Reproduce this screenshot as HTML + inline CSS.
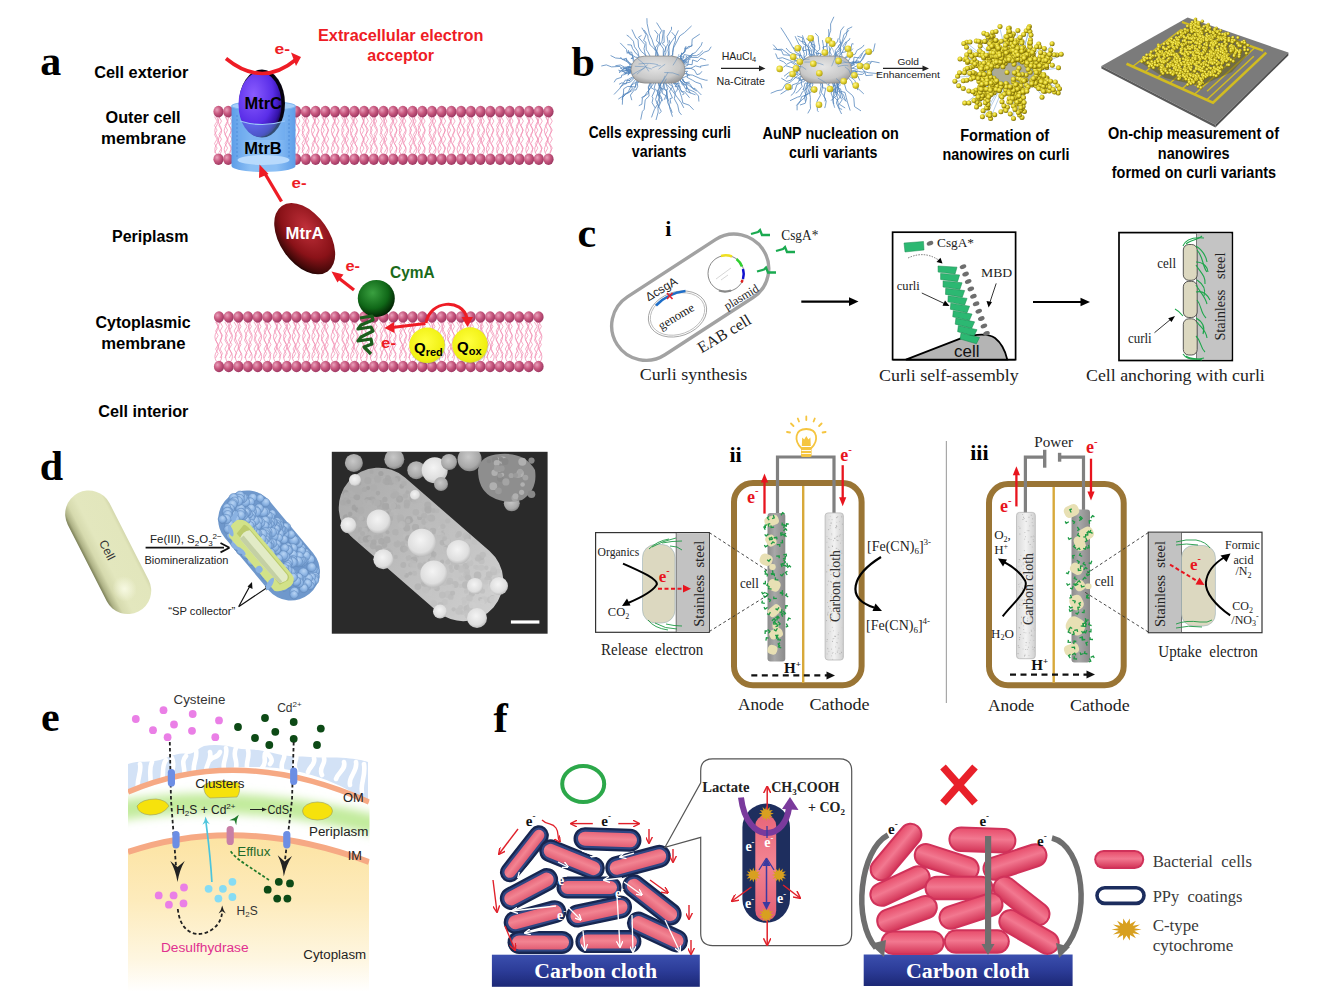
<!DOCTYPE html>
<html><head><meta charset="utf-8"><style>
html,body{margin:0;padding:0;background:#fff;}
svg{display:block;}
text{white-space:pre;}
</style></head><body>
<svg width="1323" height="1007" viewBox="0 0 1323 1007">
<rect width="1323" height="1007" fill="#fff"/>
<defs>
<radialGradient id="head" cx="0.35" cy="0.35" r="0.7">
 <stop offset="0" stop-color="#e9a0bb"/><stop offset="0.5" stop-color="#c8587f"/><stop offset="1" stop-color="#9a3560"/>
</radialGradient>
<radialGradient id="mtrc" cx="0.35" cy="0.35" r="0.75">
 <stop offset="0" stop-color="#8a5cff"/><stop offset="0.6" stop-color="#5a2ee8"/><stop offset="0.85" stop-color="#3412a8"/><stop offset="1" stop-color="#0a0420"/>
</radialGradient>
<radialGradient id="mtra" cx="0.4" cy="0.35" r="0.7">
 <stop offset="0" stop-color="#c0303a"/><stop offset="0.6" stop-color="#8a1218"/><stop offset="0.9" stop-color="#400808"/><stop offset="1" stop-color="#100000"/>
</radialGradient>
<radialGradient id="cyma" cx="0.4" cy="0.35" r="0.7">
 <stop offset="0" stop-color="#3aa040"/><stop offset="0.6" stop-color="#106818"/><stop offset="1" stop-color="#001800"/>
</radialGradient>
<radialGradient id="qball" cx="0.45" cy="0.4" r="0.65">
 <stop offset="0" stop-color="#ffff40"/><stop offset="0.8" stop-color="#f0f010"/><stop offset="1" stop-color="#d8d820"/>
</radialGradient>
<linearGradient id="cyl" x1="0" x2="1" y1="0" y2="0">
 <stop offset="0" stop-color="#5d9de8"/><stop offset="0.3" stop-color="#8cc0f5"/><stop offset="0.7" stop-color="#8cc0f5"/><stop offset="1" stop-color="#5d9de8"/>
</linearGradient>
<marker id="arrR" viewBox="0 0 10 10" refX="5" refY="5" markerWidth="3" markerHeight="3" orient="auto-start-reverse"><path d="M0,0 L10,5 L0,10 z" fill="#ee1c25"/></marker>
</defs>
<path d="M216.4,116.6 q3.2,4.7 0,9.4 q-3.2,4.7 0,9.4 q3.2,4.7 0,9.4 q-3.2,4.7 0,9.4" fill="none" stroke="#f08ab0" stroke-width="0.75"/>
<path d="M220.0,116.6 q-3.2,4.7 0,9.4 q3.2,4.7 0,9.4 q-3.2,4.7 0,9.4 q3.2,4.7 0,9.4" fill="none" stroke="#f08ab0" stroke-width="0.75"/>
<path d="M225.8,116.6 q3.2,4.7 0,9.4 q-3.2,4.7 0,9.4 q3.2,4.7 0,9.4 q-3.2,4.7 0,9.4" fill="none" stroke="#f08ab0" stroke-width="0.75"/>
<path d="M229.4,116.6 q-3.2,4.7 0,9.4 q3.2,4.7 0,9.4 q-3.2,4.7 0,9.4 q3.2,4.7 0,9.4" fill="none" stroke="#f08ab0" stroke-width="0.75"/>
<path d="M236.4,116.6 q3.2,4.7 0,9.4 q-3.2,4.7 0,9.4 q3.2,4.7 0,9.4 q-3.2,4.7 0,9.4" fill="none" stroke="#f08ab0" stroke-width="0.75"/>
<path d="M240.0,116.6 q-3.2,4.7 0,9.4 q3.2,4.7 0,9.4 q-3.2,4.7 0,9.4 q3.2,4.7 0,9.4" fill="none" stroke="#f08ab0" stroke-width="0.75"/>
<path d="M245.1,116.6 q3.2,4.7 0,9.4 q-3.2,4.7 0,9.4 q3.2,4.7 0,9.4 q-3.2,4.7 0,9.4" fill="none" stroke="#f08ab0" stroke-width="0.75"/>
<path d="M248.7,116.6 q-3.2,4.7 0,9.4 q3.2,4.7 0,9.4 q-3.2,4.7 0,9.4 q3.2,4.7 0,9.4" fill="none" stroke="#f08ab0" stroke-width="0.75"/>
<path d="M255.6,116.6 q3.2,4.7 0,9.4 q-3.2,4.7 0,9.4 q3.2,4.7 0,9.4 q-3.2,4.7 0,9.4" fill="none" stroke="#f08ab0" stroke-width="0.75"/>
<path d="M259.2,116.6 q-3.2,4.7 0,9.4 q3.2,4.7 0,9.4 q-3.2,4.7 0,9.4 q3.2,4.7 0,9.4" fill="none" stroke="#f08ab0" stroke-width="0.75"/>
<path d="M265.0,116.6 q3.2,4.7 0,9.4 q-3.2,4.7 0,9.4 q3.2,4.7 0,9.4 q-3.2,4.7 0,9.4" fill="none" stroke="#f08ab0" stroke-width="0.75"/>
<path d="M268.6,116.6 q-3.2,4.7 0,9.4 q3.2,4.7 0,9.4 q-3.2,4.7 0,9.4 q3.2,4.7 0,9.4" fill="none" stroke="#f08ab0" stroke-width="0.75"/>
<path d="M274.2,116.6 q3.2,4.7 0,9.4 q-3.2,4.7 0,9.4 q3.2,4.7 0,9.4 q-3.2,4.7 0,9.4" fill="none" stroke="#f08ab0" stroke-width="0.75"/>
<path d="M277.8,116.6 q-3.2,4.7 0,9.4 q3.2,4.7 0,9.4 q-3.2,4.7 0,9.4 q3.2,4.7 0,9.4" fill="none" stroke="#f08ab0" stroke-width="0.75"/>
<path d="M284.7,116.6 q3.2,4.7 0,9.4 q-3.2,4.7 0,9.4 q3.2,4.7 0,9.4 q-3.2,4.7 0,9.4" fill="none" stroke="#f08ab0" stroke-width="0.75"/>
<path d="M288.3,116.6 q-3.2,4.7 0,9.4 q3.2,4.7 0,9.4 q-3.2,4.7 0,9.4 q3.2,4.7 0,9.4" fill="none" stroke="#f08ab0" stroke-width="0.75"/>
<path d="M293.6,116.6 q3.2,4.7 0,9.4 q-3.2,4.7 0,9.4 q3.2,4.7 0,9.4 q-3.2,4.7 0,9.4" fill="none" stroke="#f08ab0" stroke-width="0.75"/>
<path d="M297.2,116.6 q-3.2,4.7 0,9.4 q3.2,4.7 0,9.4 q-3.2,4.7 0,9.4 q3.2,4.7 0,9.4" fill="none" stroke="#f08ab0" stroke-width="0.75"/>
<path d="M303.9,116.6 q3.2,4.7 0,9.4 q-3.2,4.7 0,9.4 q3.2,4.7 0,9.4 q-3.2,4.7 0,9.4" fill="none" stroke="#f08ab0" stroke-width="0.75"/>
<path d="M307.5,116.6 q-3.2,4.7 0,9.4 q3.2,4.7 0,9.4 q-3.2,4.7 0,9.4 q3.2,4.7 0,9.4" fill="none" stroke="#f08ab0" stroke-width="0.75"/>
<path d="M313.1,116.6 q3.2,4.7 0,9.4 q-3.2,4.7 0,9.4 q3.2,4.7 0,9.4 q-3.2,4.7 0,9.4" fill="none" stroke="#f08ab0" stroke-width="0.75"/>
<path d="M316.7,116.6 q-3.2,4.7 0,9.4 q3.2,4.7 0,9.4 q-3.2,4.7 0,9.4 q3.2,4.7 0,9.4" fill="none" stroke="#f08ab0" stroke-width="0.75"/>
<path d="M322.8,116.6 q3.2,4.7 0,9.4 q-3.2,4.7 0,9.4 q3.2,4.7 0,9.4 q-3.2,4.7 0,9.4" fill="none" stroke="#f08ab0" stroke-width="0.75"/>
<path d="M326.4,116.6 q-3.2,4.7 0,9.4 q3.2,4.7 0,9.4 q-3.2,4.7 0,9.4 q3.2,4.7 0,9.4" fill="none" stroke="#f08ab0" stroke-width="0.75"/>
<path d="M333.0,116.6 q3.2,4.7 0,9.4 q-3.2,4.7 0,9.4 q3.2,4.7 0,9.4 q-3.2,4.7 0,9.4" fill="none" stroke="#f08ab0" stroke-width="0.75"/>
<path d="M336.6,116.6 q-3.2,4.7 0,9.4 q3.2,4.7 0,9.4 q-3.2,4.7 0,9.4 q3.2,4.7 0,9.4" fill="none" stroke="#f08ab0" stroke-width="0.75"/>
<path d="M343.4,116.6 q3.2,4.7 0,9.4 q-3.2,4.7 0,9.4 q3.2,4.7 0,9.4 q-3.2,4.7 0,9.4" fill="none" stroke="#f08ab0" stroke-width="0.75"/>
<path d="M347.0,116.6 q-3.2,4.7 0,9.4 q3.2,4.7 0,9.4 q-3.2,4.7 0,9.4 q3.2,4.7 0,9.4" fill="none" stroke="#f08ab0" stroke-width="0.75"/>
<path d="M352.0,116.6 q3.2,4.7 0,9.4 q-3.2,4.7 0,9.4 q3.2,4.7 0,9.4 q-3.2,4.7 0,9.4" fill="none" stroke="#f08ab0" stroke-width="0.75"/>
<path d="M355.6,116.6 q-3.2,4.7 0,9.4 q3.2,4.7 0,9.4 q-3.2,4.7 0,9.4 q3.2,4.7 0,9.4" fill="none" stroke="#f08ab0" stroke-width="0.75"/>
<path d="M361.8,116.6 q3.2,4.7 0,9.4 q-3.2,4.7 0,9.4 q3.2,4.7 0,9.4 q-3.2,4.7 0,9.4" fill="none" stroke="#f08ab0" stroke-width="0.75"/>
<path d="M365.4,116.6 q-3.2,4.7 0,9.4 q3.2,4.7 0,9.4 q-3.2,4.7 0,9.4 q3.2,4.7 0,9.4" fill="none" stroke="#f08ab0" stroke-width="0.75"/>
<path d="M372.2,116.6 q3.2,4.7 0,9.4 q-3.2,4.7 0,9.4 q3.2,4.7 0,9.4 q-3.2,4.7 0,9.4" fill="none" stroke="#f08ab0" stroke-width="0.75"/>
<path d="M375.8,116.6 q-3.2,4.7 0,9.4 q3.2,4.7 0,9.4 q-3.2,4.7 0,9.4 q3.2,4.7 0,9.4" fill="none" stroke="#f08ab0" stroke-width="0.75"/>
<path d="M382.4,116.6 q3.2,4.7 0,9.4 q-3.2,4.7 0,9.4 q3.2,4.7 0,9.4 q-3.2,4.7 0,9.4" fill="none" stroke="#f08ab0" stroke-width="0.75"/>
<path d="M386.0,116.6 q-3.2,4.7 0,9.4 q3.2,4.7 0,9.4 q-3.2,4.7 0,9.4 q3.2,4.7 0,9.4" fill="none" stroke="#f08ab0" stroke-width="0.75"/>
<path d="M391.5,116.6 q3.2,4.7 0,9.4 q-3.2,4.7 0,9.4 q3.2,4.7 0,9.4 q-3.2,4.7 0,9.4" fill="none" stroke="#f08ab0" stroke-width="0.75"/>
<path d="M395.1,116.6 q-3.2,4.7 0,9.4 q3.2,4.7 0,9.4 q-3.2,4.7 0,9.4 q3.2,4.7 0,9.4" fill="none" stroke="#f08ab0" stroke-width="0.75"/>
<path d="M400.9,116.6 q3.2,4.7 0,9.4 q-3.2,4.7 0,9.4 q3.2,4.7 0,9.4 q-3.2,4.7 0,9.4" fill="none" stroke="#f08ab0" stroke-width="0.75"/>
<path d="M404.5,116.6 q-3.2,4.7 0,9.4 q3.2,4.7 0,9.4 q-3.2,4.7 0,9.4 q3.2,4.7 0,9.4" fill="none" stroke="#f08ab0" stroke-width="0.75"/>
<path d="M411.6,116.6 q3.2,4.7 0,9.4 q-3.2,4.7 0,9.4 q3.2,4.7 0,9.4 q-3.2,4.7 0,9.4" fill="none" stroke="#f08ab0" stroke-width="0.75"/>
<path d="M415.2,116.6 q-3.2,4.7 0,9.4 q3.2,4.7 0,9.4 q-3.2,4.7 0,9.4 q3.2,4.7 0,9.4" fill="none" stroke="#f08ab0" stroke-width="0.75"/>
<path d="M419.8,116.6 q3.2,4.7 0,9.4 q-3.2,4.7 0,9.4 q3.2,4.7 0,9.4 q-3.2,4.7 0,9.4" fill="none" stroke="#f08ab0" stroke-width="0.75"/>
<path d="M423.4,116.6 q-3.2,4.7 0,9.4 q3.2,4.7 0,9.4 q-3.2,4.7 0,9.4 q3.2,4.7 0,9.4" fill="none" stroke="#f08ab0" stroke-width="0.75"/>
<path d="M430.8,116.6 q3.2,4.7 0,9.4 q-3.2,4.7 0,9.4 q3.2,4.7 0,9.4 q-3.2,4.7 0,9.4" fill="none" stroke="#f08ab0" stroke-width="0.75"/>
<path d="M434.4,116.6 q-3.2,4.7 0,9.4 q3.2,4.7 0,9.4 q-3.2,4.7 0,9.4 q3.2,4.7 0,9.4" fill="none" stroke="#f08ab0" stroke-width="0.75"/>
<path d="M439.6,116.6 q3.2,4.7 0,9.4 q-3.2,4.7 0,9.4 q3.2,4.7 0,9.4 q-3.2,4.7 0,9.4" fill="none" stroke="#f08ab0" stroke-width="0.75"/>
<path d="M443.2,116.6 q-3.2,4.7 0,9.4 q3.2,4.7 0,9.4 q-3.2,4.7 0,9.4 q3.2,4.7 0,9.4" fill="none" stroke="#f08ab0" stroke-width="0.75"/>
<path d="M449.1,116.6 q3.2,4.7 0,9.4 q-3.2,4.7 0,9.4 q3.2,4.7 0,9.4 q-3.2,4.7 0,9.4" fill="none" stroke="#f08ab0" stroke-width="0.75"/>
<path d="M452.7,116.6 q-3.2,4.7 0,9.4 q3.2,4.7 0,9.4 q-3.2,4.7 0,9.4 q3.2,4.7 0,9.4" fill="none" stroke="#f08ab0" stroke-width="0.75"/>
<path d="M458.7,116.6 q3.2,4.7 0,9.4 q-3.2,4.7 0,9.4 q3.2,4.7 0,9.4 q-3.2,4.7 0,9.4" fill="none" stroke="#f08ab0" stroke-width="0.75"/>
<path d="M462.3,116.6 q-3.2,4.7 0,9.4 q3.2,4.7 0,9.4 q-3.2,4.7 0,9.4 q3.2,4.7 0,9.4" fill="none" stroke="#f08ab0" stroke-width="0.75"/>
<path d="M468.7,116.6 q3.2,4.7 0,9.4 q-3.2,4.7 0,9.4 q3.2,4.7 0,9.4 q-3.2,4.7 0,9.4" fill="none" stroke="#f08ab0" stroke-width="0.75"/>
<path d="M472.3,116.6 q-3.2,4.7 0,9.4 q3.2,4.7 0,9.4 q-3.2,4.7 0,9.4 q3.2,4.7 0,9.4" fill="none" stroke="#f08ab0" stroke-width="0.75"/>
<path d="M479.3,116.6 q3.2,4.7 0,9.4 q-3.2,4.7 0,9.4 q3.2,4.7 0,9.4 q-3.2,4.7 0,9.4" fill="none" stroke="#f08ab0" stroke-width="0.75"/>
<path d="M482.9,116.6 q-3.2,4.7 0,9.4 q3.2,4.7 0,9.4 q-3.2,4.7 0,9.4 q3.2,4.7 0,9.4" fill="none" stroke="#f08ab0" stroke-width="0.75"/>
<path d="M488.0,116.6 q3.2,4.7 0,9.4 q-3.2,4.7 0,9.4 q3.2,4.7 0,9.4 q-3.2,4.7 0,9.4" fill="none" stroke="#f08ab0" stroke-width="0.75"/>
<path d="M491.6,116.6 q-3.2,4.7 0,9.4 q3.2,4.7 0,9.4 q-3.2,4.7 0,9.4 q3.2,4.7 0,9.4" fill="none" stroke="#f08ab0" stroke-width="0.75"/>
<path d="M498.3,116.6 q3.2,4.7 0,9.4 q-3.2,4.7 0,9.4 q3.2,4.7 0,9.4 q-3.2,4.7 0,9.4" fill="none" stroke="#f08ab0" stroke-width="0.75"/>
<path d="M501.9,116.6 q-3.2,4.7 0,9.4 q3.2,4.7 0,9.4 q-3.2,4.7 0,9.4 q3.2,4.7 0,9.4" fill="none" stroke="#f08ab0" stroke-width="0.75"/>
<path d="M508.1,116.6 q3.2,4.7 0,9.4 q-3.2,4.7 0,9.4 q3.2,4.7 0,9.4 q-3.2,4.7 0,9.4" fill="none" stroke="#f08ab0" stroke-width="0.75"/>
<path d="M511.7,116.6 q-3.2,4.7 0,9.4 q3.2,4.7 0,9.4 q-3.2,4.7 0,9.4 q3.2,4.7 0,9.4" fill="none" stroke="#f08ab0" stroke-width="0.75"/>
<path d="M517.4,116.6 q3.2,4.7 0,9.4 q-3.2,4.7 0,9.4 q3.2,4.7 0,9.4 q-3.2,4.7 0,9.4" fill="none" stroke="#f08ab0" stroke-width="0.75"/>
<path d="M521.0,116.6 q-3.2,4.7 0,9.4 q3.2,4.7 0,9.4 q-3.2,4.7 0,9.4 q3.2,4.7 0,9.4" fill="none" stroke="#f08ab0" stroke-width="0.75"/>
<path d="M527.4,116.6 q3.2,4.7 0,9.4 q-3.2,4.7 0,9.4 q3.2,4.7 0,9.4 q-3.2,4.7 0,9.4" fill="none" stroke="#f08ab0" stroke-width="0.75"/>
<path d="M531.0,116.6 q-3.2,4.7 0,9.4 q3.2,4.7 0,9.4 q-3.2,4.7 0,9.4 q3.2,4.7 0,9.4" fill="none" stroke="#f08ab0" stroke-width="0.75"/>
<path d="M536.3,116.6 q3.2,4.7 0,9.4 q-3.2,4.7 0,9.4 q3.2,4.7 0,9.4 q-3.2,4.7 0,9.4" fill="none" stroke="#f08ab0" stroke-width="0.75"/>
<path d="M539.9,116.6 q-3.2,4.7 0,9.4 q3.2,4.7 0,9.4 q-3.2,4.7 0,9.4 q3.2,4.7 0,9.4" fill="none" stroke="#f08ab0" stroke-width="0.75"/>
<path d="M546.0,116.6 q3.2,4.7 0,9.4 q-3.2,4.7 0,9.4 q3.2,4.7 0,9.4 q-3.2,4.7 0,9.4" fill="none" stroke="#f08ab0" stroke-width="0.75"/>
<path d="M549.6,116.6 q-3.2,4.7 0,9.4 q3.2,4.7 0,9.4 q-3.2,4.7 0,9.4 q3.2,4.7 0,9.4" fill="none" stroke="#f08ab0" stroke-width="0.75"/>
<polyline points="214.5,116.6 217.1,121.1 214.5,125.6 217.1,130.1 214.5,134.6 217.1,139.1 214.5,143.6 217.1,148.1 214.5,152.6" fill="none" stroke="#f28cb0" stroke-width="0.7"/>
<polyline points="218.9,116.6 221.5,121.1 218.9,125.6 221.5,130.1 218.9,134.6 221.5,139.1 218.9,143.6 221.5,148.1 218.9,152.6" fill="none" stroke="#f28cb0" stroke-width="0.7"/>
<polyline points="225.0,116.6 227.6,121.1 225.0,125.6 227.6,130.1 225.0,134.6 227.6,139.1 225.0,143.6 227.6,148.1 225.0,152.6" fill="none" stroke="#f28cb0" stroke-width="0.7"/>
<polyline points="229.4,116.6 232.0,121.1 229.4,125.6 232.0,130.1 229.4,134.6 232.0,139.1 229.4,143.6 232.0,148.1 229.4,152.6" fill="none" stroke="#f28cb0" stroke-width="0.7"/>
<polyline points="234.3,116.6 236.9,121.1 234.3,125.6 236.9,130.1 234.3,134.6 236.9,139.1 234.3,143.6 236.9,148.1 234.3,152.6" fill="none" stroke="#f28cb0" stroke-width="0.7"/>
<polyline points="238.7,116.6 241.3,121.1 238.7,125.6 241.3,130.1 238.7,134.6 241.3,139.1 238.7,143.6 241.3,148.1 238.7,152.6" fill="none" stroke="#f28cb0" stroke-width="0.7"/>
<polyline points="243.8,116.6 246.4,121.1 243.8,125.6 246.4,130.1 243.8,134.6 246.4,139.1 243.8,143.6 246.4,148.1 243.8,152.6" fill="none" stroke="#f28cb0" stroke-width="0.7"/>
<polyline points="248.2,116.6 250.8,121.1 248.2,125.6 250.8,130.1 248.2,134.6 250.8,139.1 248.2,143.6 250.8,148.1 248.2,152.6" fill="none" stroke="#f28cb0" stroke-width="0.7"/>
<polyline points="254.0,116.6 256.6,121.1 254.0,125.6 256.6,130.1 254.0,134.6 256.6,139.1 254.0,143.6 256.6,148.1 254.0,152.6" fill="none" stroke="#f28cb0" stroke-width="0.7"/>
<polyline points="258.4,116.6 261.0,121.1 258.4,125.6 261.0,130.1 258.4,134.6 261.0,139.1 258.4,143.6 261.0,148.1 258.4,152.6" fill="none" stroke="#f28cb0" stroke-width="0.7"/>
<polyline points="263.5,116.6 266.1,121.1 263.5,125.6 266.1,130.1 263.5,134.6 266.1,139.1 263.5,143.6 266.1,148.1 263.5,152.6" fill="none" stroke="#f28cb0" stroke-width="0.7"/>
<polyline points="267.9,116.6 270.5,121.1 267.9,125.6 270.5,130.1 267.9,134.6 270.5,139.1 267.9,143.6 270.5,148.1 267.9,152.6" fill="none" stroke="#f28cb0" stroke-width="0.7"/>
<polyline points="272.9,116.6 275.5,121.1 272.9,125.6 275.5,130.1 272.9,134.6 275.5,139.1 272.9,143.6 275.5,148.1 272.9,152.6" fill="none" stroke="#f28cb0" stroke-width="0.7"/>
<polyline points="277.3,116.6 279.9,121.1 277.3,125.6 279.9,130.1 277.3,134.6 279.9,139.1 277.3,143.6 279.9,148.1 277.3,152.6" fill="none" stroke="#f28cb0" stroke-width="0.7"/>
<polyline points="283.4,116.6 286.0,121.1 283.4,125.6 286.0,130.1 283.4,134.6 286.0,139.1 283.4,143.6 286.0,148.1 283.4,152.6" fill="none" stroke="#f28cb0" stroke-width="0.7"/>
<polyline points="287.8,116.6 290.4,121.1 287.8,125.6 290.4,130.1 287.8,134.6 290.4,139.1 287.8,143.6 290.4,148.1 287.8,152.6" fill="none" stroke="#f28cb0" stroke-width="0.7"/>
<polyline points="293.0,116.6 295.6,121.1 293.0,125.6 295.6,130.1 293.0,134.6 295.6,139.1 293.0,143.6 295.6,148.1 293.0,152.6" fill="none" stroke="#f28cb0" stroke-width="0.7"/>
<polyline points="297.4,116.6 300.0,121.1 297.4,125.6 300.0,130.1 297.4,134.6 300.0,139.1 297.4,143.6 300.0,148.1 297.4,152.6" fill="none" stroke="#f28cb0" stroke-width="0.7"/>
<polyline points="301.9,116.6 304.5,121.1 301.9,125.6 304.5,130.1 301.9,134.6 304.5,139.1 301.9,143.6 304.5,148.1 301.9,152.6" fill="none" stroke="#f28cb0" stroke-width="0.7"/>
<polyline points="306.3,116.6 308.9,121.1 306.3,125.6 308.9,130.1 306.3,134.6 308.9,139.1 306.3,143.6 308.9,148.1 306.3,152.6" fill="none" stroke="#f28cb0" stroke-width="0.7"/>
<polyline points="312.2,116.6 314.8,121.1 312.2,125.6 314.8,130.1 312.2,134.6 314.8,139.1 312.2,143.6 314.8,148.1 312.2,152.6" fill="none" stroke="#f28cb0" stroke-width="0.7"/>
<polyline points="316.6,116.6 319.2,121.1 316.6,125.6 319.2,130.1 316.6,134.6 319.2,139.1 316.6,143.6 319.2,148.1 316.6,152.6" fill="none" stroke="#f28cb0" stroke-width="0.7"/>
<polyline points="321.8,116.6 324.4,121.1 321.8,125.6 324.4,130.1 321.8,134.6 324.4,139.1 321.8,143.6 324.4,148.1 321.8,152.6" fill="none" stroke="#f28cb0" stroke-width="0.7"/>
<polyline points="326.2,116.6 328.8,121.1 326.2,125.6 328.8,130.1 326.2,134.6 328.8,139.1 326.2,143.6 328.8,148.1 326.2,152.6" fill="none" stroke="#f28cb0" stroke-width="0.7"/>
<polyline points="332.1,116.6 334.7,121.1 332.1,125.6 334.7,130.1 332.1,134.6 334.7,139.1 332.1,143.6 334.7,148.1 332.1,152.6" fill="none" stroke="#f28cb0" stroke-width="0.7"/>
<polyline points="336.5,116.6 339.1,121.1 336.5,125.6 339.1,130.1 336.5,134.6 339.1,139.1 336.5,143.6 339.1,148.1 336.5,152.6" fill="none" stroke="#f28cb0" stroke-width="0.7"/>
<polyline points="341.5,116.6 344.1,121.1 341.5,125.6 344.1,130.1 341.5,134.6 344.1,139.1 341.5,143.6 344.1,148.1 341.5,152.6" fill="none" stroke="#f28cb0" stroke-width="0.7"/>
<polyline points="345.9,116.6 348.5,121.1 345.9,125.6 348.5,130.1 345.9,134.6 348.5,139.1 345.9,143.6 348.5,148.1 345.9,152.6" fill="none" stroke="#f28cb0" stroke-width="0.7"/>
<polyline points="350.5,116.6 353.1,121.1 350.5,125.6 353.1,130.1 350.5,134.6 353.1,139.1 350.5,143.6 353.1,148.1 350.5,152.6" fill="none" stroke="#f28cb0" stroke-width="0.7"/>
<polyline points="354.9,116.6 357.5,121.1 354.9,125.6 357.5,130.1 354.9,134.6 357.5,139.1 354.9,143.6 357.5,148.1 354.9,152.6" fill="none" stroke="#f28cb0" stroke-width="0.7"/>
<polyline points="361.4,116.6 364.0,121.1 361.4,125.6 364.0,130.1 361.4,134.6 364.0,139.1 361.4,143.6 364.0,148.1 361.4,152.6" fill="none" stroke="#f28cb0" stroke-width="0.7"/>
<polyline points="365.8,116.6 368.4,121.1 365.8,125.6 368.4,130.1 365.8,134.6 368.4,139.1 365.8,143.6 368.4,148.1 365.8,152.6" fill="none" stroke="#f28cb0" stroke-width="0.7"/>
<polyline points="369.7,116.6 372.3,121.1 369.7,125.6 372.3,130.1 369.7,134.6 372.3,139.1 369.7,143.6 372.3,148.1 369.7,152.6" fill="none" stroke="#f28cb0" stroke-width="0.7"/>
<polyline points="374.1,116.6 376.7,121.1 374.1,125.6 376.7,130.1 374.1,134.6 376.7,139.1 374.1,143.6 376.7,148.1 374.1,152.6" fill="none" stroke="#f28cb0" stroke-width="0.7"/>
<polyline points="379.9,116.6 382.5,121.1 379.9,125.6 382.5,130.1 379.9,134.6 382.5,139.1 379.9,143.6 382.5,148.1 379.9,152.6" fill="none" stroke="#f28cb0" stroke-width="0.7"/>
<polyline points="384.3,116.6 386.9,121.1 384.3,125.6 386.9,130.1 384.3,134.6 386.9,139.1 384.3,143.6 386.9,148.1 384.3,152.6" fill="none" stroke="#f28cb0" stroke-width="0.7"/>
<polyline points="390.1,116.6 392.7,121.1 390.1,125.6 392.7,130.1 390.1,134.6 392.7,139.1 390.1,143.6 392.7,148.1 390.1,152.6" fill="none" stroke="#f28cb0" stroke-width="0.7"/>
<polyline points="394.5,116.6 397.1,121.1 394.5,125.6 397.1,130.1 394.5,134.6 397.1,139.1 394.5,143.6 397.1,148.1 394.5,152.6" fill="none" stroke="#f28cb0" stroke-width="0.7"/>
<polyline points="398.9,116.6 401.5,121.1 398.9,125.6 401.5,130.1 398.9,134.6 401.5,139.1 398.9,143.6 401.5,148.1 398.9,152.6" fill="none" stroke="#f28cb0" stroke-width="0.7"/>
<polyline points="403.3,116.6 405.9,121.1 403.3,125.6 405.9,130.1 403.3,134.6 405.9,139.1 403.3,143.6 405.9,148.1 403.3,152.6" fill="none" stroke="#f28cb0" stroke-width="0.7"/>
<polyline points="409.1,116.6 411.7,121.1 409.1,125.6 411.7,130.1 409.1,134.6 411.7,139.1 409.1,143.6 411.7,148.1 409.1,152.6" fill="none" stroke="#f28cb0" stroke-width="0.7"/>
<polyline points="413.5,116.6 416.1,121.1 413.5,125.6 416.1,130.1 413.5,134.6 416.1,139.1 413.5,143.6 416.1,148.1 413.5,152.6" fill="none" stroke="#f28cb0" stroke-width="0.7"/>
<polyline points="418.1,116.6 420.7,121.1 418.1,125.6 420.7,130.1 418.1,134.6 420.7,139.1 418.1,143.6 420.7,148.1 418.1,152.6" fill="none" stroke="#f28cb0" stroke-width="0.7"/>
<polyline points="422.5,116.6 425.1,121.1 422.5,125.6 425.1,130.1 422.5,134.6 425.1,139.1 422.5,143.6 425.1,148.1 422.5,152.6" fill="none" stroke="#f28cb0" stroke-width="0.7"/>
<polyline points="428.8,116.6 431.4,121.1 428.8,125.6 431.4,130.1 428.8,134.6 431.4,139.1 428.8,143.6 431.4,148.1 428.8,152.6" fill="none" stroke="#f28cb0" stroke-width="0.7"/>
<polyline points="433.2,116.6 435.8,121.1 433.2,125.6 435.8,130.1 433.2,134.6 435.8,139.1 433.2,143.6 435.8,148.1 433.2,152.6" fill="none" stroke="#f28cb0" stroke-width="0.7"/>
<polyline points="438.7,116.6 441.3,121.1 438.7,125.6 441.3,130.1 438.7,134.6 441.3,139.1 438.7,143.6 441.3,148.1 438.7,152.6" fill="none" stroke="#f28cb0" stroke-width="0.7"/>
<polyline points="443.1,116.6 445.7,121.1 443.1,125.6 445.7,130.1 443.1,134.6 445.7,139.1 443.1,143.6 445.7,148.1 443.1,152.6" fill="none" stroke="#f28cb0" stroke-width="0.7"/>
<polyline points="448.1,116.6 450.7,121.1 448.1,125.6 450.7,130.1 448.1,134.6 450.7,139.1 448.1,143.6 450.7,148.1 448.1,152.6" fill="none" stroke="#f28cb0" stroke-width="0.7"/>
<polyline points="452.5,116.6 455.1,121.1 452.5,125.6 455.1,130.1 452.5,134.6 455.1,139.1 452.5,143.6 455.1,148.1 452.5,152.6" fill="none" stroke="#f28cb0" stroke-width="0.7"/>
<polyline points="458.2,116.6 460.8,121.1 458.2,125.6 460.8,130.1 458.2,134.6 460.8,139.1 458.2,143.6 460.8,148.1 458.2,152.6" fill="none" stroke="#f28cb0" stroke-width="0.7"/>
<polyline points="462.6,116.6 465.2,121.1 462.6,125.6 465.2,130.1 462.6,134.6 465.2,139.1 462.6,143.6 465.2,148.1 462.6,152.6" fill="none" stroke="#f28cb0" stroke-width="0.7"/>
<polyline points="467.1,116.6 469.7,121.1 467.1,125.6 469.7,130.1 467.1,134.6 469.7,139.1 467.1,143.6 469.7,148.1 467.1,152.6" fill="none" stroke="#f28cb0" stroke-width="0.7"/>
<polyline points="471.5,116.6 474.1,121.1 471.5,125.6 474.1,130.1 471.5,134.6 474.1,139.1 471.5,143.6 474.1,148.1 471.5,152.6" fill="none" stroke="#f28cb0" stroke-width="0.7"/>
<polyline points="477.4,116.6 480.0,121.1 477.4,125.6 480.0,130.1 477.4,134.6 480.0,139.1 477.4,143.6 480.0,148.1 477.4,152.6" fill="none" stroke="#f28cb0" stroke-width="0.7"/>
<polyline points="481.8,116.6 484.4,121.1 481.8,125.6 484.4,130.1 481.8,134.6 484.4,139.1 481.8,143.6 484.4,148.1 481.8,152.6" fill="none" stroke="#f28cb0" stroke-width="0.7"/>
<polyline points="486.9,116.6 489.5,121.1 486.9,125.6 489.5,130.1 486.9,134.6 489.5,139.1 486.9,143.6 489.5,148.1 486.9,152.6" fill="none" stroke="#f28cb0" stroke-width="0.7"/>
<polyline points="491.3,116.6 493.9,121.1 491.3,125.6 493.9,130.1 491.3,134.6 493.9,139.1 491.3,143.6 493.9,148.1 491.3,152.6" fill="none" stroke="#f28cb0" stroke-width="0.7"/>
<polyline points="496.6,116.6 499.2,121.1 496.6,125.6 499.2,130.1 496.6,134.6 499.2,139.1 496.6,143.6 499.2,148.1 496.6,152.6" fill="none" stroke="#f28cb0" stroke-width="0.7"/>
<polyline points="501.0,116.6 503.6,121.1 501.0,125.6 503.6,130.1 501.0,134.6 503.6,139.1 501.0,143.6 503.6,148.1 501.0,152.6" fill="none" stroke="#f28cb0" stroke-width="0.7"/>
<polyline points="506.1,116.6 508.7,121.1 506.1,125.6 508.7,130.1 506.1,134.6 508.7,139.1 506.1,143.6 508.7,148.1 506.1,152.6" fill="none" stroke="#f28cb0" stroke-width="0.7"/>
<polyline points="510.5,116.6 513.1,121.1 510.5,125.6 513.1,130.1 510.5,134.6 513.1,139.1 510.5,143.6 513.1,148.1 510.5,152.6" fill="none" stroke="#f28cb0" stroke-width="0.7"/>
<polyline points="516.4,116.6 519.0,121.1 516.4,125.6 519.0,130.1 516.4,134.6 519.0,139.1 516.4,143.6 519.0,148.1 516.4,152.6" fill="none" stroke="#f28cb0" stroke-width="0.7"/>
<polyline points="520.8,116.6 523.4,121.1 520.8,125.6 523.4,130.1 520.8,134.6 523.4,139.1 520.8,143.6 523.4,148.1 520.8,152.6" fill="none" stroke="#f28cb0" stroke-width="0.7"/>
<polyline points="526.3,116.6 528.9,121.1 526.3,125.6 528.9,130.1 526.3,134.6 528.9,139.1 526.3,143.6 528.9,148.1 526.3,152.6" fill="none" stroke="#f28cb0" stroke-width="0.7"/>
<polyline points="530.7,116.6 533.3,121.1 530.7,125.6 533.3,130.1 530.7,134.6 533.3,139.1 530.7,143.6 533.3,148.1 530.7,152.6" fill="none" stroke="#f28cb0" stroke-width="0.7"/>
<polyline points="535.3,116.6 537.9,121.1 535.3,125.6 537.9,130.1 535.3,134.6 537.9,139.1 535.3,143.6 537.9,148.1 535.3,152.6" fill="none" stroke="#f28cb0" stroke-width="0.7"/>
<polyline points="539.7,116.6 542.3,121.1 539.7,125.6 542.3,130.1 539.7,134.6 542.3,139.1 539.7,143.6 542.3,148.1 539.7,152.6" fill="none" stroke="#f28cb0" stroke-width="0.7"/>
<polyline points="545.3,116.6 547.9,121.1 545.3,125.6 547.9,130.1 545.3,134.6 547.9,139.1 545.3,143.6 547.9,148.1 545.3,152.6" fill="none" stroke="#f28cb0" stroke-width="0.7"/>
<polyline points="549.7,116.6 552.3,121.1 549.7,125.6 552.3,130.1 549.7,134.6 552.3,139.1 549.7,143.6 552.3,148.1 549.7,152.6" fill="none" stroke="#f28cb0" stroke-width="0.7"/>
<ellipse cx="218.5" cy="111.6" rx="5.1" ry="5.8" fill="url(#head)"/>
<ellipse cx="218.5" cy="159.2" rx="5.1" ry="5.8" fill="url(#head)"/>
<ellipse cx="228.2" cy="111.6" rx="5.1" ry="5.8" fill="url(#head)"/>
<ellipse cx="228.2" cy="159.2" rx="5.1" ry="5.8" fill="url(#head)"/>
<ellipse cx="237.9" cy="111.6" rx="5.1" ry="5.8" fill="url(#head)"/>
<ellipse cx="237.9" cy="159.2" rx="5.1" ry="5.8" fill="url(#head)"/>
<ellipse cx="247.6" cy="111.6" rx="5.1" ry="5.8" fill="url(#head)"/>
<ellipse cx="247.6" cy="159.2" rx="5.1" ry="5.8" fill="url(#head)"/>
<ellipse cx="257.3" cy="111.6" rx="5.1" ry="5.8" fill="url(#head)"/>
<ellipse cx="257.3" cy="159.2" rx="5.1" ry="5.8" fill="url(#head)"/>
<ellipse cx="267.0" cy="111.6" rx="5.1" ry="5.8" fill="url(#head)"/>
<ellipse cx="267.0" cy="159.2" rx="5.1" ry="5.8" fill="url(#head)"/>
<ellipse cx="276.7" cy="111.6" rx="5.1" ry="5.8" fill="url(#head)"/>
<ellipse cx="276.7" cy="159.2" rx="5.1" ry="5.8" fill="url(#head)"/>
<ellipse cx="286.4" cy="111.6" rx="5.1" ry="5.8" fill="url(#head)"/>
<ellipse cx="286.4" cy="159.2" rx="5.1" ry="5.8" fill="url(#head)"/>
<ellipse cx="296.1" cy="111.6" rx="5.1" ry="5.8" fill="url(#head)"/>
<ellipse cx="296.1" cy="159.2" rx="5.1" ry="5.8" fill="url(#head)"/>
<ellipse cx="305.9" cy="111.6" rx="5.1" ry="5.8" fill="url(#head)"/>
<ellipse cx="305.9" cy="159.2" rx="5.1" ry="5.8" fill="url(#head)"/>
<ellipse cx="315.6" cy="111.6" rx="5.1" ry="5.8" fill="url(#head)"/>
<ellipse cx="315.6" cy="159.2" rx="5.1" ry="5.8" fill="url(#head)"/>
<ellipse cx="325.3" cy="111.6" rx="5.1" ry="5.8" fill="url(#head)"/>
<ellipse cx="325.3" cy="159.2" rx="5.1" ry="5.8" fill="url(#head)"/>
<ellipse cx="335.0" cy="111.6" rx="5.1" ry="5.8" fill="url(#head)"/>
<ellipse cx="335.0" cy="159.2" rx="5.1" ry="5.8" fill="url(#head)"/>
<ellipse cx="344.7" cy="111.6" rx="5.1" ry="5.8" fill="url(#head)"/>
<ellipse cx="344.7" cy="159.2" rx="5.1" ry="5.8" fill="url(#head)"/>
<ellipse cx="354.4" cy="111.6" rx="5.1" ry="5.8" fill="url(#head)"/>
<ellipse cx="354.4" cy="159.2" rx="5.1" ry="5.8" fill="url(#head)"/>
<ellipse cx="364.1" cy="111.6" rx="5.1" ry="5.8" fill="url(#head)"/>
<ellipse cx="364.1" cy="159.2" rx="5.1" ry="5.8" fill="url(#head)"/>
<ellipse cx="373.8" cy="111.6" rx="5.1" ry="5.8" fill="url(#head)"/>
<ellipse cx="373.8" cy="159.2" rx="5.1" ry="5.8" fill="url(#head)"/>
<ellipse cx="383.5" cy="111.6" rx="5.1" ry="5.8" fill="url(#head)"/>
<ellipse cx="383.5" cy="159.2" rx="5.1" ry="5.8" fill="url(#head)"/>
<ellipse cx="393.2" cy="111.6" rx="5.1" ry="5.8" fill="url(#head)"/>
<ellipse cx="393.2" cy="159.2" rx="5.1" ry="5.8" fill="url(#head)"/>
<ellipse cx="402.9" cy="111.6" rx="5.1" ry="5.8" fill="url(#head)"/>
<ellipse cx="402.9" cy="159.2" rx="5.1" ry="5.8" fill="url(#head)"/>
<ellipse cx="412.6" cy="111.6" rx="5.1" ry="5.8" fill="url(#head)"/>
<ellipse cx="412.6" cy="159.2" rx="5.1" ry="5.8" fill="url(#head)"/>
<ellipse cx="422.3" cy="111.6" rx="5.1" ry="5.8" fill="url(#head)"/>
<ellipse cx="422.3" cy="159.2" rx="5.1" ry="5.8" fill="url(#head)"/>
<ellipse cx="432.0" cy="111.6" rx="5.1" ry="5.8" fill="url(#head)"/>
<ellipse cx="432.0" cy="159.2" rx="5.1" ry="5.8" fill="url(#head)"/>
<ellipse cx="441.7" cy="111.6" rx="5.1" ry="5.8" fill="url(#head)"/>
<ellipse cx="441.7" cy="159.2" rx="5.1" ry="5.8" fill="url(#head)"/>
<ellipse cx="451.4" cy="111.6" rx="5.1" ry="5.8" fill="url(#head)"/>
<ellipse cx="451.4" cy="159.2" rx="5.1" ry="5.8" fill="url(#head)"/>
<ellipse cx="461.1" cy="111.6" rx="5.1" ry="5.8" fill="url(#head)"/>
<ellipse cx="461.1" cy="159.2" rx="5.1" ry="5.8" fill="url(#head)"/>
<ellipse cx="470.9" cy="111.6" rx="5.1" ry="5.8" fill="url(#head)"/>
<ellipse cx="470.9" cy="159.2" rx="5.1" ry="5.8" fill="url(#head)"/>
<ellipse cx="480.6" cy="111.6" rx="5.1" ry="5.8" fill="url(#head)"/>
<ellipse cx="480.6" cy="159.2" rx="5.1" ry="5.8" fill="url(#head)"/>
<ellipse cx="490.3" cy="111.6" rx="5.1" ry="5.8" fill="url(#head)"/>
<ellipse cx="490.3" cy="159.2" rx="5.1" ry="5.8" fill="url(#head)"/>
<ellipse cx="500.0" cy="111.6" rx="5.1" ry="5.8" fill="url(#head)"/>
<ellipse cx="500.0" cy="159.2" rx="5.1" ry="5.8" fill="url(#head)"/>
<ellipse cx="509.7" cy="111.6" rx="5.1" ry="5.8" fill="url(#head)"/>
<ellipse cx="509.7" cy="159.2" rx="5.1" ry="5.8" fill="url(#head)"/>
<ellipse cx="519.4" cy="111.6" rx="5.1" ry="5.8" fill="url(#head)"/>
<ellipse cx="519.4" cy="159.2" rx="5.1" ry="5.8" fill="url(#head)"/>
<ellipse cx="529.1" cy="111.6" rx="5.1" ry="5.8" fill="url(#head)"/>
<ellipse cx="529.1" cy="159.2" rx="5.1" ry="5.8" fill="url(#head)"/>
<ellipse cx="538.8" cy="111.6" rx="5.1" ry="5.8" fill="url(#head)"/>
<ellipse cx="538.8" cy="159.2" rx="5.1" ry="5.8" fill="url(#head)"/>
<ellipse cx="548.5" cy="111.6" rx="5.1" ry="5.8" fill="url(#head)"/>
<ellipse cx="548.5" cy="159.2" rx="5.1" ry="5.8" fill="url(#head)"/>
<path d="M216.5,322.0 q3.2,4.9 0,9.9 q-3.2,4.9 0,9.9 q3.2,4.9 0,9.9 q-3.2,4.9 0,9.9" fill="none" stroke="#f08ab0" stroke-width="0.75"/>
<path d="M220.1,322.0 q-3.2,4.9 0,9.9 q3.2,4.9 0,9.9 q-3.2,4.9 0,9.9 q3.2,4.9 0,9.9" fill="none" stroke="#f08ab0" stroke-width="0.75"/>
<path d="M227.2,322.0 q3.2,4.9 0,9.9 q-3.2,4.9 0,9.9 q3.2,4.9 0,9.9 q-3.2,4.9 0,9.9" fill="none" stroke="#f08ab0" stroke-width="0.75"/>
<path d="M230.8,322.0 q-3.2,4.9 0,9.9 q3.2,4.9 0,9.9 q-3.2,4.9 0,9.9 q3.2,4.9 0,9.9" fill="none" stroke="#f08ab0" stroke-width="0.75"/>
<path d="M236.8,322.0 q3.2,4.9 0,9.9 q-3.2,4.9 0,9.9 q3.2,4.9 0,9.9 q-3.2,4.9 0,9.9" fill="none" stroke="#f08ab0" stroke-width="0.75"/>
<path d="M240.4,322.0 q-3.2,4.9 0,9.9 q3.2,4.9 0,9.9 q-3.2,4.9 0,9.9 q3.2,4.9 0,9.9" fill="none" stroke="#f08ab0" stroke-width="0.75"/>
<path d="M247.0,322.0 q3.2,4.9 0,9.9 q-3.2,4.9 0,9.9 q3.2,4.9 0,9.9 q-3.2,4.9 0,9.9" fill="none" stroke="#f08ab0" stroke-width="0.75"/>
<path d="M250.6,322.0 q-3.2,4.9 0,9.9 q3.2,4.9 0,9.9 q-3.2,4.9 0,9.9 q3.2,4.9 0,9.9" fill="none" stroke="#f08ab0" stroke-width="0.75"/>
<path d="M256.4,322.0 q3.2,4.9 0,9.9 q-3.2,4.9 0,9.9 q3.2,4.9 0,9.9 q-3.2,4.9 0,9.9" fill="none" stroke="#f08ab0" stroke-width="0.75"/>
<path d="M260.0,322.0 q-3.2,4.9 0,9.9 q3.2,4.9 0,9.9 q-3.2,4.9 0,9.9 q3.2,4.9 0,9.9" fill="none" stroke="#f08ab0" stroke-width="0.75"/>
<path d="M265.3,322.0 q3.2,4.9 0,9.9 q-3.2,4.9 0,9.9 q3.2,4.9 0,9.9 q-3.2,4.9 0,9.9" fill="none" stroke="#f08ab0" stroke-width="0.75"/>
<path d="M268.9,322.0 q-3.2,4.9 0,9.9 q3.2,4.9 0,9.9 q-3.2,4.9 0,9.9 q3.2,4.9 0,9.9" fill="none" stroke="#f08ab0" stroke-width="0.75"/>
<path d="M275.1,322.0 q3.2,4.9 0,9.9 q-3.2,4.9 0,9.9 q3.2,4.9 0,9.9 q-3.2,4.9 0,9.9" fill="none" stroke="#f08ab0" stroke-width="0.75"/>
<path d="M278.7,322.0 q-3.2,4.9 0,9.9 q3.2,4.9 0,9.9 q-3.2,4.9 0,9.9 q3.2,4.9 0,9.9" fill="none" stroke="#f08ab0" stroke-width="0.75"/>
<path d="M285.2,322.0 q3.2,4.9 0,9.9 q-3.2,4.9 0,9.9 q3.2,4.9 0,9.9 q-3.2,4.9 0,9.9" fill="none" stroke="#f08ab0" stroke-width="0.75"/>
<path d="M288.8,322.0 q-3.2,4.9 0,9.9 q3.2,4.9 0,9.9 q-3.2,4.9 0,9.9 q3.2,4.9 0,9.9" fill="none" stroke="#f08ab0" stroke-width="0.75"/>
<path d="M293.9,322.0 q3.2,4.9 0,9.9 q-3.2,4.9 0,9.9 q3.2,4.9 0,9.9 q-3.2,4.9 0,9.9" fill="none" stroke="#f08ab0" stroke-width="0.75"/>
<path d="M297.5,322.0 q-3.2,4.9 0,9.9 q3.2,4.9 0,9.9 q-3.2,4.9 0,9.9 q3.2,4.9 0,9.9" fill="none" stroke="#f08ab0" stroke-width="0.75"/>
<path d="M304.3,322.0 q3.2,4.9 0,9.9 q-3.2,4.9 0,9.9 q3.2,4.9 0,9.9 q-3.2,4.9 0,9.9" fill="none" stroke="#f08ab0" stroke-width="0.75"/>
<path d="M307.9,322.0 q-3.2,4.9 0,9.9 q3.2,4.9 0,9.9 q-3.2,4.9 0,9.9 q3.2,4.9 0,9.9" fill="none" stroke="#f08ab0" stroke-width="0.75"/>
<path d="M313.5,322.0 q3.2,4.9 0,9.9 q-3.2,4.9 0,9.9 q3.2,4.9 0,9.9 q-3.2,4.9 0,9.9" fill="none" stroke="#f08ab0" stroke-width="0.75"/>
<path d="M317.1,322.0 q-3.2,4.9 0,9.9 q3.2,4.9 0,9.9 q-3.2,4.9 0,9.9 q3.2,4.9 0,9.9" fill="none" stroke="#f08ab0" stroke-width="0.75"/>
<path d="M323.1,322.0 q3.2,4.9 0,9.9 q-3.2,4.9 0,9.9 q3.2,4.9 0,9.9 q-3.2,4.9 0,9.9" fill="none" stroke="#f08ab0" stroke-width="0.75"/>
<path d="M326.7,322.0 q-3.2,4.9 0,9.9 q3.2,4.9 0,9.9 q-3.2,4.9 0,9.9 q3.2,4.9 0,9.9" fill="none" stroke="#f08ab0" stroke-width="0.75"/>
<path d="M332.7,322.0 q3.2,4.9 0,9.9 q-3.2,4.9 0,9.9 q3.2,4.9 0,9.9 q-3.2,4.9 0,9.9" fill="none" stroke="#f08ab0" stroke-width="0.75"/>
<path d="M336.3,322.0 q-3.2,4.9 0,9.9 q3.2,4.9 0,9.9 q-3.2,4.9 0,9.9 q3.2,4.9 0,9.9" fill="none" stroke="#f08ab0" stroke-width="0.75"/>
<path d="M343.5,322.0 q3.2,4.9 0,9.9 q-3.2,4.9 0,9.9 q3.2,4.9 0,9.9 q-3.2,4.9 0,9.9" fill="none" stroke="#f08ab0" stroke-width="0.75"/>
<path d="M347.1,322.0 q-3.2,4.9 0,9.9 q3.2,4.9 0,9.9 q-3.2,4.9 0,9.9 q3.2,4.9 0,9.9" fill="none" stroke="#f08ab0" stroke-width="0.75"/>
<path d="M352.2,322.0 q3.2,4.9 0,9.9 q-3.2,4.9 0,9.9 q3.2,4.9 0,9.9 q-3.2,4.9 0,9.9" fill="none" stroke="#f08ab0" stroke-width="0.75"/>
<path d="M355.8,322.0 q-3.2,4.9 0,9.9 q3.2,4.9 0,9.9 q-3.2,4.9 0,9.9 q3.2,4.9 0,9.9" fill="none" stroke="#f08ab0" stroke-width="0.75"/>
<path d="M362.0,322.0 q3.2,4.9 0,9.9 q-3.2,4.9 0,9.9 q3.2,4.9 0,9.9 q-3.2,4.9 0,9.9" fill="none" stroke="#f08ab0" stroke-width="0.75"/>
<path d="M365.6,322.0 q-3.2,4.9 0,9.9 q3.2,4.9 0,9.9 q-3.2,4.9 0,9.9 q3.2,4.9 0,9.9" fill="none" stroke="#f08ab0" stroke-width="0.75"/>
<path d="M371.9,322.0 q3.2,4.9 0,9.9 q-3.2,4.9 0,9.9 q3.2,4.9 0,9.9 q-3.2,4.9 0,9.9" fill="none" stroke="#f08ab0" stroke-width="0.75"/>
<path d="M375.5,322.0 q-3.2,4.9 0,9.9 q3.2,4.9 0,9.9 q-3.2,4.9 0,9.9 q3.2,4.9 0,9.9" fill="none" stroke="#f08ab0" stroke-width="0.75"/>
<path d="M382.4,322.0 q3.2,4.9 0,9.9 q-3.2,4.9 0,9.9 q3.2,4.9 0,9.9 q-3.2,4.9 0,9.9" fill="none" stroke="#f08ab0" stroke-width="0.75"/>
<path d="M386.0,322.0 q-3.2,4.9 0,9.9 q3.2,4.9 0,9.9 q-3.2,4.9 0,9.9 q3.2,4.9 0,9.9" fill="none" stroke="#f08ab0" stroke-width="0.75"/>
<path d="M390.8,322.0 q3.2,4.9 0,9.9 q-3.2,4.9 0,9.9 q3.2,4.9 0,9.9 q-3.2,4.9 0,9.9" fill="none" stroke="#f08ab0" stroke-width="0.75"/>
<path d="M394.4,322.0 q-3.2,4.9 0,9.9 q3.2,4.9 0,9.9 q-3.2,4.9 0,9.9 q3.2,4.9 0,9.9" fill="none" stroke="#f08ab0" stroke-width="0.75"/>
<path d="M401.1,322.0 q3.2,4.9 0,9.9 q-3.2,4.9 0,9.9 q3.2,4.9 0,9.9 q-3.2,4.9 0,9.9" fill="none" stroke="#f08ab0" stroke-width="0.75"/>
<path d="M404.7,322.0 q-3.2,4.9 0,9.9 q3.2,4.9 0,9.9 q-3.2,4.9 0,9.9 q3.2,4.9 0,9.9" fill="none" stroke="#f08ab0" stroke-width="0.75"/>
<path d="M410.9,322.0 q3.2,4.9 0,9.9 q-3.2,4.9 0,9.9 q3.2,4.9 0,9.9 q-3.2,4.9 0,9.9" fill="none" stroke="#f08ab0" stroke-width="0.75"/>
<path d="M414.5,322.0 q-3.2,4.9 0,9.9 q3.2,4.9 0,9.9 q-3.2,4.9 0,9.9 q3.2,4.9 0,9.9" fill="none" stroke="#f08ab0" stroke-width="0.75"/>
<path d="M421.1,322.0 q3.2,4.9 0,9.9 q-3.2,4.9 0,9.9 q3.2,4.9 0,9.9 q-3.2,4.9 0,9.9" fill="none" stroke="#f08ab0" stroke-width="0.75"/>
<path d="M424.7,322.0 q-3.2,4.9 0,9.9 q3.2,4.9 0,9.9 q-3.2,4.9 0,9.9 q3.2,4.9 0,9.9" fill="none" stroke="#f08ab0" stroke-width="0.75"/>
<path d="M430.7,322.0 q3.2,4.9 0,9.9 q-3.2,4.9 0,9.9 q3.2,4.9 0,9.9 q-3.2,4.9 0,9.9" fill="none" stroke="#f08ab0" stroke-width="0.75"/>
<path d="M434.3,322.0 q-3.2,4.9 0,9.9 q3.2,4.9 0,9.9 q-3.2,4.9 0,9.9 q3.2,4.9 0,9.9" fill="none" stroke="#f08ab0" stroke-width="0.75"/>
<path d="M440.5,322.0 q3.2,4.9 0,9.9 q-3.2,4.9 0,9.9 q3.2,4.9 0,9.9 q-3.2,4.9 0,9.9" fill="none" stroke="#f08ab0" stroke-width="0.75"/>
<path d="M444.1,322.0 q-3.2,4.9 0,9.9 q3.2,4.9 0,9.9 q-3.2,4.9 0,9.9 q3.2,4.9 0,9.9" fill="none" stroke="#f08ab0" stroke-width="0.75"/>
<path d="M449.2,322.0 q3.2,4.9 0,9.9 q-3.2,4.9 0,9.9 q3.2,4.9 0,9.9 q-3.2,4.9 0,9.9" fill="none" stroke="#f08ab0" stroke-width="0.75"/>
<path d="M452.8,322.0 q-3.2,4.9 0,9.9 q3.2,4.9 0,9.9 q-3.2,4.9 0,9.9 q3.2,4.9 0,9.9" fill="none" stroke="#f08ab0" stroke-width="0.75"/>
<path d="M459.1,322.0 q3.2,4.9 0,9.9 q-3.2,4.9 0,9.9 q3.2,4.9 0,9.9 q-3.2,4.9 0,9.9" fill="none" stroke="#f08ab0" stroke-width="0.75"/>
<path d="M462.7,322.0 q-3.2,4.9 0,9.9 q3.2,4.9 0,9.9 q-3.2,4.9 0,9.9 q3.2,4.9 0,9.9" fill="none" stroke="#f08ab0" stroke-width="0.75"/>
<path d="M468.7,322.0 q3.2,4.9 0,9.9 q-3.2,4.9 0,9.9 q3.2,4.9 0,9.9 q-3.2,4.9 0,9.9" fill="none" stroke="#f08ab0" stroke-width="0.75"/>
<path d="M472.3,322.0 q-3.2,4.9 0,9.9 q3.2,4.9 0,9.9 q-3.2,4.9 0,9.9 q3.2,4.9 0,9.9" fill="none" stroke="#f08ab0" stroke-width="0.75"/>
<path d="M479.2,322.0 q3.2,4.9 0,9.9 q-3.2,4.9 0,9.9 q3.2,4.9 0,9.9 q-3.2,4.9 0,9.9" fill="none" stroke="#f08ab0" stroke-width="0.75"/>
<path d="M482.8,322.0 q-3.2,4.9 0,9.9 q3.2,4.9 0,9.9 q-3.2,4.9 0,9.9 q3.2,4.9 0,9.9" fill="none" stroke="#f08ab0" stroke-width="0.75"/>
<path d="M489.0,322.0 q3.2,4.9 0,9.9 q-3.2,4.9 0,9.9 q3.2,4.9 0,9.9 q-3.2,4.9 0,9.9" fill="none" stroke="#f08ab0" stroke-width="0.75"/>
<path d="M492.6,322.0 q-3.2,4.9 0,9.9 q3.2,4.9 0,9.9 q-3.2,4.9 0,9.9 q3.2,4.9 0,9.9" fill="none" stroke="#f08ab0" stroke-width="0.75"/>
<path d="M497.4,322.0 q3.2,4.9 0,9.9 q-3.2,4.9 0,9.9 q3.2,4.9 0,9.9 q-3.2,4.9 0,9.9" fill="none" stroke="#f08ab0" stroke-width="0.75"/>
<path d="M501.0,322.0 q-3.2,4.9 0,9.9 q3.2,4.9 0,9.9 q-3.2,4.9 0,9.9 q3.2,4.9 0,9.9" fill="none" stroke="#f08ab0" stroke-width="0.75"/>
<path d="M507.1,322.0 q3.2,4.9 0,9.9 q-3.2,4.9 0,9.9 q3.2,4.9 0,9.9 q-3.2,4.9 0,9.9" fill="none" stroke="#f08ab0" stroke-width="0.75"/>
<path d="M510.7,322.0 q-3.2,4.9 0,9.9 q3.2,4.9 0,9.9 q-3.2,4.9 0,9.9 q3.2,4.9 0,9.9" fill="none" stroke="#f08ab0" stroke-width="0.75"/>
<path d="M516.9,322.0 q3.2,4.9 0,9.9 q-3.2,4.9 0,9.9 q3.2,4.9 0,9.9 q-3.2,4.9 0,9.9" fill="none" stroke="#f08ab0" stroke-width="0.75"/>
<path d="M520.5,322.0 q-3.2,4.9 0,9.9 q3.2,4.9 0,9.9 q-3.2,4.9 0,9.9 q3.2,4.9 0,9.9" fill="none" stroke="#f08ab0" stroke-width="0.75"/>
<path d="M526.6,322.0 q3.2,4.9 0,9.9 q-3.2,4.9 0,9.9 q3.2,4.9 0,9.9 q-3.2,4.9 0,9.9" fill="none" stroke="#f08ab0" stroke-width="0.75"/>
<path d="M530.2,322.0 q-3.2,4.9 0,9.9 q3.2,4.9 0,9.9 q-3.2,4.9 0,9.9 q3.2,4.9 0,9.9" fill="none" stroke="#f08ab0" stroke-width="0.75"/>
<path d="M536.7,322.0 q3.2,4.9 0,9.9 q-3.2,4.9 0,9.9 q3.2,4.9 0,9.9 q-3.2,4.9 0,9.9" fill="none" stroke="#f08ab0" stroke-width="0.75"/>
<path d="M540.3,322.0 q-3.2,4.9 0,9.9 q3.2,4.9 0,9.9 q-3.2,4.9 0,9.9 q3.2,4.9 0,9.9" fill="none" stroke="#f08ab0" stroke-width="0.75"/>
<polyline points="215.6,322.0 218.2,326.5 215.6,331.0 218.2,335.5 215.6,340.0 218.2,344.5 215.6,349.0 218.2,353.5 215.6,358.0" fill="none" stroke="#f28cb0" stroke-width="0.7"/>
<polyline points="220.0,322.0 222.6,326.5 220.0,331.0 222.6,335.5 220.0,340.0 222.6,344.5 220.0,349.0 222.6,353.5 220.0,358.0" fill="none" stroke="#f28cb0" stroke-width="0.7"/>
<polyline points="224.8,322.0 227.4,326.5 224.8,331.0 227.4,335.5 224.8,340.0 227.4,344.5 224.8,349.0 227.4,353.5 224.8,358.0" fill="none" stroke="#f28cb0" stroke-width="0.7"/>
<polyline points="229.2,322.0 231.8,326.5 229.2,331.0 231.8,335.5 229.2,340.0 231.8,344.5 229.2,349.0 231.8,353.5 229.2,358.0" fill="none" stroke="#f28cb0" stroke-width="0.7"/>
<polyline points="234.1,322.0 236.7,326.5 234.1,331.0 236.7,335.5 234.1,340.0 236.7,344.5 234.1,349.0 236.7,353.5 234.1,358.0" fill="none" stroke="#f28cb0" stroke-width="0.7"/>
<polyline points="238.5,322.0 241.1,326.5 238.5,331.0 241.1,335.5 238.5,340.0 241.1,344.5 238.5,349.0 241.1,353.5 238.5,358.0" fill="none" stroke="#f28cb0" stroke-width="0.7"/>
<polyline points="244.4,322.0 247.0,326.5 244.4,331.0 247.0,335.5 244.4,340.0 247.0,344.5 244.4,349.0 247.0,353.5 244.4,358.0" fill="none" stroke="#f28cb0" stroke-width="0.7"/>
<polyline points="248.8,322.0 251.4,326.5 248.8,331.0 251.4,335.5 248.8,340.0 251.4,344.5 248.8,349.0 251.4,353.5 248.8,358.0" fill="none" stroke="#f28cb0" stroke-width="0.7"/>
<polyline points="254.0,322.0 256.6,326.5 254.0,331.0 256.6,335.5 254.0,340.0 256.6,344.5 254.0,349.0 256.6,353.5 254.0,358.0" fill="none" stroke="#f28cb0" stroke-width="0.7"/>
<polyline points="258.4,322.0 261.0,326.5 258.4,331.0 261.0,335.5 258.4,340.0 261.0,344.5 258.4,349.0 261.0,353.5 258.4,358.0" fill="none" stroke="#f28cb0" stroke-width="0.7"/>
<polyline points="264.0,322.0 266.6,326.5 264.0,331.0 266.6,335.5 264.0,340.0 266.6,344.5 264.0,349.0 266.6,353.5 264.0,358.0" fill="none" stroke="#f28cb0" stroke-width="0.7"/>
<polyline points="268.4,322.0 271.0,326.5 268.4,331.0 271.0,335.5 268.4,340.0 271.0,344.5 268.4,349.0 271.0,353.5 268.4,358.0" fill="none" stroke="#f28cb0" stroke-width="0.7"/>
<polyline points="274.3,322.0 276.9,326.5 274.3,331.0 276.9,335.5 274.3,340.0 276.9,344.5 274.3,349.0 276.9,353.5 274.3,358.0" fill="none" stroke="#f28cb0" stroke-width="0.7"/>
<polyline points="278.7,322.0 281.3,326.5 278.7,331.0 281.3,335.5 278.7,340.0 281.3,344.5 278.7,349.0 281.3,353.5 278.7,358.0" fill="none" stroke="#f28cb0" stroke-width="0.7"/>
<polyline points="283.6,322.0 286.2,326.5 283.6,331.0 286.2,335.5 283.6,340.0 286.2,344.5 283.6,349.0 286.2,353.5 283.6,358.0" fill="none" stroke="#f28cb0" stroke-width="0.7"/>
<polyline points="288.0,322.0 290.6,326.5 288.0,331.0 290.6,335.5 288.0,340.0 290.6,344.5 288.0,349.0 290.6,353.5 288.0,358.0" fill="none" stroke="#f28cb0" stroke-width="0.7"/>
<polyline points="293.0,322.0 295.6,326.5 293.0,331.0 295.6,335.5 293.0,340.0 295.6,344.5 293.0,349.0 295.6,353.5 293.0,358.0" fill="none" stroke="#f28cb0" stroke-width="0.7"/>
<polyline points="297.4,322.0 300.0,326.5 297.4,331.0 300.0,335.5 297.4,340.0 300.0,344.5 297.4,349.0 300.0,353.5 297.4,358.0" fill="none" stroke="#f28cb0" stroke-width="0.7"/>
<polyline points="302.8,322.0 305.4,326.5 302.8,331.0 305.4,335.5 302.8,340.0 305.4,344.5 302.8,349.0 305.4,353.5 302.8,358.0" fill="none" stroke="#f28cb0" stroke-width="0.7"/>
<polyline points="307.2,322.0 309.8,326.5 307.2,331.0 309.8,335.5 307.2,340.0 309.8,344.5 307.2,349.0 309.8,353.5 307.2,358.0" fill="none" stroke="#f28cb0" stroke-width="0.7"/>
<polyline points="312.6,322.0 315.2,326.5 312.6,331.0 315.2,335.5 312.6,340.0 315.2,344.5 312.6,349.0 315.2,353.5 312.6,358.0" fill="none" stroke="#f28cb0" stroke-width="0.7"/>
<polyline points="317.0,322.0 319.6,326.5 317.0,331.0 319.6,335.5 317.0,340.0 319.6,344.5 317.0,349.0 319.6,353.5 317.0,358.0" fill="none" stroke="#f28cb0" stroke-width="0.7"/>
<polyline points="321.3,322.0 323.9,326.5 321.3,331.0 323.9,335.5 321.3,340.0 323.9,344.5 321.3,349.0 323.9,353.5 321.3,358.0" fill="none" stroke="#f28cb0" stroke-width="0.7"/>
<polyline points="325.7,322.0 328.3,326.5 325.7,331.0 328.3,335.5 325.7,340.0 328.3,344.5 325.7,349.0 328.3,353.5 325.7,358.0" fill="none" stroke="#f28cb0" stroke-width="0.7"/>
<polyline points="332.3,322.0 334.9,326.5 332.3,331.0 334.9,335.5 332.3,340.0 334.9,344.5 332.3,349.0 334.9,353.5 332.3,358.0" fill="none" stroke="#f28cb0" stroke-width="0.7"/>
<polyline points="336.7,322.0 339.3,326.5 336.7,331.0 339.3,335.5 336.7,340.0 339.3,344.5 336.7,349.0 339.3,353.5 336.7,358.0" fill="none" stroke="#f28cb0" stroke-width="0.7"/>
<polyline points="341.8,322.0 344.4,326.5 341.8,331.0 344.4,335.5 341.8,340.0 344.4,344.5 341.8,349.0 344.4,353.5 341.8,358.0" fill="none" stroke="#f28cb0" stroke-width="0.7"/>
<polyline points="346.2,322.0 348.8,326.5 346.2,331.0 348.8,335.5 346.2,340.0 348.8,344.5 346.2,349.0 348.8,353.5 346.2,358.0" fill="none" stroke="#f28cb0" stroke-width="0.7"/>
<polyline points="351.6,322.0 354.2,326.5 351.6,331.0 354.2,335.5 351.6,340.0 354.2,344.5 351.6,349.0 354.2,353.5 351.6,358.0" fill="none" stroke="#f28cb0" stroke-width="0.7"/>
<polyline points="356.0,322.0 358.6,326.5 356.0,331.0 358.6,335.5 356.0,340.0 358.6,344.5 356.0,349.0 358.6,353.5 356.0,358.0" fill="none" stroke="#f28cb0" stroke-width="0.7"/>
<polyline points="361.2,322.0 363.8,326.5 361.2,331.0 363.8,335.5 361.2,340.0 363.8,344.5 361.2,349.0 363.8,353.5 361.2,358.0" fill="none" stroke="#f28cb0" stroke-width="0.7"/>
<polyline points="365.6,322.0 368.2,326.5 365.6,331.0 368.2,335.5 365.6,340.0 368.2,344.5 365.6,349.0 368.2,353.5 365.6,358.0" fill="none" stroke="#f28cb0" stroke-width="0.7"/>
<polyline points="370.2,322.0 372.8,326.5 370.2,331.0 372.8,335.5 370.2,340.0 372.8,344.5 370.2,349.0 372.8,353.5 370.2,358.0" fill="none" stroke="#f28cb0" stroke-width="0.7"/>
<polyline points="374.6,322.0 377.2,326.5 374.6,331.0 377.2,335.5 374.6,340.0 377.2,344.5 374.6,349.0 377.2,353.5 374.6,358.0" fill="none" stroke="#f28cb0" stroke-width="0.7"/>
<polyline points="379.9,322.0 382.5,326.5 379.9,331.0 382.5,335.5 379.9,340.0 382.5,344.5 379.9,349.0 382.5,353.5 379.9,358.0" fill="none" stroke="#f28cb0" stroke-width="0.7"/>
<polyline points="384.3,322.0 386.9,326.5 384.3,331.0 386.9,335.5 384.3,340.0 386.9,344.5 384.3,349.0 386.9,353.5 384.3,358.0" fill="none" stroke="#f28cb0" stroke-width="0.7"/>
<polyline points="389.1,322.0 391.7,326.5 389.1,331.0 391.7,335.5 389.1,340.0 391.7,344.5 389.1,349.0 391.7,353.5 389.1,358.0" fill="none" stroke="#f28cb0" stroke-width="0.7"/>
<polyline points="393.5,322.0 396.1,326.5 393.5,331.0 396.1,335.5 393.5,340.0 396.1,344.5 393.5,349.0 396.1,353.5 393.5,358.0" fill="none" stroke="#f28cb0" stroke-width="0.7"/>
<polyline points="399.7,322.0 402.3,326.5 399.7,331.0 402.3,335.5 399.7,340.0 402.3,344.5 399.7,349.0 402.3,353.5 399.7,358.0" fill="none" stroke="#f28cb0" stroke-width="0.7"/>
<polyline points="404.1,322.0 406.7,326.5 404.1,331.0 406.7,335.5 404.1,340.0 406.7,344.5 404.1,349.0 406.7,353.5 404.1,358.0" fill="none" stroke="#f28cb0" stroke-width="0.7"/>
<polyline points="408.4,322.0 411.0,326.5 408.4,331.0 411.0,335.5 408.4,340.0 411.0,344.5 408.4,349.0 411.0,353.5 408.4,358.0" fill="none" stroke="#f28cb0" stroke-width="0.7"/>
<polyline points="412.8,322.0 415.4,326.5 412.8,331.0 415.4,335.5 412.8,340.0 415.4,344.5 412.8,349.0 415.4,353.5 412.8,358.0" fill="none" stroke="#f28cb0" stroke-width="0.7"/>
<polyline points="418.1,322.0 420.7,326.5 418.1,331.0 420.7,335.5 418.1,340.0 420.7,344.5 418.1,349.0 420.7,353.5 418.1,358.0" fill="none" stroke="#f28cb0" stroke-width="0.7"/>
<polyline points="422.5,322.0 425.1,326.5 422.5,331.0 425.1,335.5 422.5,340.0 425.1,344.5 422.5,349.0 425.1,353.5 422.5,358.0" fill="none" stroke="#f28cb0" stroke-width="0.7"/>
<polyline points="428.0,322.0 430.6,326.5 428.0,331.0 430.6,335.5 428.0,340.0 430.6,344.5 428.0,349.0 430.6,353.5 428.0,358.0" fill="none" stroke="#f28cb0" stroke-width="0.7"/>
<polyline points="432.4,322.0 435.0,326.5 432.4,331.0 435.0,335.5 432.4,340.0 435.0,344.5 432.4,349.0 435.0,353.5 432.4,358.0" fill="none" stroke="#f28cb0" stroke-width="0.7"/>
<polyline points="437.6,322.0 440.2,326.5 437.6,331.0 440.2,335.5 437.6,340.0 440.2,344.5 437.6,349.0 440.2,353.5 437.6,358.0" fill="none" stroke="#f28cb0" stroke-width="0.7"/>
<polyline points="442.0,322.0 444.6,326.5 442.0,331.0 444.6,335.5 442.0,340.0 444.6,344.5 442.0,349.0 444.6,353.5 442.0,358.0" fill="none" stroke="#f28cb0" stroke-width="0.7"/>
<polyline points="447.6,322.0 450.2,326.5 447.6,331.0 450.2,335.5 447.6,340.0 450.2,344.5 447.6,349.0 450.2,353.5 447.6,358.0" fill="none" stroke="#f28cb0" stroke-width="0.7"/>
<polyline points="452.0,322.0 454.6,326.5 452.0,331.0 454.6,335.5 452.0,340.0 454.6,344.5 452.0,349.0 454.6,353.5 452.0,358.0" fill="none" stroke="#f28cb0" stroke-width="0.7"/>
<polyline points="456.8,322.0 459.4,326.5 456.8,331.0 459.4,335.5 456.8,340.0 459.4,344.5 456.8,349.0 459.4,353.5 456.8,358.0" fill="none" stroke="#f28cb0" stroke-width="0.7"/>
<polyline points="461.2,322.0 463.8,326.5 461.2,331.0 463.8,335.5 461.2,340.0 463.8,344.5 461.2,349.0 463.8,353.5 461.2,358.0" fill="none" stroke="#f28cb0" stroke-width="0.7"/>
<polyline points="466.4,322.0 469.0,326.5 466.4,331.0 469.0,335.5 466.4,340.0 469.0,344.5 466.4,349.0 469.0,353.5 466.4,358.0" fill="none" stroke="#f28cb0" stroke-width="0.7"/>
<polyline points="470.8,322.0 473.4,326.5 470.8,331.0 473.4,335.5 470.8,340.0 473.4,344.5 470.8,349.0 473.4,353.5 470.8,358.0" fill="none" stroke="#f28cb0" stroke-width="0.7"/>
<polyline points="476.4,322.0 479.0,326.5 476.4,331.0 479.0,335.5 476.4,340.0 479.0,344.5 476.4,349.0 479.0,353.5 476.4,358.0" fill="none" stroke="#f28cb0" stroke-width="0.7"/>
<polyline points="480.8,322.0 483.4,326.5 480.8,331.0 483.4,335.5 480.8,340.0 483.4,344.5 480.8,349.0 483.4,353.5 480.8,358.0" fill="none" stroke="#f28cb0" stroke-width="0.7"/>
<polyline points="486.0,322.0 488.6,326.5 486.0,331.0 488.6,335.5 486.0,340.0 488.6,344.5 486.0,349.0 488.6,353.5 486.0,358.0" fill="none" stroke="#f28cb0" stroke-width="0.7"/>
<polyline points="490.4,322.0 493.0,326.5 490.4,331.0 493.0,335.5 490.4,340.0 493.0,344.5 490.4,349.0 493.0,353.5 490.4,358.0" fill="none" stroke="#f28cb0" stroke-width="0.7"/>
<polyline points="496.1,322.0 498.7,326.5 496.1,331.0 498.7,335.5 496.1,340.0 498.7,344.5 496.1,349.0 498.7,353.5 496.1,358.0" fill="none" stroke="#f28cb0" stroke-width="0.7"/>
<polyline points="500.5,322.0 503.1,326.5 500.5,331.0 503.1,335.5 500.5,340.0 503.1,344.5 500.5,349.0 503.1,353.5 500.5,358.0" fill="none" stroke="#f28cb0" stroke-width="0.7"/>
<polyline points="505.2,322.0 507.8,326.5 505.2,331.0 507.8,335.5 505.2,340.0 507.8,344.5 505.2,349.0 507.8,353.5 505.2,358.0" fill="none" stroke="#f28cb0" stroke-width="0.7"/>
<polyline points="509.6,322.0 512.2,326.5 509.6,331.0 512.2,335.5 509.6,340.0 512.2,344.5 509.6,349.0 512.2,353.5 509.6,358.0" fill="none" stroke="#f28cb0" stroke-width="0.7"/>
<polyline points="516.2,322.0 518.8,326.5 516.2,331.0 518.8,335.5 516.2,340.0 518.8,344.5 516.2,349.0 518.8,353.5 516.2,358.0" fill="none" stroke="#f28cb0" stroke-width="0.7"/>
<polyline points="520.6,322.0 523.2,326.5 520.6,331.0 523.2,335.5 520.6,340.0 523.2,344.5 520.6,349.0 523.2,353.5 520.6,358.0" fill="none" stroke="#f28cb0" stroke-width="0.7"/>
<polyline points="525.5,322.0 528.1,326.5 525.5,331.0 528.1,335.5 525.5,340.0 528.1,344.5 525.5,349.0 528.1,353.5 525.5,358.0" fill="none" stroke="#f28cb0" stroke-width="0.7"/>
<polyline points="529.9,322.0 532.5,326.5 529.9,331.0 532.5,335.5 529.9,340.0 532.5,344.5 529.9,349.0 532.5,353.5 529.9,358.0" fill="none" stroke="#f28cb0" stroke-width="0.7"/>
<polyline points="534.4,322.0 537.0,326.5 534.4,331.0 537.0,335.5 534.4,340.0 537.0,344.5 534.4,349.0 537.0,353.5 534.4,358.0" fill="none" stroke="#f28cb0" stroke-width="0.7"/>
<polyline points="538.8,322.0 541.4,326.5 538.8,331.0 541.4,335.5 538.8,340.0 541.4,344.5 538.8,349.0 541.4,353.5 538.8,358.0" fill="none" stroke="#f28cb0" stroke-width="0.7"/>
<ellipse cx="219.0" cy="317" rx="5.1" ry="5.8" fill="url(#head)"/>
<ellipse cx="219.0" cy="366.5" rx="5.1" ry="5.8" fill="url(#head)"/>
<ellipse cx="228.7" cy="317" rx="5.1" ry="5.8" fill="url(#head)"/>
<ellipse cx="228.7" cy="366.5" rx="5.1" ry="5.8" fill="url(#head)"/>
<ellipse cx="238.4" cy="317" rx="5.1" ry="5.8" fill="url(#head)"/>
<ellipse cx="238.4" cy="366.5" rx="5.1" ry="5.8" fill="url(#head)"/>
<ellipse cx="248.0" cy="317" rx="5.1" ry="5.8" fill="url(#head)"/>
<ellipse cx="248.0" cy="366.5" rx="5.1" ry="5.8" fill="url(#head)"/>
<ellipse cx="257.7" cy="317" rx="5.1" ry="5.8" fill="url(#head)"/>
<ellipse cx="257.7" cy="366.5" rx="5.1" ry="5.8" fill="url(#head)"/>
<ellipse cx="267.4" cy="317" rx="5.1" ry="5.8" fill="url(#head)"/>
<ellipse cx="267.4" cy="366.5" rx="5.1" ry="5.8" fill="url(#head)"/>
<ellipse cx="277.1" cy="317" rx="5.1" ry="5.8" fill="url(#head)"/>
<ellipse cx="277.1" cy="366.5" rx="5.1" ry="5.8" fill="url(#head)"/>
<ellipse cx="286.8" cy="317" rx="5.1" ry="5.8" fill="url(#head)"/>
<ellipse cx="286.8" cy="366.5" rx="5.1" ry="5.8" fill="url(#head)"/>
<ellipse cx="296.5" cy="317" rx="5.1" ry="5.8" fill="url(#head)"/>
<ellipse cx="296.5" cy="366.5" rx="5.1" ry="5.8" fill="url(#head)"/>
<ellipse cx="306.1" cy="317" rx="5.1" ry="5.8" fill="url(#head)"/>
<ellipse cx="306.1" cy="366.5" rx="5.1" ry="5.8" fill="url(#head)"/>
<ellipse cx="315.8" cy="317" rx="5.1" ry="5.8" fill="url(#head)"/>
<ellipse cx="315.8" cy="366.5" rx="5.1" ry="5.8" fill="url(#head)"/>
<ellipse cx="325.5" cy="317" rx="5.1" ry="5.8" fill="url(#head)"/>
<ellipse cx="325.5" cy="366.5" rx="5.1" ry="5.8" fill="url(#head)"/>
<ellipse cx="335.2" cy="317" rx="5.1" ry="5.8" fill="url(#head)"/>
<ellipse cx="335.2" cy="366.5" rx="5.1" ry="5.8" fill="url(#head)"/>
<ellipse cx="344.9" cy="317" rx="5.1" ry="5.8" fill="url(#head)"/>
<ellipse cx="344.9" cy="366.5" rx="5.1" ry="5.8" fill="url(#head)"/>
<ellipse cx="354.5" cy="317" rx="5.1" ry="5.8" fill="url(#head)"/>
<ellipse cx="354.5" cy="366.5" rx="5.1" ry="5.8" fill="url(#head)"/>
<ellipse cx="364.2" cy="317" rx="5.1" ry="5.8" fill="url(#head)"/>
<ellipse cx="364.2" cy="366.5" rx="5.1" ry="5.8" fill="url(#head)"/>
<ellipse cx="373.9" cy="317" rx="5.1" ry="5.8" fill="url(#head)"/>
<ellipse cx="373.9" cy="366.5" rx="5.1" ry="5.8" fill="url(#head)"/>
<ellipse cx="383.6" cy="317" rx="5.1" ry="5.8" fill="url(#head)"/>
<ellipse cx="383.6" cy="366.5" rx="5.1" ry="5.8" fill="url(#head)"/>
<ellipse cx="393.3" cy="317" rx="5.1" ry="5.8" fill="url(#head)"/>
<ellipse cx="393.3" cy="366.5" rx="5.1" ry="5.8" fill="url(#head)"/>
<ellipse cx="403.0" cy="317" rx="5.1" ry="5.8" fill="url(#head)"/>
<ellipse cx="403.0" cy="366.5" rx="5.1" ry="5.8" fill="url(#head)"/>
<ellipse cx="412.6" cy="317" rx="5.1" ry="5.8" fill="url(#head)"/>
<ellipse cx="412.6" cy="366.5" rx="5.1" ry="5.8" fill="url(#head)"/>
<ellipse cx="422.3" cy="317" rx="5.1" ry="5.8" fill="url(#head)"/>
<ellipse cx="422.3" cy="366.5" rx="5.1" ry="5.8" fill="url(#head)"/>
<ellipse cx="432.0" cy="317" rx="5.1" ry="5.8" fill="url(#head)"/>
<ellipse cx="432.0" cy="366.5" rx="5.1" ry="5.8" fill="url(#head)"/>
<ellipse cx="441.7" cy="317" rx="5.1" ry="5.8" fill="url(#head)"/>
<ellipse cx="441.7" cy="366.5" rx="5.1" ry="5.8" fill="url(#head)"/>
<ellipse cx="451.4" cy="317" rx="5.1" ry="5.8" fill="url(#head)"/>
<ellipse cx="451.4" cy="366.5" rx="5.1" ry="5.8" fill="url(#head)"/>
<ellipse cx="461.0" cy="317" rx="5.1" ry="5.8" fill="url(#head)"/>
<ellipse cx="461.0" cy="366.5" rx="5.1" ry="5.8" fill="url(#head)"/>
<ellipse cx="470.7" cy="317" rx="5.1" ry="5.8" fill="url(#head)"/>
<ellipse cx="470.7" cy="366.5" rx="5.1" ry="5.8" fill="url(#head)"/>
<ellipse cx="480.4" cy="317" rx="5.1" ry="5.8" fill="url(#head)"/>
<ellipse cx="480.4" cy="366.5" rx="5.1" ry="5.8" fill="url(#head)"/>
<ellipse cx="490.1" cy="317" rx="5.1" ry="5.8" fill="url(#head)"/>
<ellipse cx="490.1" cy="366.5" rx="5.1" ry="5.8" fill="url(#head)"/>
<ellipse cx="499.8" cy="317" rx="5.1" ry="5.8" fill="url(#head)"/>
<ellipse cx="499.8" cy="366.5" rx="5.1" ry="5.8" fill="url(#head)"/>
<ellipse cx="509.5" cy="317" rx="5.1" ry="5.8" fill="url(#head)"/>
<ellipse cx="509.5" cy="366.5" rx="5.1" ry="5.8" fill="url(#head)"/>
<ellipse cx="519.1" cy="317" rx="5.1" ry="5.8" fill="url(#head)"/>
<ellipse cx="519.1" cy="366.5" rx="5.1" ry="5.8" fill="url(#head)"/>
<ellipse cx="528.8" cy="317" rx="5.1" ry="5.8" fill="url(#head)"/>
<ellipse cx="528.8" cy="366.5" rx="5.1" ry="5.8" fill="url(#head)"/>
<ellipse cx="538.5" cy="317" rx="5.1" ry="5.8" fill="url(#head)"/>
<ellipse cx="538.5" cy="366.5" rx="5.1" ry="5.8" fill="url(#head)"/>
<path d="M231.5,106 L231.5,166 A32,6 0 0 0 295.5,166 L295.5,106 Z" fill="url(#cyl)"/>
<ellipse cx="263.5" cy="106" rx="32" ry="4.5" fill="#a8d0fa" stroke="#7cb4f0" stroke-width="1"/>
<ellipse cx="263.5" cy="160" rx="26" ry="5" fill="#b8dafc"/>
<line x1="237" y1="115" x2="237" y2="158" stroke="#4a88d8" stroke-width="0.8" stroke-dasharray="2,2"/>
<line x1="289" y1="115" x2="289" y2="158" stroke="#4a88d8" stroke-width="0.8" stroke-dasharray="2,2"/>
<ellipse cx="262" cy="103.5" rx="23" ry="34" fill="#06020e"/>
<ellipse cx="260" cy="104.5" rx="21.5" ry="32.5" fill="url(#mtrc)"/>
<path d="M240,121 Q262,128 285,121 L285,140 L240,140 Z" fill="#6aa8f0" opacity="0.45"/>
<path d="M240,121 Q262,128 285,121" fill="none" stroke="#9cc8f8" stroke-width="1.2"/>
<text x="244.5" y="108.8" font-family='"Liberation Sans", sans-serif' font-size="16" font-weight="bold" fill="#000" text-anchor="start" textLength="37.5" lengthAdjust="spacingAndGlyphs" >MtrC</text>
<text x="244.2" y="153.7" font-family='"Liberation Sans", sans-serif' font-size="16" font-weight="bold" fill="#000" text-anchor="start" textLength="37.5" lengthAdjust="spacingAndGlyphs" >MtrB</text>
<path d="M226,58.5 Q262,88 296,59.5" fill="none" stroke="#ee1c25" stroke-width="3.6"/>
<path d="M291,52.5 L301,57 L296,66 Z" fill="#ee1c25"/>
<text x="274.6" y="54.4" font-family='"Liberation Sans", sans-serif' font-size="15" font-weight="bold" fill="#ee1c25" text-anchor="start" textLength="15.5" lengthAdjust="spacingAndGlyphs" >e-</text>
<text x="318" y="40.8" font-family='"Liberation Sans", sans-serif' font-size="16" font-weight="bold" fill="#ee1c25" text-anchor="start" textLength="165.5" lengthAdjust="spacingAndGlyphs" >Extracellular electron</text>
<text x="367.3" y="61.2" font-family='"Liberation Sans", sans-serif' font-size="16" font-weight="bold" fill="#ee1c25" text-anchor="start" textLength="66.7" lengthAdjust="spacingAndGlyphs" >acceptor</text>
<line x1="281.5" y1="201.5" x2="264" y2="172" stroke="#ee1c25" stroke-width="3.3"/>
<path d="M259.5,164.5 L268.5,174 L259,178 Z" fill="#ee1c25"/>
<text x="291.5" y="187.8" font-family='"Liberation Sans", sans-serif' font-size="15" font-weight="bold" fill="#ee1c25" text-anchor="start" textLength="15" lengthAdjust="spacingAndGlyphs" >e-</text>
<ellipse cx="304.7" cy="238.7" rx="40" ry="24.5" transform="rotate(55 304.7 238.7)" fill="url(#mtra)"/>
<text x="285.6" y="239.4" font-family='"Liberation Sans", sans-serif' font-size="16" font-weight="bold" fill="#fff" text-anchor="start" textLength="38" lengthAdjust="spacingAndGlyphs" >MtrA</text>
<line x1="354" y1="290" x2="338" y2="277.5" stroke="#ee1c25" stroke-width="3.3"/>
<path d="M331.5,271.5 L343.5,274.5 L337.5,282.5 Z" fill="#ee1c25"/>
<text x="345.4" y="270.6" font-family='"Liberation Sans", sans-serif' font-size="15" font-weight="bold" fill="#ee1c25" text-anchor="start" textLength="14.5" lengthAdjust="spacingAndGlyphs" >e-</text>
<circle cx="376.3" cy="298.4" r="18.5" fill="url(#cyma)"/>
<text x="390" y="277.5" font-family='"Liberation Sans", sans-serif' font-size="16" font-weight="bold" fill="#1a6a1a" text-anchor="start" textLength="44.6" lengthAdjust="spacingAndGlyphs" >CymA</text>
<path d="M360,318 L372,316 L373,320 L361,325 L358,329 L371,327 L373,331 L361,337 L358,341 L371,339 L372,344 L364,347 L371,354" fill="none" stroke="#1c5e1c" stroke-width="3.2" stroke-linejoin="round"/>
<circle cx="427.5" cy="346" r="18" fill="#555" opacity="0.25"/>
<circle cx="470.5" cy="345.5" r="18" fill="#555" opacity="0.25"/>
<circle cx="427" cy="345.3" r="17.7" fill="url(#qball)"/>
<circle cx="470" cy="345" r="17.7" fill="url(#qball)"/>
<text x="414" y="353" font-family='"Liberation Sans",sans-serif' font-weight="bold" font-size="15" fill="#000">Q<tspan font-size="11" dy="3">red</tspan></text>
<text x="457" y="352" font-family='"Liberation Sans",sans-serif' font-weight="bold" font-size="15" fill="#000">Q<tspan font-size="11" dy="3">ox</tspan></text>
<path d="M425.5,323.5 L392,327.5" stroke="#ee1c25" stroke-width="3"/>
<path d="M384.5,328 L394,322 L394.5,333 Z" fill="#ee1c25"/>
<path d="M426,323 C430,300 462,298 467,318" fill="none" stroke="#ee1c25" stroke-width="3"/>
<path d="M461.5,317 L473,317 L467.5,327 Z" fill="#ee1c25"/>
<text x="381" y="348.2" font-family='"Liberation Sans", sans-serif' font-size="15" font-weight="bold" fill="#ee1c25" text-anchor="start" textLength="15" lengthAdjust="spacingAndGlyphs" >e-</text>
<text x="94.2" y="77.9" font-family='"Liberation Sans", sans-serif' font-size="16" font-weight="bold" fill="#000" text-anchor="start" textLength="94.2" lengthAdjust="spacingAndGlyphs" >Cell exterior</text>
<text x="105.5" y="123.3" font-family='"Liberation Sans", sans-serif' font-size="16" font-weight="bold" fill="#000" text-anchor="start" textLength="75" lengthAdjust="spacingAndGlyphs" >Outer cell</text>
<text x="101" y="144.2" font-family='"Liberation Sans", sans-serif' font-size="16" font-weight="bold" fill="#000" text-anchor="start" textLength="85" lengthAdjust="spacingAndGlyphs" >membrane</text>
<text x="112" y="242.2" font-family='"Liberation Sans", sans-serif' font-size="16" font-weight="bold" fill="#000" text-anchor="start" textLength="76.4" lengthAdjust="spacingAndGlyphs" >Periplasm</text>
<text x="95.5" y="327.8" font-family='"Liberation Sans", sans-serif' font-size="16" font-weight="bold" fill="#000" text-anchor="start" textLength="95.2" lengthAdjust="spacingAndGlyphs" >Cytoplasmic</text>
<text x="101.2" y="348.8" font-family='"Liberation Sans", sans-serif' font-size="16" font-weight="bold" fill="#000" text-anchor="start" textLength="84.3" lengthAdjust="spacingAndGlyphs" >membrane</text>
<text x="98.3" y="416.8" font-family='"Liberation Sans", sans-serif' font-size="16" font-weight="bold" fill="#000" text-anchor="start" textLength="90.1" lengthAdjust="spacingAndGlyphs" >Cell interior</text>
<text x="40.3" y="74.5" font-family='"Liberation Serif", serif' font-size="42" font-weight="bold" fill="#000" text-anchor="start" >a</text>
<text x="571.5" y="75.5" font-family='"Liberation Serif", serif' font-size="42" font-weight="bold" fill="#000" text-anchor="start" >b</text>
<text x="577.5" y="246.5" font-family='"Liberation Serif", serif' font-size="42" font-weight="bold" fill="#000" text-anchor="start" >c</text>
<text x="39.8" y="480.3" font-family='"Liberation Serif", serif' font-size="42" font-weight="bold" fill="#000" text-anchor="start" >d</text>
<text x="41.1" y="730.8" font-family='"Liberation Serif", serif' font-size="42" font-weight="bold" fill="#000" text-anchor="start" >e</text>
<text x="493.5" y="731.5" font-family='"Liberation Serif", serif' font-size="43" font-weight="bold" fill="#000" text-anchor="start" >f</text>
<defs><radialGradient id="capg" cx="0.45" cy="0.4" r="0.65">
<stop offset="0" stop-color="#e6e6e6"/><stop offset="0.7" stop-color="#c8c8c8"/><stop offset="1" stop-color="#9a9a9a"/></radialGradient>
<radialGradient id="au2" cx="0.4" cy="0.38" r="0.62"><stop offset="0" stop-color="#faf27e"/><stop offset="0.45" stop-color="#e4d42e"/><stop offset="1" stop-color="#786800"/></radialGradient>
<radialGradient id="au" cx="0.38" cy="0.35" r="0.7"><stop offset="0" stop-color="#fff7a0"/><stop offset="0.45" stop-color="#e8d836"/><stop offset="1" stop-color="#a89810"/></radialGradient>
</defs>
<path d="M657.6,81.1 L659.9,87.6 L658.5,89.2 L657.1,91.3 L658.9,96.2 L661.8,99.7 L658.3,107.8" fill="none" stroke="#4f82ba" stroke-width="0.85" opacity="0.9"/>
<path d="M633.4,67.6 L632.0,70.9 L632.2,70.4 L627.6,69.6 L625.6,72.5 L625.9,73.5 L623.4,71.6" fill="none" stroke="#4f82ba" stroke-width="0.85" opacity="0.9"/>
<path d="M667.4,58.9 L672.7,54.7 L673.4,48.1 L677.6,40.2 L679.7,36.0 L684.5,32.6 L691.6,25.9" fill="none" stroke="#4f82ba" stroke-width="0.85" opacity="0.9"/>
<path d="M681.1,65.2 L685.0,60.6 L690.3,57.3 L697.8,57.5 L704.2,52.2 L708.7,50.6 L711.2,46.7" fill="none" stroke="#4f82ba" stroke-width="0.85" opacity="0.9"/>
<path d="M679.1,63.4 L681.7,61.6 L686.6,58.4 L694.0,53.1 L695.3,52.6 L701.1,45.5 L702.3,42.1" fill="none" stroke="#4f82ba" stroke-width="0.85" opacity="0.9"/>
<path d="M678.7,63.1 L683.5,61.9 L682.8,59.3 L684.1,54.6 L690.7,55.8 L690.9,55.2 L692.9,52.9" fill="none" stroke="#4f82ba" stroke-width="0.85" opacity="0.9"/>
<path d="M669.5,59.4 L668.2,56.3 L668.4,51.9 L667.8,50.8 L668.9,45.0 L670.1,43.7 L669.3,40.2" fill="none" stroke="#4f82ba" stroke-width="0.85" opacity="0.9"/>
<path d="M633.0,69.5 L629.5,69.8 L624.1,74.8 L621.8,75.0 L621.3,77.4 L616.1,79.1 L614.1,82.3" fill="none" stroke="#4f82ba" stroke-width="0.85" opacity="0.9"/>
<path d="M677.6,76.7 L682.2,79.1 L684.4,82.7 L689.4,83.5 L691.2,86.1 L693.9,89.4 L696.8,91.0" fill="none" stroke="#4f82ba" stroke-width="0.85" opacity="0.9"/>
<path d="M633.2,71.2 L630.5,69.0 L623.6,71.4 L620.1,66.4 L611.5,66.9 L606.3,64.9 L601.3,66.0" fill="none" stroke="#4f82ba" stroke-width="0.85" opacity="0.9"/>
<path d="M663.3,58.4 L663.3,50.7 L663.5,48.9 L659.4,42.9 L659.5,34.7 L661.6,30.5 L656.6,22.6" fill="none" stroke="#4f82ba" stroke-width="0.85" opacity="0.9"/>
<path d="M633.1,68.5 L631.8,66.3 L628.6,68.7 L623.5,68.4 L624.2,69.5 L619.0,72.2 L620.2,72.4" fill="none" stroke="#4f82ba" stroke-width="0.85" opacity="0.9"/>
<path d="M677.8,76.6 L679.1,77.9 L682.4,84.9 L686.9,84.7 L686.0,91.1 L690.6,93.1 L690.7,93.0" fill="none" stroke="#4f82ba" stroke-width="0.85" opacity="0.9"/>
<path d="M648.5,59.0 L646.6,55.9 L641.3,51.5 L638.6,47.0 L638.0,39.7 L635.9,38.1 L631.9,29.5" fill="none" stroke="#4f82ba" stroke-width="0.85" opacity="0.9"/>
<path d="M633.4,67.7 L629.1,66.7 L628.4,67.7 L628.6,68.2 L625.3,68.1 L622.5,67.8 L620.0,68.3" fill="none" stroke="#4f82ba" stroke-width="0.85" opacity="0.9"/>
<path d="M655.3,58.2 L655.8,51.2 L653.5,47.9 L650.2,45.0 L648.0,38.4 L647.8,35.8 L644.3,30.1" fill="none" stroke="#4f82ba" stroke-width="0.85" opacity="0.9"/>
<path d="M651.3,58.5 L647.7,51.7 L646.3,49.9 L645.9,42.1 L643.6,40.5 L646.1,34.7 L641.8,27.7" fill="none" stroke="#4f82ba" stroke-width="0.85" opacity="0.9"/>
<path d="M651.3,80.7 L650.8,87.5 L655.0,90.0 L652.0,96.6 L653.0,98.1 L652.1,102.7 L655.1,107.9" fill="none" stroke="#4f82ba" stroke-width="0.85" opacity="0.9"/>
<path d="M665.6,80.6 L666.4,84.3 L669.0,86.7 L673.2,91.9 L677.5,97.7 L681.1,102.5 L683.8,107.9" fill="none" stroke="#4f82ba" stroke-width="0.85" opacity="0.9"/>
<path d="M638.8,77.0 L637.1,81.2 L630.9,85.7 L632.4,88.2 L628.8,92.6 L623.1,94.7 L622.1,99.8" fill="none" stroke="#4f82ba" stroke-width="0.85" opacity="0.9"/>
<path d="M666.4,58.8 L669.2,54.9 L668.9,46.7 L670.3,43.4 L672.0,40.9 L676.2,35.0 L678.4,30.4" fill="none" stroke="#4f82ba" stroke-width="0.85" opacity="0.9"/>
<path d="M633.1,70.4 L632.1,70.0 L631.9,67.2 L631.4,67.6 L627.1,67.1 L629.4,66.3 L628.5,69.6" fill="none" stroke="#4f82ba" stroke-width="0.85" opacity="0.9"/>
<path d="M633.0,70.0 L631.8,70.1 L628.6,66.9 L623.6,67.2 L624.0,67.0 L620.5,65.0 L615.4,65.7" fill="none" stroke="#4f82ba" stroke-width="0.85" opacity="0.9"/>
<path d="M646.2,59.5 L645.3,54.9 L644.0,48.7 L645.0,44.7 L644.4,44.0 L638.5,37.2 L641.5,35.4" fill="none" stroke="#4f82ba" stroke-width="0.85" opacity="0.9"/>
<path d="M634.3,73.2 L631.2,73.3 L629.3,72.7 L631.8,70.4 L629.6,72.0 L628.4,72.7 L623.5,73.3" fill="none" stroke="#4f82ba" stroke-width="0.85" opacity="0.9"/>
<path d="M633.1,70.6 L632.1,69.9 L629.9,70.4 L630.1,73.1 L627.8,73.0 L631.3,70.1 L631.0,73.3" fill="none" stroke="#4f82ba" stroke-width="0.85" opacity="0.9"/>
<path d="M678.4,62.9 L682.3,60.8 L680.6,57.4 L681.7,52.8 L682.3,54.2 L684.7,52.1 L686.0,46.1" fill="none" stroke="#4f82ba" stroke-width="0.85" opacity="0.9"/>
<path d="M633.1,68.8 L633.2,68.7 L630.2,67.4 L629.9,63.9 L627.1,59.7 L625.4,60.0 L623.7,59.2" fill="none" stroke="#4f82ba" stroke-width="0.85" opacity="0.9"/>
<path d="M652.4,80.8 L650.7,83.1 L648.3,88.2 L650.1,88.9 L647.0,92.2 L644.9,95.7 L641.4,97.7" fill="none" stroke="#4f82ba" stroke-width="0.85" opacity="0.9"/>
<path d="M664.5,80.7 L667.8,88.9 L666.8,90.3 L666.8,95.7 L668.8,101.4 L669.6,107.9 L672.5,116.7" fill="none" stroke="#4f82ba" stroke-width="0.85" opacity="0.9"/>
<path d="M657.9,58.1 L657.0,52.8 L655.0,48.1 L659.2,42.9 L656.5,40.9 L658.0,34.4 L654.6,30.1" fill="none" stroke="#4f82ba" stroke-width="0.85" opacity="0.9"/>
<path d="M637.8,76.4 L636.5,75.5 L629.1,80.5 L630.2,80.8 L625.4,80.0 L621.3,86.1 L620.2,87.3" fill="none" stroke="#4f82ba" stroke-width="0.85" opacity="0.9"/>
<path d="M682.6,67.6 L684.3,66.7 L688.0,65.1 L688.0,63.5 L688.7,60.6 L688.1,60.0 L690.7,58.9" fill="none" stroke="#4f82ba" stroke-width="0.85" opacity="0.9"/>
<path d="M642.7,60.5 L641.0,58.9 L636.0,53.1 L635.7,53.1 L632.6,48.7 L631.3,45.0 L627.4,44.7" fill="none" stroke="#4f82ba" stroke-width="0.85" opacity="0.9"/>
<path d="M682.2,66.7 L684.7,63.9 L692.1,64.7 L692.6,59.9 L697.4,61.6 L700.8,58.1 L705.9,60.0" fill="none" stroke="#4f82ba" stroke-width="0.85" opacity="0.9"/>
<path d="M661.6,81.0 L663.2,82.4 L664.4,88.0 L663.7,88.2 L666.6,91.7 L666.6,94.2 L664.2,99.8" fill="none" stroke="#4f82ba" stroke-width="0.85" opacity="0.9"/>
<path d="M651.0,80.6 L648.3,86.8 L649.1,96.1 L645.2,99.9 L644.2,109.4 L642.4,111.4 L640.7,119.7" fill="none" stroke="#4f82ba" stroke-width="0.85" opacity="0.9"/>
<path d="M678.1,62.7 L684.6,60.3 L685.3,61.7 L692.5,55.6 L696.6,55.7 L699.5,53.9 L702.9,50.6" fill="none" stroke="#4f82ba" stroke-width="0.85" opacity="0.9"/>
<path d="M653.3,80.9 L653.5,83.7 L648.3,91.0 L648.5,93.3 L642.4,97.8 L641.9,104.2 L638.8,105.7" fill="none" stroke="#4f82ba" stroke-width="0.85" opacity="0.9"/>
<path d="M677.9,62.7 L680.0,59.4 L677.0,58.5 L682.1,58.4 L682.0,60.6 L680.6,56.5 L684.4,57.2" fill="none" stroke="#4f82ba" stroke-width="0.85" opacity="0.9"/>
<path d="M656.1,81.1 L654.2,88.0 L659.4,93.0 L660.1,95.6 L657.1,103.5 L661.3,111.5 L659.1,113.6" fill="none" stroke="#4f82ba" stroke-width="0.85" opacity="0.9"/>
<path d="M635.4,74.5 L633.6,78.8 L630.4,82.1 L626.0,83.0 L621.2,86.3 L620.2,88.0 L614.0,94.5" fill="none" stroke="#4f82ba" stroke-width="0.85" opacity="0.9"/>
<path d="M658.4,81.1 L659.1,86.6 L663.4,89.7 L661.8,88.3 L662.4,93.5 L667.0,96.3 L666.1,99.3" fill="none" stroke="#4f82ba" stroke-width="0.85" opacity="0.9"/>
<path d="M639.8,61.7 L638.7,55.1 L637.7,51.2 L634.5,46.8 L633.4,41.2 L629.1,36.6 L626.7,35.1" fill="none" stroke="#4f82ba" stroke-width="0.85" opacity="0.9"/>
<path d="M636.0,64.2 L633.8,59.5 L633.0,58.2 L631.7,52.1 L626.9,52.3 L626.5,49.4 L620.2,42.9" fill="none" stroke="#4f82ba" stroke-width="0.85" opacity="0.9"/>
<path d="M676.3,77.4 L678.4,79.4 L678.1,82.5 L675.1,86.7 L678.5,86.0 L676.7,91.2 L674.8,92.6" fill="none" stroke="#4f82ba" stroke-width="0.85" opacity="0.9"/>
<path d="M673.8,78.5 L676.3,80.1 L674.9,83.7 L680.0,86.0 L680.0,89.2 L684.2,93.9 L682.3,94.7" fill="none" stroke="#4f82ba" stroke-width="0.85" opacity="0.9"/>
<path d="M638.2,76.6 L633.6,81.9 L631.9,84.1 L628.4,91.7 L625.5,94.0 L622.7,97.5 L622.3,104.7" fill="none" stroke="#4f82ba" stroke-width="0.85" opacity="0.9"/>
<path d="M641.6,78.3 L637.4,83.6 L637.7,86.5 L635.9,90.1 L634.4,89.8 L630.4,95.1 L631.8,100.2" fill="none" stroke="#4f82ba" stroke-width="0.85" opacity="0.9"/>
<path d="M679.2,75.7 L680.8,77.4 L686.0,83.5 L687.2,84.1 L694.0,89.3 L694.3,87.9 L701.4,95.0" fill="none" stroke="#4f82ba" stroke-width="0.85" opacity="0.9"/>
<path d="M633.1,70.8 L634.0,72.1 L632.5,70.5 L631.1,71.4 L628.0,75.2 L629.0,72.6 L624.8,74.3" fill="none" stroke="#4f82ba" stroke-width="0.85" opacity="0.9"/>
<path d="M633.2,68.3 L631.7,70.8 L625.7,69.5 L626.8,67.4 L624.6,68.2 L620.9,70.9 L618.4,70.1" fill="none" stroke="#4f82ba" stroke-width="0.85" opacity="0.9"/>
<path d="M636.1,75.1 L633.0,76.7 L628.1,79.5 L627.6,79.4 L626.1,84.0 L621.8,82.8 L619.0,84.3" fill="none" stroke="#4f82ba" stroke-width="0.85" opacity="0.9"/>
<path d="M675.3,77.9 L678.3,78.7 L682.0,82.0 L685.4,88.6 L687.3,88.1 L690.3,92.9 L695.5,94.8" fill="none" stroke="#4f82ba" stroke-width="0.85" opacity="0.9"/>
<path d="M673.6,60.6 L676.2,58.9 L681.9,54.6 L688.2,46.5 L691.7,46.2 L692.2,39.2 L699.8,34.1" fill="none" stroke="#4f82ba" stroke-width="0.85" opacity="0.9"/>
<path d="M677.9,62.6 L680.2,61.5 L681.1,54.9 L684.9,51.9 L684.8,47.9 L687.8,48.4 L692.7,44.9" fill="none" stroke="#4f82ba" stroke-width="0.85" opacity="0.9"/>
<path d="M670.2,79.6 L674.6,84.2 L679.4,90.4 L681.6,97.2 L682.9,103.0 L689.2,105.2 L693.6,109.8" fill="none" stroke="#4f82ba" stroke-width="0.85" opacity="0.9"/>
<path d="M683.0,68.9 L686.0,68.1 L690.8,68.3 L694.5,70.1 L696.9,74.6 L700.0,73.8 L701.9,71.3" fill="none" stroke="#4f82ba" stroke-width="0.85" opacity="0.9"/>
<path d="M682.4,72.0 L684.0,74.5 L683.5,71.7 L687.6,71.2 L685.8,73.3 L687.8,73.9 L689.8,75.5" fill="none" stroke="#4f82ba" stroke-width="0.85" opacity="0.9"/>
<path d="M636.8,63.5 L633.7,63.8 L632.9,58.0 L630.9,58.6 L633.5,57.4 L629.8,53.0 L626.6,53.0" fill="none" stroke="#4f82ba" stroke-width="0.85" opacity="0.9"/>
<path d="M634.9,65.2 L635.1,65.0 L629.6,64.4 L626.6,61.1 L626.4,58.2 L622.6,59.5 L620.4,57.0" fill="none" stroke="#4f82ba" stroke-width="0.85" opacity="0.9"/>
<path d="M681.3,65.4 L682.3,65.2 L684.9,62.0 L683.3,61.7 L683.0,63.7 L687.7,62.0 L684.8,61.7" fill="none" stroke="#4f82ba" stroke-width="0.85" opacity="0.9"/>
<path d="M657.2,58.1 L656.8,51.5 L657.8,46.5 L659.2,45.4 L662.0,41.2 L663.0,33.7 L663.1,29.9" fill="none" stroke="#4f82ba" stroke-width="0.85" opacity="0.9"/>
<path d="M664.0,58.4 L666.0,52.4 L665.4,46.8 L662.0,43.4 L664.2,42.3 L663.9,34.6 L664.3,30.1" fill="none" stroke="#4f82ba" stroke-width="0.85" opacity="0.9"/>
<path d="M659.7,81.1 L660.2,89.9 L658.8,95.5 L659.6,102.0 L657.9,107.7 L658.2,112.0 L656.0,120.0" fill="none" stroke="#4f82ba" stroke-width="0.85" opacity="0.9"/>
<path d="M680.1,75.0 L683.0,77.9 L689.2,74.8 L692.5,75.1 L700.8,78.8 L705.8,80.2 L707.6,80.2" fill="none" stroke="#4f82ba" stroke-width="0.85" opacity="0.9"/>
<path d="M641.7,78.3 L635.5,83.3 L635.7,86.9 L627.7,86.4 L623.7,88.8 L623.3,95.8 L618.3,99.1" fill="none" stroke="#4f82ba" stroke-width="0.85" opacity="0.9"/>
<path d="M641.1,61.1 L639.9,57.8 L635.2,57.1 L631.3,54.4 L630.1,54.9 L628.1,51.0 L628.6,50.1" fill="none" stroke="#4f82ba" stroke-width="0.85" opacity="0.9"/>
<path d="M672.9,60.4 L672.8,57.3 L672.5,52.5 L673.7,45.6 L675.5,40.5 L675.5,36.5 L671.7,32.2" fill="none" stroke="#4f82ba" stroke-width="0.85" opacity="0.9"/>
<path d="M659.9,58.1 L657.5,53.0 L653.6,44.8 L652.1,39.8 L649.3,33.8 L647.1,23.5 L646.9,18.2" fill="none" stroke="#4f82ba" stroke-width="0.85" opacity="0.9"/>
<path d="M677.3,76.9 L682.1,82.6 L685.6,84.8 L688.3,89.3 L694.6,92.0 L698.5,96.0 L698.9,101.5" fill="none" stroke="#4f82ba" stroke-width="0.85" opacity="0.9"/>
<path d="M678.3,62.9 L679.2,61.3 L682.9,61.3 L686.1,59.3 L686.3,56.3 L687.5,57.4 L692.2,55.5" fill="none" stroke="#4f82ba" stroke-width="0.85" opacity="0.9"/>
<path d="M670.1,79.7 L668.6,83.6 L672.7,86.6 L669.5,91.1 L672.4,97.9 L670.0,98.6 L670.8,103.6" fill="none" stroke="#4f82ba" stroke-width="0.85" opacity="0.9"/>
<path d="M633.2,68.0 L633.9,69.7 L627.9,71.4 L626.2,69.0 L628.9,71.6 L626.0,70.3 L621.6,71.8" fill="none" stroke="#4f82ba" stroke-width="0.85" opacity="0.9"/>
<path d="M677.6,76.8 L678.7,79.1 L681.9,78.6 L683.3,79.4 L682.5,81.0 L685.5,82.6 L689.7,82.0" fill="none" stroke="#4f82ba" stroke-width="0.85" opacity="0.9"/>
<path d="M635.7,64.4 L632.9,64.9 L629.3,62.6 L625.9,61.1 L621.0,58.5 L615.5,58.0 L610.6,55.5" fill="none" stroke="#4f82ba" stroke-width="0.85" opacity="0.9"/>
<path d="M663.1,58.3 L664.1,52.5 L666.5,46.6 L668.2,43.5 L667.1,36.5 L671.5,29.5 L671.5,26.8" fill="none" stroke="#4f82ba" stroke-width="0.85" opacity="0.9"/>
<path d="M682.3,72.3 L687.9,74.7 L687.0,77.3 L692.6,80.3 L695.8,82.2 L700.7,83.8 L702.0,88.3" fill="none" stroke="#4f82ba" stroke-width="0.85" opacity="0.9"/>
<path d="M664.2,80.7 L663.8,88.7 L666.4,89.6 L667.4,96.9 L667.6,102.5 L671.1,109.5 L672.2,112.8" fill="none" stroke="#4f82ba" stroke-width="0.85" opacity="0.9"/>
<path d="M662.0,81.0 L659.1,88.1 L658.4,90.9 L655.6,99.4 L657.5,104.4 L654.3,109.7 L651.5,117.4" fill="none" stroke="#4f82ba" stroke-width="0.85" opacity="0.9"/>
<path d="M642.9,78.8 L639.4,81.1 L636.5,83.6 L634.7,88.0 L631.5,90.9 L625.8,94.2 L622.7,97.2" fill="none" stroke="#4f82ba" stroke-width="0.85" opacity="0.9"/>
<path d="M683.0,69.8 L686.0,68.6 L690.5,68.4 L695.6,65.9 L700.9,67.3 L700.5,66.1 L708.7,64.8" fill="none" stroke="#4f82ba" stroke-width="0.85" opacity="0.9"/>
<path d="M673.9,78.5 L673.7,83.7 L679.2,83.2 L678.7,85.6 L681.7,91.8 L684.5,91.7 L689.6,97.8" fill="none" stroke="#4f82ba" stroke-width="0.85" opacity="0.9"/>
<path d="M670.3,79.6 L673.0,87.7 L675.4,93.5 L674.3,98.8 L677.7,105.1 L679.1,111.9 L681.5,114.9" fill="none" stroke="#4f82ba" stroke-width="0.85" opacity="0.9"/>
<path d="M660.5,81.0 L660.5,82.3 L660.8,87.1 L661.2,92.0 L658.7,95.0 L661.2,96.6 L662.4,101.1" fill="none" stroke="#4f82ba" stroke-width="0.85" opacity="0.9"/>
<rect x="631.0" y="56.099999999999994" width="54" height="27" rx="13.5" fill="url(#capg)" stroke="#8a8a8a" stroke-width="0.8"/>
<path d="M652.2,67.9 q6.3,-3.1 8.6,-2.2" fill="none" stroke="#4f82ba" stroke-width="0.6" opacity="0.8"/>
<path d="M664.3,72.5 q9.5,-0.6 15.1,2.7" fill="none" stroke="#4f82ba" stroke-width="0.6" opacity="0.8"/>
<path d="M666.4,78.7 q-2.8,6.7 -9.6,17.3" fill="none" stroke="#4f82ba" stroke-width="0.6" opacity="0.8"/>
<path d="M658.5,69.3 q5.4,-4.5 6.7,-5.0" fill="none" stroke="#4f82ba" stroke-width="0.6" opacity="0.8"/>
<path d="M668.0,72.2 q-2.8,5.8 -9.7,15.6" fill="none" stroke="#4f82ba" stroke-width="0.6" opacity="0.8"/>
<path d="M651.8,69.1 q-6.5,-3.4 -17.0,-2.8" fill="none" stroke="#4f82ba" stroke-width="0.6" opacity="0.8"/>
<path d="M644.7,68.2 q-4.5,1.4 -12.9,6.9" fill="none" stroke="#4f82ba" stroke-width="0.6" opacity="0.8"/>
<path d="M673.0,65.3 q5.0,-7.7 6.0,-11.3" fill="none" stroke="#4f82ba" stroke-width="0.6" opacity="0.8"/>
<path d="M658.2,64.8 q-7.8,-2.4 -19.7,-0.8" fill="none" stroke="#4f82ba" stroke-width="0.6" opacity="0.8"/>
<path d="M665.1,75.7 q-0.9,3.2 -5.7,10.3" fill="none" stroke="#4f82ba" stroke-width="0.6" opacity="0.8"/>
<path d="M648.8,71.4 q-3.8,-8.5 -11.5,-13.0" fill="none" stroke="#4f82ba" stroke-width="0.6" opacity="0.8"/>
<path d="M636.8,74.3 q7.5,-6.8 10.9,-9.6" fill="none" stroke="#4f82ba" stroke-width="0.6" opacity="0.8"/>
<path d="M848.4,73.1 L853.1,73.8 L854.4,74.9 L858.3,74.2 L859.4,74.4 L862.4,74.4 L864.9,72.6" fill="none" stroke="#4f82ba" stroke-width="0.85" opacity="0.9"/>
<path d="M813.6,59.6 L811.5,54.2 L814.0,55.5 L812.9,49.7 L813.2,48.7 L811.4,43.0 L809.5,40.7" fill="none" stroke="#4f82ba" stroke-width="0.85" opacity="0.9"/>
<path d="M815.6,80.1 L811.6,83.6 L809.8,84.6 L811.9,90.1 L810.7,92.7 L804.4,95.6 L805.5,101.6" fill="none" stroke="#4f82ba" stroke-width="0.85" opacity="0.9"/>
<path d="M849.4,68.2 L853.2,64.7 L853.8,61.6 L856.1,62.8 L859.7,62.2 L862.6,59.6 L865.9,53.2" fill="none" stroke="#4f82ba" stroke-width="0.85" opacity="0.9"/>
<path d="M821.0,58.3 L819.2,56.3 L823.0,53.2 L823.5,46.0 L823.4,45.7 L823.0,43.4 L822.4,40.1" fill="none" stroke="#4f82ba" stroke-width="0.85" opacity="0.9"/>
<path d="M820.7,58.3 L820.6,53.3 L816.4,53.7 L814.1,51.4 L814.0,44.5 L811.8,44.2 L810.5,41.8" fill="none" stroke="#4f82ba" stroke-width="0.85" opacity="0.9"/>
<path d="M840.3,78.7 L844.3,83.4 L846.3,90.3 L852.4,95.4 L853.8,98.1 L854.5,106.6 L861.0,110.9" fill="none" stroke="#4f82ba" stroke-width="0.85" opacity="0.9"/>
<path d="M813.8,79.6 L810.7,82.4 L806.3,89.0 L802.5,91.7 L800.1,96.5 L797.6,97.1 L790.0,100.7" fill="none" stroke="#4f82ba" stroke-width="0.85" opacity="0.9"/>
<path d="M804.4,75.0 L798.4,77.5 L798.5,78.6 L793.6,76.5 L791.2,80.0 L786.7,81.4 L781.3,78.2" fill="none" stroke="#4f82ba" stroke-width="0.85" opacity="0.9"/>
<path d="M803.0,65.8 L800.5,61.4 L794.3,60.6 L789.0,55.2 L783.3,54.8 L781.4,50.3 L773.3,49.0" fill="none" stroke="#4f82ba" stroke-width="0.85" opacity="0.9"/>
<path d="M828.9,58.2 L831.4,54.9 L830.0,51.9 L829.1,46.5 L829.7,45.7 L831.2,41.6 L831.9,38.0" fill="none" stroke="#4f82ba" stroke-width="0.85" opacity="0.9"/>
<path d="M839.8,78.9 L837.2,81.7 L840.0,81.5 L838.5,84.7 L837.5,85.3 L834.4,92.3 L838.0,92.0" fill="none" stroke="#4f82ba" stroke-width="0.85" opacity="0.9"/>
<path d="M803.7,64.9 L804.4,64.9 L802.2,64.5 L797.9,58.5 L796.1,57.9 L794.0,55.9 L794.8,58.6" fill="none" stroke="#4f82ba" stroke-width="0.85" opacity="0.9"/>
<path d="M802.4,72.6 L797.7,75.8 L790.0,82.3 L785.5,84.1 L782.1,89.8 L777.0,90.7 L770.7,93.3" fill="none" stroke="#4f82ba" stroke-width="0.85" opacity="0.9"/>
<path d="M849.0,67.1 L852.5,62.7 L860.5,61.8 L864.9,53.9 L869.4,53.5 L873.4,51.2 L875.1,43.4" fill="none" stroke="#4f82ba" stroke-width="0.85" opacity="0.9"/>
<path d="M826.3,58.1 L827.9,52.9 L826.6,44.3 L828.5,36.8 L830.7,30.5 L830.6,23.9 L833.9,16.8" fill="none" stroke="#4f82ba" stroke-width="0.85" opacity="0.9"/>
<path d="M820.7,58.3 L817.3,56.9 L818.6,53.0 L813.0,47.1 L810.9,45.9 L812.6,40.8 L808.7,35.7" fill="none" stroke="#4f82ba" stroke-width="0.85" opacity="0.9"/>
<path d="M836.2,59.3 L836.7,52.4 L841.0,50.1 L840.1,47.0 L842.6,40.0 L843.9,34.6 L849.2,30.2" fill="none" stroke="#4f82ba" stroke-width="0.85" opacity="0.9"/>
<path d="M837.5,79.6 L837.8,86.8 L839.7,91.1 L845.0,92.4 L846.3,97.6 L847.4,101.9 L850.2,110.6" fill="none" stroke="#4f82ba" stroke-width="0.85" opacity="0.9"/>
<path d="M849.6,69.5 L856.3,66.1 L860.2,66.2 L866.2,63.6 L870.1,64.1 L871.5,61.3 L879.6,62.8" fill="none" stroke="#4f82ba" stroke-width="0.85" opacity="0.9"/>
<path d="M835.0,80.2 L834.9,82.0 L832.4,88.9 L834.6,89.7 L831.0,92.8 L833.1,98.5 L831.0,100.7" fill="none" stroke="#4f82ba" stroke-width="0.85" opacity="0.9"/>
<path d="M807.3,62.1 L803.8,56.0 L804.4,53.8 L802.3,48.2 L800.7,45.6 L798.9,44.4 L795.1,36.2" fill="none" stroke="#4f82ba" stroke-width="0.85" opacity="0.9"/>
<path d="M845.9,63.5 L847.7,61.8 L851.9,55.2 L855.3,54.1 L856.8,50.5 L862.3,47.2 L864.1,44.9" fill="none" stroke="#4f82ba" stroke-width="0.85" opacity="0.9"/>
<path d="M835.3,59.1 L835.8,55.1 L835.3,50.5 L840.8,43.4 L839.6,38.4 L840.8,30.6 L844.0,26.4" fill="none" stroke="#4f82ba" stroke-width="0.85" opacity="0.9"/>
<path d="M835.5,80.1 L834.5,81.3 L839.2,85.1 L837.2,90.4 L841.4,93.3 L843.4,94.5 L845.6,100.8" fill="none" stroke="#4f82ba" stroke-width="0.85" opacity="0.9"/>
<path d="M848.6,72.8 L849.1,71.9 L851.3,72.9 L853.9,77.4 L853.2,76.9 L857.8,75.8 L859.8,80.6" fill="none" stroke="#4f82ba" stroke-width="0.85" opacity="0.9"/>
<path d="M807.2,77.0 L803.7,82.0 L802.6,81.8 L796.9,84.6 L794.9,90.7 L793.7,93.1 L790.8,95.6" fill="none" stroke="#4f82ba" stroke-width="0.85" opacity="0.9"/>
<path d="M848.3,73.4 L849.2,76.2 L853.3,79.1 L855.0,80.8 L856.8,86.1 L856.9,87.5 L863.8,93.9" fill="none" stroke="#4f82ba" stroke-width="0.85" opacity="0.9"/>
<path d="M847.7,65.2 L853.6,62.4 L856.3,63.1 L860.4,62.7 L863.7,65.5 L868.0,61.6 L871.4,62.1" fill="none" stroke="#4f82ba" stroke-width="0.85" opacity="0.9"/>
<path d="M848.5,66.1 L848.5,65.9 L854.7,64.8 L853.2,63.8 L856.5,61.5 L856.4,60.7 L859.2,61.4" fill="none" stroke="#4f82ba" stroke-width="0.85" opacity="0.9"/>
<path d="M819.9,80.8 L822.6,85.0 L822.2,88.8 L821.4,92.8 L823.7,95.6 L825.4,98.9 L824.9,101.4" fill="none" stroke="#4f82ba" stroke-width="0.85" opacity="0.9"/>
<path d="M829.9,80.9 L828.5,85.0 L833.8,89.3 L833.4,95.3 L833.1,102.7 L834.3,106.4 L834.7,107.7" fill="none" stroke="#4f82ba" stroke-width="0.85" opacity="0.9"/>
<path d="M842.2,61.3 L842.4,58.9 L841.4,52.7 L846.2,51.7 L842.8,46.1 L844.3,44.2 L846.2,41.5" fill="none" stroke="#4f82ba" stroke-width="0.85" opacity="0.9"/>
<path d="M836.0,59.2 L839.6,55.2 L842.1,52.5 L845.1,45.7 L847.2,41.2 L849.0,40.2 L850.0,38.2" fill="none" stroke="#4f82ba" stroke-width="0.85" opacity="0.9"/>
<path d="M804.0,64.6 L802.5,60.8 L799.8,58.0 L799.1,54.0 L795.5,52.2 L793.4,47.9 L793.5,47.3" fill="none" stroke="#4f82ba" stroke-width="0.85" opacity="0.9"/>
<path d="M801.6,69.6 L797.0,70.8 L796.3,69.1 L795.1,71.1 L791.8,74.4 L789.5,72.0 L784.0,76.3" fill="none" stroke="#4f82ba" stroke-width="0.85" opacity="0.9"/>
<path d="M849.5,70.4 L853.0,71.9 L852.4,73.3 L853.6,71.0 L855.7,70.6 L855.4,71.8 L856.7,73.8" fill="none" stroke="#4f82ba" stroke-width="0.85" opacity="0.9"/>
<path d="M814.9,59.3 L811.4,55.5 L809.4,52.9 L808.3,46.8 L802.8,43.4 L802.6,37.8 L797.3,36.1" fill="none" stroke="#4f82ba" stroke-width="0.85" opacity="0.9"/>
<path d="M837.1,79.7 L836.6,81.8 L837.9,88.8 L837.0,94.3 L836.8,95.5 L832.6,98.9 L833.8,104.0" fill="none" stroke="#4f82ba" stroke-width="0.85" opacity="0.9"/>
<path d="M834.7,80.2 L834.3,86.1 L836.0,84.8 L835.1,91.9 L834.9,94.9 L833.7,96.3 L838.1,101.2" fill="none" stroke="#4f82ba" stroke-width="0.85" opacity="0.9"/>
<path d="M813.8,59.6 L811.6,57.1 L812.0,55.6 L811.2,49.4 L808.0,44.9 L810.2,41.5 L806.0,38.5" fill="none" stroke="#4f82ba" stroke-width="0.85" opacity="0.9"/>
<path d="M801.8,68.0 L795.2,63.3 L794.3,62.5 L789.6,60.4 L782.4,57.7 L777.6,58.6 L775.6,53.5" fill="none" stroke="#4f82ba" stroke-width="0.85" opacity="0.9"/>
<path d="M802.8,73.2 L801.4,75.4 L798.8,73.6 L796.0,70.6 L797.6,74.6 L792.7,74.7 L793.3,71.7" fill="none" stroke="#4f82ba" stroke-width="0.85" opacity="0.9"/>
<path d="M806.4,62.7 L801.0,56.6 L799.2,50.1 L793.0,47.8 L789.8,41.8 L784.4,33.1 L780.8,27.6" fill="none" stroke="#4f82ba" stroke-width="0.85" opacity="0.9"/>
<path d="M849.2,67.6 L851.7,65.0 L853.4,61.4 L854.4,63.2 L857.9,58.2 L859.4,56.4 L862.0,53.2" fill="none" stroke="#4f82ba" stroke-width="0.85" opacity="0.9"/>
<path d="M813.3,59.7 L808.9,54.6 L810.2,50.0 L805.8,49.6 L805.2,42.3 L800.5,41.2 L798.3,38.4" fill="none" stroke="#4f82ba" stroke-width="0.85" opacity="0.9"/>
<path d="M831.9,80.7 L832.9,84.7 L835.5,91.2 L837.8,98.7 L836.4,102.9 L838.9,108.6 L841.6,114.0" fill="none" stroke="#4f82ba" stroke-width="0.85" opacity="0.9"/>
<path d="M801.7,68.7 L797.7,67.9 L795.2,64.7 L790.9,62.1 L786.4,64.4 L783.7,61.9 L779.2,59.9" fill="none" stroke="#4f82ba" stroke-width="0.85" opacity="0.9"/>
<path d="M810.1,78.4 L807.8,81.6 L805.5,88.7 L804.9,91.7 L806.7,98.2 L805.2,103.3 L800.0,105.0" fill="none" stroke="#4f82ba" stroke-width="0.85" opacity="0.9"/>
<path d="M849.2,71.7 L852.5,72.9 L857.7,71.2 L862.1,72.1 L864.8,71.6 L865.9,75.6 L872.8,75.0" fill="none" stroke="#4f82ba" stroke-width="0.85" opacity="0.9"/>
<path d="M848.8,72.5 L849.3,71.8 L849.4,71.3 L853.8,70.5 L856.2,72.4 L857.0,70.7 L857.0,72.7" fill="none" stroke="#4f82ba" stroke-width="0.85" opacity="0.9"/>
<path d="M811.6,78.9 L809.1,78.5 L810.5,83.1 L805.0,83.1 L803.9,87.6 L803.0,90.0 L804.3,87.7" fill="none" stroke="#4f82ba" stroke-width="0.85" opacity="0.9"/>
<path d="M817.4,58.8 L816.4,52.3 L819.7,49.6 L819.6,46.5 L818.7,42.7 L818.2,36.4 L815.3,33.2" fill="none" stroke="#4f82ba" stroke-width="0.85" opacity="0.9"/>
<path d="M804.0,74.6 L801.8,75.7 L797.9,82.9 L792.2,85.0 L792.2,88.8 L786.5,90.3 L780.5,94.2" fill="none" stroke="#4f82ba" stroke-width="0.85" opacity="0.9"/>
<path d="M805.2,75.7 L804.9,79.4 L801.3,80.1 L801.4,84.0 L802.2,86.4 L797.7,91.9 L795.7,93.2" fill="none" stroke="#4f82ba" stroke-width="0.85" opacity="0.9"/>
<path d="M813.6,79.6 L809.4,84.9 L809.1,88.4 L807.4,94.7 L801.7,96.6 L800.4,100.7 L796.4,105.5" fill="none" stroke="#4f82ba" stroke-width="0.85" opacity="0.9"/>
<path d="M833.4,80.5 L834.1,84.8 L835.9,87.9 L836.0,91.6 L842.2,99.8 L839.2,104.2 L845.2,108.0" fill="none" stroke="#4f82ba" stroke-width="0.85" opacity="0.9"/>
<path d="M844.2,76.9 L847.1,76.4 L851.6,81.5 L852.8,85.0 L855.6,83.5 L856.2,84.9 L857.7,90.1" fill="none" stroke="#4f82ba" stroke-width="0.85" opacity="0.9"/>
<path d="M838.4,59.9 L840.3,58.9 L837.1,55.1 L840.7,51.8 L838.3,45.9 L841.0,43.4 L838.9,41.5" fill="none" stroke="#4f82ba" stroke-width="0.85" opacity="0.9"/>
<path d="M809.3,78.0 L807.5,84.4 L806.7,90.5 L805.0,97.4 L800.8,100.9 L797.1,105.6 L797.1,110.3" fill="none" stroke="#4f82ba" stroke-width="0.85" opacity="0.9"/>
<path d="M816.5,59.0 L813.6,53.1 L814.4,50.2 L815.0,45.7 L814.7,46.3 L813.5,40.6 L810.2,38.2" fill="none" stroke="#4f82ba" stroke-width="0.85" opacity="0.9"/>
<path d="M801.7,68.5 L799.6,70.0 L797.9,66.5 L791.9,67.7 L790.3,67.1 L785.6,65.6 L783.3,67.3" fill="none" stroke="#4f82ba" stroke-width="0.85" opacity="0.9"/>
<path d="M849.2,67.5 L856.5,69.3 L860.8,67.8 L865.1,71.7 L868.2,72.7 L876.5,73.5 L880.0,73.8" fill="none" stroke="#4f82ba" stroke-width="0.85" opacity="0.9"/>
<path d="M812.3,79.2 L812.8,84.9 L809.4,91.9 L810.4,97.5 L810.2,103.2 L810.5,108.5 L807.8,113.4" fill="none" stroke="#4f82ba" stroke-width="0.85" opacity="0.9"/>
<path d="M844.1,62.3 L844.3,58.3 L847.0,57.2 L848.2,56.8 L848.3,54.9 L849.2,52.7 L852.9,48.6" fill="none" stroke="#4f82ba" stroke-width="0.85" opacity="0.9"/>
<path d="M805.5,75.9 L804.7,77.7 L804.6,75.4 L804.7,79.2 L799.1,80.5 L799.5,77.9 L801.2,80.6" fill="none" stroke="#4f82ba" stroke-width="0.85" opacity="0.9"/>
<path d="M829.4,58.2 L829.2,54.2 L829.3,52.0 L831.5,47.1 L835.1,44.4 L837.2,42.0 L838.3,38.3" fill="none" stroke="#4f82ba" stroke-width="0.85" opacity="0.9"/>
<path d="M846.4,63.9 L848.8,63.2 L853.6,61.5 L854.0,57.2 L860.2,58.1 L863.3,51.6 L865.9,49.8" fill="none" stroke="#4f82ba" stroke-width="0.85" opacity="0.9"/>
<path d="M802.7,66.1 L798.9,61.3 L791.8,58.6 L790.4,55.6 L782.1,49.2 L777.4,49.5 L773.1,44.6" fill="none" stroke="#4f82ba" stroke-width="0.85" opacity="0.9"/>
<path d="M819.6,80.7 L821.1,86.5 L819.7,93.4 L820.5,95.1 L817.1,101.3 L817.4,110.5 L818.5,111.9" fill="none" stroke="#4f82ba" stroke-width="0.85" opacity="0.9"/>
<path d="M835.5,80.1 L836.4,83.6 L839.3,90.1 L840.5,96.5 L837.5,100.3 L839.2,108.4 L842.1,109.4" fill="none" stroke="#4f82ba" stroke-width="0.85" opacity="0.9"/>
<path d="M837.2,79.7 L838.0,82.8 L837.5,87.8 L840.5,88.8 L842.6,97.5 L841.9,97.2 L846.4,101.7" fill="none" stroke="#4f82ba" stroke-width="0.85" opacity="0.9"/>
<path d="M822.1,81.0 L822.8,88.0 L825.7,88.1 L824.1,96.4 L826.2,101.2 L825.5,105.2 L824.7,108.1" fill="none" stroke="#4f82ba" stroke-width="0.85" opacity="0.9"/>
<path d="M832.3,58.6 L834.8,54.2 L840.5,47.2 L843.4,40.7 L846.4,35.3 L847.4,29.2 L852.2,26.8" fill="none" stroke="#4f82ba" stroke-width="0.85" opacity="0.9"/>
<path d="M801.8,70.9 L798.5,70.6 L794.4,75.7 L794.1,75.1 L792.3,75.8 L787.8,76.1 L786.0,78.8" fill="none" stroke="#4f82ba" stroke-width="0.85" opacity="0.9"/>
<path d="M822.1,58.2 L825.6,53.8 L822.9,47.0 L826.8,46.2 L827.2,40.3 L829.0,36.0 L828.6,29.2" fill="none" stroke="#4f82ba" stroke-width="0.85" opacity="0.9"/>
<path d="M844.9,62.8 L844.5,58.1 L848.5,54.4 L848.2,50.7 L850.5,50.6 L851.9,43.7 L853.6,44.0" fill="none" stroke="#4f82ba" stroke-width="0.85" opacity="0.9"/>
<path d="M806.3,62.8 L805.0,58.3 L803.7,57.5 L806.6,55.3 L806.4,50.5 L802.9,50.5 L804.0,46.0" fill="none" stroke="#4f82ba" stroke-width="0.85" opacity="0.9"/>
<path d="M815.2,59.2 L810.4,56.2 L809.3,52.0 L808.1,47.2 L804.8,42.3 L804.6,41.5 L802.4,35.3" fill="none" stroke="#4f82ba" stroke-width="0.85" opacity="0.9"/>
<path d="M807.5,62.1 L802.1,58.1 L801.5,55.6 L798.1,55.1 L793.0,53.7 L789.4,51.9 L786.0,48.0" fill="none" stroke="#4f82ba" stroke-width="0.85" opacity="0.9"/>
<rect x="799.6" y="56.099999999999994" width="52" height="27" rx="13.5" fill="url(#capg)" stroke="#8a8a8a" stroke-width="0.8"/>
<path d="M836.2,64.5 q-0.1,-10.3 -4.1,-16.7" fill="none" stroke="#4f82ba" stroke-width="0.6" opacity="0.8"/>
<path d="M837.7,65.6 q3.4,-11.8 2.8,-19.5" fill="none" stroke="#4f82ba" stroke-width="0.6" opacity="0.8"/>
<path d="M823.5,64.9 q-7.5,-3.4 -19.1,-2.8" fill="none" stroke="#4f82ba" stroke-width="0.6" opacity="0.8"/>
<path d="M809.4,59.3 q-5.8,-0.8 -15.7,2.4" fill="none" stroke="#4f82ba" stroke-width="0.6" opacity="0.8"/>
<path d="M837.7,66.7 q7.4,-2.4 10.7,-0.7" fill="none" stroke="#4f82ba" stroke-width="0.6" opacity="0.8"/>
<path d="M836.9,61.0 q6.7,-1.2 9.5,1.7" fill="none" stroke="#4f82ba" stroke-width="0.6" opacity="0.8"/>
<path d="M806.2,69.6 q-2.8,-3.7 -9.6,-3.5" fill="none" stroke="#4f82ba" stroke-width="0.6" opacity="0.8"/>
<path d="M844.9,66.8 q5.0,2.1 6.0,8.2" fill="none" stroke="#4f82ba" stroke-width="0.6" opacity="0.8"/>
<path d="M836.1,78.5 q4.2,1.6 4.4,7.1" fill="none" stroke="#4f82ba" stroke-width="0.6" opacity="0.8"/>
<path d="M837.8,64.2 q9.0,-2.8 13.9,-1.5" fill="none" stroke="#4f82ba" stroke-width="0.6" opacity="0.8"/>
<path d="M831.6,66.3 q4.1,-8.4 4.2,-12.8" fill="none" stroke="#4f82ba" stroke-width="0.6" opacity="0.8"/>
<path d="M817.8,78.1 q8.5,3.3 13.1,10.5" fill="none" stroke="#4f82ba" stroke-width="0.6" opacity="0.8"/>
<circle cx="810.7" cy="38.2" r="3.3" fill="url(#au)"/>
<circle cx="828.5" cy="40.2" r="3.3" fill="url(#au)"/>
<circle cx="832.3" cy="43.7" r="3.3" fill="url(#au)"/>
<circle cx="797.8" cy="48.2" r="3.3" fill="url(#au)"/>
<circle cx="848" cy="48.8" r="3.3" fill="url(#au)"/>
<circle cx="824.8" cy="52.6" r="3.3" fill="url(#au)"/>
<circle cx="868.7" cy="51.7" r="3.3" fill="url(#au)"/>
<circle cx="850" cy="54.6" r="3.3" fill="url(#au)"/>
<circle cx="793.2" cy="56.9" r="3.3" fill="url(#au)"/>
<circle cx="799.8" cy="61.7" r="3.3" fill="url(#au)"/>
<circle cx="813.3" cy="63.8" r="3.3" fill="url(#au)"/>
<circle cx="838.6" cy="60.9" r="3.3" fill="url(#au)"/>
<circle cx="860" cy="66" r="3.3" fill="url(#au)"/>
<circle cx="866.7" cy="66.6" r="3.3" fill="url(#au)"/>
<circle cx="779.7" cy="68.9" r="3.3" fill="url(#au)"/>
<circle cx="796" cy="68.4" r="3.3" fill="url(#au)"/>
<circle cx="792.6" cy="74" r="3.3" fill="url(#au)"/>
<circle cx="819.3" cy="73.2" r="3.3" fill="url(#au)"/>
<circle cx="854.4" cy="75.2" r="3.3" fill="url(#au)"/>
<circle cx="843.7" cy="81.3" r="3.3" fill="url(#au)"/>
<circle cx="855.8" cy="85.6" r="3.3" fill="url(#au)"/>
<circle cx="788.3" cy="87" r="3.3" fill="url(#au)"/>
<circle cx="814.2" cy="89.6" r="3.3" fill="url(#au)"/>
<circle cx="830" cy="89" r="3.3" fill="url(#au)"/>
<circle cx="819" cy="104.8" r="3.3" fill="url(#au)"/>
<line x1="721" y1="68.4" x2="762" y2="68.4" stroke="#222" stroke-width="1.1"/><path d="M765.5,68.4 L759,65.6 L759,71.2 Z" fill="#222"/>
<text x="721.7" y="60.3" font-family='"Liberation Sans",sans-serif' font-size="10.5" fill="#222">HAuCl<tspan font-size="7.5" dy="2">4</tspan></text>
<text x="716.5" y="84.7" font-family='"Liberation Sans", sans-serif' font-size="10.5" fill="#222" text-anchor="start" textLength="48.5" lengthAdjust="spacingAndGlyphs" >Na-Citrate</text>
<line x1="883" y1="68.4" x2="925" y2="68.4" stroke="#222" stroke-width="1.1"/><path d="M929,68.4 L922.5,65.6 L922.5,71.2 Z" fill="#222"/>
<text x="897.4" y="64.6" font-family='"Liberation Sans", sans-serif' font-size="9.5" fill="#222" text-anchor="start" textLength="21.5" lengthAdjust="spacingAndGlyphs" >Gold</text>
<text x="876" y="78" font-family='"Liberation Sans", sans-serif' font-size="9.5" fill="#222" text-anchor="start" textLength="64" lengthAdjust="spacingAndGlyphs" >Enhancement</text>
<ellipse cx="1013" cy="73" rx="23" ry="11" fill="#c4c4c4"/>
<ellipse cx="1012" cy="72" rx="30" ry="19" fill="#8c8650" opacity="0.4"/>
<line x1="1031.3" y1="76.6" x2="1053.8" y2="89.1" stroke="#6f9fd0" stroke-width="0.5"/>
<line x1="1000.5" y1="66.0" x2="988.8" y2="49.0" stroke="#6f9fd0" stroke-width="0.5"/>
<line x1="993.1" y1="73.8" x2="956.7" y2="77.3" stroke="#6f9fd0" stroke-width="0.5"/>
<line x1="1030.0" y1="68.3" x2="1037.3" y2="58.9" stroke="#6f9fd0" stroke-width="0.5"/>
<line x1="1008.8" y1="64.2" x2="999.6" y2="27.3" stroke="#6f9fd0" stroke-width="0.5"/>
<line x1="1011.5" y1="64.0" x2="1007.9" y2="36.8" stroke="#6f9fd0" stroke-width="0.5"/>
<line x1="996.2" y1="77.9" x2="974.3" y2="93.6" stroke="#6f9fd0" stroke-width="0.5"/>
<line x1="998.0" y1="78.9" x2="981.5" y2="95.3" stroke="#6f9fd0" stroke-width="0.5"/>
<line x1="1029.8" y1="68.1" x2="1034.2" y2="60.0" stroke="#6f9fd0" stroke-width="0.5"/>
<line x1="1012.5" y1="64.0" x2="1009.7" y2="27.0" stroke="#6f9fd0" stroke-width="0.5"/>
<line x1="993.3" y1="74.5" x2="962.6" y2="80.1" stroke="#6f9fd0" stroke-width="0.5"/>
<line x1="1032.3" y1="75.4" x2="1047.9" y2="81.9" stroke="#6f9fd0" stroke-width="0.5"/>
<line x1="997.2" y1="78.5" x2="965.1" y2="103.5" stroke="#6f9fd0" stroke-width="0.5"/>
<line x1="1014.0" y1="82.0" x2="1013.7" y2="118.4" stroke="#6f9fd0" stroke-width="0.5"/>
<line x1="1030.8" y1="68.9" x2="1039.7" y2="60.4" stroke="#6f9fd0" stroke-width="0.5"/>
<line x1="998.5" y1="79.2" x2="979.9" y2="98.4" stroke="#6f9fd0" stroke-width="0.5"/>
<line x1="1003.4" y1="65.1" x2="987.2" y2="35.4" stroke="#6f9fd0" stroke-width="0.5"/>
<line x1="1005.8" y1="64.6" x2="996.7" y2="41.3" stroke="#6f9fd0" stroke-width="0.5"/>
<line x1="1025.6" y1="66.0" x2="1038.7" y2="43.7" stroke="#6f9fd0" stroke-width="0.5"/>
<line x1="999.7" y1="79.7" x2="976.7" y2="106.3" stroke="#6f9fd0" stroke-width="0.5"/>
<line x1="1031.7" y1="76.2" x2="1048.3" y2="85.2" stroke="#6f9fd0" stroke-width="0.5"/>
<line x1="1003.9" y1="65.0" x2="994.9" y2="45.7" stroke="#6f9fd0" stroke-width="0.5"/>
<line x1="1005.2" y1="64.7" x2="998.8" y2="48.4" stroke="#6f9fd0" stroke-width="0.5"/>
<line x1="1004.0" y1="81.0" x2="987.1" y2="113.7" stroke="#6f9fd0" stroke-width="0.5"/>
<line x1="1031.6" y1="69.7" x2="1050.8" y2="59.3" stroke="#6f9fd0" stroke-width="0.5"/>
<line x1="1028.7" y1="67.4" x2="1052.5" y2="44.5" stroke="#6f9fd0" stroke-width="0.5"/>
<line x1="994.4" y1="69.7" x2="983.8" y2="63.9" stroke="#6f9fd0" stroke-width="0.5"/>
<line x1="1000.9" y1="65.8" x2="992.7" y2="52.2" stroke="#6f9fd0" stroke-width="0.5"/>
<line x1="1027.0" y1="66.6" x2="1040.0" y2="47.5" stroke="#6f9fd0" stroke-width="0.5"/>
<line x1="996.5" y1="78.1" x2="984.2" y2="89.0" stroke="#6f9fd0" stroke-width="0.5"/>
<line x1="994.9" y1="69.1" x2="967.6" y2="55.3" stroke="#6f9fd0" stroke-width="0.5"/>
<line x1="996.8" y1="67.7" x2="964.3" y2="44.1" stroke="#6f9fd0" stroke-width="0.5"/>
<line x1="1003.2" y1="80.9" x2="983.1" y2="116.1" stroke="#6f9fd0" stroke-width="0.5"/>
<line x1="1031.5" y1="69.5" x2="1061.7" y2="54.8" stroke="#6f9fd0" stroke-width="0.5"/>
<line x1="993.7" y1="75.4" x2="978.5" y2="80.6" stroke="#6f9fd0" stroke-width="0.5"/>
<line x1="1022.2" y1="65.0" x2="1028.9" y2="43.1" stroke="#6f9fd0" stroke-width="0.5"/>
<line x1="997.2" y1="67.5" x2="978.8" y2="51.5" stroke="#6f9fd0" stroke-width="0.5"/>
<line x1="1004.8" y1="64.8" x2="999.8" y2="51.4" stroke="#6f9fd0" stroke-width="0.5"/>
<line x1="997.2" y1="78.5" x2="977.9" y2="95.3" stroke="#6f9fd0" stroke-width="0.5"/>
<line x1="994.1" y1="70.1" x2="960.3" y2="58.0" stroke="#6f9fd0" stroke-width="0.5"/>
<line x1="1031.7" y1="76.2" x2="1060.4" y2="88.9" stroke="#6f9fd0" stroke-width="0.5"/>
<line x1="1012.7" y1="64.0" x2="1010.2" y2="32.9" stroke="#6f9fd0" stroke-width="0.5"/>
<line x1="1018.4" y1="64.3" x2="1021.1" y2="42.1" stroke="#6f9fd0" stroke-width="0.5"/>
<line x1="1005.7" y1="81.4" x2="990.5" y2="118.1" stroke="#6f9fd0" stroke-width="0.5"/>
<line x1="1013.3" y1="64.0" x2="1011.6" y2="42.9" stroke="#6f9fd0" stroke-width="0.5"/>
<line x1="1013.8" y1="82.0" x2="1012.2" y2="97.4" stroke="#6f9fd0" stroke-width="0.5"/>
<line x1="999.7" y1="66.3" x2="978.9" y2="42.0" stroke="#6f9fd0" stroke-width="0.5"/>
<line x1="995.9" y1="77.7" x2="975.0" y2="91.8" stroke="#6f9fd0" stroke-width="0.5"/>
<line x1="1012.1" y1="64.0" x2="1008.7" y2="28.0" stroke="#6f9fd0" stroke-width="0.5"/>
<line x1="1031.0" y1="76.9" x2="1058.5" y2="93.0" stroke="#6f9fd0" stroke-width="0.5"/>
<line x1="1017.0" y1="81.8" x2="1021.3" y2="116.4" stroke="#6f9fd0" stroke-width="0.5"/>
<line x1="1019.7" y1="64.5" x2="1030.0" y2="26.9" stroke="#6f9fd0" stroke-width="0.5"/>
<line x1="994.4" y1="69.7" x2="966.0" y2="57.6" stroke="#6f9fd0" stroke-width="0.5"/>
<line x1="1006.1" y1="81.5" x2="1001.6" y2="95.3" stroke="#6f9fd0" stroke-width="0.5"/>
<line x1="993.3" y1="74.6" x2="954.2" y2="81.9" stroke="#6f9fd0" stroke-width="0.5"/>
<line x1="1032.9" y1="73.7" x2="1043.8" y2="75.3" stroke="#6f9fd0" stroke-width="0.5"/>
<line x1="1028.3" y1="67.2" x2="1044.1" y2="49.1" stroke="#6f9fd0" stroke-width="0.5"/>
<line x1="1019.2" y1="81.6" x2="1023.6" y2="106.3" stroke="#6f9fd0" stroke-width="0.5"/>
<line x1="1005.9" y1="64.6" x2="996.3" y2="39.9" stroke="#6f9fd0" stroke-width="0.5"/>
<line x1="1019.5" y1="64.5" x2="1019.9" y2="50.7" stroke="#6f9fd0" stroke-width="0.5"/>
<line x1="1024.4" y1="80.4" x2="1026.2" y2="91.9" stroke="#6f9fd0" stroke-width="0.5"/>
<line x1="993.1" y1="72.3" x2="981.6" y2="71.1" stroke="#6f9fd0" stroke-width="0.5"/>
<line x1="993.0" y1="72.9" x2="965.1" y2="72.4" stroke="#6f9fd0" stroke-width="0.5"/>
<line x1="1018.3" y1="81.7" x2="1021.6" y2="106.1" stroke="#6f9fd0" stroke-width="0.5"/>
<line x1="997.3" y1="67.4" x2="966.0" y2="42.4" stroke="#6f9fd0" stroke-width="0.5"/>
<line x1="1027.4" y1="66.8" x2="1034.0" y2="54.0" stroke="#6f9fd0" stroke-width="0.5"/>
<line x1="1032.9" y1="71.9" x2="1057.6" y2="68.1" stroke="#6f9fd0" stroke-width="0.5"/>
<line x1="1015.6" y1="64.1" x2="1017.5" y2="29.5" stroke="#6f9fd0" stroke-width="0.5"/>
<line x1="1029.9" y1="77.8" x2="1038.8" y2="88.1" stroke="#6f9fd0" stroke-width="0.5"/>
<line x1="1005.7" y1="64.6" x2="992.8" y2="32.9" stroke="#6f9fd0" stroke-width="0.5"/>
<line x1="1028.2" y1="78.9" x2="1042.8" y2="96.5" stroke="#6f9fd0" stroke-width="0.5"/>
<line x1="1002.0" y1="80.5" x2="982.1" y2="111.0" stroke="#6f9fd0" stroke-width="0.5"/>
<line x1="1001.5" y1="65.6" x2="985.5" y2="41.8" stroke="#6f9fd0" stroke-width="0.5"/>
<line x1="1018.7" y1="64.4" x2="1021.0" y2="43.9" stroke="#6f9fd0" stroke-width="0.5"/>
<line x1="1002.7" y1="65.3" x2="983.7" y2="34.0" stroke="#6f9fd0" stroke-width="0.5"/>
<line x1="1016.5" y1="81.9" x2="1019.6" y2="115.3" stroke="#6f9fd0" stroke-width="0.5"/>
<line x1="1018.5" y1="81.6" x2="1024.1" y2="112.1" stroke="#6f9fd0" stroke-width="0.5"/>
<line x1="1019.6" y1="64.5" x2="1029.6" y2="27.2" stroke="#6f9fd0" stroke-width="0.5"/>
<line x1="1015.1" y1="81.9" x2="1015.4" y2="108.4" stroke="#6f9fd0" stroke-width="0.5"/>
<line x1="1003.2" y1="65.1" x2="997.9" y2="52.8" stroke="#6f9fd0" stroke-width="0.5"/>
<circle cx="1005.1" cy="108.8" r="2.5" fill="url(#au2)"/>
<circle cx="1023.3" cy="60.3" r="2.5" fill="url(#au2)"/>
<circle cx="1016.4" cy="104.3" r="2.5" fill="url(#au2)"/>
<circle cx="966.7" cy="54.7" r="2.5" fill="url(#au2)"/>
<circle cx="1056.9" cy="55.0" r="2.5" fill="url(#au2)"/>
<circle cx="1003.2" cy="50.4" r="2.5" fill="url(#au2)"/>
<circle cx="1015.2" cy="108.1" r="2.5" fill="url(#au2)"/>
<circle cx="1019.2" cy="103.6" r="2.5" fill="url(#au2)"/>
<circle cx="984.2" cy="74.5" r="2.5" fill="url(#au2)"/>
<circle cx="1012.8" cy="95.6" r="2.5" fill="url(#au2)"/>
<circle cx="981.9" cy="77.1" r="2.5" fill="url(#au2)"/>
<circle cx="1004.5" cy="61.7" r="2.5" fill="url(#au2)"/>
<circle cx="1015.4" cy="100.3" r="2.5" fill="url(#au2)"/>
<circle cx="1006.2" cy="54.9" r="2.5" fill="url(#au2)"/>
<circle cx="1037.6" cy="80.6" r="2.5" fill="url(#au2)"/>
<circle cx="1011.4" cy="47.4" r="2.5" fill="url(#au2)"/>
<circle cx="996.5" cy="57.9" r="2.5" fill="url(#au2)"/>
<circle cx="1024.4" cy="111.4" r="2.5" fill="url(#au2)"/>
<circle cx="1018.1" cy="86.5" r="2.5" fill="url(#au2)"/>
<circle cx="983.3" cy="85.7" r="2.5" fill="url(#au2)"/>
<circle cx="979.4" cy="50.8" r="2.5" fill="url(#au2)"/>
<circle cx="1032.1" cy="84.9" r="2.5" fill="url(#au2)"/>
<circle cx="1039.1" cy="88.2" r="2.5" fill="url(#au2)"/>
<circle cx="1038.7" cy="43.9" r="2.5" fill="url(#au2)"/>
<circle cx="984.8" cy="94.5" r="2.5" fill="url(#au2)"/>
<circle cx="993.0" cy="57.1" r="2.5" fill="url(#au2)"/>
<circle cx="1000.9" cy="95.8" r="2.5" fill="url(#au2)"/>
<circle cx="997.4" cy="50.6" r="2.5" fill="url(#au2)"/>
<circle cx="1018.0" cy="78.2" r="2.5" fill="url(#au2)"/>
<circle cx="987.9" cy="107.9" r="2.5" fill="url(#au2)"/>
<circle cx="960.0" cy="58.9" r="2.5" fill="url(#au2)"/>
<circle cx="982.4" cy="116.7" r="2.5" fill="url(#au2)"/>
<circle cx="985.9" cy="83.8" r="2.5" fill="url(#au2)"/>
<circle cx="1005.6" cy="56.2" r="2.5" fill="url(#au2)"/>
<circle cx="965.2" cy="69.8" r="2.5" fill="url(#au2)"/>
<circle cx="1036.9" cy="67.7" r="2.5" fill="url(#au2)"/>
<circle cx="1011.0" cy="98.0" r="2.5" fill="url(#au2)"/>
<circle cx="993.7" cy="65.4" r="2.5" fill="url(#au2)"/>
<circle cx="1023.6" cy="47.2" r="2.5" fill="url(#au2)"/>
<circle cx="999.2" cy="59.3" r="2.5" fill="url(#au2)"/>
<circle cx="980.2" cy="89.6" r="2.5" fill="url(#au2)"/>
<circle cx="1020.3" cy="79.2" r="2.5" fill="url(#au2)"/>
<circle cx="1042.5" cy="75.1" r="2.5" fill="url(#au2)"/>
<circle cx="994.4" cy="46.5" r="2.5" fill="url(#au2)"/>
<circle cx="1012.5" cy="42.5" r="2.5" fill="url(#au2)"/>
<circle cx="1012.7" cy="60.1" r="2.5" fill="url(#au2)"/>
<circle cx="1013.5" cy="118.5" r="2.5" fill="url(#au2)"/>
<circle cx="999.8" cy="59.1" r="2.5" fill="url(#au2)"/>
<circle cx="1007.4" cy="93.2" r="2.5" fill="url(#au2)"/>
<circle cx="993.2" cy="64.5" r="2.5" fill="url(#au2)"/>
<circle cx="1005.6" cy="48.2" r="2.5" fill="url(#au2)"/>
<circle cx="990.0" cy="90.4" r="2.5" fill="url(#au2)"/>
<circle cx="972.5" cy="66.8" r="2.5" fill="url(#au2)"/>
<circle cx="985.1" cy="93.7" r="2.5" fill="url(#au2)"/>
<circle cx="1015.7" cy="50.2" r="2.5" fill="url(#au2)"/>
<circle cx="996.3" cy="40.8" r="2.5" fill="url(#au2)"/>
<circle cx="963.3" cy="88.5" r="2.5" fill="url(#au2)"/>
<circle cx="995.3" cy="55.8" r="2.5" fill="url(#au2)"/>
<circle cx="1033.7" cy="67.2" r="2.5" fill="url(#au2)"/>
<circle cx="993.5" cy="56.8" r="2.5" fill="url(#au2)"/>
<circle cx="979.6" cy="63.6" r="2.5" fill="url(#au2)"/>
<circle cx="990.2" cy="88.2" r="2.5" fill="url(#au2)"/>
<circle cx="1022.0" cy="88.7" r="2.5" fill="url(#au2)"/>
<circle cx="987.1" cy="66.7" r="2.5" fill="url(#au2)"/>
<circle cx="1016.0" cy="73.9" r="2.5" fill="url(#au2)"/>
<circle cx="1001.5" cy="86.0" r="2.5" fill="url(#au2)"/>
<circle cx="1015.0" cy="60.5" r="2.5" fill="url(#au2)"/>
<circle cx="1031.8" cy="61.8" r="2.5" fill="url(#au2)"/>
<circle cx="1022.1" cy="105.4" r="2.5" fill="url(#au2)"/>
<circle cx="979.9" cy="99.1" r="2.5" fill="url(#au2)"/>
<circle cx="981.0" cy="86.1" r="2.5" fill="url(#au2)"/>
<circle cx="1040.7" cy="77.2" r="2.5" fill="url(#au2)"/>
<circle cx="1025.9" cy="79.9" r="2.5" fill="url(#au2)"/>
<circle cx="1016.0" cy="86.3" r="2.5" fill="url(#au2)"/>
<circle cx="1026.2" cy="30.7" r="2.5" fill="url(#au2)"/>
<circle cx="1035.3" cy="70.0" r="2.5" fill="url(#au2)"/>
<circle cx="991.2" cy="68.3" r="2.5" fill="url(#au2)"/>
<circle cx="1039.4" cy="73.6" r="2.5" fill="url(#au2)"/>
<circle cx="984.9" cy="57.0" r="2.5" fill="url(#au2)"/>
<circle cx="1039.9" cy="78.4" r="2.5" fill="url(#au2)"/>
<circle cx="1050.1" cy="58.8" r="2.5" fill="url(#au2)"/>
<circle cx="1016.5" cy="94.0" r="2.5" fill="url(#au2)"/>
<circle cx="1029.8" cy="65.1" r="2.5" fill="url(#au2)"/>
<circle cx="1046.3" cy="55.6" r="2.5" fill="url(#au2)"/>
<circle cx="1018.9" cy="68.3" r="2.5" fill="url(#au2)"/>
<circle cx="1039.7" cy="46.9" r="2.5" fill="url(#au2)"/>
<circle cx="1046.7" cy="67.4" r="2.5" fill="url(#au2)"/>
<circle cx="1029.9" cy="31.5" r="2.5" fill="url(#au2)"/>
<circle cx="1010.8" cy="39.0" r="2.5" fill="url(#au2)"/>
<circle cx="1044.7" cy="77.6" r="2.5" fill="url(#au2)"/>
<circle cx="982.9" cy="79.8" r="2.5" fill="url(#au2)"/>
<circle cx="1039.3" cy="79.4" r="2.5" fill="url(#au2)"/>
<circle cx="970.1" cy="67.7" r="2.5" fill="url(#au2)"/>
<circle cx="986.5" cy="107.7" r="2.5" fill="url(#au2)"/>
<circle cx="1000.0" cy="26.6" r="2.5" fill="url(#au2)"/>
<circle cx="971.0" cy="79.0" r="2.5" fill="url(#au2)"/>
<circle cx="1054.1" cy="54.8" r="2.5" fill="url(#au2)"/>
<circle cx="1001.9" cy="60.3" r="2.5" fill="url(#au2)"/>
<circle cx="1048.3" cy="85.6" r="2.5" fill="url(#au2)"/>
<circle cx="1015.0" cy="59.5" r="2.5" fill="url(#au2)"/>
<circle cx="964.7" cy="103.1" r="2.5" fill="url(#au2)"/>
<circle cx="997.1" cy="85.0" r="2.5" fill="url(#au2)"/>
<circle cx="1000.9" cy="87.1" r="2.5" fill="url(#au2)"/>
<circle cx="1007.7" cy="59.2" r="2.5" fill="url(#au2)"/>
<circle cx="1029.6" cy="46.5" r="2.5" fill="url(#au2)"/>
<circle cx="1028.8" cy="60.3" r="2.5" fill="url(#au2)"/>
<circle cx="997.2" cy="56.6" r="2.5" fill="url(#au2)"/>
<circle cx="1014.4" cy="59.6" r="2.5" fill="url(#au2)"/>
<circle cx="1045.2" cy="91.2" r="2.5" fill="url(#au2)"/>
<circle cx="1022.1" cy="108.8" r="2.5" fill="url(#au2)"/>
<circle cx="989.6" cy="81.7" r="2.5" fill="url(#au2)"/>
<circle cx="957.6" cy="76.3" r="2.5" fill="url(#au2)"/>
<circle cx="1018.2" cy="55.3" r="2.5" fill="url(#au2)"/>
<circle cx="1015.1" cy="40.7" r="2.5" fill="url(#au2)"/>
<circle cx="1010.7" cy="43.7" r="2.5" fill="url(#au2)"/>
<circle cx="964.4" cy="72.7" r="2.5" fill="url(#au2)"/>
<circle cx="1021.9" cy="81.5" r="2.5" fill="url(#au2)"/>
<circle cx="987.8" cy="80.4" r="2.5" fill="url(#au2)"/>
<circle cx="1055.3" cy="82.0" r="2.5" fill="url(#au2)"/>
<circle cx="993.9" cy="78.3" r="2.5" fill="url(#au2)"/>
<circle cx="976.5" cy="61.9" r="2.5" fill="url(#au2)"/>
<circle cx="1002.6" cy="61.1" r="2.5" fill="url(#au2)"/>
<circle cx="1029.1" cy="50.7" r="2.5" fill="url(#au2)"/>
<circle cx="1005.7" cy="89.9" r="2.5" fill="url(#au2)"/>
<circle cx="964.8" cy="59.5" r="2.5" fill="url(#au2)"/>
<circle cx="1022.0" cy="117.4" r="2.5" fill="url(#au2)"/>
<circle cx="966.2" cy="58.6" r="2.5" fill="url(#au2)"/>
<circle cx="1036.5" cy="46.8" r="2.5" fill="url(#au2)"/>
<circle cx="1037.1" cy="81.4" r="2.5" fill="url(#au2)"/>
<circle cx="1024.5" cy="80.1" r="2.5" fill="url(#au2)"/>
<circle cx="966.7" cy="42.2" r="2.5" fill="url(#au2)"/>
<circle cx="994.2" cy="92.7" r="2.5" fill="url(#au2)"/>
<circle cx="979.8" cy="55.1" r="2.5" fill="url(#au2)"/>
<circle cx="1012.9" cy="89.2" r="2.5" fill="url(#au2)"/>
<circle cx="1042.0" cy="97.3" r="2.5" fill="url(#au2)"/>
<circle cx="1000.6" cy="59.7" r="2.5" fill="url(#au2)"/>
<circle cx="994.7" cy="114.7" r="2.5" fill="url(#au2)"/>
<circle cx="994.8" cy="65.9" r="2.5" fill="url(#au2)"/>
<circle cx="980.4" cy="51.7" r="2.5" fill="url(#au2)"/>
<circle cx="1039.7" cy="87.3" r="2.5" fill="url(#au2)"/>
<circle cx="1025.7" cy="57.7" r="2.5" fill="url(#au2)"/>
<circle cx="1002.3" cy="51.2" r="2.5" fill="url(#au2)"/>
<circle cx="990.1" cy="38.7" r="2.5" fill="url(#au2)"/>
<circle cx="998.0" cy="86.9" r="2.5" fill="url(#au2)"/>
<circle cx="983.8" cy="65.4" r="2.5" fill="url(#au2)"/>
<circle cx="998.0" cy="43.4" r="2.5" fill="url(#au2)"/>
<circle cx="974.2" cy="59.3" r="2.5" fill="url(#au2)"/>
<circle cx="978.4" cy="93.1" r="2.5" fill="url(#au2)"/>
<circle cx="1030.4" cy="47.1" r="2.5" fill="url(#au2)"/>
<circle cx="1026.3" cy="84.9" r="2.5" fill="url(#au2)"/>
<circle cx="968.8" cy="91.1" r="2.5" fill="url(#au2)"/>
<circle cx="982.8" cy="53.3" r="2.5" fill="url(#au2)"/>
<circle cx="1005.2" cy="63.4" r="2.5" fill="url(#au2)"/>
<circle cx="988.9" cy="80.6" r="2.5" fill="url(#au2)"/>
<circle cx="998.0" cy="53.8" r="2.5" fill="url(#au2)"/>
<circle cx="1018.7" cy="39.6" r="2.5" fill="url(#au2)"/>
<circle cx="1027.3" cy="61.9" r="2.5" fill="url(#au2)"/>
<circle cx="995.5" cy="40.8" r="2.5" fill="url(#au2)"/>
<circle cx="992.4" cy="40.3" r="2.5" fill="url(#au2)"/>
<circle cx="1014.0" cy="64.3" r="2.5" fill="url(#au2)"/>
<circle cx="988.5" cy="89.9" r="2.5" fill="url(#au2)"/>
<circle cx="1038.8" cy="60.9" r="2.5" fill="url(#au2)"/>
<circle cx="989.8" cy="113.2" r="2.5" fill="url(#au2)"/>
<circle cx="1017.6" cy="46.9" r="2.5" fill="url(#au2)"/>
<circle cx="991.7" cy="40.5" r="2.5" fill="url(#au2)"/>
<circle cx="993.6" cy="60.3" r="2.5" fill="url(#au2)"/>
<circle cx="997.8" cy="59.6" r="2.5" fill="url(#au2)"/>
<circle cx="1004.2" cy="94.3" r="2.5" fill="url(#au2)"/>
<circle cx="1058.2" cy="93.1" r="2.5" fill="url(#au2)"/>
<circle cx="984.6" cy="82.6" r="2.5" fill="url(#au2)"/>
<circle cx="976.3" cy="90.2" r="2.5" fill="url(#au2)"/>
<circle cx="1007.0" cy="84.5" r="2.5" fill="url(#au2)"/>
<circle cx="970.0" cy="42.0" r="2.5" fill="url(#au2)"/>
<circle cx="1037.7" cy="64.2" r="2.5" fill="url(#au2)"/>
<circle cx="1025.7" cy="62.3" r="2.5" fill="url(#au2)"/>
<circle cx="1031.9" cy="54.5" r="2.5" fill="url(#au2)"/>
<circle cx="1036.3" cy="86.0" r="2.5" fill="url(#au2)"/>
<circle cx="1023.3" cy="51.9" r="2.5" fill="url(#au2)"/>
<circle cx="984.5" cy="95.7" r="2.5" fill="url(#au2)"/>
<circle cx="990.8" cy="79.3" r="2.5" fill="url(#au2)"/>
<circle cx="1030.4" cy="39.8" r="2.5" fill="url(#au2)"/>
<circle cx="975.8" cy="92.6" r="2.5" fill="url(#au2)"/>
<circle cx="1008.8" cy="102.0" r="2.5" fill="url(#au2)"/>
<circle cx="987.8" cy="59.7" r="2.5" fill="url(#au2)"/>
<circle cx="988.1" cy="104.7" r="2.5" fill="url(#au2)"/>
<circle cx="1001.9" cy="61.5" r="2.5" fill="url(#au2)"/>
<circle cx="1004.2" cy="51.5" r="2.5" fill="url(#au2)"/>
<circle cx="979.6" cy="87.0" r="2.5" fill="url(#au2)"/>
<circle cx="1007.0" cy="72.4" r="2.5" fill="url(#au2)"/>
<circle cx="1022.0" cy="41.5" r="2.5" fill="url(#au2)"/>
<circle cx="1006.6" cy="43.9" r="2.5" fill="url(#au2)"/>
<circle cx="1036.9" cy="59.8" r="2.5" fill="url(#au2)"/>
<circle cx="1019.5" cy="115.0" r="2.5" fill="url(#au2)"/>
<circle cx="1005.9" cy="36.6" r="2.5" fill="url(#au2)"/>
<circle cx="1019.8" cy="92.9" r="2.5" fill="url(#au2)"/>
<circle cx="1033.9" cy="50.1" r="2.5" fill="url(#au2)"/>
<circle cx="990.7" cy="79.0" r="2.5" fill="url(#au2)"/>
<circle cx="1023.1" cy="106.6" r="2.5" fill="url(#au2)"/>
<circle cx="984.9" cy="74.7" r="2.5" fill="url(#au2)"/>
<circle cx="1007.8" cy="54.9" r="2.5" fill="url(#au2)"/>
<circle cx="994.8" cy="54.0" r="2.5" fill="url(#au2)"/>
<circle cx="987.2" cy="58.5" r="2.5" fill="url(#au2)"/>
<circle cx="1033.7" cy="60.0" r="2.5" fill="url(#au2)"/>
<circle cx="985.4" cy="41.4" r="2.5" fill="url(#au2)"/>
<circle cx="1019.1" cy="59.9" r="2.5" fill="url(#au2)"/>
<circle cx="1017.6" cy="52.2" r="2.5" fill="url(#au2)"/>
<circle cx="1023.5" cy="92.8" r="2.5" fill="url(#au2)"/>
<circle cx="992.4" cy="52.9" r="2.5" fill="url(#au2)"/>
<circle cx="1018.0" cy="84.8" r="2.5" fill="url(#au2)"/>
<circle cx="993.1" cy="36.0" r="2.5" fill="url(#au2)"/>
<circle cx="979.7" cy="104.2" r="2.5" fill="url(#au2)"/>
<circle cx="1020.9" cy="55.8" r="2.5" fill="url(#au2)"/>
<circle cx="980.9" cy="65.9" r="2.5" fill="url(#au2)"/>
<circle cx="1008.3" cy="56.7" r="2.5" fill="url(#au2)"/>
<circle cx="1011.2" cy="56.1" r="2.5" fill="url(#au2)"/>
<circle cx="989.6" cy="72.9" r="2.5" fill="url(#au2)"/>
<circle cx="1008.3" cy="60.8" r="2.5" fill="url(#au2)"/>
<circle cx="1057.7" cy="85.9" r="2.5" fill="url(#au2)"/>
<circle cx="1040.2" cy="56.4" r="2.5" fill="url(#au2)"/>
<circle cx="1020.7" cy="50.3" r="2.5" fill="url(#au2)"/>
<circle cx="1016.9" cy="43.0" r="2.5" fill="url(#au2)"/>
<circle cx="983.3" cy="69.5" r="2.5" fill="url(#au2)"/>
<circle cx="959.5" cy="72.7" r="2.5" fill="url(#au2)"/>
<circle cx="1041.0" cy="63.8" r="2.5" fill="url(#au2)"/>
<circle cx="1016.6" cy="50.4" r="2.5" fill="url(#au2)"/>
<circle cx="990.0" cy="63.7" r="2.5" fill="url(#au2)"/>
<circle cx="991.4" cy="79.5" r="2.5" fill="url(#au2)"/>
<circle cx="1003.7" cy="58.1" r="2.5" fill="url(#au2)"/>
<circle cx="976.3" cy="41.1" r="2.5" fill="url(#au2)"/>
<circle cx="989.8" cy="75.0" r="2.5" fill="url(#au2)"/>
<circle cx="976.9" cy="99.4" r="2.5" fill="url(#au2)"/>
<circle cx="1014.9" cy="94.0" r="2.5" fill="url(#au2)"/>
<circle cx="1020.3" cy="110.7" r="2.5" fill="url(#au2)"/>
<circle cx="993.7" cy="89.2" r="2.5" fill="url(#au2)"/>
<circle cx="976.9" cy="102.3" r="2.5" fill="url(#au2)"/>
<circle cx="985.3" cy="98.6" r="2.5" fill="url(#au2)"/>
<circle cx="1026.8" cy="65.2" r="2.5" fill="url(#au2)"/>
<circle cx="990.1" cy="43.8" r="2.5" fill="url(#au2)"/>
<circle cx="1001.9" cy="97.1" r="2.5" fill="url(#au2)"/>
<circle cx="1002.0" cy="55.7" r="2.5" fill="url(#au2)"/>
<circle cx="1034.3" cy="60.0" r="2.5" fill="url(#au2)"/>
<circle cx="1052.3" cy="65.3" r="2.5" fill="url(#au2)"/>
<circle cx="1038.4" cy="86.4" r="2.5" fill="url(#au2)"/>
<circle cx="1046.1" cy="86.4" r="2.5" fill="url(#au2)"/>
<circle cx="989.4" cy="74.9" r="2.5" fill="url(#au2)"/>
<circle cx="979.5" cy="98.7" r="2.5" fill="url(#au2)"/>
<circle cx="972.7" cy="55.1" r="2.5" fill="url(#au2)"/>
<circle cx="1005.3" cy="60.0" r="2.5" fill="url(#au2)"/>
<circle cx="1049.3" cy="91.1" r="2.5" fill="url(#au2)"/>
<circle cx="994.2" cy="84.4" r="2.5" fill="url(#au2)"/>
<circle cx="1030.2" cy="72.3" r="2.5" fill="url(#au2)"/>
<circle cx="1048.1" cy="61.0" r="2.5" fill="url(#au2)"/>
<circle cx="1034.4" cy="65.6" r="2.5" fill="url(#au2)"/>
<circle cx="1047.0" cy="78.0" r="2.5" fill="url(#au2)"/>
<circle cx="993.5" cy="60.4" r="2.5" fill="url(#au2)"/>
<circle cx="1042.1" cy="67.7" r="2.5" fill="url(#au2)"/>
<circle cx="987.1" cy="65.3" r="2.5" fill="url(#au2)"/>
<circle cx="1035.2" cy="63.4" r="2.5" fill="url(#au2)"/>
<circle cx="1038.5" cy="78.2" r="2.5" fill="url(#au2)"/>
<circle cx="997.6" cy="66.3" r="2.5" fill="url(#au2)"/>
<circle cx="983.4" cy="92.7" r="2.5" fill="url(#au2)"/>
<circle cx="991.2" cy="40.8" r="2.5" fill="url(#au2)"/>
<circle cx="1039.5" cy="69.8" r="2.5" fill="url(#au2)"/>
<circle cx="984.3" cy="68.4" r="2.5" fill="url(#au2)"/>
<circle cx="1034.3" cy="78.6" r="2.5" fill="url(#au2)"/>
<circle cx="1011.8" cy="51.5" r="2.5" fill="url(#au2)"/>
<circle cx="1003.0" cy="52.5" r="2.5" fill="url(#au2)"/>
<circle cx="971.6" cy="56.2" r="2.5" fill="url(#au2)"/>
<circle cx="983.7" cy="58.1" r="2.5" fill="url(#au2)"/>
<circle cx="1022.1" cy="61.8" r="2.5" fill="url(#au2)"/>
<circle cx="1044.3" cy="48.4" r="2.5" fill="url(#au2)"/>
<circle cx="992.4" cy="49.9" r="2.5" fill="url(#au2)"/>
<circle cx="1007.6" cy="40.8" r="2.5" fill="url(#au2)"/>
<circle cx="996.0" cy="55.7" r="2.5" fill="url(#au2)"/>
<circle cx="994.6" cy="53.4" r="2.5" fill="url(#au2)"/>
<circle cx="991.2" cy="63.1" r="2.5" fill="url(#au2)"/>
<circle cx="1021.0" cy="86.0" r="2.5" fill="url(#au2)"/>
<circle cx="1010.4" cy="33.5" r="2.5" fill="url(#au2)"/>
<circle cx="1038.7" cy="88.5" r="2.5" fill="url(#au2)"/>
<circle cx="1001.6" cy="49.3" r="2.5" fill="url(#au2)"/>
<circle cx="1001.6" cy="61.5" r="2.5" fill="url(#au2)"/>
<circle cx="994.7" cy="51.0" r="2.5" fill="url(#au2)"/>
<circle cx="986.7" cy="62.0" r="2.5" fill="url(#au2)"/>
<circle cx="1005.6" cy="39.8" r="2.5" fill="url(#au2)"/>
<circle cx="989.7" cy="56.3" r="2.5" fill="url(#au2)"/>
<circle cx="1030.1" cy="63.3" r="2.5" fill="url(#au2)"/>
<circle cx="1043.5" cy="84.9" r="2.5" fill="url(#au2)"/>
<circle cx="1016.0" cy="45.1" r="2.5" fill="url(#au2)"/>
<circle cx="992.1" cy="92.1" r="2.5" fill="url(#au2)"/>
<circle cx="1033.4" cy="56.8" r="2.5" fill="url(#au2)"/>
<circle cx="1046.4" cy="78.2" r="2.5" fill="url(#au2)"/>
<circle cx="976.0" cy="54.7" r="2.5" fill="url(#au2)"/>
<circle cx="1014.3" cy="86.2" r="2.5" fill="url(#au2)"/>
<circle cx="1038.3" cy="66.3" r="2.5" fill="url(#au2)"/>
<circle cx="1044.3" cy="54.1" r="2.5" fill="url(#au2)"/>
<circle cx="998.0" cy="62.5" r="2.5" fill="url(#au2)"/>
<circle cx="998.0" cy="53.2" r="2.5" fill="url(#au2)"/>
<circle cx="1017.3" cy="71.7" r="2.5" fill="url(#au2)"/>
<circle cx="1017.2" cy="86.7" r="2.5" fill="url(#au2)"/>
<circle cx="989.7" cy="60.5" r="2.5" fill="url(#au2)"/>
<circle cx="983.9" cy="63.1" r="2.5" fill="url(#au2)"/>
<circle cx="1018.4" cy="47.8" r="2.5" fill="url(#au2)"/>
<circle cx="1009.7" cy="50.8" r="2.5" fill="url(#au2)"/>
<circle cx="974.0" cy="100.5" r="2.5" fill="url(#au2)"/>
<circle cx="1043.5" cy="61.0" r="2.5" fill="url(#au2)"/>
<circle cx="1037.0" cy="73.5" r="2.5" fill="url(#au2)"/>
<circle cx="1016.3" cy="84.1" r="2.5" fill="url(#au2)"/>
<circle cx="1023.5" cy="90.8" r="2.5" fill="url(#au2)"/>
<circle cx="1020.4" cy="104.4" r="2.5" fill="url(#au2)"/>
<circle cx="1031.0" cy="35.1" r="2.5" fill="url(#au2)"/>
<circle cx="989.4" cy="57.9" r="2.5" fill="url(#au2)"/>
<circle cx="1029.5" cy="42.9" r="2.5" fill="url(#au2)"/>
<circle cx="1007.1" cy="48.4" r="2.5" fill="url(#au2)"/>
<circle cx="994.6" cy="63.3" r="2.5" fill="url(#au2)"/>
<circle cx="1026.1" cy="75.0" r="2.5" fill="url(#au2)"/>
<circle cx="1013.2" cy="50.4" r="2.5" fill="url(#au2)"/>
<circle cx="1039.7" cy="60.0" r="2.5" fill="url(#au2)"/>
<circle cx="1046.5" cy="79.3" r="2.5" fill="url(#au2)"/>
<circle cx="1013.4" cy="34.0" r="2.5" fill="url(#au2)"/>
<circle cx="1023.0" cy="91.8" r="2.5" fill="url(#au2)"/>
<circle cx="1008.8" cy="55.6" r="2.5" fill="url(#au2)"/>
<circle cx="1012.5" cy="89.9" r="2.5" fill="url(#au2)"/>
<circle cx="1021.7" cy="52.0" r="2.5" fill="url(#au2)"/>
<circle cx="985.4" cy="102.7" r="2.5" fill="url(#au2)"/>
<circle cx="1014.3" cy="57.1" r="2.5" fill="url(#au2)"/>
<circle cx="1031.4" cy="62.9" r="2.5" fill="url(#au2)"/>
<circle cx="1021.8" cy="43.0" r="2.5" fill="url(#au2)"/>
<circle cx="985.2" cy="82.7" r="2.5" fill="url(#au2)"/>
<circle cx="1050.0" cy="53.8" r="2.5" fill="url(#au2)"/>
<circle cx="997.9" cy="49.8" r="2.5" fill="url(#au2)"/>
<circle cx="980.6" cy="84.7" r="2.5" fill="url(#au2)"/>
<circle cx="987.0" cy="91.0" r="2.5" fill="url(#au2)"/>
<circle cx="999.6" cy="84.0" r="2.5" fill="url(#au2)"/>
<circle cx="1034.5" cy="66.5" r="2.5" fill="url(#au2)"/>
<circle cx="980.2" cy="46.1" r="2.5" fill="url(#au2)"/>
<circle cx="1006.0" cy="83.5" r="2.5" fill="url(#au2)"/>
<circle cx="1000.8" cy="58.7" r="2.5" fill="url(#au2)"/>
<circle cx="987.8" cy="93.3" r="2.5" fill="url(#au2)"/>
<circle cx="983.9" cy="33.2" r="2.5" fill="url(#au2)"/>
<circle cx="996.6" cy="82.4" r="2.5" fill="url(#au2)"/>
<circle cx="1031.6" cy="57.1" r="2.5" fill="url(#au2)"/>
<circle cx="980.6" cy="42.0" r="2.5" fill="url(#au2)"/>
<circle cx="1041.9" cy="64.5" r="2.5" fill="url(#au2)"/>
<circle cx="1017.8" cy="52.2" r="2.5" fill="url(#au2)"/>
<circle cx="982.8" cy="87.3" r="2.5" fill="url(#au2)"/>
<circle cx="1013.5" cy="81.8" r="2.5" fill="url(#au2)"/>
<circle cx="999.1" cy="90.7" r="2.5" fill="url(#au2)"/>
<circle cx="978.9" cy="81.5" r="2.5" fill="url(#au2)"/>
<circle cx="988.0" cy="114.7" r="2.5" fill="url(#au2)"/>
<circle cx="1023.6" cy="34.4" r="2.5" fill="url(#au2)"/>
<circle cx="963.8" cy="43.5" r="2.5" fill="url(#au2)"/>
<circle cx="1039.7" cy="73.7" r="2.5" fill="url(#au2)"/>
<circle cx="981.7" cy="71.7" r="2.5" fill="url(#au2)"/>
<circle cx="994.4" cy="83.6" r="2.5" fill="url(#au2)"/>
<circle cx="983.0" cy="85.3" r="2.5" fill="url(#au2)"/>
<circle cx="1042.8" cy="56.7" r="2.5" fill="url(#au2)"/>
<circle cx="1039.0" cy="65.5" r="2.5" fill="url(#au2)"/>
<circle cx="1016.2" cy="85.7" r="2.5" fill="url(#au2)"/>
<circle cx="980.6" cy="74.5" r="2.5" fill="url(#au2)"/>
<circle cx="1036.1" cy="82.3" r="2.5" fill="url(#au2)"/>
<circle cx="1034.7" cy="77.6" r="2.5" fill="url(#au2)"/>
<circle cx="1008.4" cy="60.1" r="2.5" fill="url(#au2)"/>
<circle cx="1031.7" cy="80.5" r="2.5" fill="url(#au2)"/>
<circle cx="1013.2" cy="46.1" r="2.5" fill="url(#au2)"/>
<circle cx="972.1" cy="74.8" r="2.5" fill="url(#au2)"/>
<circle cx="1022.8" cy="80.0" r="2.5" fill="url(#au2)"/>
<circle cx="1034.7" cy="66.5" r="2.5" fill="url(#au2)"/>
<circle cx="980.0" cy="89.2" r="2.5" fill="url(#au2)"/>
<circle cx="1002.1" cy="62.3" r="2.5" fill="url(#au2)"/>
<circle cx="990.6" cy="118.5" r="2.5" fill="url(#au2)"/>
<circle cx="1010.2" cy="37.7" r="2.5" fill="url(#au2)"/>
<circle cx="954.9" cy="81.2" r="2.5" fill="url(#au2)"/>
<circle cx="1022.6" cy="62.0" r="2.5" fill="url(#au2)"/>
<circle cx="1040.9" cy="74.7" r="2.5" fill="url(#au2)"/>
<circle cx="1045.0" cy="61.8" r="2.5" fill="url(#au2)"/>
<circle cx="971.7" cy="62.1" r="2.5" fill="url(#au2)"/>
<circle cx="1002.1" cy="56.7" r="2.5" fill="url(#au2)"/>
<circle cx="995.8" cy="80.9" r="2.5" fill="url(#au2)"/>
<circle cx="1059.5" cy="88.7" r="2.5" fill="url(#au2)"/>
<circle cx="1014.9" cy="98.1" r="2.5" fill="url(#au2)"/>
<circle cx="1002.3" cy="63.9" r="2.5" fill="url(#au2)"/>
<circle cx="969.8" cy="51.8" r="2.5" fill="url(#au2)"/>
<circle cx="1022.4" cy="74.4" r="2.5" fill="url(#au2)"/>
<circle cx="1047.9" cy="57.8" r="2.5" fill="url(#au2)"/>
<circle cx="1040.8" cy="84.6" r="2.5" fill="url(#au2)"/>
<circle cx="1018.8" cy="101.8" r="2.5" fill="url(#au2)"/>
<circle cx="1017.0" cy="102.1" r="2.5" fill="url(#au2)"/>
<circle cx="1031.9" cy="52.3" r="2.5" fill="url(#au2)"/>
<circle cx="988.4" cy="92.2" r="2.5" fill="url(#au2)"/>
<circle cx="978.8" cy="66.0" r="2.5" fill="url(#au2)"/>
<circle cx="976.1" cy="75.1" r="2.5" fill="url(#au2)"/>
<circle cx="1009.3" cy="98.4" r="2.5" fill="url(#au2)"/>
<circle cx="1009.0" cy="58.1" r="2.5" fill="url(#au2)"/>
<circle cx="1042.0" cy="80.7" r="2.5" fill="url(#au2)"/>
<circle cx="1028.8" cy="55.2" r="2.5" fill="url(#au2)"/>
<circle cx="1009.0" cy="92.1" r="2.5" fill="url(#au2)"/>
<circle cx="991.5" cy="80.7" r="2.5" fill="url(#au2)"/>
<circle cx="1044.5" cy="66.5" r="2.5" fill="url(#au2)"/>
<circle cx="1020.2" cy="37.4" r="2.5" fill="url(#au2)"/>
<circle cx="1007.4" cy="107.2" r="2.5" fill="url(#au2)"/>
<circle cx="976.8" cy="65.4" r="2.5" fill="url(#au2)"/>
<circle cx="1036.5" cy="62.3" r="2.5" fill="url(#au2)"/>
<circle cx="980.4" cy="67.8" r="2.5" fill="url(#au2)"/>
<circle cx="1047.8" cy="81.0" r="2.5" fill="url(#au2)"/>
<circle cx="1020.8" cy="107.7" r="2.5" fill="url(#au2)"/>
<circle cx="1014.4" cy="72.7" r="2.5" fill="url(#au2)"/>
<circle cx="1025.5" cy="53.6" r="2.5" fill="url(#au2)"/>
<circle cx="995.1" cy="82.5" r="2.5" fill="url(#au2)"/>
<circle cx="1018.9" cy="88.4" r="2.5" fill="url(#au2)"/>
<circle cx="1024.8" cy="55.2" r="2.5" fill="url(#au2)"/>
<circle cx="1000.6" cy="53.3" r="2.5" fill="url(#au2)"/>
<circle cx="975.0" cy="73.4" r="2.5" fill="url(#au2)"/>
<circle cx="973.1" cy="72.5" r="2.5" fill="url(#au2)"/>
<circle cx="983.9" cy="95.5" r="2.5" fill="url(#au2)"/>
<circle cx="988.3" cy="48.7" r="2.5" fill="url(#au2)"/>
<circle cx="977.6" cy="94.5" r="2.5" fill="url(#au2)"/>
<circle cx="991.4" cy="38.1" r="2.5" fill="url(#au2)"/>
<circle cx="1032.8" cy="53.8" r="2.5" fill="url(#au2)"/>
<circle cx="991.1" cy="52.6" r="2.5" fill="url(#au2)"/>
<circle cx="1000.0" cy="47.4" r="2.5" fill="url(#au2)"/>
<circle cx="1000.7" cy="51.7" r="2.5" fill="url(#au2)"/>
<circle cx="992.3" cy="87.9" r="2.5" fill="url(#au2)"/>
<circle cx="1042.7" cy="63.0" r="2.5" fill="url(#au2)"/>
<circle cx="1012.2" cy="35.9" r="2.5" fill="url(#au2)"/>
<circle cx="1008.6" cy="32.7" r="2.5" fill="url(#au2)"/>
<circle cx="988.8" cy="64.3" r="2.5" fill="url(#au2)"/>
<circle cx="981.3" cy="98.0" r="2.5" fill="url(#au2)"/>
<circle cx="1024.2" cy="54.5" r="2.5" fill="url(#au2)"/>
<circle cx="1024.8" cy="49.8" r="2.5" fill="url(#au2)"/>
<circle cx="1014.6" cy="98.0" r="2.5" fill="url(#au2)"/>
<circle cx="984.0" cy="84.5" r="2.5" fill="url(#au2)"/>
<circle cx="1020.8" cy="59.9" r="2.5" fill="url(#au2)"/>
<circle cx="963.4" cy="80.8" r="2.5" fill="url(#au2)"/>
<circle cx="1015.4" cy="86.6" r="2.5" fill="url(#au2)"/>
<circle cx="1050.0" cy="87.5" r="2.5" fill="url(#au2)"/>
<circle cx="989.1" cy="96.0" r="2.5" fill="url(#au2)"/>
<circle cx="1043.7" cy="74.4" r="2.5" fill="url(#au2)"/>
<circle cx="1017.5" cy="48.4" r="2.5" fill="url(#au2)"/>
<circle cx="1000.0" cy="52.2" r="2.5" fill="url(#au2)"/>
<circle cx="1005.9" cy="110.5" r="2.5" fill="url(#au2)"/>
<circle cx="1014.7" cy="87.7" r="2.5" fill="url(#au2)"/>
<circle cx="1048.6" cy="61.8" r="2.5" fill="url(#au2)"/>
<circle cx="1023.4" cy="50.4" r="2.5" fill="url(#au2)"/>
<circle cx="989.3" cy="70.1" r="2.5" fill="url(#au2)"/>
<circle cx="990.4" cy="87.3" r="2.5" fill="url(#au2)"/>
<circle cx="1020.6" cy="99.7" r="2.5" fill="url(#au2)"/>
<circle cx="1011.6" cy="39.4" r="2.5" fill="url(#au2)"/>
<circle cx="980.0" cy="74.2" r="2.5" fill="url(#au2)"/>
<circle cx="1018.0" cy="96.6" r="2.5" fill="url(#au2)"/>
<circle cx="984.2" cy="89.6" r="2.5" fill="url(#au2)"/>
<circle cx="993.6" cy="86.9" r="2.5" fill="url(#au2)"/>
<circle cx="1001.7" cy="55.3" r="2.5" fill="url(#au2)"/>
<circle cx="975.7" cy="90.2" r="2.5" fill="url(#au2)"/>
<circle cx="1007.0" cy="43.6" r="2.5" fill="url(#au2)"/>
<circle cx="1038.9" cy="59.9" r="2.5" fill="url(#au2)"/>
<circle cx="1041.3" cy="81.2" r="2.5" fill="url(#au2)"/>
<circle cx="990.8" cy="45.0" r="2.5" fill="url(#au2)"/>
<circle cx="1028.1" cy="87.1" r="2.5" fill="url(#au2)"/>
<circle cx="1012.5" cy="98.3" r="2.5" fill="url(#au2)"/>
<circle cx="1002.5" cy="50.6" r="2.5" fill="url(#au2)"/>
<circle cx="1024.1" cy="58.1" r="2.5" fill="url(#au2)"/>
<circle cx="993.8" cy="44.7" r="2.5" fill="url(#au2)"/>
<circle cx="982.7" cy="85.2" r="2.5" fill="url(#au2)"/>
<circle cx="996.3" cy="58.8" r="2.5" fill="url(#au2)"/>
<circle cx="958.7" cy="85.8" r="2.5" fill="url(#au2)"/>
<circle cx="1038.2" cy="73.0" r="2.5" fill="url(#au2)"/>
<circle cx="974.9" cy="64.0" r="2.5" fill="url(#au2)"/>
<circle cx="1005.2" cy="60.7" r="2.5" fill="url(#au2)"/>
<circle cx="1017.8" cy="59.2" r="2.5" fill="url(#au2)"/>
<circle cx="1036.1" cy="76.0" r="2.5" fill="url(#au2)"/>
<circle cx="1003.9" cy="105.7" r="2.5" fill="url(#au2)"/>
<circle cx="975.2" cy="93.4" r="2.5" fill="url(#au2)"/>
<circle cx="991.8" cy="56.6" r="2.5" fill="url(#au2)"/>
<circle cx="985.0" cy="77.1" r="2.5" fill="url(#au2)"/>
<circle cx="967.5" cy="62.5" r="2.5" fill="url(#au2)"/>
<circle cx="1013.9" cy="86.5" r="2.5" fill="url(#au2)"/>
<circle cx="989.8" cy="115.5" r="2.5" fill="url(#au2)"/>
<circle cx="984.7" cy="41.3" r="2.5" fill="url(#au2)"/>
<circle cx="1014.3" cy="53.8" r="2.5" fill="url(#au2)"/>
<circle cx="1027.2" cy="63.1" r="2.5" fill="url(#au2)"/>
<circle cx="967.4" cy="68.3" r="2.5" fill="url(#au2)"/>
<circle cx="996.7" cy="86.1" r="2.5" fill="url(#au2)"/>
<circle cx="991.2" cy="36.4" r="2.5" fill="url(#au2)"/>
<circle cx="1035.6" cy="83.2" r="2.5" fill="url(#au2)"/>
<circle cx="1010.4" cy="35.4" r="2.5" fill="url(#au2)"/>
<circle cx="1033.1" cy="53.9" r="2.5" fill="url(#au2)"/>
<circle cx="1030.5" cy="42.8" r="2.5" fill="url(#au2)"/>
<circle cx="1042.6" cy="89.4" r="2.5" fill="url(#au2)"/>
<circle cx="989.8" cy="43.7" r="2.5" fill="url(#au2)"/>
<circle cx="1043.5" cy="91.3" r="2.5" fill="url(#au2)"/>
<circle cx="1026.7" cy="89.7" r="2.5" fill="url(#au2)"/>
<circle cx="1016.0" cy="55.8" r="2.5" fill="url(#au2)"/>
<circle cx="1031.0" cy="66.0" r="2.5" fill="url(#au2)"/>
<circle cx="988.1" cy="37.0" r="2.5" fill="url(#au2)"/>
<circle cx="982.4" cy="95.6" r="2.5" fill="url(#au2)"/>
<circle cx="987.1" cy="34.5" r="2.5" fill="url(#au2)"/>
<circle cx="1054.5" cy="92.1" r="2.5" fill="url(#au2)"/>
<circle cx="994.8" cy="45.4" r="2.5" fill="url(#au2)"/>
<circle cx="1006.5" cy="52.3" r="2.5" fill="url(#au2)"/>
<circle cx="1053.2" cy="89.6" r="2.5" fill="url(#au2)"/>
<circle cx="1006.1" cy="86.8" r="2.5" fill="url(#au2)"/>
<circle cx="1017.9" cy="30.5" r="2.5" fill="url(#au2)"/>
<circle cx="1022.0" cy="48.1" r="2.5" fill="url(#au2)"/>
<circle cx="1044.4" cy="62.6" r="2.5" fill="url(#au2)"/>
<circle cx="1001.5" cy="61.7" r="2.5" fill="url(#au2)"/>
<circle cx="1029.4" cy="26.4" r="2.5" fill="url(#au2)"/>
<circle cx="992.9" cy="86.5" r="2.5" fill="url(#au2)"/>
<circle cx="981.9" cy="84.2" r="2.5" fill="url(#au2)"/>
<circle cx="1009.0" cy="56.7" r="2.5" fill="url(#au2)"/>
<circle cx="999.6" cy="63.2" r="2.5" fill="url(#au2)"/>
<circle cx="978.6" cy="41.2" r="2.5" fill="url(#au2)"/>
<circle cx="996.0" cy="53.1" r="2.5" fill="url(#au2)"/>
<circle cx="997.9" cy="47.9" r="2.5" fill="url(#au2)"/>
<circle cx="995.0" cy="82.4" r="2.5" fill="url(#au2)"/>
<circle cx="1026.8" cy="91.2" r="2.5" fill="url(#au2)"/>
<circle cx="1043.5" cy="86.2" r="2.5" fill="url(#au2)"/>
<circle cx="996.4" cy="62.1" r="2.5" fill="url(#au2)"/>
<circle cx="1044.0" cy="82.5" r="2.5" fill="url(#au2)"/>
<circle cx="1019.0" cy="95.9" r="2.5" fill="url(#au2)"/>
<circle cx="978.1" cy="78.5" r="2.5" fill="url(#au2)"/>
<circle cx="1043.7" cy="75.9" r="2.5" fill="url(#au2)"/>
<circle cx="973.0" cy="91.7" r="2.5" fill="url(#au2)"/>
<circle cx="1016.4" cy="89.8" r="2.5" fill="url(#au2)"/>
<circle cx="993.7" cy="56.0" r="2.5" fill="url(#au2)"/>
<circle cx="1009.9" cy="57.7" r="2.5" fill="url(#au2)"/>
<circle cx="997.0" cy="45.0" r="2.5" fill="url(#au2)"/>
<circle cx="992.2" cy="84.8" r="2.5" fill="url(#au2)"/>
<circle cx="1009.3" cy="27.9" r="2.5" fill="url(#au2)"/>
<circle cx="991.2" cy="94.4" r="2.5" fill="url(#au2)"/>
<circle cx="1002.2" cy="84.9" r="2.5" fill="url(#au2)"/>
<circle cx="1000.9" cy="111.7" r="2.5" fill="url(#au2)"/>
<circle cx="1041.3" cy="81.8" r="2.5" fill="url(#au2)"/>
<circle cx="979.2" cy="94.5" r="2.5" fill="url(#au2)"/>
<circle cx="1013.3" cy="105.9" r="2.5" fill="url(#au2)"/>
<circle cx="1003.0" cy="66.7" r="2.5" fill="url(#au2)"/>
<circle cx="988.7" cy="81.2" r="2.5" fill="url(#au2)"/>
<circle cx="1045.7" cy="82.9" r="2.5" fill="url(#au2)"/>
<circle cx="1007.5" cy="51.9" r="2.5" fill="url(#au2)"/>
<circle cx="986.5" cy="89.2" r="2.5" fill="url(#au2)"/>
<circle cx="1026.8" cy="54.7" r="2.5" fill="url(#au2)"/>
<circle cx="1035.2" cy="59.0" r="2.5" fill="url(#au2)"/>
<circle cx="1012.0" cy="93.3" r="2.5" fill="url(#au2)"/>
<circle cx="993.4" cy="53.1" r="2.5" fill="url(#au2)"/>
<circle cx="1013.4" cy="79.3" r="2.5" fill="url(#au2)"/>
<circle cx="1001.1" cy="87.1" r="2.5" fill="url(#au2)"/>
<circle cx="996.1" cy="56.6" r="2.5" fill="url(#au2)"/>
<circle cx="1019.1" cy="74.8" r="2.5" fill="url(#au2)"/>
<circle cx="1043.7" cy="60.6" r="2.5" fill="url(#au2)"/>
<circle cx="1008.4" cy="28.4" r="2.5" fill="url(#au2)"/>
<circle cx="1017.5" cy="89.1" r="2.5" fill="url(#au2)"/>
<circle cx="990.0" cy="69.7" r="2.5" fill="url(#au2)"/>
<circle cx="982.5" cy="55.4" r="2.5" fill="url(#au2)"/>
<circle cx="998.2" cy="49.2" r="2.5" fill="url(#au2)"/>
<circle cx="1049.6" cy="54.4" r="2.5" fill="url(#au2)"/>
<circle cx="982.2" cy="95.8" r="2.5" fill="url(#au2)"/>
<circle cx="998.0" cy="56.5" r="2.5" fill="url(#au2)"/>
<circle cx="969.7" cy="73.3" r="2.5" fill="url(#au2)"/>
<circle cx="989.1" cy="71.0" r="2.5" fill="url(#au2)"/>
<circle cx="990.7" cy="77.0" r="2.5" fill="url(#au2)"/>
<circle cx="997.3" cy="46.5" r="2.5" fill="url(#au2)"/>
<circle cx="1001.1" cy="83.8" r="2.5" fill="url(#au2)"/>
<circle cx="1039.7" cy="65.8" r="2.5" fill="url(#au2)"/>
<circle cx="1004.2" cy="49.0" r="2.5" fill="url(#au2)"/>
<circle cx="989.6" cy="73.2" r="2.5" fill="url(#au2)"/>
<circle cx="1036.4" cy="72.6" r="2.5" fill="url(#au2)"/>
<circle cx="1012.2" cy="93.2" r="2.5" fill="url(#au2)"/>
<circle cx="987.6" cy="82.9" r="2.5" fill="url(#au2)"/>
<circle cx="1050.6" cy="81.2" r="2.5" fill="url(#au2)"/>
<circle cx="1011.0" cy="59.4" r="2.5" fill="url(#au2)"/>
<circle cx="986.5" cy="77.7" r="2.5" fill="url(#au2)"/>
<circle cx="1032.6" cy="80.7" r="2.5" fill="url(#au2)"/>
<circle cx="1003.2" cy="62.1" r="2.5" fill="url(#au2)"/>
<circle cx="1007.0" cy="36.8" r="2.5" fill="url(#au2)"/>
<circle cx="987.3" cy="68.0" r="2.5" fill="url(#au2)"/>
<circle cx="987.7" cy="55.8" r="2.5" fill="url(#au2)"/>
<circle cx="1024.7" cy="57.1" r="2.5" fill="url(#au2)"/>
<circle cx="1030.4" cy="59.8" r="2.5" fill="url(#au2)"/>
<circle cx="1034.8" cy="78.3" r="2.5" fill="url(#au2)"/>
<circle cx="1012.3" cy="60.9" r="2.5" fill="url(#au2)"/>
<circle cx="991.5" cy="66.1" r="2.5" fill="url(#au2)"/>
<circle cx="987.1" cy="80.6" r="2.5" fill="url(#au2)"/>
<circle cx="1018.2" cy="112.4" r="2.5" fill="url(#au2)"/>
<circle cx="1050.8" cy="50.0" r="2.5" fill="url(#au2)"/>
<circle cx="990.4" cy="90.2" r="2.5" fill="url(#au2)"/>
<circle cx="1005.5" cy="48.6" r="2.5" fill="url(#au2)"/>
<circle cx="1006.3" cy="52.9" r="2.5" fill="url(#au2)"/>
<circle cx="980.5" cy="89.4" r="2.5" fill="url(#au2)"/>
<circle cx="1009.0" cy="59.6" r="2.5" fill="url(#au2)"/>
<circle cx="981.9" cy="66.6" r="2.5" fill="url(#au2)"/>
<circle cx="989.3" cy="48.3" r="2.5" fill="url(#au2)"/>
<circle cx="995.9" cy="89.5" r="2.5" fill="url(#au2)"/>
<circle cx="1021.9" cy="51.4" r="2.5" fill="url(#au2)"/>
<circle cx="1016.3" cy="52.0" r="2.5" fill="url(#au2)"/>
<circle cx="1015.7" cy="84.7" r="2.5" fill="url(#au2)"/>
<circle cx="995.7" cy="40.2" r="2.5" fill="url(#au2)"/>
<circle cx="983.8" cy="57.1" r="2.5" fill="url(#au2)"/>
<circle cx="1033.4" cy="78.4" r="2.5" fill="url(#au2)"/>
<circle cx="992.9" cy="46.0" r="2.5" fill="url(#au2)"/>
<circle cx="1005.3" cy="45.1" r="2.5" fill="url(#au2)"/>
<circle cx="996.6" cy="80.8" r="2.5" fill="url(#au2)"/>
<circle cx="988.0" cy="100.6" r="2.5" fill="url(#au2)"/>
<circle cx="1040.6" cy="52.5" r="2.5" fill="url(#au2)"/>
<circle cx="1061.2" cy="54.2" r="2.5" fill="url(#au2)"/>
<circle cx="983.1" cy="110.7" r="2.5" fill="url(#au2)"/>
<circle cx="1023.5" cy="97.6" r="2.5" fill="url(#au2)"/>
<circle cx="967.8" cy="61.3" r="2.5" fill="url(#au2)"/>
<circle cx="1002.0" cy="101.8" r="2.5" fill="url(#au2)"/>
<circle cx="999.3" cy="53.6" r="2.5" fill="url(#au2)"/>
<circle cx="1028.2" cy="69.5" r="2.5" fill="url(#au2)"/>
<circle cx="992.5" cy="32.2" r="2.5" fill="url(#au2)"/>
<circle cx="1000.5" cy="61.9" r="2.5" fill="url(#au2)"/>
<circle cx="1032.4" cy="52.6" r="2.5" fill="url(#au2)"/>
<circle cx="999.4" cy="90.2" r="2.5" fill="url(#au2)"/>
<circle cx="1010.6" cy="102.3" r="2.5" fill="url(#au2)"/>
<circle cx="966.5" cy="47.3" r="2.5" fill="url(#au2)"/>
<circle cx="1024.1" cy="102.5" r="2.5" fill="url(#au2)"/>
<circle cx="1052.1" cy="43.7" r="2.5" fill="url(#au2)"/>
<circle cx="986.3" cy="55.2" r="2.5" fill="url(#au2)"/>
<circle cx="1045.9" cy="60.3" r="2.5" fill="url(#au2)"/>
<circle cx="984.1" cy="74.5" r="2.5" fill="url(#au2)"/>
<circle cx="1009.3" cy="93.3" r="2.5" fill="url(#au2)"/>
<circle cx="1024.1" cy="81.0" r="2.5" fill="url(#au2)"/>
<circle cx="1046.6" cy="65.7" r="2.5" fill="url(#au2)"/>
<circle cx="980.2" cy="92.4" r="2.5" fill="url(#au2)"/>
<circle cx="966.7" cy="80.2" r="2.5" fill="url(#au2)"/>
<circle cx="1001.4" cy="58.2" r="2.5" fill="url(#au2)"/>
<circle cx="999.6" cy="55.4" r="2.5" fill="url(#au2)"/>
<circle cx="976.5" cy="107.0" r="2.5" fill="url(#au2)"/>
<circle cx="988.6" cy="96.9" r="2.5" fill="url(#au2)"/>
<circle cx="996.0" cy="31.4" r="2.5" fill="url(#au2)"/>
<circle cx="981.3" cy="89.4" r="2.5" fill="url(#au2)"/>
<circle cx="1010.3" cy="114.0" r="2.5" fill="url(#au2)"/>
<circle cx="1001.3" cy="41.3" r="2.5" fill="url(#au2)"/>
<circle cx="998.4" cy="48.2" r="2.5" fill="url(#au2)"/>
<circle cx="968.9" cy="102.9" r="2.5" fill="url(#au2)"/>
<circle cx="1028.6" cy="28.1" r="2.5" fill="url(#au2)"/>
<circle cx="1058.5" cy="67.8" r="2.5" fill="url(#au2)"/>
<circle cx="1015.0" cy="109.4" r="2.5" fill="url(#au2)"/>
<circle cx="973.7" cy="77.8" r="2.5" fill="url(#au2)"/>
<circle cx="1013.4" cy="90.4" r="2.5" fill="url(#au2)"/>
<circle cx="1017.9" cy="55.1" r="2.5" fill="url(#au2)"/>
<circle cx="1010.7" cy="87.6" r="2.5" fill="url(#au2)"/>
<circle cx="991.0" cy="83.1" r="2.5" fill="url(#au2)"/>
<circle cx="1009.4" cy="31.4" r="2.5" fill="url(#au2)"/>
<circle cx="986.6" cy="83.6" r="2.5" fill="url(#au2)"/>
<circle cx="981.1" cy="69.0" r="2.5" fill="url(#au2)"/>
<circle cx="1015.1" cy="43.1" r="2.5" fill="url(#au2)"/>
<circle cx="978.3" cy="97.0" r="2.5" fill="url(#au2)"/>
<circle cx="1024.2" cy="58.1" r="2.5" fill="url(#au2)"/>
<circle cx="1031.8" cy="83.7" r="2.5" fill="url(#au2)"/>
<circle cx="1010.2" cy="86.7" r="2.5" fill="url(#au2)"/>
<circle cx="991.8" cy="46.2" r="2.5" fill="url(#au2)"/>
<polygon points="1101.4,66.1 1187.6,17.4 1288.4,52.6 1215.4,124.8" fill="#7b7b7b"/>
<polygon points="1101.4,66.1 1215.4,124.8 1215.4,127.6 1101.4,68.6" fill="#5a5a5a"/>
<polygon points="1215.4,124.8 1288.4,52.6 1288.4,55.4 1215.4,127.6" fill="#4e4e4e"/>
<polyline points="1126.5,63.7 1213,102.6 1266.2,52.6" fill="none" stroke="#d2bc20" stroke-width="2.6" stroke-linejoin="miter"/>
<line x1="1182" y1="22" x2="1263.2" y2="50.6" stroke="#d2bc20" stroke-width="2.2"/>
<line x1="1132.7" y1="66.5" x2="1181.4" y2="29.3" stroke="#d2bc20" stroke-width="1.5"/>
<line x1="1194.0" y1="26.4" x2="1145.5" y2="64.1" stroke="#d2bc20" stroke-width="1.5"/>
<line x1="1145.0" y1="72.0" x2="1193.4" y2="33.8" stroke="#d2bc20" stroke-width="1.5"/>
<line x1="1206.1" y1="30.7" x2="1157.8" y2="69.5" stroke="#d2bc20" stroke-width="1.5"/>
<line x1="1157.4" y1="77.6" x2="1205.5" y2="38.3" stroke="#d2bc20" stroke-width="1.5"/>
<line x1="1218.1" y1="35.1" x2="1170.1" y2="74.9" stroke="#d2bc20" stroke-width="1.5"/>
<line x1="1169.8" y1="83.2" x2="1217.6" y2="42.8" stroke="#d2bc20" stroke-width="1.5"/>
<line x1="1230.1" y1="39.5" x2="1182.4" y2="80.4" stroke="#d2bc20" stroke-width="1.5"/>
<line x1="1182.1" y1="88.7" x2="1229.6" y2="47.3" stroke="#d2bc20" stroke-width="1.5"/>
<line x1="1242.1" y1="43.9" x2="1194.7" y2="85.8" stroke="#d2bc20" stroke-width="1.5"/>
<line x1="1194.5" y1="94.3" x2="1241.7" y2="51.8" stroke="#d2bc20" stroke-width="1.5"/>
<line x1="1254.2" y1="48.2" x2="1207.1" y2="91.2" stroke="#d2bc20" stroke-width="1.5"/>
<line x1="1206.8" y1="99.8" x2="1253.8" y2="56.3" stroke="#d2bc20" stroke-width="1.5"/>
<polygon points="1140,62 1175,36 1198,22 1246,44 1250,52 1232,72 1200,86 1165,78" fill="#6a6018" opacity="0.55"/>
<circle cx="1195.6" cy="19.1" r="1.7" fill="url(#au2)"/>
<circle cx="1195.3" cy="19.7" r="1.7" fill="url(#au2)"/>
<circle cx="1195.2" cy="21.2" r="1.7" fill="url(#au2)"/>
<circle cx="1202.3" cy="21.2" r="1.7" fill="url(#au2)"/>
<circle cx="1192.3" cy="22.2" r="1.7" fill="url(#au2)"/>
<circle cx="1197.6" cy="22.3" r="1.7" fill="url(#au2)"/>
<circle cx="1195.7" cy="22.7" r="1.7" fill="url(#au2)"/>
<circle cx="1198.9" cy="22.7" r="1.7" fill="url(#au2)"/>
<circle cx="1198.5" cy="23.4" r="1.7" fill="url(#au2)"/>
<circle cx="1191.2" cy="24.2" r="1.7" fill="url(#au2)"/>
<circle cx="1193.9" cy="24.4" r="1.7" fill="url(#au2)"/>
<circle cx="1208.2" cy="24.5" r="1.7" fill="url(#au2)"/>
<circle cx="1195.7" cy="24.8" r="1.7" fill="url(#au2)"/>
<circle cx="1195.0" cy="24.9" r="1.7" fill="url(#au2)"/>
<circle cx="1198.8" cy="25.4" r="1.7" fill="url(#au2)"/>
<circle cx="1192.3" cy="25.5" r="1.7" fill="url(#au2)"/>
<circle cx="1199.0" cy="25.7" r="1.7" fill="url(#au2)"/>
<circle cx="1195.2" cy="25.7" r="1.7" fill="url(#au2)"/>
<circle cx="1198.3" cy="25.8" r="1.7" fill="url(#au2)"/>
<circle cx="1196.2" cy="25.9" r="1.7" fill="url(#au2)"/>
<circle cx="1207.7" cy="26.0" r="1.7" fill="url(#au2)"/>
<circle cx="1206.2" cy="26.0" r="1.7" fill="url(#au2)"/>
<circle cx="1187.5" cy="26.2" r="1.7" fill="url(#au2)"/>
<circle cx="1191.0" cy="26.3" r="1.7" fill="url(#au2)"/>
<circle cx="1204.0" cy="26.6" r="1.7" fill="url(#au2)"/>
<circle cx="1208.3" cy="26.7" r="1.7" fill="url(#au2)"/>
<circle cx="1197.6" cy="26.7" r="1.7" fill="url(#au2)"/>
<circle cx="1207.6" cy="26.9" r="1.7" fill="url(#au2)"/>
<circle cx="1198.0" cy="27.0" r="1.7" fill="url(#au2)"/>
<circle cx="1199.3" cy="27.1" r="1.7" fill="url(#au2)"/>
<circle cx="1194.1" cy="27.5" r="1.7" fill="url(#au2)"/>
<circle cx="1207.8" cy="27.7" r="1.7" fill="url(#au2)"/>
<circle cx="1209.9" cy="28.0" r="1.7" fill="url(#au2)"/>
<circle cx="1191.0" cy="28.1" r="1.7" fill="url(#au2)"/>
<circle cx="1216.3" cy="28.2" r="1.7" fill="url(#au2)"/>
<circle cx="1215.0" cy="28.9" r="1.7" fill="url(#au2)"/>
<circle cx="1201.1" cy="29.0" r="1.7" fill="url(#au2)"/>
<circle cx="1207.4" cy="29.0" r="1.7" fill="url(#au2)"/>
<circle cx="1202.6" cy="29.0" r="1.7" fill="url(#au2)"/>
<circle cx="1194.6" cy="29.2" r="1.7" fill="url(#au2)"/>
<circle cx="1195.5" cy="29.3" r="1.7" fill="url(#au2)"/>
<circle cx="1209.1" cy="29.4" r="1.7" fill="url(#au2)"/>
<circle cx="1184.9" cy="29.5" r="1.7" fill="url(#au2)"/>
<circle cx="1214.8" cy="29.5" r="1.7" fill="url(#au2)"/>
<circle cx="1185.3" cy="29.7" r="1.7" fill="url(#au2)"/>
<circle cx="1208.6" cy="29.7" r="1.7" fill="url(#au2)"/>
<circle cx="1200.8" cy="30.0" r="1.7" fill="url(#au2)"/>
<circle cx="1208.1" cy="30.1" r="1.7" fill="url(#au2)"/>
<circle cx="1197.4" cy="30.1" r="1.7" fill="url(#au2)"/>
<circle cx="1192.9" cy="30.1" r="1.7" fill="url(#au2)"/>
<circle cx="1187.7" cy="30.2" r="1.7" fill="url(#au2)"/>
<circle cx="1187.8" cy="30.6" r="1.7" fill="url(#au2)"/>
<circle cx="1220.4" cy="30.6" r="1.7" fill="url(#au2)"/>
<circle cx="1191.5" cy="30.6" r="1.7" fill="url(#au2)"/>
<circle cx="1197.5" cy="30.7" r="1.7" fill="url(#au2)"/>
<circle cx="1182.1" cy="30.9" r="1.7" fill="url(#au2)"/>
<circle cx="1199.8" cy="31.0" r="1.7" fill="url(#au2)"/>
<circle cx="1194.1" cy="31.0" r="1.7" fill="url(#au2)"/>
<circle cx="1206.1" cy="31.1" r="1.7" fill="url(#au2)"/>
<circle cx="1217.4" cy="31.1" r="1.7" fill="url(#au2)"/>
<circle cx="1193.9" cy="31.1" r="1.7" fill="url(#au2)"/>
<circle cx="1187.6" cy="31.3" r="1.7" fill="url(#au2)"/>
<circle cx="1196.7" cy="31.3" r="1.7" fill="url(#au2)"/>
<circle cx="1218.1" cy="31.4" r="1.7" fill="url(#au2)"/>
<circle cx="1214.8" cy="31.5" r="1.7" fill="url(#au2)"/>
<circle cx="1210.4" cy="31.5" r="1.7" fill="url(#au2)"/>
<circle cx="1198.2" cy="31.6" r="1.7" fill="url(#au2)"/>
<circle cx="1180.9" cy="32.0" r="1.7" fill="url(#au2)"/>
<circle cx="1191.9" cy="32.1" r="1.7" fill="url(#au2)"/>
<circle cx="1201.6" cy="32.1" r="1.7" fill="url(#au2)"/>
<circle cx="1200.8" cy="32.2" r="1.7" fill="url(#au2)"/>
<circle cx="1217.5" cy="32.2" r="1.7" fill="url(#au2)"/>
<circle cx="1213.5" cy="32.3" r="1.7" fill="url(#au2)"/>
<circle cx="1210.4" cy="32.3" r="1.7" fill="url(#au2)"/>
<circle cx="1186.6" cy="32.3" r="1.7" fill="url(#au2)"/>
<circle cx="1213.0" cy="32.4" r="1.7" fill="url(#au2)"/>
<circle cx="1186.0" cy="32.4" r="1.7" fill="url(#au2)"/>
<circle cx="1185.1" cy="32.4" r="1.7" fill="url(#au2)"/>
<circle cx="1180.9" cy="32.7" r="1.7" fill="url(#au2)"/>
<circle cx="1185.3" cy="32.8" r="1.7" fill="url(#au2)"/>
<circle cx="1213.7" cy="33.2" r="1.7" fill="url(#au2)"/>
<circle cx="1178.0" cy="33.5" r="1.7" fill="url(#au2)"/>
<circle cx="1213.6" cy="33.5" r="1.7" fill="url(#au2)"/>
<circle cx="1200.0" cy="33.7" r="1.7" fill="url(#au2)"/>
<circle cx="1201.9" cy="33.7" r="1.7" fill="url(#au2)"/>
<circle cx="1225.8" cy="33.7" r="1.7" fill="url(#au2)"/>
<circle cx="1228.2" cy="33.8" r="1.7" fill="url(#au2)"/>
<circle cx="1183.1" cy="33.8" r="1.7" fill="url(#au2)"/>
<circle cx="1219.6" cy="33.9" r="1.7" fill="url(#au2)"/>
<circle cx="1196.3" cy="34.0" r="1.7" fill="url(#au2)"/>
<circle cx="1222.8" cy="34.2" r="1.7" fill="url(#au2)"/>
<circle cx="1224.9" cy="34.2" r="1.7" fill="url(#au2)"/>
<circle cx="1198.0" cy="34.3" r="1.7" fill="url(#au2)"/>
<circle cx="1207.0" cy="34.4" r="1.7" fill="url(#au2)"/>
<circle cx="1195.1" cy="34.5" r="1.7" fill="url(#au2)"/>
<circle cx="1199.3" cy="34.6" r="1.7" fill="url(#au2)"/>
<circle cx="1188.6" cy="34.9" r="1.7" fill="url(#au2)"/>
<circle cx="1182.0" cy="35.0" r="1.7" fill="url(#au2)"/>
<circle cx="1200.2" cy="35.1" r="1.7" fill="url(#au2)"/>
<circle cx="1198.5" cy="35.2" r="1.7" fill="url(#au2)"/>
<circle cx="1225.3" cy="35.3" r="1.7" fill="url(#au2)"/>
<circle cx="1189.9" cy="35.3" r="1.7" fill="url(#au2)"/>
<circle cx="1195.3" cy="35.4" r="1.7" fill="url(#au2)"/>
<circle cx="1215.3" cy="35.4" r="1.7" fill="url(#au2)"/>
<circle cx="1198.9" cy="35.6" r="1.7" fill="url(#au2)"/>
<circle cx="1211.3" cy="35.6" r="1.7" fill="url(#au2)"/>
<circle cx="1181.1" cy="35.7" r="1.7" fill="url(#au2)"/>
<circle cx="1206.9" cy="35.8" r="1.7" fill="url(#au2)"/>
<circle cx="1200.2" cy="35.9" r="1.7" fill="url(#au2)"/>
<circle cx="1188.6" cy="36.1" r="1.7" fill="url(#au2)"/>
<circle cx="1209.1" cy="36.1" r="1.7" fill="url(#au2)"/>
<circle cx="1199.9" cy="36.3" r="1.7" fill="url(#au2)"/>
<circle cx="1202.6" cy="36.4" r="1.7" fill="url(#au2)"/>
<circle cx="1183.8" cy="36.5" r="1.7" fill="url(#au2)"/>
<circle cx="1214.7" cy="36.5" r="1.7" fill="url(#au2)"/>
<circle cx="1188.0" cy="36.6" r="1.7" fill="url(#au2)"/>
<circle cx="1214.7" cy="36.6" r="1.7" fill="url(#au2)"/>
<circle cx="1200.7" cy="36.7" r="1.7" fill="url(#au2)"/>
<circle cx="1193.0" cy="36.8" r="1.7" fill="url(#au2)"/>
<circle cx="1218.5" cy="37.0" r="1.7" fill="url(#au2)"/>
<circle cx="1207.4" cy="37.1" r="1.7" fill="url(#au2)"/>
<circle cx="1203.1" cy="37.2" r="1.7" fill="url(#au2)"/>
<circle cx="1188.0" cy="37.2" r="1.7" fill="url(#au2)"/>
<circle cx="1211.9" cy="37.3" r="1.7" fill="url(#au2)"/>
<circle cx="1212.8" cy="37.3" r="1.7" fill="url(#au2)"/>
<circle cx="1184.4" cy="37.4" r="1.7" fill="url(#au2)"/>
<circle cx="1180.5" cy="37.4" r="1.7" fill="url(#au2)"/>
<circle cx="1204.4" cy="37.4" r="1.7" fill="url(#au2)"/>
<circle cx="1224.0" cy="37.4" r="1.7" fill="url(#au2)"/>
<circle cx="1218.1" cy="37.5" r="1.7" fill="url(#au2)"/>
<circle cx="1232.9" cy="37.5" r="1.7" fill="url(#au2)"/>
<circle cx="1179.3" cy="37.5" r="1.7" fill="url(#au2)"/>
<circle cx="1176.2" cy="37.7" r="1.7" fill="url(#au2)"/>
<circle cx="1203.5" cy="37.8" r="1.7" fill="url(#au2)"/>
<circle cx="1237.9" cy="37.8" r="1.7" fill="url(#au2)"/>
<circle cx="1220.4" cy="37.8" r="1.7" fill="url(#au2)"/>
<circle cx="1218.8" cy="37.9" r="1.7" fill="url(#au2)"/>
<circle cx="1191.6" cy="38.0" r="1.7" fill="url(#au2)"/>
<circle cx="1222.2" cy="38.0" r="1.7" fill="url(#au2)"/>
<circle cx="1210.5" cy="38.0" r="1.7" fill="url(#au2)"/>
<circle cx="1225.3" cy="38.0" r="1.7" fill="url(#au2)"/>
<circle cx="1206.2" cy="38.1" r="1.7" fill="url(#au2)"/>
<circle cx="1196.4" cy="38.1" r="1.7" fill="url(#au2)"/>
<circle cx="1191.8" cy="38.2" r="1.7" fill="url(#au2)"/>
<circle cx="1186.5" cy="38.2" r="1.7" fill="url(#au2)"/>
<circle cx="1193.2" cy="38.2" r="1.7" fill="url(#au2)"/>
<circle cx="1229.1" cy="38.4" r="1.7" fill="url(#au2)"/>
<circle cx="1189.2" cy="38.5" r="1.7" fill="url(#au2)"/>
<circle cx="1194.8" cy="38.5" r="1.7" fill="url(#au2)"/>
<circle cx="1212.6" cy="38.5" r="1.7" fill="url(#au2)"/>
<circle cx="1210.6" cy="38.5" r="1.7" fill="url(#au2)"/>
<circle cx="1177.6" cy="38.6" r="1.7" fill="url(#au2)"/>
<circle cx="1190.5" cy="38.7" r="1.7" fill="url(#au2)"/>
<circle cx="1219.2" cy="38.7" r="1.7" fill="url(#au2)"/>
<circle cx="1208.1" cy="38.7" r="1.7" fill="url(#au2)"/>
<circle cx="1199.3" cy="38.7" r="1.7" fill="url(#au2)"/>
<circle cx="1220.9" cy="38.8" r="1.7" fill="url(#au2)"/>
<circle cx="1171.6" cy="38.9" r="1.7" fill="url(#au2)"/>
<circle cx="1223.9" cy="39.0" r="1.7" fill="url(#au2)"/>
<circle cx="1209.4" cy="39.0" r="1.7" fill="url(#au2)"/>
<circle cx="1206.4" cy="39.0" r="1.7" fill="url(#au2)"/>
<circle cx="1192.1" cy="39.1" r="1.7" fill="url(#au2)"/>
<circle cx="1201.5" cy="39.5" r="1.7" fill="url(#au2)"/>
<circle cx="1221.7" cy="39.5" r="1.7" fill="url(#au2)"/>
<circle cx="1198.1" cy="39.7" r="1.7" fill="url(#au2)"/>
<circle cx="1177.2" cy="39.7" r="1.7" fill="url(#au2)"/>
<circle cx="1228.9" cy="39.8" r="1.7" fill="url(#au2)"/>
<circle cx="1178.5" cy="40.0" r="1.7" fill="url(#au2)"/>
<circle cx="1211.7" cy="40.1" r="1.7" fill="url(#au2)"/>
<circle cx="1185.1" cy="40.2" r="1.7" fill="url(#au2)"/>
<circle cx="1211.0" cy="40.2" r="1.7" fill="url(#au2)"/>
<circle cx="1232.2" cy="40.3" r="1.7" fill="url(#au2)"/>
<circle cx="1208.6" cy="40.3" r="1.7" fill="url(#au2)"/>
<circle cx="1225.5" cy="40.3" r="1.7" fill="url(#au2)"/>
<circle cx="1218.7" cy="40.3" r="1.7" fill="url(#au2)"/>
<circle cx="1206.0" cy="40.4" r="1.7" fill="url(#au2)"/>
<circle cx="1217.5" cy="40.4" r="1.7" fill="url(#au2)"/>
<circle cx="1234.5" cy="40.4" r="1.7" fill="url(#au2)"/>
<circle cx="1203.3" cy="40.6" r="1.7" fill="url(#au2)"/>
<circle cx="1207.3" cy="40.6" r="1.7" fill="url(#au2)"/>
<circle cx="1174.4" cy="40.8" r="1.7" fill="url(#au2)"/>
<circle cx="1174.6" cy="40.8" r="1.7" fill="url(#au2)"/>
<circle cx="1169.4" cy="40.8" r="1.7" fill="url(#au2)"/>
<circle cx="1229.0" cy="40.9" r="1.7" fill="url(#au2)"/>
<circle cx="1194.2" cy="40.9" r="1.7" fill="url(#au2)"/>
<circle cx="1201.1" cy="41.0" r="1.7" fill="url(#au2)"/>
<circle cx="1183.2" cy="41.0" r="1.7" fill="url(#au2)"/>
<circle cx="1185.0" cy="41.1" r="1.7" fill="url(#au2)"/>
<circle cx="1215.9" cy="41.2" r="1.7" fill="url(#au2)"/>
<circle cx="1193.5" cy="41.2" r="1.7" fill="url(#au2)"/>
<circle cx="1244.1" cy="41.2" r="1.7" fill="url(#au2)"/>
<circle cx="1170.6" cy="41.5" r="1.7" fill="url(#au2)"/>
<circle cx="1213.2" cy="41.6" r="1.7" fill="url(#au2)"/>
<circle cx="1199.6" cy="41.7" r="1.7" fill="url(#au2)"/>
<circle cx="1215.1" cy="41.8" r="1.7" fill="url(#au2)"/>
<circle cx="1197.3" cy="41.9" r="1.7" fill="url(#au2)"/>
<circle cx="1178.4" cy="41.9" r="1.7" fill="url(#au2)"/>
<circle cx="1231.9" cy="41.9" r="1.7" fill="url(#au2)"/>
<circle cx="1242.2" cy="42.2" r="1.7" fill="url(#au2)"/>
<circle cx="1232.6" cy="42.2" r="1.7" fill="url(#au2)"/>
<circle cx="1201.3" cy="42.3" r="1.7" fill="url(#au2)"/>
<circle cx="1224.9" cy="42.3" r="1.7" fill="url(#au2)"/>
<circle cx="1177.7" cy="42.3" r="1.7" fill="url(#au2)"/>
<circle cx="1188.5" cy="42.3" r="1.7" fill="url(#au2)"/>
<circle cx="1212.3" cy="42.4" r="1.7" fill="url(#au2)"/>
<circle cx="1196.3" cy="42.4" r="1.7" fill="url(#au2)"/>
<circle cx="1171.5" cy="42.4" r="1.7" fill="url(#au2)"/>
<circle cx="1172.1" cy="42.5" r="1.7" fill="url(#au2)"/>
<circle cx="1189.3" cy="42.5" r="1.7" fill="url(#au2)"/>
<circle cx="1191.3" cy="42.5" r="1.7" fill="url(#au2)"/>
<circle cx="1167.8" cy="42.5" r="1.7" fill="url(#au2)"/>
<circle cx="1176.0" cy="42.5" r="1.7" fill="url(#au2)"/>
<circle cx="1178.3" cy="42.6" r="1.7" fill="url(#au2)"/>
<circle cx="1186.3" cy="42.8" r="1.7" fill="url(#au2)"/>
<circle cx="1195.6" cy="42.9" r="1.7" fill="url(#au2)"/>
<circle cx="1216.5" cy="42.9" r="1.7" fill="url(#au2)"/>
<circle cx="1244.7" cy="42.9" r="1.7" fill="url(#au2)"/>
<circle cx="1213.0" cy="42.9" r="1.7" fill="url(#au2)"/>
<circle cx="1173.6" cy="42.9" r="1.7" fill="url(#au2)"/>
<circle cx="1177.7" cy="43.0" r="1.7" fill="url(#au2)"/>
<circle cx="1197.6" cy="43.0" r="1.7" fill="url(#au2)"/>
<circle cx="1178.6" cy="43.0" r="1.7" fill="url(#au2)"/>
<circle cx="1211.4" cy="43.2" r="1.7" fill="url(#au2)"/>
<circle cx="1179.2" cy="43.3" r="1.7" fill="url(#au2)"/>
<circle cx="1167.2" cy="43.3" r="1.7" fill="url(#au2)"/>
<circle cx="1197.2" cy="43.4" r="1.7" fill="url(#au2)"/>
<circle cx="1206.5" cy="43.4" r="1.7" fill="url(#au2)"/>
<circle cx="1213.6" cy="43.5" r="1.7" fill="url(#au2)"/>
<circle cx="1237.6" cy="43.5" r="1.7" fill="url(#au2)"/>
<circle cx="1215.7" cy="43.6" r="1.7" fill="url(#au2)"/>
<circle cx="1164.2" cy="44.0" r="1.7" fill="url(#au2)"/>
<circle cx="1199.7" cy="44.0" r="1.7" fill="url(#au2)"/>
<circle cx="1168.3" cy="44.0" r="1.7" fill="url(#au2)"/>
<circle cx="1175.8" cy="44.1" r="1.7" fill="url(#au2)"/>
<circle cx="1226.5" cy="44.2" r="1.7" fill="url(#au2)"/>
<circle cx="1185.6" cy="44.3" r="1.7" fill="url(#au2)"/>
<circle cx="1204.7" cy="44.4" r="1.7" fill="url(#au2)"/>
<circle cx="1222.0" cy="44.5" r="1.7" fill="url(#au2)"/>
<circle cx="1181.6" cy="44.6" r="1.7" fill="url(#au2)"/>
<circle cx="1219.3" cy="44.6" r="1.7" fill="url(#au2)"/>
<circle cx="1172.8" cy="44.6" r="1.7" fill="url(#au2)"/>
<circle cx="1213.2" cy="44.6" r="1.7" fill="url(#au2)"/>
<circle cx="1177.9" cy="44.8" r="1.7" fill="url(#au2)"/>
<circle cx="1183.8" cy="44.8" r="1.7" fill="url(#au2)"/>
<circle cx="1239.0" cy="44.9" r="1.7" fill="url(#au2)"/>
<circle cx="1184.0" cy="44.9" r="1.7" fill="url(#au2)"/>
<circle cx="1158.4" cy="45.0" r="1.7" fill="url(#au2)"/>
<circle cx="1247.9" cy="45.3" r="1.7" fill="url(#au2)"/>
<circle cx="1231.5" cy="45.4" r="1.7" fill="url(#au2)"/>
<circle cx="1214.2" cy="45.5" r="1.7" fill="url(#au2)"/>
<circle cx="1206.9" cy="45.5" r="1.7" fill="url(#au2)"/>
<circle cx="1210.4" cy="45.7" r="1.7" fill="url(#au2)"/>
<circle cx="1158.8" cy="45.7" r="1.7" fill="url(#au2)"/>
<circle cx="1225.4" cy="45.7" r="1.7" fill="url(#au2)"/>
<circle cx="1182.6" cy="45.7" r="1.7" fill="url(#au2)"/>
<circle cx="1238.9" cy="45.7" r="1.7" fill="url(#au2)"/>
<circle cx="1178.3" cy="45.8" r="1.7" fill="url(#au2)"/>
<circle cx="1192.6" cy="45.8" r="1.7" fill="url(#au2)"/>
<circle cx="1182.5" cy="45.9" r="1.7" fill="url(#au2)"/>
<circle cx="1221.8" cy="45.9" r="1.7" fill="url(#au2)"/>
<circle cx="1240.6" cy="46.1" r="1.7" fill="url(#au2)"/>
<circle cx="1200.8" cy="46.1" r="1.7" fill="url(#au2)"/>
<circle cx="1196.1" cy="46.1" r="1.7" fill="url(#au2)"/>
<circle cx="1172.4" cy="46.4" r="1.7" fill="url(#au2)"/>
<circle cx="1230.3" cy="46.5" r="1.7" fill="url(#au2)"/>
<circle cx="1222.9" cy="46.5" r="1.7" fill="url(#au2)"/>
<circle cx="1192.4" cy="46.6" r="1.7" fill="url(#au2)"/>
<circle cx="1177.1" cy="46.6" r="1.7" fill="url(#au2)"/>
<circle cx="1213.1" cy="46.6" r="1.7" fill="url(#au2)"/>
<circle cx="1232.4" cy="46.6" r="1.7" fill="url(#au2)"/>
<circle cx="1188.1" cy="46.7" r="1.7" fill="url(#au2)"/>
<circle cx="1199.5" cy="46.8" r="1.7" fill="url(#au2)"/>
<circle cx="1217.2" cy="46.8" r="1.7" fill="url(#au2)"/>
<circle cx="1233.9" cy="46.8" r="1.7" fill="url(#au2)"/>
<circle cx="1194.5" cy="46.9" r="1.7" fill="url(#au2)"/>
<circle cx="1169.9" cy="46.9" r="1.7" fill="url(#au2)"/>
<circle cx="1159.9" cy="46.9" r="1.7" fill="url(#au2)"/>
<circle cx="1176.7" cy="46.9" r="1.7" fill="url(#au2)"/>
<circle cx="1158.8" cy="46.9" r="1.7" fill="url(#au2)"/>
<circle cx="1244.8" cy="47.1" r="1.7" fill="url(#au2)"/>
<circle cx="1199.8" cy="47.1" r="1.7" fill="url(#au2)"/>
<circle cx="1232.6" cy="47.1" r="1.7" fill="url(#au2)"/>
<circle cx="1168.5" cy="47.2" r="1.7" fill="url(#au2)"/>
<circle cx="1163.5" cy="47.2" r="1.7" fill="url(#au2)"/>
<circle cx="1190.2" cy="47.3" r="1.7" fill="url(#au2)"/>
<circle cx="1168.9" cy="47.4" r="1.7" fill="url(#au2)"/>
<circle cx="1173.6" cy="47.4" r="1.7" fill="url(#au2)"/>
<circle cx="1192.2" cy="47.6" r="1.7" fill="url(#au2)"/>
<circle cx="1225.0" cy="47.6" r="1.7" fill="url(#au2)"/>
<circle cx="1203.5" cy="47.7" r="1.7" fill="url(#au2)"/>
<circle cx="1244.8" cy="47.8" r="1.7" fill="url(#au2)"/>
<circle cx="1192.2" cy="47.8" r="1.7" fill="url(#au2)"/>
<circle cx="1212.3" cy="47.8" r="1.7" fill="url(#au2)"/>
<circle cx="1232.9" cy="47.9" r="1.7" fill="url(#au2)"/>
<circle cx="1199.6" cy="47.9" r="1.7" fill="url(#au2)"/>
<circle cx="1177.1" cy="48.0" r="1.7" fill="url(#au2)"/>
<circle cx="1212.1" cy="48.1" r="1.7" fill="url(#au2)"/>
<circle cx="1163.6" cy="48.1" r="1.7" fill="url(#au2)"/>
<circle cx="1174.7" cy="48.3" r="1.7" fill="url(#au2)"/>
<circle cx="1206.6" cy="48.3" r="1.7" fill="url(#au2)"/>
<circle cx="1232.6" cy="48.4" r="1.7" fill="url(#au2)"/>
<circle cx="1225.5" cy="48.4" r="1.7" fill="url(#au2)"/>
<circle cx="1221.1" cy="48.4" r="1.7" fill="url(#au2)"/>
<circle cx="1182.3" cy="48.5" r="1.7" fill="url(#au2)"/>
<circle cx="1188.9" cy="48.5" r="1.7" fill="url(#au2)"/>
<circle cx="1205.7" cy="48.5" r="1.7" fill="url(#au2)"/>
<circle cx="1195.3" cy="48.5" r="1.7" fill="url(#au2)"/>
<circle cx="1224.9" cy="48.5" r="1.7" fill="url(#au2)"/>
<circle cx="1212.9" cy="48.6" r="1.7" fill="url(#au2)"/>
<circle cx="1205.2" cy="48.6" r="1.7" fill="url(#au2)"/>
<circle cx="1174.4" cy="48.6" r="1.7" fill="url(#au2)"/>
<circle cx="1235.4" cy="48.7" r="1.7" fill="url(#au2)"/>
<circle cx="1188.3" cy="48.7" r="1.7" fill="url(#au2)"/>
<circle cx="1233.2" cy="48.7" r="1.7" fill="url(#au2)"/>
<circle cx="1218.0" cy="49.0" r="1.7" fill="url(#au2)"/>
<circle cx="1195.5" cy="49.0" r="1.7" fill="url(#au2)"/>
<circle cx="1185.1" cy="49.0" r="1.7" fill="url(#au2)"/>
<circle cx="1181.0" cy="49.1" r="1.7" fill="url(#au2)"/>
<circle cx="1190.3" cy="49.1" r="1.7" fill="url(#au2)"/>
<circle cx="1165.2" cy="49.1" r="1.7" fill="url(#au2)"/>
<circle cx="1166.8" cy="49.2" r="1.7" fill="url(#au2)"/>
<circle cx="1231.0" cy="49.3" r="1.7" fill="url(#au2)"/>
<circle cx="1221.5" cy="49.3" r="1.7" fill="url(#au2)"/>
<circle cx="1166.9" cy="49.3" r="1.7" fill="url(#au2)"/>
<circle cx="1174.3" cy="49.3" r="1.7" fill="url(#au2)"/>
<circle cx="1185.0" cy="49.3" r="1.7" fill="url(#au2)"/>
<circle cx="1225.5" cy="49.3" r="1.7" fill="url(#au2)"/>
<circle cx="1158.3" cy="49.4" r="1.7" fill="url(#au2)"/>
<circle cx="1233.1" cy="49.5" r="1.7" fill="url(#au2)"/>
<circle cx="1205.8" cy="49.6" r="1.7" fill="url(#au2)"/>
<circle cx="1197.0" cy="49.7" r="1.7" fill="url(#au2)"/>
<circle cx="1197.2" cy="49.8" r="1.7" fill="url(#au2)"/>
<circle cx="1197.6" cy="49.9" r="1.7" fill="url(#au2)"/>
<circle cx="1248.0" cy="49.9" r="1.7" fill="url(#au2)"/>
<circle cx="1204.2" cy="50.0" r="1.7" fill="url(#au2)"/>
<circle cx="1186.0" cy="50.0" r="1.7" fill="url(#au2)"/>
<circle cx="1244.8" cy="50.1" r="1.7" fill="url(#au2)"/>
<circle cx="1222.8" cy="50.1" r="1.7" fill="url(#au2)"/>
<circle cx="1181.8" cy="50.1" r="1.7" fill="url(#au2)"/>
<circle cx="1173.0" cy="50.2" r="1.7" fill="url(#au2)"/>
<circle cx="1172.3" cy="50.3" r="1.7" fill="url(#au2)"/>
<circle cx="1213.2" cy="50.3" r="1.7" fill="url(#au2)"/>
<circle cx="1236.7" cy="50.4" r="1.7" fill="url(#au2)"/>
<circle cx="1197.6" cy="50.6" r="1.7" fill="url(#au2)"/>
<circle cx="1240.4" cy="50.6" r="1.7" fill="url(#au2)"/>
<circle cx="1221.8" cy="50.6" r="1.7" fill="url(#au2)"/>
<circle cx="1216.3" cy="50.7" r="1.7" fill="url(#au2)"/>
<circle cx="1218.7" cy="50.8" r="1.7" fill="url(#au2)"/>
<circle cx="1233.0" cy="50.9" r="1.7" fill="url(#au2)"/>
<circle cx="1237.6" cy="50.9" r="1.7" fill="url(#au2)"/>
<circle cx="1231.4" cy="50.9" r="1.7" fill="url(#au2)"/>
<circle cx="1240.1" cy="50.9" r="1.7" fill="url(#au2)"/>
<circle cx="1210.8" cy="51.0" r="1.7" fill="url(#au2)"/>
<circle cx="1156.1" cy="51.0" r="1.7" fill="url(#au2)"/>
<circle cx="1171.8" cy="51.0" r="1.7" fill="url(#au2)"/>
<circle cx="1232.2" cy="51.2" r="1.7" fill="url(#au2)"/>
<circle cx="1181.2" cy="51.2" r="1.7" fill="url(#au2)"/>
<circle cx="1222.9" cy="51.3" r="1.7" fill="url(#au2)"/>
<circle cx="1195.5" cy="51.3" r="1.7" fill="url(#au2)"/>
<circle cx="1169.6" cy="51.3" r="1.7" fill="url(#au2)"/>
<circle cx="1231.0" cy="51.3" r="1.7" fill="url(#au2)"/>
<circle cx="1185.6" cy="51.5" r="1.7" fill="url(#au2)"/>
<circle cx="1205.0" cy="51.5" r="1.7" fill="url(#au2)"/>
<circle cx="1198.9" cy="51.6" r="1.7" fill="url(#au2)"/>
<circle cx="1159.9" cy="51.6" r="1.7" fill="url(#au2)"/>
<circle cx="1226.5" cy="51.6" r="1.7" fill="url(#au2)"/>
<circle cx="1173.1" cy="51.7" r="1.7" fill="url(#au2)"/>
<circle cx="1185.7" cy="51.7" r="1.7" fill="url(#au2)"/>
<circle cx="1185.7" cy="51.7" r="1.7" fill="url(#au2)"/>
<circle cx="1162.1" cy="51.8" r="1.7" fill="url(#au2)"/>
<circle cx="1210.2" cy="51.8" r="1.7" fill="url(#au2)"/>
<circle cx="1151.2" cy="51.9" r="1.7" fill="url(#au2)"/>
<circle cx="1211.9" cy="51.9" r="1.7" fill="url(#au2)"/>
<circle cx="1220.8" cy="52.0" r="1.7" fill="url(#au2)"/>
<circle cx="1160.3" cy="52.1" r="1.7" fill="url(#au2)"/>
<circle cx="1239.9" cy="52.2" r="1.7" fill="url(#au2)"/>
<circle cx="1185.9" cy="52.2" r="1.7" fill="url(#au2)"/>
<circle cx="1188.4" cy="52.2" r="1.7" fill="url(#au2)"/>
<circle cx="1203.3" cy="52.3" r="1.7" fill="url(#au2)"/>
<circle cx="1166.3" cy="52.3" r="1.7" fill="url(#au2)"/>
<circle cx="1189.4" cy="52.4" r="1.7" fill="url(#au2)"/>
<circle cx="1187.0" cy="52.4" r="1.7" fill="url(#au2)"/>
<circle cx="1239.3" cy="52.4" r="1.7" fill="url(#au2)"/>
<circle cx="1235.9" cy="52.4" r="1.7" fill="url(#au2)"/>
<circle cx="1211.4" cy="52.5" r="1.7" fill="url(#au2)"/>
<circle cx="1215.9" cy="52.5" r="1.7" fill="url(#au2)"/>
<circle cx="1192.9" cy="52.5" r="1.7" fill="url(#au2)"/>
<circle cx="1180.9" cy="52.7" r="1.7" fill="url(#au2)"/>
<circle cx="1196.5" cy="52.7" r="1.7" fill="url(#au2)"/>
<circle cx="1196.6" cy="52.7" r="1.7" fill="url(#au2)"/>
<circle cx="1191.0" cy="52.7" r="1.7" fill="url(#au2)"/>
<circle cx="1224.5" cy="52.8" r="1.7" fill="url(#au2)"/>
<circle cx="1197.1" cy="52.8" r="1.7" fill="url(#au2)"/>
<circle cx="1215.2" cy="52.8" r="1.7" fill="url(#au2)"/>
<circle cx="1171.3" cy="52.9" r="1.7" fill="url(#au2)"/>
<circle cx="1196.8" cy="52.9" r="1.7" fill="url(#au2)"/>
<circle cx="1218.0" cy="52.9" r="1.7" fill="url(#au2)"/>
<circle cx="1198.3" cy="52.9" r="1.7" fill="url(#au2)"/>
<circle cx="1222.9" cy="52.9" r="1.7" fill="url(#au2)"/>
<circle cx="1199.6" cy="53.1" r="1.7" fill="url(#au2)"/>
<circle cx="1198.5" cy="53.1" r="1.7" fill="url(#au2)"/>
<circle cx="1167.9" cy="53.2" r="1.7" fill="url(#au2)"/>
<circle cx="1203.4" cy="53.3" r="1.7" fill="url(#au2)"/>
<circle cx="1215.5" cy="53.4" r="1.7" fill="url(#au2)"/>
<circle cx="1246.4" cy="53.4" r="1.7" fill="url(#au2)"/>
<circle cx="1214.4" cy="53.5" r="1.7" fill="url(#au2)"/>
<circle cx="1162.4" cy="53.6" r="1.7" fill="url(#au2)"/>
<circle cx="1215.4" cy="53.6" r="1.7" fill="url(#au2)"/>
<circle cx="1157.1" cy="53.6" r="1.7" fill="url(#au2)"/>
<circle cx="1235.2" cy="53.6" r="1.7" fill="url(#au2)"/>
<circle cx="1201.1" cy="53.7" r="1.7" fill="url(#au2)"/>
<circle cx="1168.6" cy="53.7" r="1.7" fill="url(#au2)"/>
<circle cx="1193.5" cy="53.7" r="1.7" fill="url(#au2)"/>
<circle cx="1164.6" cy="53.8" r="1.7" fill="url(#au2)"/>
<circle cx="1184.4" cy="53.8" r="1.7" fill="url(#au2)"/>
<circle cx="1213.2" cy="53.8" r="1.7" fill="url(#au2)"/>
<circle cx="1218.3" cy="53.8" r="1.7" fill="url(#au2)"/>
<circle cx="1157.2" cy="53.9" r="1.7" fill="url(#au2)"/>
<circle cx="1182.5" cy="53.9" r="1.7" fill="url(#au2)"/>
<circle cx="1171.0" cy="53.9" r="1.7" fill="url(#au2)"/>
<circle cx="1174.9" cy="54.0" r="1.7" fill="url(#au2)"/>
<circle cx="1214.0" cy="54.0" r="1.7" fill="url(#au2)"/>
<circle cx="1207.5" cy="54.2" r="1.7" fill="url(#au2)"/>
<circle cx="1199.7" cy="54.3" r="1.7" fill="url(#au2)"/>
<circle cx="1176.6" cy="54.3" r="1.7" fill="url(#au2)"/>
<circle cx="1158.2" cy="54.3" r="1.7" fill="url(#au2)"/>
<circle cx="1224.7" cy="54.3" r="1.7" fill="url(#au2)"/>
<circle cx="1188.2" cy="54.4" r="1.7" fill="url(#au2)"/>
<circle cx="1188.4" cy="54.4" r="1.7" fill="url(#au2)"/>
<circle cx="1184.6" cy="54.5" r="1.7" fill="url(#au2)"/>
<circle cx="1209.9" cy="54.5" r="1.7" fill="url(#au2)"/>
<circle cx="1224.8" cy="54.5" r="1.7" fill="url(#au2)"/>
<circle cx="1228.4" cy="54.6" r="1.7" fill="url(#au2)"/>
<circle cx="1239.5" cy="54.7" r="1.7" fill="url(#au2)"/>
<circle cx="1158.2" cy="54.8" r="1.7" fill="url(#au2)"/>
<circle cx="1211.5" cy="54.8" r="1.7" fill="url(#au2)"/>
<circle cx="1150.6" cy="54.8" r="1.7" fill="url(#au2)"/>
<circle cx="1170.3" cy="54.8" r="1.7" fill="url(#au2)"/>
<circle cx="1202.1" cy="54.8" r="1.7" fill="url(#au2)"/>
<circle cx="1172.0" cy="54.9" r="1.7" fill="url(#au2)"/>
<circle cx="1158.9" cy="54.9" r="1.7" fill="url(#au2)"/>
<circle cx="1165.1" cy="54.9" r="1.7" fill="url(#au2)"/>
<circle cx="1227.1" cy="54.9" r="1.7" fill="url(#au2)"/>
<circle cx="1146.8" cy="55.0" r="1.7" fill="url(#au2)"/>
<circle cx="1161.4" cy="55.0" r="1.7" fill="url(#au2)"/>
<circle cx="1193.2" cy="55.0" r="1.7" fill="url(#au2)"/>
<circle cx="1160.0" cy="55.1" r="1.7" fill="url(#au2)"/>
<circle cx="1234.4" cy="55.1" r="1.7" fill="url(#au2)"/>
<circle cx="1175.0" cy="55.2" r="1.7" fill="url(#au2)"/>
<circle cx="1174.3" cy="55.2" r="1.7" fill="url(#au2)"/>
<circle cx="1220.5" cy="55.2" r="1.7" fill="url(#au2)"/>
<circle cx="1217.1" cy="55.3" r="1.7" fill="url(#au2)"/>
<circle cx="1164.0" cy="55.3" r="1.7" fill="url(#au2)"/>
<circle cx="1227.5" cy="55.4" r="1.7" fill="url(#au2)"/>
<circle cx="1150.6" cy="55.4" r="1.7" fill="url(#au2)"/>
<circle cx="1209.7" cy="55.5" r="1.7" fill="url(#au2)"/>
<circle cx="1209.8" cy="55.6" r="1.7" fill="url(#au2)"/>
<circle cx="1159.0" cy="55.6" r="1.7" fill="url(#au2)"/>
<circle cx="1177.5" cy="55.7" r="1.7" fill="url(#au2)"/>
<circle cx="1226.0" cy="55.7" r="1.7" fill="url(#au2)"/>
<circle cx="1194.2" cy="55.8" r="1.7" fill="url(#au2)"/>
<circle cx="1224.2" cy="55.8" r="1.7" fill="url(#au2)"/>
<circle cx="1234.1" cy="55.9" r="1.7" fill="url(#au2)"/>
<circle cx="1155.5" cy="55.9" r="1.7" fill="url(#au2)"/>
<circle cx="1153.0" cy="55.9" r="1.7" fill="url(#au2)"/>
<circle cx="1167.5" cy="55.9" r="1.7" fill="url(#au2)"/>
<circle cx="1185.3" cy="56.0" r="1.7" fill="url(#au2)"/>
<circle cx="1217.6" cy="56.2" r="1.7" fill="url(#au2)"/>
<circle cx="1196.0" cy="56.2" r="1.7" fill="url(#au2)"/>
<circle cx="1211.4" cy="56.3" r="1.7" fill="url(#au2)"/>
<circle cx="1198.2" cy="56.3" r="1.7" fill="url(#au2)"/>
<circle cx="1195.9" cy="56.4" r="1.7" fill="url(#au2)"/>
<circle cx="1213.7" cy="56.4" r="1.7" fill="url(#au2)"/>
<circle cx="1212.3" cy="56.4" r="1.7" fill="url(#au2)"/>
<circle cx="1226.9" cy="56.4" r="1.7" fill="url(#au2)"/>
<circle cx="1222.8" cy="56.5" r="1.7" fill="url(#au2)"/>
<circle cx="1205.8" cy="56.6" r="1.7" fill="url(#au2)"/>
<circle cx="1239.2" cy="56.7" r="1.7" fill="url(#au2)"/>
<circle cx="1178.4" cy="56.8" r="1.7" fill="url(#au2)"/>
<circle cx="1207.5" cy="57.0" r="1.7" fill="url(#au2)"/>
<circle cx="1175.4" cy="57.0" r="1.7" fill="url(#au2)"/>
<circle cx="1224.6" cy="57.1" r="1.7" fill="url(#au2)"/>
<circle cx="1210.3" cy="57.2" r="1.7" fill="url(#au2)"/>
<circle cx="1218.3" cy="57.2" r="1.7" fill="url(#au2)"/>
<circle cx="1159.2" cy="57.2" r="1.7" fill="url(#au2)"/>
<circle cx="1219.4" cy="57.3" r="1.7" fill="url(#au2)"/>
<circle cx="1202.1" cy="57.3" r="1.7" fill="url(#au2)"/>
<circle cx="1143.8" cy="57.4" r="1.7" fill="url(#au2)"/>
<circle cx="1151.4" cy="57.4" r="1.7" fill="url(#au2)"/>
<circle cx="1199.3" cy="57.4" r="1.7" fill="url(#au2)"/>
<circle cx="1209.6" cy="57.5" r="1.7" fill="url(#au2)"/>
<circle cx="1164.6" cy="57.5" r="1.7" fill="url(#au2)"/>
<circle cx="1209.8" cy="57.6" r="1.7" fill="url(#au2)"/>
<circle cx="1186.7" cy="57.7" r="1.7" fill="url(#au2)"/>
<circle cx="1221.4" cy="57.7" r="1.7" fill="url(#au2)"/>
<circle cx="1206.1" cy="57.7" r="1.7" fill="url(#au2)"/>
<circle cx="1227.1" cy="57.8" r="1.7" fill="url(#au2)"/>
<circle cx="1203.7" cy="57.9" r="1.7" fill="url(#au2)"/>
<circle cx="1193.5" cy="57.9" r="1.7" fill="url(#au2)"/>
<circle cx="1219.1" cy="57.9" r="1.7" fill="url(#au2)"/>
<circle cx="1202.9" cy="57.9" r="1.7" fill="url(#au2)"/>
<circle cx="1211.3" cy="57.9" r="1.7" fill="url(#au2)"/>
<circle cx="1187.7" cy="57.9" r="1.7" fill="url(#au2)"/>
<circle cx="1145.2" cy="58.0" r="1.7" fill="url(#au2)"/>
<circle cx="1195.5" cy="58.0" r="1.7" fill="url(#au2)"/>
<circle cx="1188.0" cy="58.1" r="1.7" fill="url(#au2)"/>
<circle cx="1209.5" cy="58.1" r="1.7" fill="url(#au2)"/>
<circle cx="1159.1" cy="58.2" r="1.7" fill="url(#au2)"/>
<circle cx="1215.9" cy="58.2" r="1.7" fill="url(#au2)"/>
<circle cx="1150.4" cy="58.3" r="1.7" fill="url(#au2)"/>
<circle cx="1176.7" cy="58.3" r="1.7" fill="url(#au2)"/>
<circle cx="1189.0" cy="58.3" r="1.7" fill="url(#au2)"/>
<circle cx="1203.2" cy="58.3" r="1.7" fill="url(#au2)"/>
<circle cx="1147.4" cy="58.4" r="1.7" fill="url(#au2)"/>
<circle cx="1222.8" cy="58.4" r="1.7" fill="url(#au2)"/>
<circle cx="1187.2" cy="58.5" r="1.7" fill="url(#au2)"/>
<circle cx="1169.6" cy="58.5" r="1.7" fill="url(#au2)"/>
<circle cx="1178.6" cy="58.5" r="1.7" fill="url(#au2)"/>
<circle cx="1192.7" cy="58.5" r="1.7" fill="url(#au2)"/>
<circle cx="1223.9" cy="58.5" r="1.7" fill="url(#au2)"/>
<circle cx="1188.4" cy="58.6" r="1.7" fill="url(#au2)"/>
<circle cx="1176.9" cy="58.6" r="1.7" fill="url(#au2)"/>
<circle cx="1228.7" cy="58.6" r="1.7" fill="url(#au2)"/>
<circle cx="1229.3" cy="58.7" r="1.7" fill="url(#au2)"/>
<circle cx="1222.2" cy="58.7" r="1.7" fill="url(#au2)"/>
<circle cx="1163.4" cy="58.8" r="1.7" fill="url(#au2)"/>
<circle cx="1183.4" cy="58.9" r="1.7" fill="url(#au2)"/>
<circle cx="1168.7" cy="58.9" r="1.7" fill="url(#au2)"/>
<circle cx="1225.0" cy="59.0" r="1.7" fill="url(#au2)"/>
<circle cx="1214.9" cy="59.0" r="1.7" fill="url(#au2)"/>
<circle cx="1205.5" cy="59.1" r="1.7" fill="url(#au2)"/>
<circle cx="1187.0" cy="59.1" r="1.7" fill="url(#au2)"/>
<circle cx="1187.1" cy="59.2" r="1.7" fill="url(#au2)"/>
<circle cx="1225.7" cy="59.2" r="1.7" fill="url(#au2)"/>
<circle cx="1210.2" cy="59.2" r="1.7" fill="url(#au2)"/>
<circle cx="1180.0" cy="59.3" r="1.7" fill="url(#au2)"/>
<circle cx="1196.5" cy="59.4" r="1.7" fill="url(#au2)"/>
<circle cx="1228.3" cy="59.4" r="1.7" fill="url(#au2)"/>
<circle cx="1158.1" cy="59.4" r="1.7" fill="url(#au2)"/>
<circle cx="1144.0" cy="59.4" r="1.7" fill="url(#au2)"/>
<circle cx="1196.1" cy="59.5" r="1.7" fill="url(#au2)"/>
<circle cx="1195.4" cy="59.5" r="1.7" fill="url(#au2)"/>
<circle cx="1200.3" cy="59.5" r="1.7" fill="url(#au2)"/>
<circle cx="1158.9" cy="59.5" r="1.7" fill="url(#au2)"/>
<circle cx="1224.7" cy="59.6" r="1.7" fill="url(#au2)"/>
<circle cx="1157.4" cy="59.6" r="1.7" fill="url(#au2)"/>
<circle cx="1160.7" cy="59.7" r="1.7" fill="url(#au2)"/>
<circle cx="1214.7" cy="59.7" r="1.7" fill="url(#au2)"/>
<circle cx="1174.3" cy="59.7" r="1.7" fill="url(#au2)"/>
<circle cx="1185.8" cy="59.8" r="1.7" fill="url(#au2)"/>
<circle cx="1231.0" cy="59.9" r="1.7" fill="url(#au2)"/>
<circle cx="1210.8" cy="59.9" r="1.7" fill="url(#au2)"/>
<circle cx="1214.7" cy="60.0" r="1.7" fill="url(#au2)"/>
<circle cx="1221.7" cy="60.1" r="1.7" fill="url(#au2)"/>
<circle cx="1161.1" cy="60.1" r="1.7" fill="url(#au2)"/>
<circle cx="1211.6" cy="60.1" r="1.7" fill="url(#au2)"/>
<circle cx="1192.0" cy="60.2" r="1.7" fill="url(#au2)"/>
<circle cx="1186.0" cy="60.3" r="1.7" fill="url(#au2)"/>
<circle cx="1161.1" cy="60.4" r="1.7" fill="url(#au2)"/>
<circle cx="1144.6" cy="60.5" r="1.7" fill="url(#au2)"/>
<circle cx="1191.3" cy="60.5" r="1.7" fill="url(#au2)"/>
<circle cx="1190.5" cy="60.6" r="1.7" fill="url(#au2)"/>
<circle cx="1224.1" cy="60.7" r="1.7" fill="url(#au2)"/>
<circle cx="1188.3" cy="60.7" r="1.7" fill="url(#au2)"/>
<circle cx="1167.4" cy="60.7" r="1.7" fill="url(#au2)"/>
<circle cx="1174.2" cy="60.9" r="1.7" fill="url(#au2)"/>
<circle cx="1162.5" cy="60.9" r="1.7" fill="url(#au2)"/>
<circle cx="1216.8" cy="61.0" r="1.7" fill="url(#au2)"/>
<circle cx="1177.6" cy="61.0" r="1.7" fill="url(#au2)"/>
<circle cx="1176.9" cy="61.1" r="1.7" fill="url(#au2)"/>
<circle cx="1179.9" cy="61.1" r="1.7" fill="url(#au2)"/>
<circle cx="1160.6" cy="61.2" r="1.7" fill="url(#au2)"/>
<circle cx="1226.6" cy="61.2" r="1.7" fill="url(#au2)"/>
<circle cx="1164.6" cy="61.2" r="1.7" fill="url(#au2)"/>
<circle cx="1200.0" cy="61.3" r="1.7" fill="url(#au2)"/>
<circle cx="1233.4" cy="61.4" r="1.7" fill="url(#au2)"/>
<circle cx="1192.8" cy="61.4" r="1.7" fill="url(#au2)"/>
<circle cx="1209.9" cy="61.5" r="1.7" fill="url(#au2)"/>
<circle cx="1157.7" cy="61.5" r="1.7" fill="url(#au2)"/>
<circle cx="1222.9" cy="61.6" r="1.7" fill="url(#au2)"/>
<circle cx="1164.4" cy="61.6" r="1.7" fill="url(#au2)"/>
<circle cx="1155.1" cy="61.6" r="1.7" fill="url(#au2)"/>
<circle cx="1141.8" cy="61.6" r="1.7" fill="url(#au2)"/>
<circle cx="1193.2" cy="61.6" r="1.7" fill="url(#au2)"/>
<circle cx="1206.5" cy="61.6" r="1.7" fill="url(#au2)"/>
<circle cx="1158.3" cy="61.7" r="1.7" fill="url(#au2)"/>
<circle cx="1177.5" cy="61.7" r="1.7" fill="url(#au2)"/>
<circle cx="1172.3" cy="61.8" r="1.7" fill="url(#au2)"/>
<circle cx="1151.9" cy="61.8" r="1.7" fill="url(#au2)"/>
<circle cx="1165.6" cy="61.9" r="1.7" fill="url(#au2)"/>
<circle cx="1175.1" cy="62.0" r="1.7" fill="url(#au2)"/>
<circle cx="1183.6" cy="62.1" r="1.7" fill="url(#au2)"/>
<circle cx="1184.4" cy="62.2" r="1.7" fill="url(#au2)"/>
<circle cx="1213.2" cy="62.2" r="1.7" fill="url(#au2)"/>
<circle cx="1200.2" cy="62.2" r="1.7" fill="url(#au2)"/>
<circle cx="1199.5" cy="62.3" r="1.7" fill="url(#au2)"/>
<circle cx="1204.4" cy="62.3" r="1.7" fill="url(#au2)"/>
<circle cx="1162.2" cy="62.3" r="1.7" fill="url(#au2)"/>
<circle cx="1175.7" cy="62.4" r="1.7" fill="url(#au2)"/>
<circle cx="1197.0" cy="62.4" r="1.7" fill="url(#au2)"/>
<circle cx="1148.0" cy="62.6" r="1.7" fill="url(#au2)"/>
<circle cx="1164.0" cy="62.6" r="1.7" fill="url(#au2)"/>
<circle cx="1209.1" cy="62.7" r="1.7" fill="url(#au2)"/>
<circle cx="1199.3" cy="62.8" r="1.7" fill="url(#au2)"/>
<circle cx="1211.6" cy="62.8" r="1.7" fill="url(#au2)"/>
<circle cx="1154.9" cy="62.8" r="1.7" fill="url(#au2)"/>
<circle cx="1211.5" cy="62.8" r="1.7" fill="url(#au2)"/>
<circle cx="1187.4" cy="62.8" r="1.7" fill="url(#au2)"/>
<circle cx="1218.7" cy="62.8" r="1.7" fill="url(#au2)"/>
<circle cx="1190.7" cy="62.9" r="1.7" fill="url(#au2)"/>
<circle cx="1211.4" cy="62.9" r="1.7" fill="url(#au2)"/>
<circle cx="1212.7" cy="63.0" r="1.7" fill="url(#au2)"/>
<circle cx="1214.6" cy="63.0" r="1.7" fill="url(#au2)"/>
<circle cx="1171.5" cy="63.0" r="1.7" fill="url(#au2)"/>
<circle cx="1171.3" cy="63.1" r="1.7" fill="url(#au2)"/>
<circle cx="1222.8" cy="63.1" r="1.7" fill="url(#au2)"/>
<circle cx="1189.7" cy="63.1" r="1.7" fill="url(#au2)"/>
<circle cx="1203.6" cy="63.1" r="1.7" fill="url(#au2)"/>
<circle cx="1193.3" cy="63.1" r="1.7" fill="url(#au2)"/>
<circle cx="1148.2" cy="63.1" r="1.7" fill="url(#au2)"/>
<circle cx="1170.8" cy="63.2" r="1.7" fill="url(#au2)"/>
<circle cx="1181.0" cy="63.2" r="1.7" fill="url(#au2)"/>
<circle cx="1190.2" cy="63.3" r="1.7" fill="url(#au2)"/>
<circle cx="1192.7" cy="63.4" r="1.7" fill="url(#au2)"/>
<circle cx="1177.1" cy="63.4" r="1.7" fill="url(#au2)"/>
<circle cx="1187.8" cy="63.5" r="1.7" fill="url(#au2)"/>
<circle cx="1221.6" cy="63.7" r="1.7" fill="url(#au2)"/>
<circle cx="1205.5" cy="63.8" r="1.7" fill="url(#au2)"/>
<circle cx="1212.7" cy="63.9" r="1.7" fill="url(#au2)"/>
<circle cx="1219.1" cy="63.9" r="1.7" fill="url(#au2)"/>
<circle cx="1205.0" cy="63.9" r="1.7" fill="url(#au2)"/>
<circle cx="1150.0" cy="64.0" r="1.7" fill="url(#au2)"/>
<circle cx="1205.1" cy="64.0" r="1.7" fill="url(#au2)"/>
<circle cx="1196.6" cy="64.0" r="1.7" fill="url(#au2)"/>
<circle cx="1152.4" cy="64.1" r="1.7" fill="url(#au2)"/>
<circle cx="1204.1" cy="64.2" r="1.7" fill="url(#au2)"/>
<circle cx="1217.9" cy="64.2" r="1.7" fill="url(#au2)"/>
<circle cx="1191.1" cy="64.3" r="1.7" fill="url(#au2)"/>
<circle cx="1195.0" cy="64.4" r="1.7" fill="url(#au2)"/>
<circle cx="1168.1" cy="64.4" r="1.7" fill="url(#au2)"/>
<circle cx="1203.4" cy="64.6" r="1.7" fill="url(#au2)"/>
<circle cx="1159.2" cy="64.6" r="1.7" fill="url(#au2)"/>
<circle cx="1181.7" cy="64.6" r="1.7" fill="url(#au2)"/>
<circle cx="1201.4" cy="64.6" r="1.7" fill="url(#au2)"/>
<circle cx="1217.1" cy="64.7" r="1.7" fill="url(#au2)"/>
<circle cx="1150.6" cy="64.7" r="1.7" fill="url(#au2)"/>
<circle cx="1173.0" cy="64.7" r="1.7" fill="url(#au2)"/>
<circle cx="1186.4" cy="64.7" r="1.7" fill="url(#au2)"/>
<circle cx="1187.6" cy="64.8" r="1.7" fill="url(#au2)"/>
<circle cx="1188.9" cy="64.9" r="1.7" fill="url(#au2)"/>
<circle cx="1169.5" cy="64.9" r="1.7" fill="url(#au2)"/>
<circle cx="1184.8" cy="64.9" r="1.7" fill="url(#au2)"/>
<circle cx="1227.6" cy="65.0" r="1.7" fill="url(#au2)"/>
<circle cx="1229.0" cy="65.0" r="1.7" fill="url(#au2)"/>
<circle cx="1178.7" cy="65.0" r="1.7" fill="url(#au2)"/>
<circle cx="1175.8" cy="65.0" r="1.7" fill="url(#au2)"/>
<circle cx="1170.3" cy="65.0" r="1.7" fill="url(#au2)"/>
<circle cx="1206.2" cy="65.0" r="1.7" fill="url(#au2)"/>
<circle cx="1155.3" cy="65.0" r="1.7" fill="url(#au2)"/>
<circle cx="1160.8" cy="65.1" r="1.7" fill="url(#au2)"/>
<circle cx="1158.8" cy="65.1" r="1.7" fill="url(#au2)"/>
<circle cx="1162.3" cy="65.3" r="1.7" fill="url(#au2)"/>
<circle cx="1185.5" cy="65.4" r="1.7" fill="url(#au2)"/>
<circle cx="1168.9" cy="65.4" r="1.7" fill="url(#au2)"/>
<circle cx="1157.6" cy="65.5" r="1.7" fill="url(#au2)"/>
<circle cx="1171.0" cy="65.6" r="1.7" fill="url(#au2)"/>
<circle cx="1196.1" cy="65.6" r="1.7" fill="url(#au2)"/>
<circle cx="1208.1" cy="65.7" r="1.7" fill="url(#au2)"/>
<circle cx="1173.3" cy="65.8" r="1.7" fill="url(#au2)"/>
<circle cx="1178.7" cy="65.9" r="1.7" fill="url(#au2)"/>
<circle cx="1151.9" cy="65.9" r="1.7" fill="url(#au2)"/>
<circle cx="1197.2" cy="66.1" r="1.7" fill="url(#au2)"/>
<circle cx="1149.2" cy="66.5" r="1.7" fill="url(#au2)"/>
<circle cx="1169.7" cy="66.5" r="1.7" fill="url(#au2)"/>
<circle cx="1221.1" cy="66.7" r="1.7" fill="url(#au2)"/>
<circle cx="1167.4" cy="66.7" r="1.7" fill="url(#au2)"/>
<circle cx="1163.2" cy="66.8" r="1.7" fill="url(#au2)"/>
<circle cx="1189.1" cy="66.8" r="1.7" fill="url(#au2)"/>
<circle cx="1203.8" cy="66.9" r="1.7" fill="url(#au2)"/>
<circle cx="1199.9" cy="67.0" r="1.7" fill="url(#au2)"/>
<circle cx="1175.3" cy="67.0" r="1.7" fill="url(#au2)"/>
<circle cx="1161.1" cy="67.1" r="1.7" fill="url(#au2)"/>
<circle cx="1198.7" cy="67.1" r="1.7" fill="url(#au2)"/>
<circle cx="1198.4" cy="67.2" r="1.7" fill="url(#au2)"/>
<circle cx="1184.9" cy="67.2" r="1.7" fill="url(#au2)"/>
<circle cx="1214.2" cy="67.2" r="1.7" fill="url(#au2)"/>
<circle cx="1191.4" cy="67.3" r="1.7" fill="url(#au2)"/>
<circle cx="1179.9" cy="67.4" r="1.7" fill="url(#au2)"/>
<circle cx="1162.5" cy="67.6" r="1.7" fill="url(#au2)"/>
<circle cx="1218.1" cy="67.7" r="1.7" fill="url(#au2)"/>
<circle cx="1176.3" cy="67.7" r="1.7" fill="url(#au2)"/>
<circle cx="1200.2" cy="67.7" r="1.7" fill="url(#au2)"/>
<circle cx="1222.1" cy="67.8" r="1.7" fill="url(#au2)"/>
<circle cx="1153.6" cy="67.8" r="1.7" fill="url(#au2)"/>
<circle cx="1189.2" cy="67.9" r="1.7" fill="url(#au2)"/>
<circle cx="1209.4" cy="67.9" r="1.7" fill="url(#au2)"/>
<circle cx="1196.5" cy="67.9" r="1.7" fill="url(#au2)"/>
<circle cx="1214.1" cy="68.1" r="1.7" fill="url(#au2)"/>
<circle cx="1161.8" cy="68.1" r="1.7" fill="url(#au2)"/>
<circle cx="1179.5" cy="68.4" r="1.7" fill="url(#au2)"/>
<circle cx="1174.2" cy="68.5" r="1.7" fill="url(#au2)"/>
<circle cx="1210.9" cy="68.5" r="1.7" fill="url(#au2)"/>
<circle cx="1219.8" cy="68.5" r="1.7" fill="url(#au2)"/>
<circle cx="1202.3" cy="68.7" r="1.7" fill="url(#au2)"/>
<circle cx="1189.8" cy="68.7" r="1.7" fill="url(#au2)"/>
<circle cx="1184.9" cy="68.8" r="1.7" fill="url(#au2)"/>
<circle cx="1187.3" cy="68.8" r="1.7" fill="url(#au2)"/>
<circle cx="1185.8" cy="68.8" r="1.7" fill="url(#au2)"/>
<circle cx="1185.3" cy="68.9" r="1.7" fill="url(#au2)"/>
<circle cx="1164.4" cy="69.0" r="1.7" fill="url(#au2)"/>
<circle cx="1164.5" cy="69.1" r="1.7" fill="url(#au2)"/>
<circle cx="1215.7" cy="69.2" r="1.7" fill="url(#au2)"/>
<circle cx="1165.5" cy="69.2" r="1.7" fill="url(#au2)"/>
<circle cx="1196.2" cy="69.2" r="1.7" fill="url(#au2)"/>
<circle cx="1216.2" cy="69.3" r="1.7" fill="url(#au2)"/>
<circle cx="1215.4" cy="69.3" r="1.7" fill="url(#au2)"/>
<circle cx="1180.7" cy="69.3" r="1.7" fill="url(#au2)"/>
<circle cx="1198.8" cy="69.3" r="1.7" fill="url(#au2)"/>
<circle cx="1217.6" cy="69.5" r="1.7" fill="url(#au2)"/>
<circle cx="1215.7" cy="69.5" r="1.7" fill="url(#au2)"/>
<circle cx="1207.0" cy="69.5" r="1.7" fill="url(#au2)"/>
<circle cx="1176.2" cy="69.5" r="1.7" fill="url(#au2)"/>
<circle cx="1216.5" cy="69.6" r="1.7" fill="url(#au2)"/>
<circle cx="1183.9" cy="69.6" r="1.7" fill="url(#au2)"/>
<circle cx="1191.0" cy="69.8" r="1.7" fill="url(#au2)"/>
<circle cx="1199.7" cy="70.0" r="1.7" fill="url(#au2)"/>
<circle cx="1165.0" cy="70.0" r="1.7" fill="url(#au2)"/>
<circle cx="1162.9" cy="70.0" r="1.7" fill="url(#au2)"/>
<circle cx="1161.1" cy="70.0" r="1.7" fill="url(#au2)"/>
<circle cx="1218.2" cy="70.1" r="1.7" fill="url(#au2)"/>
<circle cx="1179.8" cy="70.1" r="1.7" fill="url(#au2)"/>
<circle cx="1185.4" cy="70.2" r="1.7" fill="url(#au2)"/>
<circle cx="1179.2" cy="70.2" r="1.7" fill="url(#au2)"/>
<circle cx="1176.1" cy="70.3" r="1.7" fill="url(#au2)"/>
<circle cx="1170.0" cy="70.4" r="1.7" fill="url(#au2)"/>
<circle cx="1177.9" cy="70.4" r="1.7" fill="url(#au2)"/>
<circle cx="1186.0" cy="70.4" r="1.7" fill="url(#au2)"/>
<circle cx="1201.0" cy="70.5" r="1.7" fill="url(#au2)"/>
<circle cx="1177.9" cy="70.5" r="1.7" fill="url(#au2)"/>
<circle cx="1213.0" cy="70.7" r="1.7" fill="url(#au2)"/>
<circle cx="1214.6" cy="71.1" r="1.7" fill="url(#au2)"/>
<circle cx="1180.7" cy="71.1" r="1.7" fill="url(#au2)"/>
<circle cx="1165.8" cy="71.1" r="1.7" fill="url(#au2)"/>
<circle cx="1201.5" cy="71.1" r="1.7" fill="url(#au2)"/>
<circle cx="1202.8" cy="71.1" r="1.7" fill="url(#au2)"/>
<circle cx="1219.4" cy="71.3" r="1.7" fill="url(#au2)"/>
<circle cx="1194.3" cy="71.3" r="1.7" fill="url(#au2)"/>
<circle cx="1172.7" cy="71.5" r="1.7" fill="url(#au2)"/>
<circle cx="1185.5" cy="71.5" r="1.7" fill="url(#au2)"/>
<circle cx="1194.8" cy="71.5" r="1.7" fill="url(#au2)"/>
<circle cx="1188.0" cy="71.7" r="1.7" fill="url(#au2)"/>
<circle cx="1220.3" cy="71.7" r="1.7" fill="url(#au2)"/>
<circle cx="1215.1" cy="71.9" r="1.7" fill="url(#au2)"/>
<circle cx="1209.1" cy="72.0" r="1.7" fill="url(#au2)"/>
<circle cx="1205.0" cy="72.0" r="1.7" fill="url(#au2)"/>
<circle cx="1212.4" cy="72.0" r="1.7" fill="url(#au2)"/>
<circle cx="1161.8" cy="72.0" r="1.7" fill="url(#au2)"/>
<circle cx="1171.6" cy="72.1" r="1.7" fill="url(#au2)"/>
<circle cx="1209.1" cy="72.2" r="1.7" fill="url(#au2)"/>
<circle cx="1181.7" cy="72.5" r="1.7" fill="url(#au2)"/>
<circle cx="1182.1" cy="72.6" r="1.7" fill="url(#au2)"/>
<circle cx="1210.8" cy="72.8" r="1.7" fill="url(#au2)"/>
<circle cx="1182.5" cy="72.8" r="1.7" fill="url(#au2)"/>
<circle cx="1174.0" cy="72.8" r="1.7" fill="url(#au2)"/>
<circle cx="1167.6" cy="72.9" r="1.7" fill="url(#au2)"/>
<circle cx="1170.8" cy="73.0" r="1.7" fill="url(#au2)"/>
<circle cx="1180.6" cy="73.0" r="1.7" fill="url(#au2)"/>
<circle cx="1176.7" cy="73.3" r="1.7" fill="url(#au2)"/>
<circle cx="1213.0" cy="73.5" r="1.7" fill="url(#au2)"/>
<circle cx="1163.1" cy="73.6" r="1.7" fill="url(#au2)"/>
<circle cx="1218.6" cy="73.6" r="1.7" fill="url(#au2)"/>
<circle cx="1179.8" cy="73.7" r="1.7" fill="url(#au2)"/>
<circle cx="1197.3" cy="73.9" r="1.7" fill="url(#au2)"/>
<circle cx="1208.6" cy="73.9" r="1.7" fill="url(#au2)"/>
<circle cx="1173.8" cy="74.0" r="1.7" fill="url(#au2)"/>
<circle cx="1212.4" cy="74.0" r="1.7" fill="url(#au2)"/>
<circle cx="1188.7" cy="74.1" r="1.7" fill="url(#au2)"/>
<circle cx="1173.6" cy="74.1" r="1.7" fill="url(#au2)"/>
<circle cx="1205.5" cy="74.2" r="1.7" fill="url(#au2)"/>
<circle cx="1189.4" cy="74.3" r="1.7" fill="url(#au2)"/>
<circle cx="1205.7" cy="74.3" r="1.7" fill="url(#au2)"/>
<circle cx="1203.1" cy="74.3" r="1.7" fill="url(#au2)"/>
<circle cx="1184.4" cy="74.3" r="1.7" fill="url(#au2)"/>
<circle cx="1202.9" cy="74.4" r="1.7" fill="url(#au2)"/>
<circle cx="1211.2" cy="74.4" r="1.7" fill="url(#au2)"/>
<circle cx="1207.7" cy="74.5" r="1.7" fill="url(#au2)"/>
<circle cx="1187.1" cy="74.6" r="1.7" fill="url(#au2)"/>
<circle cx="1191.4" cy="74.6" r="1.7" fill="url(#au2)"/>
<circle cx="1172.9" cy="74.6" r="1.7" fill="url(#au2)"/>
<circle cx="1190.0" cy="74.7" r="1.7" fill="url(#au2)"/>
<circle cx="1193.6" cy="75.0" r="1.7" fill="url(#au2)"/>
<circle cx="1183.2" cy="75.1" r="1.7" fill="url(#au2)"/>
<circle cx="1208.2" cy="75.1" r="1.7" fill="url(#au2)"/>
<circle cx="1210.8" cy="75.2" r="1.7" fill="url(#au2)"/>
<circle cx="1202.2" cy="75.2" r="1.7" fill="url(#au2)"/>
<circle cx="1213.9" cy="75.3" r="1.7" fill="url(#au2)"/>
<circle cx="1206.8" cy="75.4" r="1.7" fill="url(#au2)"/>
<circle cx="1195.0" cy="75.4" r="1.7" fill="url(#au2)"/>
<circle cx="1178.5" cy="75.7" r="1.7" fill="url(#au2)"/>
<circle cx="1190.9" cy="75.8" r="1.7" fill="url(#au2)"/>
<circle cx="1203.8" cy="75.9" r="1.7" fill="url(#au2)"/>
<circle cx="1207.4" cy="75.9" r="1.7" fill="url(#au2)"/>
<circle cx="1198.7" cy="75.9" r="1.7" fill="url(#au2)"/>
<circle cx="1216.8" cy="75.9" r="1.7" fill="url(#au2)"/>
<circle cx="1186.1" cy="76.0" r="1.7" fill="url(#au2)"/>
<circle cx="1187.0" cy="76.0" r="1.7" fill="url(#au2)"/>
<circle cx="1216.2" cy="76.0" r="1.7" fill="url(#au2)"/>
<circle cx="1194.6" cy="76.0" r="1.7" fill="url(#au2)"/>
<circle cx="1195.8" cy="76.1" r="1.7" fill="url(#au2)"/>
<circle cx="1183.5" cy="76.2" r="1.7" fill="url(#au2)"/>
<circle cx="1180.5" cy="76.4" r="1.7" fill="url(#au2)"/>
<circle cx="1193.5" cy="76.7" r="1.7" fill="url(#au2)"/>
<circle cx="1187.2" cy="77.0" r="1.7" fill="url(#au2)"/>
<circle cx="1205.7" cy="77.1" r="1.7" fill="url(#au2)"/>
<circle cx="1185.0" cy="77.3" r="1.7" fill="url(#au2)"/>
<circle cx="1179.5" cy="77.4" r="1.7" fill="url(#au2)"/>
<circle cx="1198.8" cy="77.4" r="1.7" fill="url(#au2)"/>
<circle cx="1196.8" cy="77.6" r="1.7" fill="url(#au2)"/>
<circle cx="1202.8" cy="77.7" r="1.7" fill="url(#au2)"/>
<circle cx="1179.9" cy="78.4" r="1.7" fill="url(#au2)"/>
<circle cx="1200.5" cy="78.4" r="1.7" fill="url(#au2)"/>
<circle cx="1189.6" cy="78.5" r="1.7" fill="url(#au2)"/>
<circle cx="1195.7" cy="78.6" r="1.7" fill="url(#au2)"/>
<circle cx="1202.9" cy="79.0" r="1.7" fill="url(#au2)"/>
<circle cx="1178.8" cy="79.0" r="1.7" fill="url(#au2)"/>
<circle cx="1190.5" cy="79.1" r="1.7" fill="url(#au2)"/>
<circle cx="1186.1" cy="79.3" r="1.7" fill="url(#au2)"/>
<circle cx="1201.1" cy="79.3" r="1.7" fill="url(#au2)"/>
<circle cx="1196.9" cy="79.6" r="1.7" fill="url(#au2)"/>
<circle cx="1192.0" cy="79.9" r="1.7" fill="url(#au2)"/>
<circle cx="1188.9" cy="80.0" r="1.7" fill="url(#au2)"/>
<circle cx="1195.5" cy="80.5" r="1.7" fill="url(#au2)"/>
<circle cx="1201.7" cy="81.1" r="1.7" fill="url(#au2)"/>
<circle cx="1194.0" cy="81.5" r="1.7" fill="url(#au2)"/>
<circle cx="1193.8" cy="81.5" r="1.7" fill="url(#au2)"/>
<circle cx="1189.2" cy="81.8" r="1.7" fill="url(#au2)"/>
<circle cx="1192.7" cy="81.9" r="1.7" fill="url(#au2)"/>
<circle cx="1193.9" cy="82.2" r="1.7" fill="url(#au2)"/>
<circle cx="1189.4" cy="82.2" r="1.7" fill="url(#au2)"/>
<circle cx="1199.1" cy="82.3" r="1.7" fill="url(#au2)"/>
<circle cx="1193.6" cy="82.6" r="1.7" fill="url(#au2)"/>
<circle cx="1202.6" cy="83.2" r="1.7" fill="url(#au2)"/>
<circle cx="1200.0" cy="83.5" r="1.7" fill="url(#au2)"/>
<circle cx="1201.2" cy="83.6" r="1.7" fill="url(#au2)"/>
<circle cx="1190.9" cy="83.7" r="1.7" fill="url(#au2)"/>
<circle cx="1201.0" cy="83.9" r="1.7" fill="url(#au2)"/>
<circle cx="1187.7" cy="84.7" r="1.7" fill="url(#au2)"/>
<circle cx="1199.8" cy="84.7" r="1.7" fill="url(#au2)"/>
<circle cx="1198.2" cy="86.7" r="1.7" fill="url(#au2)"/>
<circle cx="1200.9" cy="87.7" r="1.7" fill="url(#au2)"/>
<text x="588.7" y="137.9" font-family='"Liberation Sans", sans-serif' font-size="16" font-weight="bold" fill="#000" text-anchor="start" textLength="142.2" lengthAdjust="spacingAndGlyphs" >Cells expressing curli</text>
<text x="631.8" y="156.5" font-family='"Liberation Sans", sans-serif' font-size="16" font-weight="bold" fill="#000" text-anchor="start" textLength="54.6" lengthAdjust="spacingAndGlyphs" >variants</text>
<text x="762.5" y="139.3" font-family='"Liberation Sans", sans-serif' font-size="16" font-weight="bold" fill="#000" text-anchor="start" textLength="136.4" lengthAdjust="spacingAndGlyphs" >AuNP nucleation on</text>
<text x="789" y="158" font-family='"Liberation Sans", sans-serif' font-size="16" font-weight="bold" fill="#000" text-anchor="start" textLength="88.4" lengthAdjust="spacingAndGlyphs" >curli variants</text>
<text x="960.2" y="140.7" font-family='"Liberation Sans", sans-serif' font-size="16" font-weight="bold" fill="#000" text-anchor="start" textLength="89" lengthAdjust="spacingAndGlyphs" >Formation of</text>
<text x="942.4" y="160" font-family='"Liberation Sans", sans-serif' font-size="16" font-weight="bold" fill="#000" text-anchor="start" textLength="127" lengthAdjust="spacingAndGlyphs" >nanowires on curli</text>
<text x="1108" y="139.3" font-family='"Liberation Sans", sans-serif' font-size="16" font-weight="bold" fill="#000" text-anchor="start" textLength="171" lengthAdjust="spacingAndGlyphs" >On-chip measurement of</text>
<text x="1157.8" y="158.5" font-family='"Liberation Sans", sans-serif' font-size="16" font-weight="bold" fill="#000" text-anchor="start" textLength="71.8" lengthAdjust="spacingAndGlyphs" >nanowires</text>
<text x="1111.8" y="178" font-family='"Liberation Sans", sans-serif' font-size="16" font-weight="bold" fill="#000" text-anchor="start" textLength="164.2" lengthAdjust="spacingAndGlyphs" >formed on curli variants</text>
<defs>
<marker id="arrK" viewBox="0 0 10 10" refX="8" refY="5" markerWidth="4" markerHeight="4" orient="auto"><path d="M0,0 L10,5 L0,10 z" fill="#000"/></marker>
<marker id="arrK2" viewBox="0 0 10 10" refX="8" refY="5" markerWidth="6" markerHeight="6" orient="auto"><path d="M0,1 L10,5 L0,9 z" fill="#000"/></marker>
<linearGradient id="anodeg" x1="0" x2="1"><stop offset="0" stop-color="#8c8c8c"/><stop offset="0.4" stop-color="#a8a8a8"/><stop offset="1" stop-color="#8a8a8a"/></linearGradient>
<linearGradient id="cathg" x1="0" x2="1"><stop offset="0" stop-color="#d8d8d8"/><stop offset="0.5" stop-color="#f2f2f2"/><stop offset="1" stop-color="#d0d0d0"/></linearGradient>
</defs>
<text x="665.2" y="235.8" font-family='"Liberation Serif", serif' font-size="22" font-weight="bold" fill="#000" text-anchor="start" >i</text>
<rect x="603.2" y="262.7" width="174" height="69" rx="34.5" transform="rotate(-33 690.2 297.2)" fill="none" stroke="#a2a2a2" stroke-width="3.4"/>
<g transform="rotate(-20 677.5 314)"><ellipse cx="677.5" cy="314" rx="30" ry="22" fill="none" stroke="#999" stroke-width="0.8"/><ellipse cx="677.5" cy="314" rx="28" ry="20.2" fill="none" stroke="#aaa" stroke-width="0.7"/></g>
<path d="M656,305.5 Q668,293 685.5,291" fill="none" stroke="#1e6ec8" stroke-width="2.6"/>
<path d="M667,293 L672.5,299 M672.5,293 L667,299" stroke="#e02030" stroke-width="1.6"/>
<text x="661.5" y="293" font-family='"Liberation Sans",sans-serif' font-size="12" fill="#222" text-anchor="middle" transform="rotate(-31 661.5 289.3)">ΔcsgA</text>
<text x="676.3" y="320.5" font-family='"Liberation Serif",serif' font-size="12.5" fill="#222" text-anchor="middle" transform="rotate(-31 676.3 316.7)">genome</text>
<circle cx="726" cy="273.5" r="18" fill="none" stroke="#555" stroke-width="0.7"/>
<path d="M721,256 A18,18 0 0 1 732,256.5" fill="none" stroke="#f0e020" stroke-width="2.5"/>
<path d="M736.5,259 A18,18 0 0 1 742,266.5" fill="none" stroke="#30d030" stroke-width="2.5"/>
<path d="M743,269 A18,18 0 0 1 743,279" fill="none" stroke="#1010d0" stroke-width="2.5"/>
<path d="M742.5,280 A18,18 0 0 1 741.5,282.5" fill="none" stroke="#e02020" stroke-width="2.5"/>
<path d="M731,290.5 A18,18 0 0 1 719,290.5" fill="none" stroke="#888" stroke-width="2.2"/>
<line x1="716" y1="279" x2="731" y2="268" stroke="#bbb" stroke-width="0.6"/><line x1="721" y1="280" x2="728" y2="275" stroke="#bbb" stroke-width="0.6"/>
<text x="741.3" y="301" font-family='"Liberation Serif",serif' font-size="12" fill="#222" text-anchor="middle" transform="rotate(-31 741.3 297)">plasmid</text>
<text x="724" y="339" font-family='"Liberation Serif",serif' font-size="16" fill="#222" text-anchor="middle" transform="rotate(-31 724 333.4)">EAB cell</text>
<path d="M751,234 L758,232 L760,230 L762,235 L770,235" fill="none" stroke="#1aaa50" stroke-width="2.3"/>
<path d="M776,251 L783,249 L785,247 L787,252 L795,252" fill="none" stroke="#1aaa50" stroke-width="2.3"/>
<path d="M757,271.5 L764,269.5 L766,267.5 L768,272.5 L776,272.5" fill="none" stroke="#1aaa50" stroke-width="2.3"/>
<text x="781.3" y="240.4" font-family='"Liberation Serif", serif' font-size="14" fill="#222" text-anchor="start" textLength="37" lengthAdjust="spacingAndGlyphs" >CsgA*</text>
<text x="639.8" y="380.3" font-family='"Liberation Serif", serif' font-size="17" fill="#222" text-anchor="start" textLength="107.5" lengthAdjust="spacingAndGlyphs" >Curli synthesis</text>
<line x1="801.3" y1="301.6" x2="852" y2="301.6" stroke="#000" stroke-width="2.2"/><path d="M858.5,301.6 L849,297.3 L849,305.9 Z" fill="#000"/>
<line x1="1033" y1="302" x2="1083" y2="302" stroke="#000" stroke-width="2.2"/><path d="M1090,302 L1080.5,297.7 L1080.5,306.3 Z" fill="#000"/>
<rect x="892.6" y="232.2" width="123" height="127.4" fill="#fff" stroke="#000" stroke-width="1.7"/>
<path d="M905.9,359.6 L960.8,338.3 Q985,331 995,338 Q1004,345 1007.3,359.6 Z" fill="#b4b4b4" stroke="#000" stroke-width="1.8"/>
<rect x="892.6" y="359" width="123" height="1.5" fill="#000"/>
<text x="954" y="357" font-family='"Liberation Sans", sans-serif' font-size="17" fill="#111" text-anchor="start" textLength="25.5" lengthAdjust="spacingAndGlyphs" >cell</text>
<g transform="translate(938.0,266.0) rotate(8.0)"><path d="M0,0 L19,-1.5 L18,5.5 L1,6 Z" fill="#2cb872" stroke="#1a8a50" stroke-width="0.5"/></g>
<g transform="translate(940.6,273.4) rotate(9.1)"><path d="M0,0 L19,-1.5 L18,5.5 L1,6 Z" fill="#2cb872" stroke="#1a8a50" stroke-width="0.5"/></g>
<g transform="translate(943.1,280.9) rotate(10.2)"><path d="M0,0 L19,-1.5 L18,5.5 L1,6 Z" fill="#2cb872" stroke="#1a8a50" stroke-width="0.5"/></g>
<g transform="translate(945.7,288.3) rotate(11.3)"><path d="M0,0 L19,-1.5 L18,5.5 L1,6 Z" fill="#2cb872" stroke="#1a8a50" stroke-width="0.5"/></g>
<g transform="translate(948.2,295.8) rotate(12.4)"><path d="M0,0 L19,-1.5 L18,5.5 L1,6 Z" fill="#2cb872" stroke="#1a8a50" stroke-width="0.5"/></g>
<g transform="translate(950.8,303.2) rotate(13.6)"><path d="M0,0 L19,-1.5 L18,5.5 L1,6 Z" fill="#2cb872" stroke="#1a8a50" stroke-width="0.5"/></g>
<g transform="translate(953.3,310.7) rotate(14.7)"><path d="M0,0 L19,-1.5 L18,5.5 L1,6 Z" fill="#2cb872" stroke="#1a8a50" stroke-width="0.5"/></g>
<g transform="translate(955.9,318.1) rotate(15.8)"><path d="M0,0 L19,-1.5 L18,5.5 L1,6 Z" fill="#2cb872" stroke="#1a8a50" stroke-width="0.5"/></g>
<g transform="translate(958.4,325.6) rotate(16.9)"><path d="M0,0 L19,-1.5 L18,5.5 L1,6 Z" fill="#2cb872" stroke="#1a8a50" stroke-width="0.5"/></g>
<g transform="translate(961.0,333.0) rotate(18.0)"><path d="M0,0 L19,-1.5 L18,5.5 L1,6 Z" fill="#2cb872" stroke="#1a8a50" stroke-width="0.5"/></g>
<ellipse cx="963.0" cy="266.7" rx="3.4" ry="2.2" transform="rotate(-20 963.0 266.7)" fill="#6e6e6e"/>
<ellipse cx="965.6" cy="274.1" rx="3.4" ry="2.2" transform="rotate(-20 965.6 274.1)" fill="#6e6e6e"/>
<ellipse cx="968.2" cy="281.5" rx="3.4" ry="2.2" transform="rotate(-20 968.2 281.5)" fill="#6e6e6e"/>
<ellipse cx="970.8" cy="288.9" rx="3.4" ry="2.2" transform="rotate(-20 970.8 288.9)" fill="#6e6e6e"/>
<ellipse cx="973.4" cy="296.3" rx="3.4" ry="2.2" transform="rotate(-20 973.4 296.3)" fill="#6e6e6e"/>
<ellipse cx="976.1" cy="303.8" rx="3.4" ry="2.2" transform="rotate(-20 976.1 303.8)" fill="#6e6e6e"/>
<ellipse cx="978.7" cy="311.2" rx="3.4" ry="2.2" transform="rotate(-20 978.7 311.2)" fill="#6e6e6e"/>
<ellipse cx="981.3" cy="318.6" rx="3.4" ry="2.2" transform="rotate(-20 981.3 318.6)" fill="#6e6e6e"/>
<ellipse cx="983.9" cy="326.0" rx="3.4" ry="2.2" transform="rotate(-20 983.9 326.0)" fill="#6e6e6e"/>
<ellipse cx="986.5" cy="333.4" rx="3.4" ry="2.2" transform="rotate(-20 986.5 333.4)" fill="#6e6e6e"/>
<path d="M904,243 L923.5,241.5 L924,250 L905,252 Z" fill="#2cb872" stroke="#1a8a50" stroke-width="0.5"/>
<ellipse cx="930" cy="243.3" rx="3.4" ry="2.2" transform="rotate(-20 930 243.3)" fill="#6e6e6e"/>
<text x="937" y="246.5" font-family='"Liberation Serif", serif' font-size="13" fill="#222" text-anchor="start" textLength="37" lengthAdjust="spacingAndGlyphs" >CsgA*</text>
<path d="M908,258 Q925,250 940,261" fill="none" stroke="#555" stroke-width="0.8" stroke-dasharray="1.5,1.2"/><path d="M942.5,263.5 L936.5,262 L940.5,257.8 Z" fill="#000"/>
<text x="981" y="277.1" font-family='"Liberation Serif", serif' font-size="13" fill="#222" text-anchor="start" textLength="31.2" lengthAdjust="spacingAndGlyphs" >MBD</text>
<text x="896.8" y="289.6" font-family='"Liberation Serif", serif' font-size="13" fill="#222" text-anchor="start" textLength="23" lengthAdjust="spacingAndGlyphs" >curli</text>
<line x1="921.8" y1="293" x2="946" y2="304.3" stroke="#000" stroke-width="0.8"/><path d="M949.5,306 L942.5,305.8 L945,300.5 Z" fill="#000"/>
<line x1="996.2" y1="283.4" x2="989.5" y2="303.5" stroke="#000" stroke-width="0.8"/><path d="M988.6,307.5 L986.5,301 L992,302 Z" fill="#000"/>
<text x="879" y="381.4" font-family='"Liberation Serif", serif' font-size="17" fill="#222" text-anchor="start" textLength="139.7" lengthAdjust="spacingAndGlyphs" >Curli self-assembly</text>
<rect x="1119" y="232.6" width="113.3" height="127.9" fill="#fff" stroke="#000" stroke-width="1.7"/>
<rect x="1196.5" y="233.5" width="35" height="126" fill="#c4c4c4"/>
<line x1="1196.5" y1="233.5" x2="1196.5" y2="359.6" stroke="#333" stroke-width="0.6"/>
<rect x="1183.3" y="244.5" width="13.9" height="35.80000000000001" rx="5.5" fill="#dcd8c0" stroke="#333" stroke-width="0.8"/>
<rect x="1183.3" y="281.3" width="13.9" height="36.19999999999999" rx="5.5" fill="#dcd8c0" stroke="#333" stroke-width="0.8"/>
<rect x="1183.3" y="318.8" width="13.9" height="36.19999999999999" rx="5.5" fill="#dcd8c0" stroke="#333" stroke-width="0.8"/>
<path d="M1196,246 C1202,250 1206,256 1207,262" fill="none" stroke="#1ea64c" stroke-width="1.1"/>
<path d="M1197,250 C1204,258 1202,266 1207,272" fill="none" stroke="#1ea64c" stroke-width="1.1"/>
<path d="M1196,265 C1200,272 1206,276 1205,284" fill="none" stroke="#1ea64c" stroke-width="1.1"/>
<path d="M1197,280 C1203,284 1206,290 1204,296" fill="none" stroke="#1ea64c" stroke-width="1.1"/>
<path d="M1196,285 C1200,292 1205,296 1207,304" fill="none" stroke="#1ea64c" stroke-width="1.1"/>
<path d="M1197,300 C1202,306 1200,312 1206,318" fill="none" stroke="#1ea64c" stroke-width="1.1"/>
<path d="M1196,318 C1203,322 1205,328 1203,334" fill="none" stroke="#1ea64c" stroke-width="1.1"/>
<path d="M1197,322 C1201,328 1206,330 1207,338" fill="none" stroke="#1ea64c" stroke-width="1.1"/>
<path d="M1196,336 C1202,342 1200,348 1205,352" fill="none" stroke="#1ea64c" stroke-width="1.1"/>
<path d="M1183,246 C1186,238 1194,237 1204,238" fill="none" stroke="#1ea64c" stroke-width="1.1"/>
<path d="M1186,244 C1190,240 1198,240 1202,236" fill="none" stroke="#1ea64c" stroke-width="1.1"/>
<path d="M1183,354 C1187,360 1196,360 1204,358" fill="none" stroke="#1ea64c" stroke-width="1.1"/>
<path d="M1186,356 C1190,360 1198,358 1202,360" fill="none" stroke="#1ea64c" stroke-width="1.1"/>
<path d="M1183,316 C1180,312 1177,310 1175,309" fill="none" stroke="#1ea64c" stroke-width="1.1"/>
<path d="M1196,292 C1204,290 1208,296 1210,300" fill="none" stroke="#1ea64c" stroke-width="1.1"/>
<path d="M1196,262 C1204,262 1208,268 1208,272" fill="none" stroke="#1ea64c" stroke-width="1.1"/>
<text x="1157.3" y="268.4" font-family='"Liberation Serif", serif' font-size="14" fill="#222" text-anchor="start" textLength="18.7" lengthAdjust="spacingAndGlyphs" >cell</text>
<text x="1128" y="342.5" font-family='"Liberation Serif", serif' font-size="14" fill="#222" text-anchor="start" textLength="23.7" lengthAdjust="spacingAndGlyphs" >curli</text>
<line x1="1154.5" y1="332.7" x2="1172" y2="318.2" stroke="#000" stroke-width="0.8"/><path d="M1175,316 L1171.5,322 L1168.2,318.2 Z" fill="#000"/>
<text x="1220" y="301.6" font-family='"Liberation Serif",serif' font-size="15" fill="#222" text-anchor="middle" textLength="88" lengthAdjust="spacingAndGlyphs" transform="rotate(-90 1220 296.6)">Stainless   steel</text>
<text x="1086" y="381.4" font-family='"Liberation Serif", serif' font-size="17" fill="#222" text-anchor="start" textLength="178.8" lengthAdjust="spacingAndGlyphs" >Cell anchoring with curli</text>
<text x="729.5" y="461.5" font-family='"Liberation Serif", serif' font-size="22" font-weight="bold" fill="#000" text-anchor="start" >ii</text>
<rect x="734" y="483.1" width="127.60000000000002" height="202.10000000000002" rx="19" fill="none" stroke="#9a7535" stroke-width="6"/>
<line x1="803.2" y1="486" x2="803.2" y2="683" stroke="#d8a93a" stroke-width="2.4"/>
<path d="M777.5,513 V457 H834 V513" fill="none" stroke="#808080" stroke-width="3.2"/>
<g fill="none" stroke="#f5c540" stroke-width="1.8" stroke-linecap="round"><path d="M801.3,448 C794,441 794.5,429 806.3,429 C818.1,429 818.6,441 811.3,448 Z" fill="#fff"/><path d="M793.5,426 L791,423.5 M799,421.5 L797.8,418.5 M806.3,420 L806.3,416.5 M813.6,421.5 L814.8,418.5 M819.1,426 L821.6,423.5 M790,432.5 L787,432 M822.6,432.5 L825.6,432"/></g>
<path d="M801.8,446 L802.2,437.5 L804.2,439.5 L806.3,436 L808.4,439.5 L810.4,437.5 L810.8,446 Z" fill="#f5c540"/>
<rect x="801" y="447.5" width="10.6" height="9.5" rx="1.5" fill="#f5c540"/><line x1="801.5" y1="450.5" x2="811" y2="450.5" stroke="#fff" stroke-width="0.9"/><line x1="801.5" y1="453.5" x2="811" y2="453.5" stroke="#fff" stroke-width="0.9"/>
<rect x="767.5" y="512.9" width="17.8" height="148.5" rx="3" fill="url(#anodeg)"/>
<rect x="764.5" y="516.0" width="14.3" height="9.7" rx="3.9" transform="rotate(-20 771.6 520.9)" fill="#e8e0b4"/>
<rect x="766.0" y="535.0" width="9.7" height="11.3" rx="3.9" transform="rotate(-30 770.9 540.6)" fill="#e8e0b4"/>
<rect x="759.8" y="554.0" width="12.7" height="11.4" rx="4.6" transform="rotate(20 766.1 559.7)" fill="#e8e0b4"/>
<rect x="769.3" y="564.0" width="6.4" height="6.0" rx="2.4" transform="rotate(0 772.5 567.0)" fill="#e8e0b4"/>
<rect x="767.7" y="579.7" width="12.7" height="11.3" rx="4.5" transform="rotate(25 774.0 585.4)" fill="#e8e0b4"/>
<rect x="767.7" y="606.0" width="13.5" height="9.3" rx="3.7" transform="rotate(-40 774.5 610.6)" fill="#e8e0b4"/>
<rect x="772.5" y="622.6" width="6.3" height="6.4" rx="2.5" transform="rotate(0 775.6 625.8)" fill="#e8e0b4"/>
<rect x="769.3" y="629.0" width="13.5" height="9.5" rx="3.8" transform="rotate(-20 776.0 633.8)" fill="#e8e0b4"/>
<rect x="767.7" y="645.0" width="9.6" height="9.4" rx="3.8" transform="rotate(15 772.5 649.7)" fill="#e8e0b4"/>
<path d="M765.9,640.7 l0.5,-3.0 l2.2,0.5" fill="none" stroke="#1c9a44" stroke-width="1.3"/>
<path d="M776.8,598.4 l-3.0,0.2 l-0.0,-2.2" fill="none" stroke="#1c9a44" stroke-width="1.3"/>
<path d="M782.5,590.2 l-0.5,3.0 l-2.2,-0.4" fill="none" stroke="#1c9a44" stroke-width="1.3"/>
<path d="M776.8,544.6 l3.0,0.1 l-0.1,2.2" fill="none" stroke="#1c9a44" stroke-width="1.3"/>
<path d="M776.9,638.5 l-0.6,-2.9 l2.2,-0.4" fill="none" stroke="#1c9a44" stroke-width="1.3"/>
<path d="M769.5,586.7 l-2.6,-1.5 l1.2,-1.9" fill="none" stroke="#1c9a44" stroke-width="1.3"/>
<path d="M778.3,579.8 l-3.0,-0.2 l0.2,-2.2" fill="none" stroke="#1c9a44" stroke-width="1.3"/>
<path d="M780.9,640.0 l-3.0,-0.3 l0.3,-2.2" fill="none" stroke="#1c9a44" stroke-width="1.3"/>
<path d="M783.2,611.2 l2.2,2.0 l-1.5,1.6" fill="none" stroke="#1c9a44" stroke-width="1.3"/>
<path d="M770.7,558.8 l-1.8,2.4 l-1.7,-1.4" fill="none" stroke="#1c9a44" stroke-width="1.3"/>
<path d="M776.2,556.1 l3.0,-0.1 l-0.0,2.2" fill="none" stroke="#1c9a44" stroke-width="1.3"/>
<path d="M782.0,567.1 l-0.9,-2.9 l2.1,-0.6" fill="none" stroke="#1c9a44" stroke-width="1.3"/>
<path d="M786.5,536.8 l-2.1,-2.2 l1.6,-1.5" fill="none" stroke="#1c9a44" stroke-width="1.3"/>
<path d="M787.3,567.7 l2.1,-2.1 l1.5,1.6" fill="none" stroke="#1c9a44" stroke-width="1.3"/>
<path d="M783.6,559.8 l1.8,2.4 l-1.8,1.3" fill="none" stroke="#1c9a44" stroke-width="1.3"/>
<path d="M783.7,573.4 l-1.8,2.4 l-1.7,-1.3" fill="none" stroke="#1c9a44" stroke-width="1.3"/>
<path d="M775.5,618.1 l2.4,-1.9 l1.3,1.8" fill="none" stroke="#1c9a44" stroke-width="1.3"/>
<path d="M786.3,623.6 l1.4,2.7 l-2.0,0.9" fill="none" stroke="#1c9a44" stroke-width="1.3"/>
<path d="M773.3,515.0 l0.9,2.9 l-2.1,0.6" fill="none" stroke="#1c9a44" stroke-width="1.3"/>
<path d="M772.6,539.3 l-3.0,0.5 l-0.3,-2.2" fill="none" stroke="#1c9a44" stroke-width="1.3"/>
<path d="M767.6,607.4 l-2.5,1.6 l-1.1,-1.9" fill="none" stroke="#1c9a44" stroke-width="1.3"/>
<path d="M770.4,612.1 l-1.4,2.6 l-1.9,-1.1" fill="none" stroke="#1c9a44" stroke-width="1.3"/>
<path d="M765.1,633.9 l0.1,-3.0 l2.2,0.1" fill="none" stroke="#1c9a44" stroke-width="1.3"/>
<path d="M785.4,556.0 l-0.3,3.0 l-2.2,-0.3" fill="none" stroke="#1c9a44" stroke-width="1.3"/>
<path d="M781.1,534.9 l2.9,-0.6 l0.4,2.2" fill="none" stroke="#1c9a44" stroke-width="1.3"/>
<path d="M780.0,592.4 l2.8,1.0 l-0.8,2.1" fill="none" stroke="#1c9a44" stroke-width="1.3"/>
<path d="M771.2,574.5 l3.0,-0.4 l0.2,2.2" fill="none" stroke="#1c9a44" stroke-width="1.3"/>
<path d="M767.9,598.6 l2.6,1.4 l-1.1,1.9" fill="none" stroke="#1c9a44" stroke-width="1.3"/>
<path d="M787.6,620.8 l1.1,-2.8 l2.0,0.9" fill="none" stroke="#1c9a44" stroke-width="1.3"/>
<path d="M782.3,539.7 l0.2,3.0 l-2.2,0.1" fill="none" stroke="#1c9a44" stroke-width="1.3"/>
<path d="M765.4,592.8 l2.6,1.5 l-1.1,1.9" fill="none" stroke="#1c9a44" stroke-width="1.3"/>
<path d="M769.0,538.9 l2.6,-1.5 l1.0,2.0" fill="none" stroke="#1c9a44" stroke-width="1.3"/>
<path d="M783.3,554.9 l2.9,-0.6 l0.3,2.2" fill="none" stroke="#1c9a44" stroke-width="1.3"/>
<path d="M768.3,534.1 l-2.2,2.0 l-1.4,-1.7" fill="none" stroke="#1c9a44" stroke-width="1.3"/>
<path d="M783.7,528.1 l0.7,-2.9 l2.1,0.6" fill="none" stroke="#1c9a44" stroke-width="1.3"/>
<path d="M777.4,628.2 l-1.5,2.6 l-1.9,-1.2" fill="none" stroke="#1c9a44" stroke-width="1.3"/>
<path d="M765.5,528.2 l-0.5,-3.0 l2.2,-0.3" fill="none" stroke="#1c9a44" stroke-width="1.3"/>
<path d="M776.6,623.2 l1.0,2.8 l-2.1,0.6" fill="none" stroke="#1c9a44" stroke-width="1.3"/>
<path d="M771.1,544.2 l1.8,-2.4 l1.7,1.3" fill="none" stroke="#1c9a44" stroke-width="1.3"/>
<path d="M781.2,536.1 l-0.5,-3.0 l2.2,-0.3" fill="none" stroke="#1c9a44" stroke-width="1.3"/>
<path d="M765.4,580.7 l-0.1,3.0 l-2.2,-0.2" fill="none" stroke="#1c9a44" stroke-width="1.3"/>
<path d="M782.7,616.8 l-1.2,-2.7 l2.0,-0.8" fill="none" stroke="#1c9a44" stroke-width="1.3"/>
<path d="M769.2,520.1 l-1.9,-2.3 l1.7,-1.4" fill="none" stroke="#1c9a44" stroke-width="1.3"/>
<path d="M781.0,515.3 l1.6,-2.6 l1.8,1.2" fill="none" stroke="#1c9a44" stroke-width="1.3"/>
<path d="M785.9,565.7 l-3.0,-0.4 l0.3,-2.2" fill="none" stroke="#1c9a44" stroke-width="1.3"/>
<path d="M780.0,646.4 l-1.8,-2.4 l1.8,-1.2" fill="none" stroke="#1c9a44" stroke-width="1.3"/>
<path d="M776.8,623.9 l-3.0,0.2 l-0.1,-2.2" fill="none" stroke="#1c9a44" stroke-width="1.3"/>
<path d="M765.3,592.3 l-2.6,1.5 l-1.1,-1.9" fill="none" stroke="#1c9a44" stroke-width="1.3"/>
<path d="M772.5,570.4 l0.5,3.0 l-2.2,0.3" fill="none" stroke="#1c9a44" stroke-width="1.3"/>
<path d="M771.9,620.8 l2.3,-2.0 l1.4,1.7" fill="none" stroke="#1c9a44" stroke-width="1.3"/>
<path d="M775.4,634.9 l2.1,2.1 l-1.6,1.5" fill="none" stroke="#1c9a44" stroke-width="1.3"/>
<path d="M776.8,620.5 l0.6,-2.9 l2.1,0.5" fill="none" stroke="#1c9a44" stroke-width="1.3"/>
<path d="M773.7,538.0 l2.9,-0.7 l0.5,2.1" fill="none" stroke="#1c9a44" stroke-width="1.3"/>
<path d="M779.0,607.4 l-1.7,2.5 l-1.8,-1.3" fill="none" stroke="#1c9a44" stroke-width="1.3"/>
<path d="M767.2,595.6 l-2.5,1.7 l-1.2,-1.9" fill="none" stroke="#1c9a44" stroke-width="1.3"/>
<path d="M785.7,608.8 l0.1,-3.0 l2.2,0.1" fill="none" stroke="#1c9a44" stroke-width="1.3"/>
<path d="M778.1,621.7 l2.0,2.2 l-1.7,1.4" fill="none" stroke="#1c9a44" stroke-width="1.3"/>
<path d="M788.2,597.0 l-2.5,-1.7 l1.3,-1.8" fill="none" stroke="#1c9a44" stroke-width="1.3"/>
<path d="M769.0,527.0 l-0.8,-2.9 l2.1,-0.6" fill="none" stroke="#1c9a44" stroke-width="1.3"/>
<path d="M781.8,609.3 l-0.1,3.0 l-2.2,-0.1" fill="none" stroke="#1c9a44" stroke-width="1.3"/>
<path d="M776.1,623.8 l-1.9,-2.3 l1.7,-1.3" fill="none" stroke="#1c9a44" stroke-width="1.3"/>
<path d="M786.1,526.8 l0.5,-3.0 l2.2,0.4" fill="none" stroke="#1c9a44" stroke-width="1.3"/>
<path d="M764.8,603.4 l-2.9,-0.6 l0.5,-2.1" fill="none" stroke="#1c9a44" stroke-width="1.3"/>
<path d="M766.3,573.9 l-1.5,-2.6 l1.9,-1.0" fill="none" stroke="#1c9a44" stroke-width="1.3"/>
<path d="M785.1,525.0 l-3.0,-0.2 l0.2,-2.2" fill="none" stroke="#1c9a44" stroke-width="1.3"/>
<path d="M783.4,530.7 l2.3,-1.9 l1.3,1.8" fill="none" stroke="#1c9a44" stroke-width="1.3"/>
<path d="M786.8,563.0 l0.8,2.9 l-2.1,0.5" fill="none" stroke="#1c9a44" stroke-width="1.3"/>
<path d="M768.0,545.4 l-2.6,1.5 l-1.0,-1.9" fill="none" stroke="#1c9a44" stroke-width="1.3"/>
<path d="M781.3,648.0 l-2.8,-1.1 l0.8,-2.0" fill="none" stroke="#1c9a44" stroke-width="1.3"/>
<path d="M787.2,575.0 l-1.7,-2.5 l1.9,-1.2" fill="none" stroke="#1c9a44" stroke-width="1.3"/>
<path d="M764.5,573.9 l3.0,0.4 l-0.4,2.2" fill="none" stroke="#1c9a44" stroke-width="1.3"/>
<path d="M767.6,629.6 l2.3,2.0 l-1.5,1.6" fill="none" stroke="#1c9a44" stroke-width="1.3"/>
<path d="M771.6,589.2 l-3.0,-0.5 l0.4,-2.2" fill="none" stroke="#1c9a44" stroke-width="1.3"/>
<path d="M765.2,529.8 l-1.3,-2.7 l2.0,-0.9" fill="none" stroke="#1c9a44" stroke-width="1.3"/>
<path d="M774.1,527.2 l-3.0,0.4 l-0.2,-2.2" fill="none" stroke="#1c9a44" stroke-width="1.3"/>
<rect x="825.1" y="512.9" width="18.3" height="147.1" rx="3" fill="url(#cathg)" stroke="#b8b8b8" stroke-width="0.8"/>
<rect x="832.2" y="658.9" width="0.9" height="0.9" fill="#bdbdbd"/>
<rect x="835.9" y="525.3" width="0.9" height="0.9" fill="#a8a8a8"/>
<rect x="835.1" y="653.3" width="0.9" height="0.9" fill="#c8c8c8"/>
<rect x="827.9" y="592.2" width="0.9" height="0.9" fill="#c8c8c8"/>
<rect x="841.3" y="550.5" width="0.9" height="0.9" fill="#bdbdbd"/>
<rect x="835.9" y="551.1" width="0.9" height="0.9" fill="#c8c8c8"/>
<rect x="831.0" y="594.1" width="0.9" height="0.9" fill="#bdbdbd"/>
<rect x="835.3" y="527.0" width="0.9" height="0.9" fill="#c8c8c8"/>
<rect x="828.2" y="529.2" width="0.9" height="0.9" fill="#a8a8a8"/>
<rect x="835.5" y="554.5" width="0.9" height="0.9" fill="#c8c8c8"/>
<rect x="838.1" y="569.2" width="0.9" height="0.9" fill="#a8a8a8"/>
<rect x="838.0" y="549.3" width="0.9" height="0.9" fill="#bdbdbd"/>
<rect x="826.4" y="541.8" width="0.9" height="0.9" fill="#bdbdbd"/>
<rect x="831.1" y="648.7" width="0.9" height="0.9" fill="#bdbdbd"/>
<rect x="826.4" y="641.1" width="0.9" height="0.9" fill="#bdbdbd"/>
<rect x="827.7" y="564.8" width="0.9" height="0.9" fill="#a8a8a8"/>
<rect x="841.9" y="523.7" width="0.9" height="0.9" fill="#a8a8a8"/>
<rect x="833.4" y="638.1" width="0.9" height="0.9" fill="#bdbdbd"/>
<rect x="829.2" y="608.3" width="0.9" height="0.9" fill="#c8c8c8"/>
<rect x="838.8" y="535.6" width="0.9" height="0.9" fill="#bdbdbd"/>
<rect x="826.3" y="571.4" width="0.9" height="0.9" fill="#a8a8a8"/>
<rect x="837.3" y="539.9" width="0.9" height="0.9" fill="#a8a8a8"/>
<rect x="831.8" y="545.3" width="0.9" height="0.9" fill="#bdbdbd"/>
<rect x="839.5" y="653.3" width="0.9" height="0.9" fill="#a8a8a8"/>
<rect x="840.8" y="651.3" width="0.9" height="0.9" fill="#c8c8c8"/>
<rect x="836.3" y="547.9" width="0.9" height="0.9" fill="#a8a8a8"/>
<rect x="830.7" y="539.1" width="0.9" height="0.9" fill="#c8c8c8"/>
<rect x="832.0" y="640.9" width="0.9" height="0.9" fill="#a8a8a8"/>
<rect x="837.7" y="634.3" width="0.9" height="0.9" fill="#a8a8a8"/>
<rect x="840.2" y="585.4" width="0.9" height="0.9" fill="#bdbdbd"/>
<rect x="835.3" y="559.1" width="0.9" height="0.9" fill="#bdbdbd"/>
<rect x="832.6" y="652.0" width="0.9" height="0.9" fill="#c8c8c8"/>
<rect x="832.9" y="592.6" width="0.9" height="0.9" fill="#a8a8a8"/>
<rect x="831.9" y="652.8" width="0.9" height="0.9" fill="#bdbdbd"/>
<rect x="834.7" y="595.7" width="0.9" height="0.9" fill="#bdbdbd"/>
<rect x="841.6" y="627.4" width="0.9" height="0.9" fill="#c8c8c8"/>
<rect x="838.5" y="647.7" width="0.9" height="0.9" fill="#a8a8a8"/>
<rect x="831.6" y="519.2" width="0.9" height="0.9" fill="#bdbdbd"/>
<rect x="828.2" y="580.5" width="0.9" height="0.9" fill="#bdbdbd"/>
<rect x="827.6" y="648.4" width="0.9" height="0.9" fill="#c8c8c8"/>
<rect x="837.7" y="637.7" width="0.9" height="0.9" fill="#c8c8c8"/>
<rect x="827.1" y="602.0" width="0.9" height="0.9" fill="#bdbdbd"/>
<rect x="835.7" y="547.9" width="0.9" height="0.9" fill="#c8c8c8"/>
<rect x="841.2" y="515.9" width="0.9" height="0.9" fill="#a8a8a8"/>
<rect x="839.1" y="529.1" width="0.9" height="0.9" fill="#c8c8c8"/>
<rect x="831.5" y="615.3" width="0.9" height="0.9" fill="#c8c8c8"/>
<rect x="834.6" y="562.6" width="0.9" height="0.9" fill="#c8c8c8"/>
<rect x="837.4" y="540.2" width="0.9" height="0.9" fill="#bdbdbd"/>
<rect x="839.1" y="585.3" width="0.9" height="0.9" fill="#c8c8c8"/>
<rect x="842.0" y="643.7" width="0.9" height="0.9" fill="#c8c8c8"/>
<rect x="829.8" y="515.8" width="0.9" height="0.9" fill="#c8c8c8"/>
<rect x="828.0" y="606.3" width="0.9" height="0.9" fill="#a8a8a8"/>
<rect x="841.3" y="572.8" width="0.9" height="0.9" fill="#c8c8c8"/>
<rect x="827.3" y="615.0" width="0.9" height="0.9" fill="#c8c8c8"/>
<rect x="834.6" y="538.2" width="0.9" height="0.9" fill="#bdbdbd"/>
<rect x="833.2" y="553.5" width="0.9" height="0.9" fill="#c8c8c8"/>
<rect x="842.4" y="534.0" width="0.9" height="0.9" fill="#c8c8c8"/>
<rect x="838.8" y="559.8" width="0.9" height="0.9" fill="#a8a8a8"/>
<rect x="841.2" y="516.6" width="0.9" height="0.9" fill="#bdbdbd"/>
<rect x="827.5" y="612.4" width="0.9" height="0.9" fill="#c8c8c8"/>
<rect x="827.8" y="611.7" width="0.9" height="0.9" fill="#bdbdbd"/>
<rect x="839.2" y="521.2" width="0.9" height="0.9" fill="#c8c8c8"/>
<rect x="833.0" y="540.2" width="0.9" height="0.9" fill="#c8c8c8"/>
<rect x="830.1" y="620.6" width="0.9" height="0.9" fill="#a8a8a8"/>
<rect x="835.6" y="527.5" width="0.9" height="0.9" fill="#bdbdbd"/>
<rect x="827.2" y="648.3" width="0.9" height="0.9" fill="#c8c8c8"/>
<rect x="826.5" y="536.0" width="0.9" height="0.9" fill="#c8c8c8"/>
<rect x="829.5" y="550.8" width="0.9" height="0.9" fill="#bdbdbd"/>
<rect x="831.0" y="581.6" width="0.9" height="0.9" fill="#a8a8a8"/>
<rect x="840.0" y="542.7" width="0.9" height="0.9" fill="#bdbdbd"/>
<rect x="831.2" y="610.9" width="0.9" height="0.9" fill="#bdbdbd"/>
<rect x="826.9" y="584.4" width="0.9" height="0.9" fill="#bdbdbd"/>
<rect x="836.2" y="539.6" width="0.9" height="0.9" fill="#bdbdbd"/>
<rect x="839.8" y="611.1" width="0.9" height="0.9" fill="#bdbdbd"/>
<rect x="835.5" y="600.3" width="0.9" height="0.9" fill="#c8c8c8"/>
<rect x="831.7" y="553.7" width="0.9" height="0.9" fill="#c8c8c8"/>
<rect x="827.1" y="647.9" width="0.9" height="0.9" fill="#bdbdbd"/>
<rect x="836.9" y="651.6" width="0.9" height="0.9" fill="#a8a8a8"/>
<rect x="830.0" y="522.7" width="0.9" height="0.9" fill="#c8c8c8"/>
<rect x="829.7" y="525.3" width="0.9" height="0.9" fill="#a8a8a8"/>
<rect x="830.8" y="582.0" width="0.9" height="0.9" fill="#bdbdbd"/>
<rect x="835.2" y="552.3" width="0.9" height="0.9" fill="#c8c8c8"/>
<rect x="831.7" y="565.8" width="0.9" height="0.9" fill="#a8a8a8"/>
<rect x="838.3" y="632.4" width="0.9" height="0.9" fill="#c8c8c8"/>
<rect x="830.2" y="617.0" width="0.9" height="0.9" fill="#bdbdbd"/>
<rect x="831.9" y="626.9" width="0.9" height="0.9" fill="#c8c8c8"/>
<rect x="831.0" y="617.1" width="0.9" height="0.9" fill="#bdbdbd"/>
<rect x="829.4" y="539.2" width="0.9" height="0.9" fill="#c8c8c8"/>
<rect x="838.8" y="561.8" width="0.9" height="0.9" fill="#bdbdbd"/>
<rect x="837.8" y="560.5" width="0.9" height="0.9" fill="#a8a8a8"/>
<rect x="839.9" y="534.3" width="0.9" height="0.9" fill="#bdbdbd"/>
<rect x="833.2" y="553.7" width="0.9" height="0.9" fill="#c8c8c8"/>
<rect x="836.8" y="535.8" width="0.9" height="0.9" fill="#a8a8a8"/>
<rect x="830.9" y="522.6" width="0.9" height="0.9" fill="#a8a8a8"/>
<rect x="835.2" y="646.5" width="0.9" height="0.9" fill="#bdbdbd"/>
<rect x="832.6" y="638.4" width="0.9" height="0.9" fill="#bdbdbd"/>
<rect x="828.4" y="650.9" width="0.9" height="0.9" fill="#bdbdbd"/>
<rect x="835.1" y="589.8" width="0.9" height="0.9" fill="#bdbdbd"/>
<rect x="841.9" y="582.7" width="0.9" height="0.9" fill="#c8c8c8"/>
<rect x="826.7" y="653.5" width="0.9" height="0.9" fill="#bdbdbd"/>
<rect x="832.6" y="594.3" width="0.9" height="0.9" fill="#c8c8c8"/>
<rect x="834.9" y="635.9" width="0.9" height="0.9" fill="#a8a8a8"/>
<rect x="838.9" y="534.7" width="0.9" height="0.9" fill="#c8c8c8"/>
<rect x="828.0" y="633.2" width="0.9" height="0.9" fill="#c8c8c8"/>
<rect x="830.5" y="574.2" width="0.9" height="0.9" fill="#a8a8a8"/>
<rect x="838.4" y="570.6" width="0.9" height="0.9" fill="#a8a8a8"/>
<rect x="829.7" y="605.8" width="0.9" height="0.9" fill="#c8c8c8"/>
<rect x="834.9" y="596.3" width="0.9" height="0.9" fill="#a8a8a8"/>
<rect x="840.1" y="596.9" width="0.9" height="0.9" fill="#a8a8a8"/>
<rect x="838.1" y="569.3" width="0.9" height="0.9" fill="#a8a8a8"/>
<rect x="837.3" y="516.1" width="0.9" height="0.9" fill="#bdbdbd"/>
<rect x="834.7" y="584.1" width="0.9" height="0.9" fill="#c8c8c8"/>
<rect x="838.4" y="571.1" width="0.9" height="0.9" fill="#a8a8a8"/>
<rect x="836.7" y="536.3" width="0.9" height="0.9" fill="#bdbdbd"/>
<rect x="834.3" y="619.9" width="0.9" height="0.9" fill="#c8c8c8"/>
<rect x="841.4" y="552.7" width="0.9" height="0.9" fill="#a8a8a8"/>
<rect x="835.4" y="527.0" width="0.9" height="0.9" fill="#bdbdbd"/>
<rect x="835.7" y="580.5" width="0.9" height="0.9" fill="#bdbdbd"/>
<rect x="827.2" y="613.7" width="0.9" height="0.9" fill="#a8a8a8"/>
<rect x="828.5" y="547.0" width="0.9" height="0.9" fill="#bdbdbd"/>
<rect x="830.5" y="595.8" width="0.9" height="0.9" fill="#a8a8a8"/>
<rect x="831.3" y="534.4" width="0.9" height="0.9" fill="#c8c8c8"/>
<rect x="836.3" y="526.0" width="0.9" height="0.9" fill="#a8a8a8"/>
<rect x="837.6" y="591.9" width="0.9" height="0.9" fill="#c8c8c8"/>
<rect x="841.4" y="564.9" width="0.9" height="0.9" fill="#bdbdbd"/>
<rect x="829.8" y="608.2" width="0.9" height="0.9" fill="#bdbdbd"/>
<rect x="834.2" y="537.8" width="0.9" height="0.9" fill="#a8a8a8"/>
<rect x="833.5" y="586.1" width="0.9" height="0.9" fill="#c8c8c8"/>
<rect x="827.9" y="581.0" width="0.9" height="0.9" fill="#bdbdbd"/>
<rect x="836.3" y="521.8" width="0.9" height="0.9" fill="#c8c8c8"/>
<rect x="832.5" y="603.9" width="0.9" height="0.9" fill="#c8c8c8"/>
<rect x="830.9" y="597.8" width="0.9" height="0.9" fill="#c8c8c8"/>
<rect x="835.7" y="536.8" width="0.9" height="0.9" fill="#c8c8c8"/>
<rect x="828.2" y="546.5" width="0.9" height="0.9" fill="#bdbdbd"/>
<rect x="834.3" y="635.8" width="0.9" height="0.9" fill="#a8a8a8"/>
<rect x="837.1" y="642.4" width="0.9" height="0.9" fill="#bdbdbd"/>
<rect x="837.1" y="516.7" width="0.9" height="0.9" fill="#c8c8c8"/>
<rect x="831.2" y="533.3" width="0.9" height="0.9" fill="#c8c8c8"/>
<rect x="829.9" y="581.1" width="0.9" height="0.9" fill="#a8a8a8"/>
<rect x="841.9" y="655.7" width="0.9" height="0.9" fill="#c8c8c8"/>
<rect x="837.5" y="649.8" width="0.9" height="0.9" fill="#c8c8c8"/>
<rect x="836.1" y="642.1" width="0.9" height="0.9" fill="#c8c8c8"/>
<rect x="828.4" y="538.0" width="0.9" height="0.9" fill="#a8a8a8"/>
<rect x="826.8" y="639.2" width="0.9" height="0.9" fill="#a8a8a8"/>
<rect x="836.2" y="517.2" width="0.9" height="0.9" fill="#a8a8a8"/>
<rect x="831.0" y="655.4" width="0.9" height="0.9" fill="#c8c8c8"/>
<rect x="826.1" y="620.2" width="0.9" height="0.9" fill="#a8a8a8"/>
<rect x="836.2" y="567.0" width="0.9" height="0.9" fill="#c8c8c8"/>
<rect x="829.7" y="631.2" width="0.9" height="0.9" fill="#c8c8c8"/>
<rect x="832.1" y="546.0" width="0.9" height="0.9" fill="#a8a8a8"/>
<rect x="833.1" y="578.1" width="0.9" height="0.9" fill="#c8c8c8"/>
<rect x="839.3" y="535.7" width="0.9" height="0.9" fill="#c8c8c8"/>
<rect x="829.7" y="527.7" width="0.9" height="0.9" fill="#c8c8c8"/>
<rect x="833.0" y="630.3" width="0.9" height="0.9" fill="#c8c8c8"/>
<rect x="838.4" y="616.2" width="0.9" height="0.9" fill="#bdbdbd"/>
<rect x="841.1" y="652.2" width="0.9" height="0.9" fill="#a8a8a8"/>
<rect x="841.7" y="540.1" width="0.9" height="0.9" fill="#c8c8c8"/>
<rect x="834.7" y="565.5" width="0.9" height="0.9" fill="#bdbdbd"/>
<rect x="828.6" y="519.3" width="0.9" height="0.9" fill="#c8c8c8"/>
<rect x="841.3" y="516.2" width="0.9" height="0.9" fill="#c8c8c8"/>
<text x="834.6" y="591" font-family='"Liberation Serif",serif' font-size="14" fill="#333" text-anchor="middle" textLength="72" lengthAdjust="spacingAndGlyphs" transform="rotate(-90 834.6 586)">Carbon cloth</text>
<line x1="764.5" y1="513.6" x2="764.5" y2="480.4" stroke="#e8141e" stroke-width="2.3"/>
<path d="M764.5,473.4 L760.9,482.4 L768.1,482.4 Z" fill="#e8141e"/>
<line x1="842.7" y1="465.2" x2="842.7" y2="499.2" stroke="#e8141e" stroke-width="2.3"/>
<path d="M842.7,506.2 L839.1,497.2 L846.3000000000001,497.2 Z" fill="#e8141e"/>
<text x="747" y="502.5" font-family='"Liberation Serif",serif' font-weight="bold" font-size="18" fill="#e8141e">e<tspan font-size="10.8" dy="-8.1">-</tspan></text>
<text x="840.2" y="460.8" font-family='"Liberation Serif",serif' font-weight="bold" font-size="18" fill="#e8141e">e<tspan font-size="10.8" dy="-8.1">-</tspan></text>
<text x="784" y="673.3" font-family='"Liberation Serif",serif' font-weight="bold" font-size="15" fill="#111">H<tspan font-size="9" dy="-6">+</tspan></text>
<line x1="751.3" y1="675.4" x2="829" y2="675.4" stroke="#111" stroke-width="2.3" stroke-dasharray="6,4.5"/><path d="M835,675.4 L826.5,671.4 L826.5,679.4 Z" fill="#111"/>
<text x="738" y="709.6" font-family='"Liberation Serif", serif' font-size="17" fill="#222" text-anchor="start" textLength="46" lengthAdjust="spacingAndGlyphs" >Anode</text>
<text x="809.4" y="709.6" font-family='"Liberation Serif", serif' font-size="17" fill="#222" text-anchor="start" textLength="60.2" lengthAdjust="spacingAndGlyphs" >Cathode</text>
<text x="740" y="588.4" font-family='"Liberation Serif", serif' font-size="14" fill="#222" text-anchor="start" textLength="18.8" lengthAdjust="spacingAndGlyphs" >cell</text>
<text x="867" y="551" font-family='"Liberation Serif",serif' font-size="14" fill="#222">[Fe(CN)<tspan font-size="9" dy="3">6</tspan><tspan dy="-3">]</tspan><tspan font-size="9" dy="-6">3-</tspan></text>
<text x="866" y="630" font-family='"Liberation Serif",serif' font-size="14" fill="#222">[Fe(CN)<tspan font-size="9" dy="3">6</tspan><tspan dy="-3">]</tspan><tspan font-size="9" dy="-6">4-</tspan></text>
<path d="M881,557 C852,575 845,598 874,607.5" fill="none" stroke="#000" stroke-width="2.2"/><path d="M882,611 L872.5,611 L875.5,603.5 Z" fill="#000"/>
<line x1="709.3" y1="532.6" x2="768" y2="571" stroke="#333" stroke-width="0.9" stroke-dasharray="3,2.5"/>
<line x1="709.3" y1="631.5" x2="766.5" y2="595.9" stroke="#333" stroke-width="0.9" stroke-dasharray="3,2.5"/>
<rect x="595.6" y="532.6" width="113.7" height="99.7" fill="#fff" stroke="#333" stroke-width="1.2"/>
<rect x="676.2" y="533.2" width="32.5" height="98.5" fill="#c2c2c2"/><line x1="676.2" y1="533" x2="676.2" y2="632" stroke="#444" stroke-width="0.7"/>
<rect x="642.5" y="544.5" width="32.5" height="78.5" rx="13" fill="#dcd8c0" stroke="#9ab0b8" stroke-width="0.6"/>
<path d="M649,549 q8,-8 20,-10 M652,547 q10,-6 24,-9 M662,543 q10,-2 20,-2 M670,546 q8,0 12,4 M648,620 q6,8 20,10 M655,623 q10,6 22,6 M666,624 q8,2 16,2" fill="none" stroke="#1f9a45" stroke-width="0.9"/>
<text x="699.5" y="588.8" font-family='"Liberation Serif",serif' font-size="15" fill="#222" text-anchor="middle" textLength="86" lengthAdjust="spacingAndGlyphs" transform="rotate(-90 699.5 583.8)">Stainless  steel</text>
<text x="597.6" y="556.3" font-family='"Liberation Serif", serif' font-size="12.5" fill="#222" text-anchor="start" textLength="41.7" lengthAdjust="spacingAndGlyphs" >Organics</text>
<text x="607.8" y="616" font-family='"Liberation Serif",serif' font-size="12.5" fill="#222">CO<tspan font-size="8" dy="2.5">2</tspan></text>
<text x="658.8" y="582" font-family='"Liberation Serif",serif' font-weight="bold" font-size="17" fill="#e8141e">e<tspan font-size="10.2" dy="-7.7">-</tspan></text>
<line x1="658" y1="588.7" x2="684" y2="588.7" stroke="#e8141e" stroke-width="2" stroke-dasharray="4,2.5"/><path d="M691,588.7 L683,584.8 L683,592.6 Z" fill="#e8141e"/>
<path d="M623,563.6 C640,571 660,580 656.5,585 C652,592 640,598 628,603" fill="none" stroke="#000" stroke-width="2"/><path d="M622,606 L627,598.5 L630.5,605.5 Z" fill="#000"/>
<text x="601" y="654.6" font-family='"Liberation Serif", serif' font-size="16" fill="#222" text-anchor="start" textLength="102.3" lengthAdjust="spacingAndGlyphs" >Release  electron</text>
<line x1="946.4" y1="440.9" x2="946.4" y2="703" stroke="#a8a8a8" stroke-width="1.2"/>
<text x="970.2" y="460.2" font-family='"Liberation Serif", serif' font-size="22" font-weight="bold" fill="#000" text-anchor="start" >iii</text>
<rect x="989" y="484" width="134.70000000000005" height="201.20000000000005" rx="19" fill="none" stroke="#9a7535" stroke-width="6"/>
<line x1="1053.7" y1="487" x2="1053.7" y2="683" stroke="#d8a93a" stroke-width="2.4"/>
<path d="M1025.4,513 V457.2 H1044.7 M1059.6,457.2 H1083.5 V511" fill="none" stroke="#808080" stroke-width="3.2"/>
<line x1="1044.7" y1="449.8" x2="1044.7" y2="467.7" stroke="#808080" stroke-width="3.4"/><line x1="1059.6" y1="452.8" x2="1059.6" y2="461.7" stroke="#808080" stroke-width="3.4"/>
<text x="1034.3" y="446.8" font-family='"Liberation Serif", serif' font-size="14" fill="#222" text-anchor="start" textLength="38.7" lengthAdjust="spacingAndGlyphs" >Power</text>
<rect x="1016.5" y="512.4" width="18.8" height="146.3" rx="3" fill="url(#cathg)" stroke="#b8b8b8" stroke-width="0.8"/>
<rect x="1030.8" y="514.7" width="0.9" height="0.9" fill="#a8a8a8"/>
<rect x="1023.2" y="629.1" width="0.9" height="0.9" fill="#bdbdbd"/>
<rect x="1031.5" y="623.2" width="0.9" height="0.9" fill="#c8c8c8"/>
<rect x="1030.2" y="536.5" width="0.9" height="0.9" fill="#c8c8c8"/>
<rect x="1025.8" y="582.0" width="0.9" height="0.9" fill="#c8c8c8"/>
<rect x="1028.9" y="642.4" width="0.9" height="0.9" fill="#c8c8c8"/>
<rect x="1023.1" y="625.4" width="0.9" height="0.9" fill="#c8c8c8"/>
<rect x="1028.9" y="632.5" width="0.9" height="0.9" fill="#bdbdbd"/>
<rect x="1032.6" y="649.1" width="0.9" height="0.9" fill="#bdbdbd"/>
<rect x="1023.9" y="564.1" width="0.9" height="0.9" fill="#c8c8c8"/>
<rect x="1032.5" y="595.7" width="0.9" height="0.9" fill="#a8a8a8"/>
<rect x="1022.3" y="588.1" width="0.9" height="0.9" fill="#a8a8a8"/>
<rect x="1021.1" y="565.6" width="0.9" height="0.9" fill="#c8c8c8"/>
<rect x="1029.6" y="622.1" width="0.9" height="0.9" fill="#c8c8c8"/>
<rect x="1027.9" y="541.5" width="0.9" height="0.9" fill="#a8a8a8"/>
<rect x="1032.2" y="617.5" width="0.9" height="0.9" fill="#bdbdbd"/>
<rect x="1027.7" y="580.1" width="0.9" height="0.9" fill="#c8c8c8"/>
<rect x="1030.7" y="629.5" width="0.9" height="0.9" fill="#c8c8c8"/>
<rect x="1034.0" y="603.9" width="0.9" height="0.9" fill="#a8a8a8"/>
<rect x="1032.8" y="539.0" width="0.9" height="0.9" fill="#bdbdbd"/>
<rect x="1023.9" y="599.6" width="0.9" height="0.9" fill="#a8a8a8"/>
<rect x="1028.4" y="560.6" width="0.9" height="0.9" fill="#a8a8a8"/>
<rect x="1028.9" y="566.7" width="0.9" height="0.9" fill="#c8c8c8"/>
<rect x="1027.3" y="620.7" width="0.9" height="0.9" fill="#bdbdbd"/>
<rect x="1022.2" y="514.1" width="0.9" height="0.9" fill="#bdbdbd"/>
<rect x="1026.3" y="606.6" width="0.9" height="0.9" fill="#a8a8a8"/>
<rect x="1024.0" y="655.9" width="0.9" height="0.9" fill="#c8c8c8"/>
<rect x="1025.0" y="649.0" width="0.9" height="0.9" fill="#bdbdbd"/>
<rect x="1023.6" y="574.0" width="0.9" height="0.9" fill="#c8c8c8"/>
<rect x="1033.0" y="535.6" width="0.9" height="0.9" fill="#bdbdbd"/>
<rect x="1031.7" y="522.1" width="0.9" height="0.9" fill="#bdbdbd"/>
<rect x="1030.8" y="594.1" width="0.9" height="0.9" fill="#a8a8a8"/>
<rect x="1026.8" y="649.1" width="0.9" height="0.9" fill="#bdbdbd"/>
<rect x="1032.2" y="568.5" width="0.9" height="0.9" fill="#c8c8c8"/>
<rect x="1030.7" y="623.7" width="0.9" height="0.9" fill="#bdbdbd"/>
<rect x="1031.8" y="606.1" width="0.9" height="0.9" fill="#c8c8c8"/>
<rect x="1029.8" y="608.1" width="0.9" height="0.9" fill="#bdbdbd"/>
<rect x="1030.2" y="615.0" width="0.9" height="0.9" fill="#c8c8c8"/>
<rect x="1020.6" y="591.6" width="0.9" height="0.9" fill="#c8c8c8"/>
<rect x="1029.6" y="600.2" width="0.9" height="0.9" fill="#c8c8c8"/>
<rect x="1033.3" y="540.8" width="0.9" height="0.9" fill="#a8a8a8"/>
<rect x="1023.8" y="518.0" width="0.9" height="0.9" fill="#bdbdbd"/>
<rect x="1026.8" y="597.1" width="0.9" height="0.9" fill="#a8a8a8"/>
<rect x="1030.4" y="610.8" width="0.9" height="0.9" fill="#c8c8c8"/>
<rect x="1017.6" y="653.2" width="0.9" height="0.9" fill="#a8a8a8"/>
<rect x="1027.1" y="564.2" width="0.9" height="0.9" fill="#bdbdbd"/>
<rect x="1032.5" y="599.5" width="0.9" height="0.9" fill="#bdbdbd"/>
<rect x="1031.4" y="536.4" width="0.9" height="0.9" fill="#a8a8a8"/>
<rect x="1030.7" y="635.2" width="0.9" height="0.9" fill="#c8c8c8"/>
<rect x="1031.7" y="558.2" width="0.9" height="0.9" fill="#c8c8c8"/>
<rect x="1019.3" y="628.1" width="0.9" height="0.9" fill="#c8c8c8"/>
<rect x="1022.0" y="589.7" width="0.9" height="0.9" fill="#a8a8a8"/>
<rect x="1020.4" y="555.1" width="0.9" height="0.9" fill="#c8c8c8"/>
<rect x="1018.8" y="559.1" width="0.9" height="0.9" fill="#a8a8a8"/>
<rect x="1026.5" y="555.4" width="0.9" height="0.9" fill="#c8c8c8"/>
<rect x="1027.2" y="617.8" width="0.9" height="0.9" fill="#bdbdbd"/>
<rect x="1031.7" y="559.6" width="0.9" height="0.9" fill="#c8c8c8"/>
<rect x="1018.6" y="647.0" width="0.9" height="0.9" fill="#a8a8a8"/>
<rect x="1019.2" y="571.5" width="0.9" height="0.9" fill="#a8a8a8"/>
<rect x="1018.4" y="526.1" width="0.9" height="0.9" fill="#c8c8c8"/>
<rect x="1032.2" y="518.4" width="0.9" height="0.9" fill="#a8a8a8"/>
<rect x="1025.1" y="558.9" width="0.9" height="0.9" fill="#a8a8a8"/>
<rect x="1028.5" y="585.1" width="0.9" height="0.9" fill="#c8c8c8"/>
<rect x="1033.1" y="627.8" width="0.9" height="0.9" fill="#c8c8c8"/>
<rect x="1027.0" y="590.6" width="0.9" height="0.9" fill="#c8c8c8"/>
<rect x="1023.3" y="575.9" width="0.9" height="0.9" fill="#c8c8c8"/>
<rect x="1032.6" y="525.4" width="0.9" height="0.9" fill="#a8a8a8"/>
<rect x="1020.7" y="582.3" width="0.9" height="0.9" fill="#c8c8c8"/>
<rect x="1019.3" y="599.4" width="0.9" height="0.9" fill="#bdbdbd"/>
<rect x="1019.4" y="583.6" width="0.9" height="0.9" fill="#bdbdbd"/>
<rect x="1021.5" y="604.9" width="0.9" height="0.9" fill="#bdbdbd"/>
<rect x="1025.6" y="594.2" width="0.9" height="0.9" fill="#c8c8c8"/>
<rect x="1033.6" y="635.5" width="0.9" height="0.9" fill="#c8c8c8"/>
<rect x="1024.1" y="579.4" width="0.9" height="0.9" fill="#bdbdbd"/>
<rect x="1029.7" y="603.6" width="0.9" height="0.9" fill="#c8c8c8"/>
<rect x="1019.0" y="570.3" width="0.9" height="0.9" fill="#bdbdbd"/>
<rect x="1030.4" y="613.7" width="0.9" height="0.9" fill="#a8a8a8"/>
<rect x="1025.7" y="520.9" width="0.9" height="0.9" fill="#a8a8a8"/>
<rect x="1028.2" y="570.8" width="0.9" height="0.9" fill="#a8a8a8"/>
<rect x="1025.9" y="642.3" width="0.9" height="0.9" fill="#c8c8c8"/>
<rect x="1021.7" y="599.7" width="0.9" height="0.9" fill="#bdbdbd"/>
<rect x="1033.8" y="650.5" width="0.9" height="0.9" fill="#bdbdbd"/>
<rect x="1025.8" y="565.5" width="0.9" height="0.9" fill="#bdbdbd"/>
<rect x="1033.4" y="640.1" width="0.9" height="0.9" fill="#bdbdbd"/>
<rect x="1019.5" y="527.7" width="0.9" height="0.9" fill="#a8a8a8"/>
<rect x="1033.5" y="621.9" width="0.9" height="0.9" fill="#c8c8c8"/>
<rect x="1024.4" y="655.1" width="0.9" height="0.9" fill="#a8a8a8"/>
<rect x="1022.9" y="590.8" width="0.9" height="0.9" fill="#a8a8a8"/>
<rect x="1019.0" y="639.2" width="0.9" height="0.9" fill="#a8a8a8"/>
<rect x="1019.2" y="608.2" width="0.9" height="0.9" fill="#c8c8c8"/>
<rect x="1026.0" y="591.8" width="0.9" height="0.9" fill="#a8a8a8"/>
<rect x="1031.8" y="546.6" width="0.9" height="0.9" fill="#bdbdbd"/>
<rect x="1025.0" y="536.3" width="0.9" height="0.9" fill="#bdbdbd"/>
<rect x="1026.8" y="620.2" width="0.9" height="0.9" fill="#a8a8a8"/>
<rect x="1021.1" y="616.7" width="0.9" height="0.9" fill="#a8a8a8"/>
<rect x="1018.4" y="561.5" width="0.9" height="0.9" fill="#bdbdbd"/>
<rect x="1029.0" y="568.6" width="0.9" height="0.9" fill="#bdbdbd"/>
<rect x="1019.2" y="637.0" width="0.9" height="0.9" fill="#a8a8a8"/>
<rect x="1022.8" y="562.5" width="0.9" height="0.9" fill="#a8a8a8"/>
<rect x="1017.7" y="589.6" width="0.9" height="0.9" fill="#c8c8c8"/>
<rect x="1023.6" y="632.0" width="0.9" height="0.9" fill="#bdbdbd"/>
<rect x="1020.0" y="571.2" width="0.9" height="0.9" fill="#bdbdbd"/>
<rect x="1034.3" y="629.8" width="0.9" height="0.9" fill="#bdbdbd"/>
<rect x="1029.8" y="639.8" width="0.9" height="0.9" fill="#c8c8c8"/>
<rect x="1028.0" y="646.8" width="0.9" height="0.9" fill="#bdbdbd"/>
<rect x="1019.9" y="634.1" width="0.9" height="0.9" fill="#a8a8a8"/>
<rect x="1025.6" y="642.0" width="0.9" height="0.9" fill="#bdbdbd"/>
<rect x="1027.6" y="593.3" width="0.9" height="0.9" fill="#bdbdbd"/>
<rect x="1032.6" y="635.9" width="0.9" height="0.9" fill="#c8c8c8"/>
<rect x="1018.1" y="584.0" width="0.9" height="0.9" fill="#bdbdbd"/>
<rect x="1023.9" y="550.2" width="0.9" height="0.9" fill="#bdbdbd"/>
<rect x="1021.8" y="587.5" width="0.9" height="0.9" fill="#bdbdbd"/>
<rect x="1022.7" y="564.3" width="0.9" height="0.9" fill="#bdbdbd"/>
<rect x="1029.1" y="576.0" width="0.9" height="0.9" fill="#bdbdbd"/>
<rect x="1030.0" y="554.3" width="0.9" height="0.9" fill="#bdbdbd"/>
<rect x="1024.6" y="653.8" width="0.9" height="0.9" fill="#c8c8c8"/>
<rect x="1027.5" y="604.2" width="0.9" height="0.9" fill="#c8c8c8"/>
<rect x="1018.8" y="627.1" width="0.9" height="0.9" fill="#a8a8a8"/>
<rect x="1018.4" y="565.9" width="0.9" height="0.9" fill="#c8c8c8"/>
<rect x="1019.5" y="559.9" width="0.9" height="0.9" fill="#c8c8c8"/>
<rect x="1033.4" y="647.7" width="0.9" height="0.9" fill="#c8c8c8"/>
<rect x="1026.8" y="530.2" width="0.9" height="0.9" fill="#c8c8c8"/>
<rect x="1028.5" y="516.8" width="0.9" height="0.9" fill="#a8a8a8"/>
<rect x="1024.2" y="538.7" width="0.9" height="0.9" fill="#bdbdbd"/>
<rect x="1024.2" y="557.5" width="0.9" height="0.9" fill="#bdbdbd"/>
<rect x="1022.8" y="568.4" width="0.9" height="0.9" fill="#bdbdbd"/>
<rect x="1034.2" y="619.3" width="0.9" height="0.9" fill="#c8c8c8"/>
<rect x="1017.8" y="645.3" width="0.9" height="0.9" fill="#a8a8a8"/>
<rect x="1026.8" y="563.4" width="0.9" height="0.9" fill="#a8a8a8"/>
<rect x="1023.0" y="516.8" width="0.9" height="0.9" fill="#a8a8a8"/>
<rect x="1022.5" y="519.0" width="0.9" height="0.9" fill="#a8a8a8"/>
<rect x="1031.0" y="630.6" width="0.9" height="0.9" fill="#a8a8a8"/>
<rect x="1033.0" y="553.5" width="0.9" height="0.9" fill="#a8a8a8"/>
<rect x="1033.4" y="609.6" width="0.9" height="0.9" fill="#bdbdbd"/>
<rect x="1022.8" y="637.8" width="0.9" height="0.9" fill="#bdbdbd"/>
<rect x="1022.6" y="648.6" width="0.9" height="0.9" fill="#c8c8c8"/>
<rect x="1024.4" y="599.2" width="0.9" height="0.9" fill="#c8c8c8"/>
<rect x="1033.3" y="557.2" width="0.9" height="0.9" fill="#a8a8a8"/>
<rect x="1025.5" y="644.7" width="0.9" height="0.9" fill="#c8c8c8"/>
<rect x="1032.3" y="621.5" width="0.9" height="0.9" fill="#a8a8a8"/>
<rect x="1032.0" y="646.5" width="0.9" height="0.9" fill="#bdbdbd"/>
<rect x="1028.4" y="530.3" width="0.9" height="0.9" fill="#a8a8a8"/>
<rect x="1033.8" y="536.3" width="0.9" height="0.9" fill="#bdbdbd"/>
<rect x="1031.3" y="634.7" width="0.9" height="0.9" fill="#a8a8a8"/>
<rect x="1018.8" y="586.4" width="0.9" height="0.9" fill="#bdbdbd"/>
<rect x="1034.1" y="647.0" width="0.9" height="0.9" fill="#a8a8a8"/>
<rect x="1032.4" y="594.9" width="0.9" height="0.9" fill="#bdbdbd"/>
<rect x="1029.8" y="617.0" width="0.9" height="0.9" fill="#c8c8c8"/>
<rect x="1020.8" y="622.1" width="0.9" height="0.9" fill="#a8a8a8"/>
<rect x="1019.4" y="533.6" width="0.9" height="0.9" fill="#a8a8a8"/>
<rect x="1028.5" y="655.1" width="0.9" height="0.9" fill="#c8c8c8"/>
<rect x="1025.4" y="632.4" width="0.9" height="0.9" fill="#c8c8c8"/>
<rect x="1029.2" y="525.5" width="0.9" height="0.9" fill="#c8c8c8"/>
<rect x="1024.4" y="532.0" width="0.9" height="0.9" fill="#bdbdbd"/>
<rect x="1020.3" y="579.2" width="0.9" height="0.9" fill="#bdbdbd"/>
<rect x="1026.7" y="591.9" width="0.9" height="0.9" fill="#c8c8c8"/>
<rect x="1029.7" y="544.1" width="0.9" height="0.9" fill="#a8a8a8"/>
<rect x="1019.3" y="604.5" width="0.9" height="0.9" fill="#a8a8a8"/>
<rect x="1020.8" y="623.4" width="0.9" height="0.9" fill="#a8a8a8"/>
<rect x="1026.7" y="602.2" width="0.9" height="0.9" fill="#bdbdbd"/>
<text x="1028" y="594" font-family='"Liberation Serif",serif' font-size="14" fill="#333" text-anchor="middle" textLength="72" lengthAdjust="spacingAndGlyphs" transform="rotate(-90 1028 589)">Carbon cloth</text>
<rect x="1071.5" y="509.4" width="18.5" height="153" rx="3" fill="url(#anodeg)"/>
<rect x="1064.0" y="505.0" width="15.0" height="12.0" rx="4.8" transform="rotate(-25 1071.5 511.0)" fill="#e8e0b4"/>
<rect x="1079.0" y="527.5" width="14.7" height="12.5" rx="5.0" transform="rotate(-30 1086.3 533.8)" fill="#e8e0b4"/>
<rect x="1074.6" y="536.0" width="10.4" height="14.8" rx="4.2" transform="rotate(-20 1079.8 543.4)" fill="#e8e0b4"/>
<rect x="1070.0" y="563.5" width="13.0" height="10.5" rx="4.2" transform="rotate(30 1076.5 568.8)" fill="#e8e0b4"/>
<rect x="1074.6" y="580.4" width="10.4" height="10.6" rx="4.2" transform="rotate(-30 1079.8 585.7)" fill="#e8e0b4"/>
<rect x="1085.0" y="583.6" width="6.6" height="5.4" rx="2.2" transform="rotate(0 1088.3 586.3)" fill="#e8e0b4"/>
<rect x="1070.0" y="595.0" width="13.0" height="15.0" rx="5.2" transform="rotate(-25 1076.5 602.5)" fill="#e8e0b4"/>
<rect x="1066.0" y="617.5" width="19.0" height="16.9" rx="6.8" transform="rotate(30 1075.5 626.0)" fill="#e8e0b4"/>
<rect x="1064.0" y="644.0" width="15.0" height="10.5" rx="4.2" transform="rotate(-20 1071.5 649.2)" fill="#e8e0b4"/>
<path d="M1083.7,569.7 l2.0,-2.2 l1.6,1.5" fill="none" stroke="#1c9a44" stroke-width="1.3"/>
<path d="M1085.2,630.9 l-2.3,1.9 l-1.4,-1.7" fill="none" stroke="#1c9a44" stroke-width="1.3"/>
<path d="M1089.6,598.2 l-3.0,-0.5 l0.4,-2.2" fill="none" stroke="#1c9a44" stroke-width="1.3"/>
<path d="M1090.6,657.4 l2.7,-1.3 l0.9,2.0" fill="none" stroke="#1c9a44" stroke-width="1.3"/>
<path d="M1083.7,626.5 l-0.7,-2.9 l2.2,-0.4" fill="none" stroke="#1c9a44" stroke-width="1.3"/>
<path d="M1078.4,584.0 l-2.7,1.4 l-1.0,-2.0" fill="none" stroke="#1c9a44" stroke-width="1.3"/>
<path d="M1090.3,569.8 l-1.3,2.7 l-2.0,-1.0" fill="none" stroke="#1c9a44" stroke-width="1.3"/>
<path d="M1087.9,532.0 l-0.2,3.0 l-2.2,-0.2" fill="none" stroke="#1c9a44" stroke-width="1.3"/>
<path d="M1077.0,659.0 l-3.0,-0.4 l0.4,-2.2" fill="none" stroke="#1c9a44" stroke-width="1.3"/>
<path d="M1073.3,558.6 l-0.6,-2.9 l2.2,-0.3" fill="none" stroke="#1c9a44" stroke-width="1.3"/>
<path d="M1087.9,598.3 l-0.9,-2.9 l2.1,-0.6" fill="none" stroke="#1c9a44" stroke-width="1.3"/>
<path d="M1080.5,569.0 l0.1,-3.0 l2.2,0.1" fill="none" stroke="#1c9a44" stroke-width="1.3"/>
<path d="M1083.4,623.3 l-0.5,3.0 l-2.2,-0.4" fill="none" stroke="#1c9a44" stroke-width="1.3"/>
<path d="M1073.1,586.1 l-1.0,2.8 l-2.1,-0.8" fill="none" stroke="#1c9a44" stroke-width="1.3"/>
<path d="M1068.8,521.8 l-2.6,1.5 l-1.0,-1.9" fill="none" stroke="#1c9a44" stroke-width="1.3"/>
<path d="M1076.8,560.2 l2.5,1.7 l-1.3,1.8" fill="none" stroke="#1c9a44" stroke-width="1.3"/>
<path d="M1091.0,628.7 l-0.1,3.0 l-2.2,-0.1" fill="none" stroke="#1c9a44" stroke-width="1.3"/>
<path d="M1072.1,654.7 l2.6,-1.5 l1.0,2.0" fill="none" stroke="#1c9a44" stroke-width="1.3"/>
<path d="M1085.8,565.4 l-2.6,-1.6 l1.2,-1.8" fill="none" stroke="#1c9a44" stroke-width="1.3"/>
<path d="M1071.5,647.4 l3.0,-0.3 l0.2,2.2" fill="none" stroke="#1c9a44" stroke-width="1.3"/>
<path d="M1089.9,574.1 l-2.6,1.4 l-1.0,-2.0" fill="none" stroke="#1c9a44" stroke-width="1.3"/>
<path d="M1082.7,579.7 l2.0,-2.3 l1.6,1.5" fill="none" stroke="#1c9a44" stroke-width="1.3"/>
<path d="M1087.2,645.6 l-1.3,-2.7 l2.0,-0.9" fill="none" stroke="#1c9a44" stroke-width="1.3"/>
<path d="M1072.4,600.3 l2.8,0.9 l-0.7,2.1" fill="none" stroke="#1c9a44" stroke-width="1.3"/>
<path d="M1086.5,533.2 l2.2,-2.0 l1.5,1.7" fill="none" stroke="#1c9a44" stroke-width="1.3"/>
<path d="M1086.5,624.8 l-1.4,-2.7 l2.0,-1.0" fill="none" stroke="#1c9a44" stroke-width="1.3"/>
<path d="M1089.5,523.8 l-0.3,-3.0 l2.2,-0.1" fill="none" stroke="#1c9a44" stroke-width="1.3"/>
<path d="M1084.2,609.6 l-0.2,3.0 l-2.2,-0.2" fill="none" stroke="#1c9a44" stroke-width="1.3"/>
<path d="M1076.6,549.7 l2.5,-1.6 l1.1,1.9" fill="none" stroke="#1c9a44" stroke-width="1.3"/>
<path d="M1071.7,538.0 l-2.6,1.4 l-1.0,-2.0" fill="none" stroke="#1c9a44" stroke-width="1.3"/>
<path d="M1089.5,658.4 l1.3,2.7 l-2.0,0.9" fill="none" stroke="#1c9a44" stroke-width="1.3"/>
<path d="M1068.8,629.9 l1.6,-2.6 l1.8,1.2" fill="none" stroke="#1c9a44" stroke-width="1.3"/>
<path d="M1080.4,605.9 l-1.4,-2.6 l2.0,-1.0" fill="none" stroke="#1c9a44" stroke-width="1.3"/>
<path d="M1085.3,639.5 l-3.0,0.5 l-0.3,-2.2" fill="none" stroke="#1c9a44" stroke-width="1.3"/>
<path d="M1091.6,625.6 l-2.8,-1.0 l0.8,-2.1" fill="none" stroke="#1c9a44" stroke-width="1.3"/>
<path d="M1077.3,527.0 l1.8,2.4 l-1.8,1.3" fill="none" stroke="#1c9a44" stroke-width="1.3"/>
<path d="M1076.9,582.7 l2.3,-1.9 l1.3,1.8" fill="none" stroke="#1c9a44" stroke-width="1.3"/>
<path d="M1070.5,594.7 l0.9,2.8 l-2.1,0.6" fill="none" stroke="#1c9a44" stroke-width="1.3"/>
<path d="M1077.1,583.1 l-2.2,2.1 l-1.5,-1.6" fill="none" stroke="#1c9a44" stroke-width="1.3"/>
<path d="M1087.4,654.0 l-2.9,-0.7 l0.6,-2.1" fill="none" stroke="#1c9a44" stroke-width="1.3"/>
<path d="M1076.1,548.4 l-2.5,-1.7 l1.3,-1.8" fill="none" stroke="#1c9a44" stroke-width="1.3"/>
<path d="M1071.2,512.5 l-1.4,-2.7 l2.0,-1.0" fill="none" stroke="#1c9a44" stroke-width="1.3"/>
<path d="M1083.6,653.5 l-2.8,1.0 l-0.7,-2.1" fill="none" stroke="#1c9a44" stroke-width="1.3"/>
<path d="M1070.9,633.4 l-2.7,-1.4 l1.1,-1.9" fill="none" stroke="#1c9a44" stroke-width="1.3"/>
<path d="M1091.8,560.8 l-1.0,2.8 l-2.1,-0.8" fill="none" stroke="#1c9a44" stroke-width="1.3"/>
<path d="M1072.0,520.5 l2.6,1.5 l-1.1,1.9" fill="none" stroke="#1c9a44" stroke-width="1.3"/>
<path d="M1088.5,544.8 l0.6,2.9 l-2.2,0.4" fill="none" stroke="#1c9a44" stroke-width="1.3"/>
<path d="M1092.6,533.3 l-2.7,-1.4 l1.0,-1.9" fill="none" stroke="#1c9a44" stroke-width="1.3"/>
<path d="M1073.7,644.1 l0.4,-3.0 l2.2,0.4" fill="none" stroke="#1c9a44" stroke-width="1.3"/>
<path d="M1080.0,536.6 l-2.5,-1.6 l1.2,-1.8" fill="none" stroke="#1c9a44" stroke-width="1.3"/>
<path d="M1072.9,607.0 l-2.8,1.2 l-0.8,-2.1" fill="none" stroke="#1c9a44" stroke-width="1.3"/>
<path d="M1085.9,623.5 l-0.2,3.0 l-2.2,-0.2" fill="none" stroke="#1c9a44" stroke-width="1.3"/>
<path d="M1085.8,538.1 l1.3,2.7 l-2.0,0.9" fill="none" stroke="#1c9a44" stroke-width="1.3"/>
<path d="M1090.9,518.0 l1.7,-2.4 l1.8,1.3" fill="none" stroke="#1c9a44" stroke-width="1.3"/>
<path d="M1080.0,516.3 l2.2,2.0 l-1.5,1.6" fill="none" stroke="#1c9a44" stroke-width="1.3"/>
<path d="M1085.8,534.1 l-0.3,3.0 l-2.2,-0.3" fill="none" stroke="#1c9a44" stroke-width="1.3"/>
<path d="M1074.2,630.5 l2.9,-0.8 l0.5,2.1" fill="none" stroke="#1c9a44" stroke-width="1.3"/>
<path d="M1073.3,631.2 l0.9,2.9 l-2.1,0.6" fill="none" stroke="#1c9a44" stroke-width="1.3"/>
<path d="M1086.8,630.1 l-1.2,2.8 l-2.0,-0.9" fill="none" stroke="#1c9a44" stroke-width="1.3"/>
<path d="M1070.3,658.1 l-1.7,-2.5 l1.9,-1.2" fill="none" stroke="#1c9a44" stroke-width="1.3"/>
<path d="M1077.1,579.7 l-2.8,-1.2 l0.9,-2.0" fill="none" stroke="#1c9a44" stroke-width="1.3"/>
<path d="M1086.3,546.3 l-1.0,2.8 l-2.1,-0.8" fill="none" stroke="#1c9a44" stroke-width="1.3"/>
<path d="M1078.3,610.4 l-0.4,-3.0 l2.2,-0.3" fill="none" stroke="#1c9a44" stroke-width="1.3"/>
<path d="M1084.6,586.1 l-2.9,0.9 l-0.6,-2.1" fill="none" stroke="#1c9a44" stroke-width="1.3"/>
<path d="M1088.7,619.8 l-3.0,0.5 l-0.3,-2.2" fill="none" stroke="#1c9a44" stroke-width="1.3"/>
<path d="M1070.2,583.8 l-2.6,1.4 l-1.0,-2.0" fill="none" stroke="#1c9a44" stroke-width="1.3"/>
<path d="M1081.4,570.1 l-3.0,0.4 l-0.2,-2.2" fill="none" stroke="#1c9a44" stroke-width="1.3"/>
<path d="M1079.0,611.7 l-1.7,2.5 l-1.8,-1.3" fill="none" stroke="#1c9a44" stroke-width="1.3"/>
<path d="M1072.8,610.2 l-2.8,1.1 l-0.8,-2.1" fill="none" stroke="#1c9a44" stroke-width="1.3"/>
<path d="M1079.4,638.0 l2.8,-1.1 l0.7,2.1" fill="none" stroke="#1c9a44" stroke-width="1.3"/>
<path d="M1069.1,570.9 l-1.1,2.8 l-2.0,-0.9" fill="none" stroke="#1c9a44" stroke-width="1.3"/>
<path d="M1093.0,639.5 l-3.0,-0.1 l0.1,-2.2" fill="none" stroke="#1c9a44" stroke-width="1.3"/>
<path d="M1082.2,556.3 l-2.7,-1.2 l1.0,-2.0" fill="none" stroke="#1c9a44" stroke-width="1.3"/>
<path d="M1079.3,516.9 l1.7,2.5 l-1.8,1.2" fill="none" stroke="#1c9a44" stroke-width="1.3"/>
<path d="M1071.1,642.4 l-3.0,-0.3 l0.3,-2.2" fill="none" stroke="#1c9a44" stroke-width="1.3"/>
<line x1="1016.4" y1="506.4" x2="1016.4" y2="473.2" stroke="#e8141e" stroke-width="2.3"/>
<path d="M1016.4,466.2 L1012.8,475.2 L1020.0,475.2 Z" fill="#e8141e"/>
<line x1="1091" y1="458.7" x2="1091" y2="493.5" stroke="#e8141e" stroke-width="2.3"/>
<path d="M1091,500.5 L1087.4,491.5 L1094.6,491.5 Z" fill="#e8141e"/>
<text x="1000" y="512.4" font-family='"Liberation Serif",serif' font-weight="bold" font-size="18" fill="#e8141e">e<tspan font-size="10.8" dy="-8.1">-</tspan></text>
<text x="1086" y="452.8" font-family='"Liberation Serif",serif' font-weight="bold" font-size="18" fill="#e8141e">e<tspan font-size="10.8" dy="-8.1">-</tspan></text>
<text x="994.2" y="539.2" font-family='"Liberation Serif",serif' font-size="13" fill="#222">O<tspan font-size="8" dy="2.5">2</tspan><tspan dy="-2.5">,</tspan></text>
<text x="994.2" y="554" font-family='"Liberation Serif",serif' font-size="13" fill="#222">H<tspan font-size="8" dy="-5">+</tspan></text>
<text x="991" y="637.6" font-family='"Liberation Serif",serif' font-size="13" fill="#222">H<tspan font-size="8" dy="2.5">2</tspan><tspan dy="-2.5">O</tspan></text>
<path d="M1002.7,616.4 C1012,604 1030,590 1025,580.4 C1020,572 1010,565 1003,561.5" fill="none" stroke="#000" stroke-width="2"/><path d="M998,558.5 L1007,559.5 L1003,566.5 Z" fill="#000"/>
<text x="1094.8" y="585.7" font-family='"Liberation Serif", serif' font-size="14" fill="#222" text-anchor="start" textLength="19" lengthAdjust="spacingAndGlyphs" >cell</text>
<text x="1031.3" y="670.4" font-family='"Liberation Serif",serif' font-weight="bold" font-size="15" fill="#111">H<tspan font-size="9" dy="-6">+</tspan></text>
<line x1="1010" y1="674.6" x2="1089" y2="674.6" stroke="#111" stroke-width="2.3" stroke-dasharray="6,4.5"/><path d="M1095,674.6 L1086.5,670.6 L1086.5,678.6 Z" fill="#111"/>
<text x="988" y="711.4" font-family='"Liberation Serif", serif' font-size="17" fill="#222" text-anchor="start" textLength="46.3" lengthAdjust="spacingAndGlyphs" >Anode</text>
<text x="1070" y="711.4" font-family='"Liberation Serif", serif' font-size="17" fill="#222" text-anchor="start" textLength="59.6" lengthAdjust="spacingAndGlyphs" >Cathode</text>
<line x1="1148.3" y1="532.6" x2="1087.4" y2="573" stroke="#333" stroke-width="0.9" stroke-dasharray="3,2.5"/>
<line x1="1148.3" y1="632" x2="1083" y2="591" stroke="#333" stroke-width="0.9" stroke-dasharray="3,2.5"/>
<rect x="1148.3" y="532.2" width="113.7" height="100.5" fill="#fff" stroke="#333" stroke-width="1.2"/>
<rect x="1148.9" y="532.8" width="32.6" height="99.3" fill="#c2c2c2"/><line x1="1181.5" y1="532.5" x2="1181.5" y2="632.5" stroke="#444" stroke-width="0.7"/>
<rect x="1181.5" y="545.5" width="33.9" height="80.5" rx="12" fill="#dcd8c0" stroke="#9ab0b8" stroke-width="0.6"/>
<path d="M1176,542 q10,-3 20,-2 q10,2 14,8 M1176,545 q10,-2 22,0 M1176,624 q10,-4 24,-2 q8,1 12,-2 M1176,628 q12,-3 26,-1" fill="none" stroke="#1f9a45" stroke-width="0.9"/>
<text x="1160" y="589" font-family='"Liberation Serif",serif' font-size="15" fill="#222" text-anchor="middle" textLength="86" lengthAdjust="spacingAndGlyphs" transform="rotate(-90 1160 584)">Stainless  steel</text>
<text x="1190" y="569.8" font-family='"Liberation Serif",serif' font-weight="bold" font-size="17" fill="#e8141e">e<tspan font-size="10.2" dy="-7.7">-</tspan></text>
<line x1="1170" y1="564.6" x2="1198" y2="581.5" stroke="#e8141e" stroke-width="2" stroke-dasharray="4,2.5"/><path d="M1204.5,585 L1195.5,584.5 L1199.5,577.5 Z" fill="#e8141e"/>
<path d="M1230.2,615.3 C1215,605 1205,592 1205.9,582.5 C1207,572 1215,563 1224,557.5" fill="none" stroke="#000" stroke-width="2"/><path d="M1230.5,553.5 L1226.5,562 L1220.5,555.5 Z" fill="#000"/>
<text x="1225" y="549.1" font-family='"Liberation Serif", serif' font-size="12" fill="#222" text-anchor="start" textLength="34.8" lengthAdjust="spacingAndGlyphs" >Formic</text>
<text x="1233.4" y="563.5" font-family='"Liberation Serif", serif' font-size="12" fill="#222" text-anchor="start" textLength="20" lengthAdjust="spacingAndGlyphs" >acid</text>
<text x="1235.5" y="575" font-family='"Liberation Serif",serif' font-size="12" fill="#222">/N<tspan font-size="8" dy="2.5">2</tspan></text>
<text x="1232.3" y="610" font-family='"Liberation Serif",serif' font-size="12" fill="#222">CO<tspan font-size="8" dy="2.5">2</tspan></text>
<text x="1231.3" y="623.5" font-family='"Liberation Serif",serif' font-size="12" fill="#222">/NO<tspan font-size="8" dy="2.5">3</tspan><tspan font-size="8" dy="-7">-</tspan></text>
<text x="1158.3" y="656.6" font-family='"Liberation Serif", serif' font-size="16" fill="#222" text-anchor="start" textLength="99.4" lengthAdjust="spacingAndGlyphs" >Uptake  electron</text>
<defs>
<linearGradient id="dcell" x1="0" y1="0" x2="0" y2="1">
 <stop offset="0" stop-color="#d4d8ac"/><stop offset="0.08" stop-color="#e2e6bc"/><stop offset="0.6" stop-color="#e3e7be"/><stop offset="0.8" stop-color="#d6daae"/><stop offset="0.93" stop-color="#aeb286"/><stop offset="1" stop-color="#7c8058"/>
</linearGradient>
<radialGradient id="dhl"><stop offset="0" stop-color="#f8fae4" stop-opacity="0.95"/><stop offset="1" stop-color="#f8fae4" stop-opacity="0"/></radialGradient>
<radialGradient id="bsph" cx="0.4" cy="0.35" r="0.7"><stop offset="0" stop-color="#b8d4f4"/><stop offset="0.6" stop-color="#8ab2e2"/><stop offset="1" stop-color="#6a92c4"/></radialGradient>
<radialGradient id="semsph" cx="0.45" cy="0.4" r="0.65"><stop offset="0" stop-color="#f4f4f4"/><stop offset="0.7" stop-color="#dedede"/><stop offset="1" stop-color="#b0b0b0"/></radialGradient>
<radialGradient id="semsph2" cx="0.45" cy="0.4" r="0.65"><stop offset="0" stop-color="#c8c8c8"/><stop offset="0.7" stop-color="#a8a8a8"/><stop offset="1" stop-color="#7a7a7a"/></radialGradient>
<linearGradient id="sembody" x1="0" y1="0" x2="1" y2="0"><stop offset="0" stop-color="#acacac"/><stop offset="0.5" stop-color="#bdbdbd"/><stop offset="1" stop-color="#cfcfcf"/></linearGradient>
<clipPath id="semclip"><rect x="331.8" y="451.8" width="215.8" height="181.9"/></clipPath>
</defs>
<g transform="translate(108.2,552.3) rotate(63)"><rect x="-66.5" y="-23.5" width="133" height="47" rx="23.5" fill="url(#dcell)"/><ellipse cx="40" cy="2" rx="13" ry="12" fill="url(#dhl)"/></g>
<text x="107" y="554" font-family='"Liberation Sans",sans-serif' font-size="12" fill="#333" text-anchor="middle" transform="rotate(63 107 550)">Cell</text>
<line x1="145.6" y1="547.7" x2="224" y2="547.7" stroke="#111" stroke-width="1.8"/><path d="M229.5,547.7 L220.5,543 M229.5,547.7 L220.5,552.4" stroke="#111" stroke-width="1.8" fill="none"/>
<text x="150" y="543" font-family='"Liberation Sans",sans-serif' font-size="11.5" fill="#222">Fe(III), S<tspan font-size="8" dy="2.5">2</tspan><tspan dy="-2.5">O</tspan><tspan font-size="8" dy="2.5">3</tspan><tspan font-size="8" dy="-7">2−</tspan></text>
<text x="144.5" y="563.6" font-family='"Liberation Sans", sans-serif' font-size="11.5" fill="#222" text-anchor="start" textLength="84" lengthAdjust="spacingAndGlyphs" >Biomineralization</text>
<text x="168.3" y="614.6" font-family='"Liberation Sans", sans-serif' font-size="11.5" fill="#222" text-anchor="start" textLength="67" lengthAdjust="spacingAndGlyphs" >“SP collector”</text>
<path d="M238.6,606.7 L251,584 M238.6,606.7 L269.5,586" stroke="#111" stroke-width="1.2" fill="none"/>
<path d="M252,582 L252.5,589 L247.5,586.5 Z M271,585 L266.5,590.5 L265,585.8 Z" fill="#111"/>
<g transform="translate(269,545.5) rotate(50)">
<rect x="-63" y="-29" width="126" height="58" rx="29" fill="#6f98cc"/>
<circle cx="48.8" cy="-18.4" r="4.9" fill="url(#bsph)" stroke="#6088bc" stroke-width="0.5"/>
<circle cx="37.1" cy="-22.3" r="4.8" fill="url(#bsph)" stroke="#6088bc" stroke-width="0.5"/>
<circle cx="46.0" cy="-18.6" r="4.1" fill="url(#bsph)" stroke="#6088bc" stroke-width="0.5"/>
<circle cx="53.7" cy="-14.9" r="4.3" fill="url(#bsph)" stroke="#6088bc" stroke-width="0.5"/>
<circle cx="46.3" cy="-17.8" r="4.9" fill="url(#bsph)" stroke="#6088bc" stroke-width="0.5"/>
<circle cx="53.2" cy="-15.0" r="4.3" fill="url(#bsph)" stroke="#6088bc" stroke-width="0.5"/>
<circle cx="44.0" cy="-18.5" r="4.6" fill="url(#bsph)" stroke="#6088bc" stroke-width="0.5"/>
<circle cx="54.5" cy="-13.5" r="4.4" fill="url(#bsph)" stroke="#6088bc" stroke-width="0.5"/>
<circle cx="29.5" cy="-23.2" r="4.7" fill="url(#bsph)" stroke="#6088bc" stroke-width="0.5"/>
<circle cx="55.6" cy="-12.3" r="4.6" fill="url(#bsph)" stroke="#6088bc" stroke-width="0.5"/>
<circle cx="28.8" cy="-23.0" r="4.3" fill="url(#bsph)" stroke="#6088bc" stroke-width="0.5"/>
<circle cx="31.3" cy="-21.3" r="4.8" fill="url(#bsph)" stroke="#6088bc" stroke-width="0.5"/>
<circle cx="51.6" cy="-12.1" r="4.2" fill="url(#bsph)" stroke="#6088bc" stroke-width="0.5"/>
<circle cx="22.8" cy="-23.5" r="4.2" fill="url(#bsph)" stroke="#6088bc" stroke-width="0.5"/>
<circle cx="23.1" cy="-22.6" r="4.7" fill="url(#bsph)" stroke="#6088bc" stroke-width="0.5"/>
<circle cx="24.7" cy="-21.3" r="4.2" fill="url(#bsph)" stroke="#6088bc" stroke-width="0.5"/>
<circle cx="17.4" cy="-23.6" r="4.4" fill="url(#bsph)" stroke="#6088bc" stroke-width="0.5"/>
<circle cx="55.6" cy="-8.3" r="4.7" fill="url(#bsph)" stroke="#6088bc" stroke-width="0.5"/>
<circle cx="34.4" cy="-16.7" r="4.1" fill="url(#bsph)" stroke="#6088bc" stroke-width="0.5"/>
<circle cx="50.5" cy="-9.0" r="4.3" fill="url(#bsph)" stroke="#6088bc" stroke-width="0.5"/>
<circle cx="13.4" cy="-23.5" r="4.5" fill="url(#bsph)" stroke="#6088bc" stroke-width="0.5"/>
<circle cx="33.9" cy="-15.1" r="4.6" fill="url(#bsph)" stroke="#6088bc" stroke-width="0.5"/>
<circle cx="33.0" cy="-15.4" r="4.1" fill="url(#bsph)" stroke="#6088bc" stroke-width="0.5"/>
<circle cx="57.2" cy="-5.7" r="4.1" fill="url(#bsph)" stroke="#6088bc" stroke-width="0.5"/>
<circle cx="13.0" cy="-22.6" r="4.2" fill="url(#bsph)" stroke="#6088bc" stroke-width="0.5"/>
<circle cx="27.4" cy="-16.2" r="4.3" fill="url(#bsph)" stroke="#6088bc" stroke-width="0.5"/>
<circle cx="11.8" cy="-22.2" r="4.8" fill="url(#bsph)" stroke="#6088bc" stroke-width="0.5"/>
<circle cx="53.7" cy="-5.1" r="4.4" fill="url(#bsph)" stroke="#6088bc" stroke-width="0.5"/>
<circle cx="32.6" cy="-13.5" r="4.5" fill="url(#bsph)" stroke="#6088bc" stroke-width="0.5"/>
<circle cx="5.7" cy="-24.0" r="4.1" fill="url(#bsph)" stroke="#6088bc" stroke-width="0.5"/>
<circle cx="53.8" cy="-4.7" r="4.7" fill="url(#bsph)" stroke="#6088bc" stroke-width="0.5"/>
<circle cx="42.9" cy="-8.8" r="4.8" fill="url(#bsph)" stroke="#6088bc" stroke-width="0.5"/>
<circle cx="32.2" cy="-11.8" r="4.5" fill="url(#bsph)" stroke="#6088bc" stroke-width="0.5"/>
<circle cx="30.7" cy="-11.7" r="4.8" fill="url(#bsph)" stroke="#6088bc" stroke-width="0.5"/>
<circle cx="-3.2" cy="-25.0" r="4.6" fill="url(#bsph)" stroke="#6088bc" stroke-width="0.5"/>
<circle cx="17.4" cy="-16.5" r="4.6" fill="url(#bsph)" stroke="#6088bc" stroke-width="0.5"/>
<circle cx="-3.7" cy="-24.2" r="4.2" fill="url(#bsph)" stroke="#6088bc" stroke-width="0.5"/>
<circle cx="46.5" cy="-3.3" r="3.9" fill="url(#bsph)" stroke="#6088bc" stroke-width="0.5"/>
<circle cx="54.0" cy="0.5" r="4.5" fill="url(#bsph)" stroke="#6088bc" stroke-width="0.5"/>
<circle cx="55.1" cy="1.0" r="4.3" fill="url(#bsph)" stroke="#6088bc" stroke-width="0.5"/>
<circle cx="22.2" cy="-12.1" r="4.7" fill="url(#bsph)" stroke="#6088bc" stroke-width="0.5"/>
<circle cx="1.1" cy="-19.4" r="4.4" fill="url(#bsph)" stroke="#6088bc" stroke-width="0.5"/>
<circle cx="-2.2" cy="-20.7" r="4.1" fill="url(#bsph)" stroke="#6088bc" stroke-width="0.5"/>
<circle cx="26.2" cy="-9.4" r="4.0" fill="url(#bsph)" stroke="#6088bc" stroke-width="0.5"/>
<circle cx="29.2" cy="-8.0" r="4.2" fill="url(#bsph)" stroke="#6088bc" stroke-width="0.5"/>
<circle cx="44.6" cy="-1.8" r="4.6" fill="url(#bsph)" stroke="#6088bc" stroke-width="0.5"/>
<circle cx="43.4" cy="-1.9" r="4.5" fill="url(#bsph)" stroke="#6088bc" stroke-width="0.5"/>
<circle cx="13.2" cy="-13.5" r="4.0" fill="url(#bsph)" stroke="#6088bc" stroke-width="0.5"/>
<circle cx="16.2" cy="-12.0" r="4.4" fill="url(#bsph)" stroke="#6088bc" stroke-width="0.5"/>
<circle cx="26.2" cy="-7.6" r="4.3" fill="url(#bsph)" stroke="#6088bc" stroke-width="0.5"/>
<circle cx="27.8" cy="-6.9" r="5.0" fill="url(#bsph)" stroke="#6088bc" stroke-width="0.5"/>
<circle cx="47.7" cy="1.2" r="4.8" fill="url(#bsph)" stroke="#6088bc" stroke-width="0.5"/>
<circle cx="-3.8" cy="-19.3" r="4.8" fill="url(#bsph)" stroke="#6088bc" stroke-width="0.5"/>
<circle cx="14.8" cy="-11.8" r="4.2" fill="url(#bsph)" stroke="#6088bc" stroke-width="0.5"/>
<circle cx="-11.4" cy="-22.2" r="4.9" fill="url(#bsph)" stroke="#6088bc" stroke-width="0.5"/>
<circle cx="-11.1" cy="-22.1" r="4.3" fill="url(#bsph)" stroke="#6088bc" stroke-width="0.5"/>
<circle cx="15.9" cy="-11.1" r="4.6" fill="url(#bsph)" stroke="#6088bc" stroke-width="0.5"/>
<circle cx="-5.4" cy="-19.5" r="4.8" fill="url(#bsph)" stroke="#6088bc" stroke-width="0.5"/>
<circle cx="5.0" cy="-15.1" r="4.2" fill="url(#bsph)" stroke="#6088bc" stroke-width="0.5"/>
<circle cx="-9.0" cy="-20.4" r="4.9" fill="url(#bsph)" stroke="#6088bc" stroke-width="0.5"/>
<circle cx="-13.2" cy="-21.3" r="4.2" fill="url(#bsph)" stroke="#6088bc" stroke-width="0.5"/>
<circle cx="45.3" cy="2.5" r="4.6" fill="url(#bsph)" stroke="#6088bc" stroke-width="0.5"/>
<circle cx="44.6" cy="2.5" r="4.9" fill="url(#bsph)" stroke="#6088bc" stroke-width="0.5"/>
<circle cx="12.1" cy="-10.4" r="4.1" fill="url(#bsph)" stroke="#6088bc" stroke-width="0.5"/>
<circle cx="36.2" cy="-0.6" r="4.0" fill="url(#bsph)" stroke="#6088bc" stroke-width="0.5"/>
<circle cx="-7.7" cy="-18.0" r="4.8" fill="url(#bsph)" stroke="#6088bc" stroke-width="0.5"/>
<circle cx="-2.3" cy="-15.6" r="4.5" fill="url(#bsph)" stroke="#6088bc" stroke-width="0.5"/>
<circle cx="22.0" cy="-5.6" r="4.0" fill="url(#bsph)" stroke="#6088bc" stroke-width="0.5"/>
<circle cx="-11.2" cy="-18.8" r="5.0" fill="url(#bsph)" stroke="#6088bc" stroke-width="0.5"/>
<circle cx="-9.2" cy="-17.9" r="4.8" fill="url(#bsph)" stroke="#6088bc" stroke-width="0.5"/>
<circle cx="25.2" cy="-4.0" r="4.7" fill="url(#bsph)" stroke="#6088bc" stroke-width="0.5"/>
<circle cx="39.0" cy="1.6" r="4.7" fill="url(#bsph)" stroke="#6088bc" stroke-width="0.5"/>
<circle cx="-22.3" cy="-22.8" r="4.0" fill="url(#bsph)" stroke="#6088bc" stroke-width="0.5"/>
<circle cx="34.5" cy="-0.1" r="4.1" fill="url(#bsph)" stroke="#6088bc" stroke-width="0.5"/>
<circle cx="-10.2" cy="-17.8" r="3.9" fill="url(#bsph)" stroke="#6088bc" stroke-width="0.5"/>
<circle cx="39.9" cy="2.4" r="4.5" fill="url(#bsph)" stroke="#6088bc" stroke-width="0.5"/>
<circle cx="26.2" cy="-2.4" r="3.9" fill="url(#bsph)" stroke="#6088bc" stroke-width="0.5"/>
<circle cx="-15.2" cy="-18.6" r="4.0" fill="url(#bsph)" stroke="#6088bc" stroke-width="0.5"/>
<circle cx="18.7" cy="-4.9" r="4.9" fill="url(#bsph)" stroke="#6088bc" stroke-width="0.5"/>
<circle cx="0.3" cy="-12.2" r="4.1" fill="url(#bsph)" stroke="#6088bc" stroke-width="0.5"/>
<circle cx="-8.1" cy="-15.5" r="4.8" fill="url(#bsph)" stroke="#6088bc" stroke-width="0.5"/>
<circle cx="-8.3" cy="-15.5" r="4.5" fill="url(#bsph)" stroke="#6088bc" stroke-width="0.5"/>
<circle cx="27.4" cy="-0.2" r="4.3" fill="url(#bsph)" stroke="#6088bc" stroke-width="0.5"/>
<circle cx="-15.4" cy="-17.3" r="4.5" fill="url(#bsph)" stroke="#6088bc" stroke-width="0.5"/>
<circle cx="16.7" cy="-4.4" r="4.7" fill="url(#bsph)" stroke="#6088bc" stroke-width="0.5"/>
<circle cx="-35.1" cy="-24.9" r="4.3" fill="url(#bsph)" stroke="#6088bc" stroke-width="0.5"/>
<circle cx="-21.1" cy="-19.2" r="4.5" fill="url(#bsph)" stroke="#6088bc" stroke-width="0.5"/>
<circle cx="30.8" cy="1.8" r="4.7" fill="url(#bsph)" stroke="#6088bc" stroke-width="0.5"/>
<circle cx="51.8" cy="10.3" r="4.6" fill="url(#bsph)" stroke="#6088bc" stroke-width="0.5"/>
<circle cx="-6.3" cy="-12.3" r="4.3" fill="url(#bsph)" stroke="#6088bc" stroke-width="0.5"/>
<circle cx="-17.1" cy="-16.4" r="4.3" fill="url(#bsph)" stroke="#6088bc" stroke-width="0.5"/>
<circle cx="53.9" cy="12.6" r="4.1" fill="url(#bsph)" stroke="#6088bc" stroke-width="0.5"/>
<circle cx="-23.1" cy="-18.1" r="4.4" fill="url(#bsph)" stroke="#6088bc" stroke-width="0.5"/>
<circle cx="4.2" cy="-7.1" r="3.9" fill="url(#bsph)" stroke="#6088bc" stroke-width="0.5"/>
<circle cx="38.4" cy="6.6" r="4.2" fill="url(#bsph)" stroke="#6088bc" stroke-width="0.5"/>
<circle cx="-13.4" cy="-13.8" r="4.2" fill="url(#bsph)" stroke="#6088bc" stroke-width="0.5"/>
<circle cx="-15.9" cy="-14.5" r="4.1" fill="url(#bsph)" stroke="#6088bc" stroke-width="0.5"/>
<circle cx="34.4" cy="5.7" r="4.0" fill="url(#bsph)" stroke="#6088bc" stroke-width="0.5"/>
<circle cx="-3.8" cy="-9.6" r="4.3" fill="url(#bsph)" stroke="#6088bc" stroke-width="0.5"/>
<circle cx="27.2" cy="2.8" r="4.5" fill="url(#bsph)" stroke="#6088bc" stroke-width="0.5"/>
<circle cx="30.2" cy="4.5" r="4.2" fill="url(#bsph)" stroke="#6088bc" stroke-width="0.5"/>
<circle cx="-28.1" cy="-18.8" r="4.3" fill="url(#bsph)" stroke="#6088bc" stroke-width="0.5"/>
<circle cx="41.4" cy="9.1" r="4.8" fill="url(#bsph)" stroke="#6088bc" stroke-width="0.5"/>
<circle cx="-8.4" cy="-10.4" r="4.9" fill="url(#bsph)" stroke="#6088bc" stroke-width="0.5"/>
<circle cx="-19.4" cy="-14.7" r="4.3" fill="url(#bsph)" stroke="#6088bc" stroke-width="0.5"/>
<circle cx="-41.9" cy="-23.5" r="3.9" fill="url(#bsph)" stroke="#6088bc" stroke-width="0.5"/>
<circle cx="41.9" cy="10.2" r="4.1" fill="url(#bsph)" stroke="#6088bc" stroke-width="0.5"/>
<circle cx="8.2" cy="-2.7" r="4.3" fill="url(#bsph)" stroke="#6088bc" stroke-width="0.5"/>
<circle cx="-16.2" cy="-12.0" r="4.1" fill="url(#bsph)" stroke="#6088bc" stroke-width="0.5"/>
<circle cx="16.0" cy="1.0" r="4.1" fill="url(#bsph)" stroke="#6088bc" stroke-width="0.5"/>
<circle cx="-20.1" cy="-13.3" r="4.6" fill="url(#bsph)" stroke="#6088bc" stroke-width="0.5"/>
<circle cx="-29.4" cy="-16.9" r="4.8" fill="url(#bsph)" stroke="#6088bc" stroke-width="0.5"/>
<circle cx="4.6" cy="-2.9" r="4.7" fill="url(#bsph)" stroke="#6088bc" stroke-width="0.5"/>
<circle cx="-21.5" cy="-12.9" r="4.5" fill="url(#bsph)" stroke="#6088bc" stroke-width="0.5"/>
<circle cx="0.5" cy="-4.0" r="4.5" fill="url(#bsph)" stroke="#6088bc" stroke-width="0.5"/>
<circle cx="38.2" cy="11.2" r="4.6" fill="url(#bsph)" stroke="#6088bc" stroke-width="0.5"/>
<circle cx="32.2" cy="9.7" r="4.1" fill="url(#bsph)" stroke="#6088bc" stroke-width="0.5"/>
<circle cx="22.3" cy="5.7" r="4.2" fill="url(#bsph)" stroke="#6088bc" stroke-width="0.5"/>
<circle cx="37.0" cy="11.6" r="4.7" fill="url(#bsph)" stroke="#6088bc" stroke-width="0.5"/>
<circle cx="-11.4" cy="-7.7" r="4.6" fill="url(#bsph)" stroke="#6088bc" stroke-width="0.5"/>
<circle cx="26.6" cy="7.8" r="4.3" fill="url(#bsph)" stroke="#6088bc" stroke-width="0.5"/>
<circle cx="-18.0" cy="-9.6" r="4.1" fill="url(#bsph)" stroke="#6088bc" stroke-width="0.5"/>
<circle cx="-9.1" cy="-5.8" r="4.3" fill="url(#bsph)" stroke="#6088bc" stroke-width="0.5"/>
<circle cx="-34.9" cy="-16.1" r="4.6" fill="url(#bsph)" stroke="#6088bc" stroke-width="0.5"/>
<circle cx="18.3" cy="5.2" r="4.2" fill="url(#bsph)" stroke="#6088bc" stroke-width="0.5"/>
<circle cx="36.2" cy="12.6" r="4.7" fill="url(#bsph)" stroke="#6088bc" stroke-width="0.5"/>
<circle cx="31.7" cy="10.9" r="5.0" fill="url(#bsph)" stroke="#6088bc" stroke-width="0.5"/>
<circle cx="-6.6" cy="-4.1" r="3.9" fill="url(#bsph)" stroke="#6088bc" stroke-width="0.5"/>
<circle cx="41.6" cy="15.2" r="4.0" fill="url(#bsph)" stroke="#6088bc" stroke-width="0.5"/>
<circle cx="-1.2" cy="-1.7" r="4.7" fill="url(#bsph)" stroke="#6088bc" stroke-width="0.5"/>
<circle cx="-12.1" cy="-5.8" r="4.8" fill="url(#bsph)" stroke="#6088bc" stroke-width="0.5"/>
<circle cx="-7.5" cy="-3.4" r="4.0" fill="url(#bsph)" stroke="#6088bc" stroke-width="0.5"/>
<circle cx="-11.0" cy="-4.7" r="4.2" fill="url(#bsph)" stroke="#6088bc" stroke-width="0.5"/>
<circle cx="21.9" cy="9.1" r="4.8" fill="url(#bsph)" stroke="#6088bc" stroke-width="0.5"/>
<circle cx="-8.9" cy="-3.2" r="4.1" fill="url(#bsph)" stroke="#6088bc" stroke-width="0.5"/>
<circle cx="-47.2" cy="-18.2" r="4.3" fill="url(#bsph)" stroke="#6088bc" stroke-width="0.5"/>
<circle cx="31.9" cy="13.4" r="4.9" fill="url(#bsph)" stroke="#6088bc" stroke-width="0.5"/>
<circle cx="20.2" cy="8.8" r="4.4" fill="url(#bsph)" stroke="#6088bc" stroke-width="0.5"/>
<circle cx="0.0" cy="0.9" r="4.9" fill="url(#bsph)" stroke="#6088bc" stroke-width="0.5"/>
<circle cx="-3.5" cy="-0.5" r="4.5" fill="url(#bsph)" stroke="#6088bc" stroke-width="0.5"/>
<circle cx="25.6" cy="11.1" r="4.5" fill="url(#bsph)" stroke="#6088bc" stroke-width="0.5"/>
<circle cx="-22.9" cy="-8.1" r="4.5" fill="url(#bsph)" stroke="#6088bc" stroke-width="0.5"/>
<circle cx="10.0" cy="5.1" r="4.5" fill="url(#bsph)" stroke="#6088bc" stroke-width="0.5"/>
<circle cx="6.8" cy="3.9" r="4.8" fill="url(#bsph)" stroke="#6088bc" stroke-width="0.5"/>
<circle cx="-6.9" cy="-1.3" r="4.0" fill="url(#bsph)" stroke="#6088bc" stroke-width="0.5"/>
<circle cx="-35.4" cy="-12.6" r="4.2" fill="url(#bsph)" stroke="#6088bc" stroke-width="0.5"/>
<circle cx="32.3" cy="14.6" r="4.8" fill="url(#bsph)" stroke="#6088bc" stroke-width="0.5"/>
<circle cx="10.0" cy="6.0" r="4.5" fill="url(#bsph)" stroke="#6088bc" stroke-width="0.5"/>
<circle cx="-34.0" cy="-11.6" r="4.9" fill="url(#bsph)" stroke="#6088bc" stroke-width="0.5"/>
<circle cx="-1.0" cy="1.8" r="5.0" fill="url(#bsph)" stroke="#6088bc" stroke-width="0.5"/>
<circle cx="-25.4" cy="-7.6" r="4.1" fill="url(#bsph)" stroke="#6088bc" stroke-width="0.5"/>
<circle cx="-13.1" cy="-2.3" r="4.8" fill="url(#bsph)" stroke="#6088bc" stroke-width="0.5"/>
<circle cx="17.0" cy="10.3" r="4.0" fill="url(#bsph)" stroke="#6088bc" stroke-width="0.5"/>
<circle cx="8.3" cy="6.8" r="4.6" fill="url(#bsph)" stroke="#6088bc" stroke-width="0.5"/>
<circle cx="4.9" cy="5.7" r="4.2" fill="url(#bsph)" stroke="#6088bc" stroke-width="0.5"/>
<circle cx="-6.6" cy="1.5" r="4.5" fill="url(#bsph)" stroke="#6088bc" stroke-width="0.5"/>
<circle cx="-45.4" cy="-13.5" r="4.3" fill="url(#bsph)" stroke="#6088bc" stroke-width="0.5"/>
<circle cx="14.3" cy="10.6" r="4.1" fill="url(#bsph)" stroke="#6088bc" stroke-width="0.5"/>
<circle cx="24.6" cy="15.1" r="4.6" fill="url(#bsph)" stroke="#6088bc" stroke-width="0.5"/>
<circle cx="-10.0" cy="1.7" r="4.8" fill="url(#bsph)" stroke="#6088bc" stroke-width="0.5"/>
<circle cx="27.1" cy="16.7" r="4.4" fill="url(#bsph)" stroke="#6088bc" stroke-width="0.5"/>
<circle cx="-37.0" cy="-8.9" r="4.5" fill="url(#bsph)" stroke="#6088bc" stroke-width="0.5"/>
<circle cx="-39.9" cy="-10.0" r="4.3" fill="url(#bsph)" stroke="#6088bc" stroke-width="0.5"/>
<circle cx="-23.2" cy="-3.1" r="5.0" fill="url(#bsph)" stroke="#6088bc" stroke-width="0.5"/>
<circle cx="7.0" cy="9.3" r="4.0" fill="url(#bsph)" stroke="#6088bc" stroke-width="0.5"/>
<circle cx="-28.4" cy="-4.8" r="4.9" fill="url(#bsph)" stroke="#6088bc" stroke-width="0.5"/>
<circle cx="-16.3" cy="1.0" r="4.2" fill="url(#bsph)" stroke="#6088bc" stroke-width="0.5"/>
<circle cx="31.1" cy="20.1" r="4.1" fill="url(#bsph)" stroke="#6088bc" stroke-width="0.5"/>
<circle cx="2.0" cy="8.6" r="4.4" fill="url(#bsph)" stroke="#6088bc" stroke-width="0.5"/>
<circle cx="-34.5" cy="-5.8" r="4.5" fill="url(#bsph)" stroke="#6088bc" stroke-width="0.5"/>
<circle cx="-51.9" cy="-11.9" r="4.0" fill="url(#bsph)" stroke="#6088bc" stroke-width="0.5"/>
<circle cx="-33.0" cy="-4.0" r="4.1" fill="url(#bsph)" stroke="#6088bc" stroke-width="0.5"/>
<circle cx="-18.0" cy="2.2" r="4.5" fill="url(#bsph)" stroke="#6088bc" stroke-width="0.5"/>
<circle cx="-50.2" cy="-10.2" r="4.1" fill="url(#bsph)" stroke="#6088bc" stroke-width="0.5"/>
<circle cx="-48.8" cy="-9.5" r="4.8" fill="url(#bsph)" stroke="#6088bc" stroke-width="0.5"/>
<circle cx="-36.8" cy="-4.6" r="4.0" fill="url(#bsph)" stroke="#6088bc" stroke-width="0.5"/>
<circle cx="-40.8" cy="-5.1" r="4.0" fill="url(#bsph)" stroke="#6088bc" stroke-width="0.5"/>
<circle cx="-53.5" cy="-10.1" r="5.0" fill="url(#bsph)" stroke="#6088bc" stroke-width="0.5"/>
<circle cx="-23.0" cy="2.3" r="4.7" fill="url(#bsph)" stroke="#6088bc" stroke-width="0.5"/>
<circle cx="-28.1" cy="0.3" r="4.9" fill="url(#bsph)" stroke="#6088bc" stroke-width="0.5"/>
<circle cx="-39.8" cy="-4.2" r="4.5" fill="url(#bsph)" stroke="#6088bc" stroke-width="0.5"/>
<circle cx="4.4" cy="13.4" r="4.3" fill="url(#bsph)" stroke="#6088bc" stroke-width="0.5"/>
<circle cx="-16.2" cy="5.4" r="4.6" fill="url(#bsph)" stroke="#6088bc" stroke-width="0.5"/>
<circle cx="2.9" cy="13.1" r="4.5" fill="url(#bsph)" stroke="#6088bc" stroke-width="0.5"/>
<circle cx="3.6" cy="13.5" r="4.2" fill="url(#bsph)" stroke="#6088bc" stroke-width="0.5"/>
<circle cx="2.9" cy="13.3" r="4.1" fill="url(#bsph)" stroke="#6088bc" stroke-width="0.5"/>
<circle cx="-1.3" cy="11.8" r="4.9" fill="url(#bsph)" stroke="#6088bc" stroke-width="0.5"/>
<circle cx="-10.3" cy="8.5" r="4.1" fill="url(#bsph)" stroke="#6088bc" stroke-width="0.5"/>
<circle cx="-25.0" cy="2.6" r="3.9" fill="url(#bsph)" stroke="#6088bc" stroke-width="0.5"/>
<circle cx="-40.3" cy="-3.4" r="4.4" fill="url(#bsph)" stroke="#6088bc" stroke-width="0.5"/>
<circle cx="-7.7" cy="9.7" r="4.2" fill="url(#bsph)" stroke="#6088bc" stroke-width="0.5"/>
<circle cx="-56.9" cy="-9.9" r="4.5" fill="url(#bsph)" stroke="#6088bc" stroke-width="0.5"/>
<circle cx="-27.7" cy="1.7" r="4.0" fill="url(#bsph)" stroke="#6088bc" stroke-width="0.5"/>
<circle cx="22.2" cy="22.2" r="4.4" fill="url(#bsph)" stroke="#6088bc" stroke-width="0.5"/>
<circle cx="19.7" cy="21.7" r="4.3" fill="url(#bsph)" stroke="#6088bc" stroke-width="0.5"/>
<circle cx="2.2" cy="15.1" r="4.2" fill="url(#bsph)" stroke="#6088bc" stroke-width="0.5"/>
<circle cx="-54.5" cy="-7.2" r="4.9" fill="url(#bsph)" stroke="#6088bc" stroke-width="0.5"/>
<circle cx="-34.0" cy="1.3" r="4.1" fill="url(#bsph)" stroke="#6088bc" stroke-width="0.5"/>
<circle cx="-2.6" cy="14.9" r="4.8" fill="url(#bsph)" stroke="#6088bc" stroke-width="0.5"/>
<circle cx="-39.9" cy="0.4" r="4.9" fill="url(#bsph)" stroke="#6088bc" stroke-width="0.5"/>
<circle cx="-24.5" cy="7.1" r="4.5" fill="url(#bsph)" stroke="#6088bc" stroke-width="0.5"/>
<circle cx="-41.7" cy="0.2" r="4.7" fill="url(#bsph)" stroke="#6088bc" stroke-width="0.5"/>
<circle cx="-46.2" cy="-1.5" r="4.8" fill="url(#bsph)" stroke="#6088bc" stroke-width="0.5"/>
<circle cx="-54.1" cy="-4.5" r="4.9" fill="url(#bsph)" stroke="#6088bc" stroke-width="0.5"/>
<circle cx="-8.0" cy="14.0" r="4.7" fill="url(#bsph)" stroke="#6088bc" stroke-width="0.5"/>
<circle cx="-43.0" cy="0.1" r="4.3" fill="url(#bsph)" stroke="#6088bc" stroke-width="0.5"/>
<circle cx="-43.5" cy="0.3" r="4.2" fill="url(#bsph)" stroke="#6088bc" stroke-width="0.5"/>
<circle cx="-19.5" cy="10.3" r="4.4" fill="url(#bsph)" stroke="#6088bc" stroke-width="0.5"/>
<circle cx="-26.5" cy="7.6" r="4.7" fill="url(#bsph)" stroke="#6088bc" stroke-width="0.5"/>
<circle cx="-19.0" cy="11.1" r="4.6" fill="url(#bsph)" stroke="#6088bc" stroke-width="0.5"/>
<circle cx="-32.4" cy="5.7" r="4.3" fill="url(#bsph)" stroke="#6088bc" stroke-width="0.5"/>
<circle cx="-5.0" cy="16.9" r="4.4" fill="url(#bsph)" stroke="#6088bc" stroke-width="0.5"/>
<circle cx="-41.5" cy="2.6" r="4.8" fill="url(#bsph)" stroke="#6088bc" stroke-width="0.5"/>
<circle cx="-22.4" cy="11.0" r="4.8" fill="url(#bsph)" stroke="#6088bc" stroke-width="0.5"/>
<circle cx="-59.2" cy="-3.3" r="4.5" fill="url(#bsph)" stroke="#6088bc" stroke-width="0.5"/>
<circle cx="-33.4" cy="7.0" r="4.0" fill="url(#bsph)" stroke="#6088bc" stroke-width="0.5"/>
<circle cx="-4.8" cy="18.4" r="4.2" fill="url(#bsph)" stroke="#6088bc" stroke-width="0.5"/>
<circle cx="-56.2" cy="-2.1" r="4.2" fill="url(#bsph)" stroke="#6088bc" stroke-width="0.5"/>
<circle cx="-4.7" cy="19.5" r="4.4" fill="url(#bsph)" stroke="#6088bc" stroke-width="0.5"/>
<circle cx="-10.5" cy="17.4" r="4.5" fill="url(#bsph)" stroke="#6088bc" stroke-width="0.5"/>
<circle cx="-10.6" cy="17.5" r="4.4" fill="url(#bsph)" stroke="#6088bc" stroke-width="0.5"/>
<circle cx="-10.8" cy="18.0" r="5.0" fill="url(#bsph)" stroke="#6088bc" stroke-width="0.5"/>
<circle cx="-55.5" cy="0.9" r="4.8" fill="url(#bsph)" stroke="#6088bc" stroke-width="0.5"/>
<circle cx="0.6" cy="23.8" r="4.1" fill="url(#bsph)" stroke="#6088bc" stroke-width="0.5"/>
<circle cx="-55.0" cy="1.9" r="4.7" fill="url(#bsph)" stroke="#6088bc" stroke-width="0.5"/>
<circle cx="-36.4" cy="9.8" r="4.5" fill="url(#bsph)" stroke="#6088bc" stroke-width="0.5"/>
<circle cx="-19.6" cy="16.6" r="4.0" fill="url(#bsph)" stroke="#6088bc" stroke-width="0.5"/>
<circle cx="-46.2" cy="6.8" r="4.2" fill="url(#bsph)" stroke="#6088bc" stroke-width="0.5"/>
<circle cx="-41.6" cy="9.1" r="4.5" fill="url(#bsph)" stroke="#6088bc" stroke-width="0.5"/>
<circle cx="-22.4" cy="17.2" r="4.3" fill="url(#bsph)" stroke="#6088bc" stroke-width="0.5"/>
<circle cx="-24.6" cy="16.3" r="4.8" fill="url(#bsph)" stroke="#6088bc" stroke-width="0.5"/>
<circle cx="-8.3" cy="23.0" r="4.8" fill="url(#bsph)" stroke="#6088bc" stroke-width="0.5"/>
<circle cx="-15.1" cy="20.3" r="4.2" fill="url(#bsph)" stroke="#6088bc" stroke-width="0.5"/>
<circle cx="-47.6" cy="7.6" r="3.9" fill="url(#bsph)" stroke="#6088bc" stroke-width="0.5"/>
<circle cx="-31.9" cy="14.7" r="4.2" fill="url(#bsph)" stroke="#6088bc" stroke-width="0.5"/>
<circle cx="-53.3" cy="6.4" r="4.6" fill="url(#bsph)" stroke="#6088bc" stroke-width="0.5"/>
<circle cx="-29.6" cy="16.3" r="4.9" fill="url(#bsph)" stroke="#6088bc" stroke-width="0.5"/>
<circle cx="-23.9" cy="18.8" r="4.9" fill="url(#bsph)" stroke="#6088bc" stroke-width="0.5"/>
<circle cx="-35.1" cy="14.9" r="4.3" fill="url(#bsph)" stroke="#6088bc" stroke-width="0.5"/>
<circle cx="-51.6" cy="8.5" r="3.9" fill="url(#bsph)" stroke="#6088bc" stroke-width="0.5"/>
<circle cx="-56.1" cy="8.0" r="4.1" fill="url(#bsph)" stroke="#6088bc" stroke-width="0.5"/>
<circle cx="-52.5" cy="9.7" r="4.5" fill="url(#bsph)" stroke="#6088bc" stroke-width="0.5"/>
<circle cx="-17.7" cy="24.1" r="4.9" fill="url(#bsph)" stroke="#6088bc" stroke-width="0.5"/>
<circle cx="-14.4" cy="25.4" r="3.9" fill="url(#bsph)" stroke="#6088bc" stroke-width="0.5"/>
<circle cx="-49.1" cy="11.6" r="4.0" fill="url(#bsph)" stroke="#6088bc" stroke-width="0.5"/>
<circle cx="-46.9" cy="12.6" r="4.2" fill="url(#bsph)" stroke="#6088bc" stroke-width="0.5"/>
<circle cx="-52.4" cy="10.6" r="4.9" fill="url(#bsph)" stroke="#6088bc" stroke-width="0.5"/>
<circle cx="-50.2" cy="11.9" r="4.3" fill="url(#bsph)" stroke="#6088bc" stroke-width="0.5"/>
<circle cx="-19.3" cy="24.7" r="4.1" fill="url(#bsph)" stroke="#6088bc" stroke-width="0.5"/>
<circle cx="-34.2" cy="18.9" r="4.0" fill="url(#bsph)" stroke="#6088bc" stroke-width="0.5"/>
<circle cx="-41.1" cy="17.1" r="4.9" fill="url(#bsph)" stroke="#6088bc" stroke-width="0.5"/>
<circle cx="-22.9" cy="24.6" r="4.5" fill="url(#bsph)" stroke="#6088bc" stroke-width="0.5"/>
<circle cx="-47.6" cy="15.9" r="4.8" fill="url(#bsph)" stroke="#6088bc" stroke-width="0.5"/>
<circle cx="-36.5" cy="21.0" r="4.4" fill="url(#bsph)" stroke="#6088bc" stroke-width="0.5"/>
<circle cx="-32.1" cy="23.3" r="4.1" fill="url(#bsph)" stroke="#6088bc" stroke-width="0.5"/>
<circle cx="-38.9" cy="21.1" r="4.0" fill="url(#bsph)" stroke="#6088bc" stroke-width="0.5"/>
<circle cx="-49.5" cy="18.6" r="4.0" fill="url(#bsph)" stroke="#6088bc" stroke-width="0.5"/>
<circle cx="-50.1" cy="19.0" r="4.0" fill="url(#bsph)" stroke="#6088bc" stroke-width="0.5"/>
<path d="M-40,8 Q-36,1 -27,1 L36,1 Q44,1 45,9 Q45,20 38,25 L-32,25 Q-42,19 -40,8 Z" fill="#d2e288"/>
<path d="M-32,6 Q-30,4 -25,4 L34,4 Q38,4 39,8 L37,17 L-30,17 Z" fill="#bccb6c"/>
<path d="M-24,5 L34,5 Q38,6 38,10 L36,16 Q20,18 0,18 L-24,18 Q-28,11 -24,5 Z" fill="#e2ebc6"/>
<path d="M-24,13 L36,13 L36,16 Q20,18 0,18 L-24,18 Z" fill="#c4d0a4"/>
<ellipse cx="-36" cy="20" rx="6" ry="2.4" transform="rotate(20 -36 20)" fill="#8ab2e2"/>
<ellipse cx="-14" cy="25" rx="6" ry="2.2" transform="rotate(-10 -14 25)" fill="#8ab2e2"/>
<ellipse cx="12" cy="23" rx="3.5" ry="3.5" transform="rotate(0 12 23)" fill="#8ab2e2"/>
<ellipse cx="30" cy="24" rx="7" ry="2.6" transform="rotate(70 30 24)" fill="#8ab2e2"/>
<ellipse cx="-44" cy="8" rx="6" ry="2.4" transform="rotate(60 -44 8)" fill="#8ab2e2"/>
<ellipse cx="-22" cy="27" rx="4" ry="2" transform="rotate(0 -22 27)" fill="#8ab2e2"/>
</g>
<rect x="331.8" y="451.8" width="215.8" height="181.9" fill="#2a2a2a"/>
<g clip-path="url(#semclip)">
<circle cx="353.9" cy="462.9" r="9" fill="url(#semsph2)"/>
<circle cx="394.3" cy="459.2" r="10" fill="url(#semsph2)"/>
<circle cx="416.3" cy="470.2" r="9" fill="url(#semsph2)"/>
<circle cx="434.7" cy="470.2" r="13" fill="url(#semsph)"/>
<circle cx="469.6" cy="459.2" r="12" fill="url(#semsph2)"/>
<circle cx="511.8" cy="503.3" r="8" fill="url(#semsph2)"/>
<circle cx="441" cy="484" r="7" fill="url(#semsph2)"/>
<circle cx="449" cy="462" r="8" fill="url(#semsph2)"/>
<path d="M478,470 Q480,455 500,454 Q525,452 535,470 Q538,490 522,500 Q505,505 490,496 Q478,488 478,470 Z" fill="#8e8e8e"/>
<circle cx="502.8" cy="460.3" r="3.7" fill="#b0b0b0"/>
<circle cx="514.7" cy="498.0" r="3.3" fill="#a4a4a4"/>
<circle cx="520.2" cy="473.5" r="3.7" fill="#b0b0b0"/>
<circle cx="511.2" cy="475.5" r="2.6" fill="#a4a4a4"/>
<circle cx="497.6" cy="460.4" r="2.8" fill="#b0b0b0"/>
<circle cx="494.6" cy="472.7" r="3.2" fill="#b0b0b0"/>
<circle cx="518.1" cy="475.3" r="2.8" fill="#a4a4a4"/>
<circle cx="515.7" cy="475.4" r="2.4" fill="#9a9a9a"/>
<circle cx="531.5" cy="460.6" r="3.1" fill="#888888"/>
<circle cx="495.0" cy="459.7" r="3.2" fill="#888888"/>
<circle cx="501.1" cy="459.3" r="2.4" fill="#888888"/>
<circle cx="522.3" cy="461.8" r="4.0" fill="#b0b0b0"/>
<circle cx="500.3" cy="478.6" r="3.3" fill="#888888"/>
<circle cx="515.5" cy="496.2" r="2.9" fill="#b0b0b0"/>
<circle cx="502.2" cy="474.8" r="2.0" fill="#b0b0b0"/>
<circle cx="496.7" cy="463.0" r="3.0" fill="#b0b0b0"/>
<circle cx="505.9" cy="481.9" r="3.6" fill="#a4a4a4"/>
<circle cx="493.3" cy="486.2" r="3.9" fill="#b0b0b0"/>
<circle cx="500.0" cy="475.5" r="2.5" fill="#9a9a9a"/>
<circle cx="521.6" cy="492.3" r="2.6" fill="#b0b0b0"/>
<circle cx="505.0" cy="461.5" r="3.5" fill="#888888"/>
<circle cx="531.5" cy="494.2" r="3.8" fill="#888888"/>
<circle cx="499.2" cy="469.7" r="2.2" fill="#a4a4a4"/>
<circle cx="501.7" cy="468.5" r="3.0" fill="#9a9a9a"/>
<circle cx="525.4" cy="477.6" r="2.9" fill="#a4a4a4"/>
<circle cx="488.9" cy="461.1" r="2.2" fill="#888888"/>
<circle cx="520.1" cy="471.5" r="2.7" fill="#a4a4a4"/>
<circle cx="497.2" cy="468.4" r="3.3" fill="#9a9a9a"/>
<circle cx="522.6" cy="484.5" r="2.3" fill="#b0b0b0"/>
<circle cx="498.5" cy="490.9" r="3.3" fill="#9a9a9a"/>
<g transform="translate(421,544.4) rotate(41)"><rect x="-96" y="-40" width="192" height="80" rx="40" fill="url(#sembody)"/></g>
<circle cx="345.5" cy="492.8" r="3.0" fill="#a0a0a0" opacity="0.8"/>
<circle cx="468.7" cy="615.1" r="3.8" fill="#bcbcbc" opacity="0.8"/>
<circle cx="378.9" cy="548.8" r="3.6" fill="#a7a7a7" opacity="0.8"/>
<circle cx="390.9" cy="480.4" r="3.2" fill="#afafaf" opacity="0.8"/>
<circle cx="492.1" cy="599.9" r="2.4" fill="#c9c9c9" opacity="0.8"/>
<circle cx="372.1" cy="529.2" r="2.7" fill="#b4b4b4" opacity="0.8"/>
<circle cx="464.8" cy="555.7" r="2.2" fill="#bbbbbb" opacity="0.8"/>
<circle cx="387.0" cy="525.5" r="2.7" fill="#b4b4b4" opacity="0.8"/>
<circle cx="467.6" cy="537.4" r="3.5" fill="#b3b3b3" opacity="0.8"/>
<circle cx="456.9" cy="567.1" r="2.9" fill="#b4b4b4" opacity="0.8"/>
<circle cx="454.3" cy="551.7" r="2.2" fill="#b6b6b6" opacity="0.8"/>
<circle cx="373.2" cy="481.3" r="2.5" fill="#b1b1b1" opacity="0.8"/>
<circle cx="376.1" cy="537.3" r="2.6" fill="#b0b0b0" opacity="0.8"/>
<circle cx="451.6" cy="531.6" r="3.7" fill="#c1c1c1" opacity="0.8"/>
<circle cx="444.8" cy="602.0" r="3.0" fill="#c2c2c2" opacity="0.8"/>
<circle cx="380.5" cy="503.6" r="3.7" fill="#aaaaaa" opacity="0.8"/>
<circle cx="402.3" cy="490.3" r="3.8" fill="#b6b6b6" opacity="0.8"/>
<circle cx="412.3" cy="541.8" r="2.9" fill="#b6b6b6" opacity="0.8"/>
<circle cx="478.6" cy="585.8" r="2.9" fill="#b9b9b9" opacity="0.8"/>
<circle cx="424.0" cy="509.3" r="2.5" fill="#b7b7b7" opacity="0.8"/>
<circle cx="451.6" cy="570.6" r="2.4" fill="#bcbcbc" opacity="0.8"/>
<circle cx="424.6" cy="583.1" r="3.6" fill="#b3b3b3" opacity="0.8"/>
<circle cx="368.1" cy="488.1" r="2.1" fill="#a0a0a0" opacity="0.8"/>
<circle cx="495.5" cy="579.6" r="3.1" fill="#c7c7c7" opacity="0.8"/>
<circle cx="427.1" cy="516.6" r="3.8" fill="#bababa" opacity="0.8"/>
<circle cx="385.4" cy="534.1" r="3.2" fill="#b8b8b8" opacity="0.8"/>
<circle cx="373.9" cy="494.3" r="3.4" fill="#b0b0b0" opacity="0.8"/>
<circle cx="498.3" cy="571.1" r="2.3" fill="#c4c4c4" opacity="0.8"/>
<circle cx="477.9" cy="605.9" r="3.3" fill="#cdcdcd" opacity="0.8"/>
<circle cx="391.2" cy="515.2" r="2.2" fill="#b1b1b1" opacity="0.8"/>
<circle cx="405.0" cy="536.1" r="2.4" fill="#bdbdbd" opacity="0.8"/>
<circle cx="368.1" cy="540.5" r="3.4" fill="#b2b2b2" opacity="0.8"/>
<circle cx="347.8" cy="502.9" r="3.3" fill="#acacac" opacity="0.8"/>
<circle cx="367.8" cy="529.0" r="2.2" fill="#a5a5a5" opacity="0.8"/>
<circle cx="377.9" cy="493.1" r="2.3" fill="#a5a5a5" opacity="0.8"/>
<circle cx="462.6" cy="612.7" r="2.2" fill="#c2c2c2" opacity="0.8"/>
<circle cx="424.5" cy="521.8" r="3.2" fill="#b1b1b1" opacity="0.8"/>
<circle cx="427.0" cy="513.6" r="3.3" fill="#bdbdbd" opacity="0.8"/>
<circle cx="389.1" cy="509.3" r="2.7" fill="#afafaf" opacity="0.8"/>
<circle cx="386.0" cy="516.6" r="2.2" fill="#ababab" opacity="0.8"/>
<circle cx="387.4" cy="513.5" r="2.2" fill="#a4a4a4" opacity="0.8"/>
<circle cx="429.0" cy="559.0" r="3.8" fill="#c0c0c0" opacity="0.8"/>
<circle cx="492.3" cy="593.0" r="2.1" fill="#cfcfcf" opacity="0.8"/>
<circle cx="488.0" cy="579.8" r="3.8" fill="#bdbdbd" opacity="0.8"/>
<circle cx="467.8" cy="604.3" r="2.5" fill="#bebebe" opacity="0.8"/>
<circle cx="403.2" cy="576.2" r="3.0" fill="#bcbcbc" opacity="0.8"/>
<circle cx="495.4" cy="572.2" r="3.1" fill="#c7c7c7" opacity="0.8"/>
<circle cx="482.3" cy="581.2" r="2.8" fill="#c6c6c6" opacity="0.8"/>
<circle cx="422.5" cy="579.1" r="3.5" fill="#c1c1c1" opacity="0.8"/>
<circle cx="442.1" cy="561.7" r="2.1" fill="#b0b0b0" opacity="0.8"/>
<circle cx="461.1" cy="578.2" r="2.7" fill="#c1c1c1" opacity="0.8"/>
<circle cx="353.7" cy="520.2" r="3.7" fill="#adadad" opacity="0.8"/>
<circle cx="462.1" cy="546.0" r="2.5" fill="#bebebe" opacity="0.8"/>
<circle cx="444.4" cy="551.0" r="2.5" fill="#bdbdbd" opacity="0.8"/>
<circle cx="459.1" cy="533.9" r="2.8" fill="#b5b5b5" opacity="0.8"/>
<circle cx="395.5" cy="482.1" r="2.3" fill="#b2b2b2" opacity="0.8"/>
<circle cx="425.8" cy="529.2" r="2.6" fill="#b5b5b5" opacity="0.8"/>
<circle cx="442.5" cy="521.2" r="2.7" fill="#bcbcbc" opacity="0.8"/>
<circle cx="394.7" cy="540.6" r="3.1" fill="#bbbbbb" opacity="0.8"/>
<circle cx="380.9" cy="473.5" r="2.6" fill="#9f9f9f" opacity="0.8"/>
<circle cx="416.0" cy="525.4" r="2.2" fill="#bebebe" opacity="0.8"/>
<circle cx="493.6" cy="571.7" r="3.5" fill="#bebebe" opacity="0.8"/>
<circle cx="409.8" cy="543.0" r="2.2" fill="#b5b5b5" opacity="0.8"/>
<circle cx="387.4" cy="540.1" r="3.3" fill="#a9a9a9" opacity="0.8"/>
<circle cx="372.1" cy="499.9" r="3.3" fill="#a6a6a6" opacity="0.8"/>
<circle cx="416.8" cy="555.4" r="2.2" fill="#b6b6b6" opacity="0.8"/>
<circle cx="367.9" cy="543.7" r="3.4" fill="#b1b1b1" opacity="0.8"/>
<circle cx="417.8" cy="586.8" r="3.3" fill="#b3b3b3" opacity="0.8"/>
<circle cx="481.5" cy="560.9" r="3.2" fill="#bebebe" opacity="0.8"/>
<circle cx="484.0" cy="599.9" r="3.7" fill="#c5c5c5" opacity="0.8"/>
<circle cx="350.2" cy="485.8" r="2.9" fill="#adadad" opacity="0.8"/>
<circle cx="394.8" cy="511.7" r="3.8" fill="#b9b9b9" opacity="0.8"/>
<circle cx="385.8" cy="480.0" r="3.6" fill="#b3b3b3" opacity="0.8"/>
<circle cx="429.1" cy="592.5" r="3.7" fill="#c5c5c5" opacity="0.8"/>
<circle cx="481.8" cy="557.9" r="2.2" fill="#b5b5b5" opacity="0.8"/>
<circle cx="406.5" cy="575.4" r="2.4" fill="#aeaeae" opacity="0.8"/>
<circle cx="395.8" cy="556.9" r="2.2" fill="#b3b3b3" opacity="0.8"/>
<circle cx="394.1" cy="491.6" r="2.5" fill="#b1b1b1" opacity="0.8"/>
<circle cx="479.4" cy="586.2" r="3.1" fill="#bebebe" opacity="0.8"/>
<circle cx="415.8" cy="531.1" r="2.0" fill="#bcbcbc" opacity="0.8"/>
<circle cx="415.5" cy="527.4" r="3.6" fill="#ababab" opacity="0.8"/>
<circle cx="420.4" cy="567.0" r="2.8" fill="#b6b6b6" opacity="0.8"/>
<circle cx="452.5" cy="612.9" r="3.3" fill="#c8c8c8" opacity="0.8"/>
<circle cx="429.7" cy="553.2" r="3.1" fill="#aeaeae" opacity="0.8"/>
<circle cx="463.6" cy="607.1" r="2.3" fill="#c7c7c7" opacity="0.8"/>
<circle cx="458.1" cy="574.9" r="3.0" fill="#c4c4c4" opacity="0.8"/>
<circle cx="499.1" cy="586.4" r="3.2" fill="#c7c7c7" opacity="0.8"/>
<circle cx="489.3" cy="583.6" r="3.6" fill="#cdcdcd" opacity="0.8"/>
<circle cx="464.4" cy="602.1" r="3.5" fill="#cccccc" opacity="0.8"/>
<circle cx="448.2" cy="594.4" r="3.8" fill="#bfbfbf" opacity="0.8"/>
<circle cx="406.7" cy="505.7" r="2.9" fill="#ababab" opacity="0.8"/>
<circle cx="397.2" cy="543.6" r="2.2" fill="#b3b3b3" opacity="0.8"/>
<circle cx="443.6" cy="541.3" r="2.1" fill="#bbbbbb" opacity="0.8"/>
<circle cx="457.7" cy="551.9" r="3.0" fill="#bbbbbb" opacity="0.8"/>
<circle cx="472.2" cy="562.2" r="3.1" fill="#c7c7c7" opacity="0.8"/>
<circle cx="466.4" cy="608.4" r="2.9" fill="#bababa" opacity="0.8"/>
<circle cx="403.5" cy="548.8" r="3.6" fill="#ababab" opacity="0.8"/>
<circle cx="451.3" cy="555.5" r="3.6" fill="#b3b3b3" opacity="0.8"/>
<circle cx="391.2" cy="555.1" r="2.1" fill="#b3b3b3" opacity="0.8"/>
<circle cx="363.1" cy="519.0" r="2.3" fill="#aaaaaa" opacity="0.8"/>
<circle cx="393.9" cy="506.0" r="3.2" fill="#a9a9a9" opacity="0.8"/>
<circle cx="453.5" cy="536.4" r="3.7" fill="#c0c0c0" opacity="0.8"/>
<circle cx="440.9" cy="530.2" r="2.4" fill="#afafaf" opacity="0.8"/>
<circle cx="477.3" cy="547.0" r="2.5" fill="#c4c4c4" opacity="0.8"/>
<circle cx="447.7" cy="520.8" r="2.6" fill="#b6b6b6" opacity="0.8"/>
<circle cx="450.8" cy="596.9" r="2.9" fill="#bcbcbc" opacity="0.8"/>
<circle cx="346.4" cy="518.0" r="3.8" fill="#a0a0a0" opacity="0.8"/>
<circle cx="464.3" cy="550.2" r="3.6" fill="#c5c5c5" opacity="0.8"/>
<circle cx="346.4" cy="501.2" r="3.4" fill="#aaaaaa" opacity="0.8"/>
<circle cx="357.1" cy="497.2" r="3.0" fill="#a2a2a2" opacity="0.8"/>
<circle cx="483.5" cy="554.1" r="3.7" fill="#c6c6c6" opacity="0.8"/>
<circle cx="384.9" cy="499.4" r="2.6" fill="#a6a6a6" opacity="0.8"/>
<circle cx="490.0" cy="587.9" r="2.3" fill="#cecece" opacity="0.8"/>
<circle cx="455.1" cy="584.6" r="3.5" fill="#b8b8b8" opacity="0.8"/>
<circle cx="387.3" cy="482.2" r="3.0" fill="#a7a7a7" opacity="0.8"/>
<circle cx="430.0" cy="560.7" r="2.4" fill="#b1b1b1" opacity="0.8"/>
<circle cx="395.4" cy="532.3" r="3.2" fill="#b0b0b0" opacity="0.8"/>
<circle cx="400.8" cy="520.8" r="3.2" fill="#b0b0b0" opacity="0.8"/>
<circle cx="374.2" cy="520.2" r="3.4" fill="#afafaf" opacity="0.8"/>
<circle cx="478.2" cy="557.9" r="3.5" fill="#b8b8b8" opacity="0.8"/>
<circle cx="427.9" cy="586.9" r="3.5" fill="#bababa" opacity="0.8"/>
<circle cx="432.7" cy="557.7" r="2.6" fill="#b4b4b4" opacity="0.8"/>
<circle cx="432.5" cy="560.2" r="2.7" fill="#c0c0c0" opacity="0.8"/>
<circle cx="389.0" cy="522.9" r="2.5" fill="#afafaf" opacity="0.8"/>
<circle cx="459.1" cy="611.2" r="3.6" fill="#bfbfbf" opacity="0.8"/>
<circle cx="354.5" cy="483.4" r="2.4" fill="#a4a4a4" opacity="0.8"/>
<circle cx="453.6" cy="609.3" r="2.1" fill="#bababa" opacity="0.8"/>
<circle cx="371.5" cy="471.9" r="2.1" fill="#a8a8a8" opacity="0.8"/>
<circle cx="401.7" cy="486.4" r="2.3" fill="#a4a4a4" opacity="0.8"/>
<circle cx="356.9" cy="510.1" r="2.3" fill="#a1a1a1" opacity="0.8"/>
<circle cx="445.8" cy="548.7" r="2.9" fill="#b0b0b0" opacity="0.8"/>
<circle cx="433.0" cy="531.1" r="3.3" fill="#afafaf" opacity="0.8"/>
<circle cx="352.7" cy="533.5" r="3.0" fill="#b3b3b3" opacity="0.8"/>
<circle cx="460.6" cy="585.9" r="2.1" fill="#c1c1c1" opacity="0.8"/>
<circle cx="390.6" cy="518.7" r="2.5" fill="#adadad" opacity="0.8"/>
<circle cx="421.2" cy="539.6" r="3.1" fill="#b6b6b6" opacity="0.8"/>
<circle cx="427.2" cy="551.3" r="2.6" fill="#bdbdbd" opacity="0.8"/>
<circle cx="385.9" cy="481.3" r="3.3" fill="#a7a7a7" opacity="0.8"/>
<circle cx="454.1" cy="562.2" r="3.4" fill="#bbbbbb" opacity="0.8"/>
<circle cx="413.6" cy="540.1" r="3.2" fill="#b2b2b2" opacity="0.8"/>
<circle cx="367.7" cy="500.3" r="3.3" fill="#a4a4a4" opacity="0.8"/>
<circle cx="422.2" cy="537.8" r="2.8" fill="#bcbcbc" opacity="0.8"/>
<circle cx="380.8" cy="507.2" r="3.7" fill="#acacac" opacity="0.8"/>
<circle cx="374.5" cy="513.6" r="3.1" fill="#aaaaaa" opacity="0.8"/>
<circle cx="412.9" cy="498.5" r="3.4" fill="#ababab" opacity="0.8"/>
<circle cx="444.0" cy="575.4" r="2.4" fill="#b7b7b7" opacity="0.8"/>
<circle cx="362.1" cy="475.9" r="3.3" fill="#aeaeae" opacity="0.8"/>
<circle cx="490.5" cy="599.8" r="3.5" fill="#bfbfbf" opacity="0.8"/>
<circle cx="397.1" cy="543.8" r="3.6" fill="#b1b1b1" opacity="0.8"/>
<circle cx="492.1" cy="583.2" r="3.1" fill="#c1c1c1" opacity="0.8"/>
<circle cx="428.1" cy="509.8" r="3.7" fill="#a9a9a9" opacity="0.8"/>
<circle cx="431.8" cy="552.9" r="2.7" fill="#afafaf" opacity="0.8"/>
<circle cx="407.1" cy="502.8" r="3.3" fill="#acacac" opacity="0.8"/>
<circle cx="398.2" cy="507.0" r="2.5" fill="#adadad" opacity="0.8"/>
<circle cx="420.2" cy="565.4" r="2.8" fill="#b5b5b5" opacity="0.8"/>
<circle cx="356.3" cy="529.5" r="3.7" fill="#b0b0b0" opacity="0.8"/>
<circle cx="471.9" cy="593.4" r="3.1" fill="#b8b8b8" opacity="0.8"/>
<circle cx="440.2" cy="575.0" r="2.2" fill="#c2c2c2" opacity="0.8"/>
<circle cx="482.4" cy="590.9" r="2.7" fill="#bebebe" opacity="0.8"/>
<circle cx="492.5" cy="597.1" r="2.2" fill="#bbbbbb" opacity="0.8"/>
<circle cx="446.1" cy="543.3" r="2.8" fill="#b6b6b6" opacity="0.8"/>
<circle cx="343.0" cy="502.7" r="2.7" fill="#a9a9a9" opacity="0.8"/>
<circle cx="488.4" cy="568.2" r="2.8" fill="#cbcbcb" opacity="0.8"/>
<circle cx="466.9" cy="573.7" r="2.2" fill="#bdbdbd" opacity="0.8"/>
<circle cx="449.4" cy="576.7" r="2.2" fill="#c3c3c3" opacity="0.8"/>
<circle cx="419.7" cy="517.5" r="2.6" fill="#aaaaaa" opacity="0.8"/>
<circle cx="373.8" cy="542.0" r="2.8" fill="#a8a8a8" opacity="0.8"/>
<circle cx="386.7" cy="559.6" r="2.3" fill="#b0b0b0" opacity="0.8"/>
<circle cx="398.4" cy="500.2" r="2.8" fill="#b1b1b1" opacity="0.8"/>
<circle cx="406.7" cy="528.0" r="3.5" fill="#aaaaaa" opacity="0.8"/>
<circle cx="414.8" cy="500.6" r="2.9" fill="#b4b4b4" opacity="0.8"/>
<circle cx="469.6" cy="602.1" r="2.9" fill="#c8c8c8" opacity="0.8"/>
<circle cx="414.5" cy="573.3" r="2.5" fill="#b8b8b8" opacity="0.8"/>
<circle cx="405.3" cy="549.1" r="2.8" fill="#b3b3b3" opacity="0.8"/>
<circle cx="366.6" cy="502.5" r="3.2" fill="#b2b2b2" opacity="0.8"/>
<circle cx="358.7" cy="491.6" r="3.5" fill="#adadad" opacity="0.8"/>
<circle cx="400.4" cy="518.0" r="3.6" fill="#b2b2b2" opacity="0.8"/>
<circle cx="391.6" cy="514.2" r="2.2" fill="#b4b4b4" opacity="0.8"/>
<circle cx="369.7" cy="502.7" r="2.7" fill="#b3b3b3" opacity="0.8"/>
<circle cx="350.5" cy="523.6" r="2.6" fill="#b1b1b1" opacity="0.8"/>
<circle cx="465.8" cy="535.7" r="3.2" fill="#bbbbbb" opacity="0.8"/>
<circle cx="427.8" cy="505.0" r="3.6" fill="#adadad" opacity="0.8"/>
<circle cx="410.5" cy="565.0" r="2.3" fill="#b3b3b3" opacity="0.8"/>
<circle cx="419.0" cy="585.9" r="2.4" fill="#b7b7b7" opacity="0.8"/>
<circle cx="489.2" cy="574.7" r="3.2" fill="#bdbdbd" opacity="0.8"/>
<circle cx="482.3" cy="602.2" r="2.4" fill="#cfcfcf" opacity="0.8"/>
<circle cx="387.0" cy="506.5" r="2.8" fill="#aaaaaa" opacity="0.8"/>
<circle cx="374.2" cy="501.6" r="2.8" fill="#aeaeae" opacity="0.8"/>
<circle cx="397.5" cy="478.7" r="2.9" fill="#a4a4a4" opacity="0.8"/>
<circle cx="393.2" cy="495.8" r="2.9" fill="#acacac" opacity="0.8"/>
<circle cx="469.3" cy="597.9" r="3.4" fill="#c1c1c1" opacity="0.8"/>
<circle cx="422.4" cy="554.9" r="2.1" fill="#bdbdbd" opacity="0.8"/>
<circle cx="391.1" cy="482.5" r="2.7" fill="#a7a7a7" opacity="0.8"/>
<circle cx="394.9" cy="480.6" r="3.2" fill="#b0b0b0" opacity="0.8"/>
<circle cx="408.6" cy="557.9" r="2.8" fill="#b4b4b4" opacity="0.8"/>
<circle cx="403.9" cy="483.4" r="2.7" fill="#aeaeae" opacity="0.8"/>
<circle cx="412.7" cy="495.3" r="3.1" fill="#ababab" opacity="0.8"/>
<circle cx="399.7" cy="499.0" r="3.5" fill="#a5a5a5" opacity="0.8"/>
<circle cx="399.7" cy="498.3" r="2.1" fill="#ababab" opacity="0.8"/>
<circle cx="440.5" cy="604.9" r="2.8" fill="#bdbdbd" opacity="0.8"/>
<circle cx="470.0" cy="607.8" r="3.2" fill="#c1c1c1" opacity="0.8"/>
<circle cx="419.8" cy="513.9" r="3.0" fill="#bababa" opacity="0.8"/>
<circle cx="361.1" cy="539.7" r="3.4" fill="#acacac" opacity="0.8"/>
<circle cx="447.4" cy="541.7" r="3.5" fill="#bababa" opacity="0.8"/>
<circle cx="428.4" cy="519.1" r="3.6" fill="#bababa" opacity="0.8"/>
<circle cx="415.2" cy="512.4" r="3.0" fill="#b8b8b8" opacity="0.8"/>
<circle cx="378.2" cy="503.1" r="3.3" fill="#a8a8a8" opacity="0.8"/>
<circle cx="395.6" cy="494.6" r="3.4" fill="#aeaeae" opacity="0.8"/>
<circle cx="466.6" cy="578.2" r="3.2" fill="#c2c2c2" opacity="0.8"/>
<circle cx="411.6" cy="538.3" r="3.8" fill="#b6b6b6" opacity="0.8"/>
<circle cx="393.8" cy="538.5" r="3.6" fill="#b9b9b9" opacity="0.8"/>
<circle cx="453.1" cy="561.0" r="2.5" fill="#bebebe" opacity="0.8"/>
<circle cx="452.6" cy="593.1" r="2.5" fill="#b6b6b6" opacity="0.8"/>
<circle cx="442.4" cy="595.1" r="3.4" fill="#bcbcbc" opacity="0.8"/>
<circle cx="420.3" cy="501.4" r="2.7" fill="#b9b9b9" opacity="0.8"/>
<circle cx="364.5" cy="489.6" r="2.5" fill="#a9a9a9" opacity="0.8"/>
<circle cx="443.9" cy="582.5" r="3.3" fill="#bfbfbf" opacity="0.8"/>
<circle cx="441.3" cy="534.8" r="3.8" fill="#b5b5b5" opacity="0.8"/>
<circle cx="355.0" cy="482.3" r="2.3" fill="#aeaeae" opacity="0.8"/>
<circle cx="407.5" cy="492.3" r="2.0" fill="#ababab" opacity="0.8"/>
<circle cx="416.0" cy="547.0" r="3.5" fill="#b8b8b8" opacity="0.8"/>
<circle cx="435.6" cy="574.7" r="3.8" fill="#c5c5c5" opacity="0.8"/>
<circle cx="382.0" cy="555.2" r="3.4" fill="#ababab" opacity="0.8"/>
<circle cx="346.0" cy="494.7" r="2.4" fill="#b0b0b0" opacity="0.8"/>
<circle cx="437.4" cy="582.1" r="2.3" fill="#b2b2b2" opacity="0.8"/>
<circle cx="402.6" cy="543.7" r="2.5" fill="#b2b2b2" opacity="0.8"/>
<circle cx="425.7" cy="590.1" r="3.3" fill="#c0c0c0" opacity="0.8"/>
<circle cx="428.2" cy="554.7" r="3.2" fill="#bfbfbf" opacity="0.8"/>
<circle cx="466.3" cy="612.1" r="2.4" fill="#c2c2c2" opacity="0.8"/>
<circle cx="441.1" cy="533.3" r="2.5" fill="#b6b6b6" opacity="0.8"/>
<circle cx="373.2" cy="545.8" r="3.4" fill="#a9a9a9" opacity="0.8"/>
<circle cx="384.4" cy="545.1" r="2.9" fill="#aaaaaa" opacity="0.8"/>
<circle cx="380.7" cy="536.0" r="2.4" fill="#b0b0b0" opacity="0.8"/>
<circle cx="473.5" cy="584.7" r="2.9" fill="#c9c9c9" opacity="0.8"/>
<circle cx="411.3" cy="519.8" r="2.2" fill="#a9a9a9" opacity="0.8"/>
<circle cx="432.3" cy="559.9" r="2.4" fill="#bdbdbd" opacity="0.8"/>
<circle cx="499.7" cy="580.1" r="3.7" fill="#c0c0c0" opacity="0.8"/>
<circle cx="441.2" cy="536.6" r="3.8" fill="#bebebe" opacity="0.8"/>
<circle cx="348.5" cy="501.8" r="2.3" fill="#a4a4a4" opacity="0.8"/>
<circle cx="482.8" cy="554.8" r="3.1" fill="#bababa" opacity="0.8"/>
<circle cx="407.2" cy="553.6" r="2.3" fill="#bcbcbc" opacity="0.8"/>
<circle cx="365.1" cy="494.2" r="2.5" fill="#b0b0b0" opacity="0.8"/>
<circle cx="442.4" cy="542.6" r="2.8" fill="#b0b0b0" opacity="0.8"/>
<circle cx="360.8" cy="510.5" r="3.7" fill="#aeaeae" opacity="0.8"/>
<circle cx="433.4" cy="572.1" r="3.0" fill="#c3c3c3" opacity="0.8"/>
<circle cx="465.8" cy="566.3" r="3.3" fill="#b6b6b6" opacity="0.8"/>
<circle cx="354.8" cy="507.6" r="3.2" fill="#a0a0a0" opacity="0.8"/>
<circle cx="486.3" cy="567.7" r="2.2" fill="#bdbdbd" opacity="0.8"/>
<circle cx="477.6" cy="575.4" r="3.8" fill="#b7b7b7" opacity="0.8"/>
<circle cx="358.7" cy="483.0" r="2.6" fill="#a3a3a3" opacity="0.8"/>
<circle cx="349.6" cy="514.4" r="2.6" fill="#aeaeae" opacity="0.8"/>
<circle cx="360.2" cy="529.4" r="2.3" fill="#acacac" opacity="0.8"/>
<circle cx="403.3" cy="565.0" r="2.9" fill="#b0b0b0" opacity="0.8"/>
<circle cx="350.2" cy="513.9" r="2.2" fill="#a2a2a2" opacity="0.8"/>
<circle cx="406.1" cy="522.9" r="3.7" fill="#aeaeae" opacity="0.8"/>
<circle cx="407.3" cy="540.4" r="3.5" fill="#b7b7b7" opacity="0.8"/>
<circle cx="477.0" cy="567.6" r="2.5" fill="#c2c2c2" opacity="0.8"/>
<circle cx="437.0" cy="588.5" r="2.8" fill="#b5b5b5" opacity="0.8"/>
<circle cx="424.1" cy="515.8" r="3.0" fill="#b1b1b1" opacity="0.8"/>
<circle cx="464.4" cy="599.9" r="3.0" fill="#c4c4c4" opacity="0.8"/>
<circle cx="430.2" cy="531.7" r="2.1" fill="#b9b9b9" opacity="0.8"/>
<circle cx="390.5" cy="552.7" r="2.4" fill="#b4b4b4" opacity="0.8"/>
<circle cx="417.6" cy="537.4" r="2.4" fill="#ababab" opacity="0.8"/>
<circle cx="361.1" cy="518.2" r="2.5" fill="#b5b5b5" opacity="0.8"/>
<circle cx="367.8" cy="480.5" r="3.6" fill="#a9a9a9" opacity="0.8"/>
<circle cx="388.0" cy="478.1" r="3.0" fill="#a6a6a6" opacity="0.8"/>
<circle cx="474.4" cy="541.9" r="2.7" fill="#c1c1c1" opacity="0.8"/>
<circle cx="480.2" cy="585.9" r="3.2" fill="#bfbfbf" opacity="0.8"/>
<circle cx="367.1" cy="529.1" r="2.9" fill="#ababab" opacity="0.8"/>
<circle cx="484.8" cy="585.5" r="3.6" fill="#cacaca" opacity="0.8"/>
<circle cx="410.2" cy="573.4" r="2.0" fill="#aeaeae" opacity="0.8"/>
<circle cx="385.7" cy="506.3" r="3.6" fill="#a6a6a6" opacity="0.8"/>
<circle cx="460.5" cy="607.4" r="2.5" fill="#c1c1c1" opacity="0.8"/>
<circle cx="428.5" cy="525.4" r="3.3" fill="#bdbdbd" opacity="0.8"/>
<circle cx="388.2" cy="551.1" r="2.9" fill="#b2b2b2" opacity="0.8"/>
<circle cx="450.0" cy="581.0" r="3.2" fill="#bababa" opacity="0.8"/>
<circle cx="363.7" cy="539.2" r="3.4" fill="#b2b2b2" opacity="0.8"/>
<circle cx="392.5" cy="505.8" r="3.6" fill="#b6b6b6" opacity="0.8"/>
<circle cx="485.5" cy="582.0" r="2.6" fill="#c6c6c6" opacity="0.8"/>
<circle cx="463.6" cy="547.0" r="3.2" fill="#c6c6c6" opacity="0.8"/>
<circle cx="467.4" cy="615.0" r="2.9" fill="#c6c6c6" opacity="0.8"/>
<circle cx="447.0" cy="541.6" r="3.3" fill="#c3c3c3" opacity="0.8"/>
<circle cx="409.1" cy="519.9" r="3.8" fill="#a8a8a8" opacity="0.8"/>
<circle cx="358.7" cy="503.9" r="3.6" fill="#b0b0b0" opacity="0.8"/>
<circle cx="470.1" cy="562.9" r="3.1" fill="#c1c1c1" opacity="0.8"/>
<circle cx="405.4" cy="496.0" r="2.6" fill="#afafaf" opacity="0.8"/>
<circle cx="377.7" cy="479.0" r="3.7" fill="#ababab" opacity="0.8"/>
<circle cx="418.9" cy="500.1" r="3.2" fill="#b7b7b7" opacity="0.8"/>
<circle cx="475.4" cy="566.9" r="2.2" fill="#c0c0c0" opacity="0.8"/>
<circle cx="408.1" cy="521.0" r="2.4" fill="#b6b6b6" opacity="0.8"/>
<circle cx="386.6" cy="539.2" r="2.9" fill="#adadad" opacity="0.8"/>
<circle cx="461.7" cy="569.2" r="3.6" fill="#bebebe" opacity="0.8"/>
<circle cx="351.7" cy="493.8" r="3.4" fill="#afafaf" opacity="0.8"/>
<circle cx="463.9" cy="603.1" r="2.4" fill="#c4c4c4" opacity="0.8"/>
<circle cx="364.6" cy="530.9" r="3.2" fill="#b6b6b6" opacity="0.8"/>
<circle cx="466.6" cy="574.9" r="3.4" fill="#bebebe" opacity="0.8"/>
<circle cx="368.5" cy="537.8" r="2.8" fill="#a5a5a5" opacity="0.8"/>
<circle cx="466.2" cy="591.4" r="2.3" fill="#bfbfbf" opacity="0.8"/>
<circle cx="426.9" cy="541.3" r="3.6" fill="#b4b4b4" opacity="0.8"/>
<circle cx="377.1" cy="502.8" r="3.3" fill="#b0b0b0" opacity="0.8"/>
<circle cx="349.2" cy="518.9" r="2.6" fill="#a4a4a4" opacity="0.8"/>
<circle cx="402.8" cy="572.9" r="3.0" fill="#bbbbbb" opacity="0.8"/>
<circle cx="467.0" cy="545.5" r="2.9" fill="#b9b9b9" opacity="0.8"/>
<circle cx="444.5" cy="549.9" r="3.1" fill="#c2c2c2" opacity="0.8"/>
<circle cx="419.3" cy="553.5" r="2.8" fill="#bdbdbd" opacity="0.8"/>
<circle cx="440.8" cy="528.6" r="2.7" fill="#c0c0c0" opacity="0.8"/>
<circle cx="438.6" cy="532.3" r="2.9" fill="#c0c0c0" opacity="0.8"/>
<circle cx="366.1" cy="539.2" r="3.4" fill="#a5a5a5" opacity="0.8"/>
<circle cx="450.7" cy="566.9" r="2.2" fill="#bababa" opacity="0.8"/>
<circle cx="364.3" cy="489.8" r="2.2" fill="#aaaaaa" opacity="0.8"/>
<circle cx="425.2" cy="569.2" r="2.3" fill="#bbbbbb" opacity="0.8"/>
<circle cx="373.2" cy="516.6" r="3.6" fill="#a7a7a7" opacity="0.8"/>
<circle cx="433.5" cy="510.4" r="2.5" fill="#b2b2b2" opacity="0.8"/>
<circle cx="431.5" cy="518.2" r="3.6" fill="#b2b2b2" opacity="0.8"/>
<circle cx="450.9" cy="587.4" r="3.7" fill="#c6c6c6" opacity="0.8"/>
<circle cx="375.6" cy="520.1" r="3.3" fill="#acacac" opacity="0.8"/>
<circle cx="493.0" cy="599.5" r="3.7" fill="#cdcdcd" opacity="0.8"/>
<circle cx="362.6" cy="533.4" r="2.5" fill="#adadad" opacity="0.8"/>
<circle cx="451.5" cy="557.9" r="3.8" fill="#bababa" opacity="0.8"/>
<circle cx="457.2" cy="535.7" r="2.2" fill="#b8b8b8" opacity="0.8"/>
<circle cx="442.9" cy="526.3" r="2.6" fill="#b5b5b5" opacity="0.8"/>
<circle cx="447.7" cy="562.1" r="2.5" fill="#b9b9b9" opacity="0.8"/>
<circle cx="480.2" cy="599.2" r="2.1" fill="#bbbbbb" opacity="0.8"/>
<circle cx="481.9" cy="600.9" r="2.2" fill="#cdcdcd" opacity="0.8"/>
<circle cx="434.3" cy="585.5" r="3.7" fill="#bebebe" opacity="0.8"/>
<circle cx="467.2" cy="571.5" r="2.8" fill="#bdbdbd" opacity="0.8"/>
<circle cx="439.7" cy="551.8" r="2.4" fill="#bfbfbf" opacity="0.8"/>
<circle cx="430.0" cy="518.3" r="2.6" fill="#b4b4b4" opacity="0.8"/>
<circle cx="348.1" cy="494.1" r="2.2" fill="#adadad" opacity="0.8"/>
<circle cx="488.4" cy="574.0" r="2.5" fill="#bebebe" opacity="0.8"/>
<circle cx="467.7" cy="541.7" r="3.2" fill="#c6c6c6" opacity="0.8"/>
<circle cx="373.8" cy="488.1" r="3.4" fill="#aeaeae" opacity="0.8"/>
<circle cx="381.4" cy="541.2" r="3.2" fill="#a7a7a7" opacity="0.8"/>
<circle cx="465.7" cy="585.0" r="3.7" fill="#b7b7b7" opacity="0.8"/>
<circle cx="434.4" cy="568.2" r="2.5" fill="#b4b4b4" opacity="0.8"/>
<circle cx="468.5" cy="558.3" r="3.1" fill="#c8c8c8" opacity="0.8"/>
<circle cx="448.8" cy="582.4" r="2.5" fill="#bababa" opacity="0.8"/>
<circle cx="414.1" cy="560.0" r="3.4" fill="#acacac" opacity="0.8"/>
<circle cx="481.4" cy="567.7" r="3.0" fill="#c2c2c2" opacity="0.8"/>
<circle cx="413.2" cy="564.2" r="3.8" fill="#bdbdbd" opacity="0.8"/>
<circle cx="433.8" cy="603.4" r="3.2" fill="#c1c1c1" opacity="0.8"/>
<circle cx="401.8" cy="524.6" r="3.6" fill="#bababa" opacity="0.8"/>
<circle cx="408.1" cy="538.2" r="2.9" fill="#aaaaaa" opacity="0.8"/>
<circle cx="437.0" cy="510.9" r="2.4" fill="#b5b5b5" opacity="0.8"/>
<circle cx="424.9" cy="563.8" r="2.2" fill="#b6b6b6" opacity="0.8"/>
<circle cx="369.6" cy="538.4" r="2.2" fill="#b5b5b5" opacity="0.8"/>
<circle cx="433.9" cy="554.2" r="2.6" fill="#afafaf" opacity="0.8"/>
<circle cx="474.0" cy="555.6" r="2.5" fill="#c6c6c6" opacity="0.8"/>
<circle cx="471.2" cy="580.6" r="2.8" fill="#bdbdbd" opacity="0.8"/>
<circle cx="467.9" cy="577.6" r="3.1" fill="#b8b8b8" opacity="0.8"/>
<circle cx="411.4" cy="561.2" r="2.2" fill="#bababa" opacity="0.8"/>
<circle cx="464.1" cy="549.5" r="3.7" fill="#c4c4c4" opacity="0.8"/>
<circle cx="392.0" cy="474.0" r="2.8" fill="#b3b3b3" opacity="0.8"/>
<circle cx="414.6" cy="517.8" r="2.4" fill="#bcbcbc" opacity="0.8"/>
<circle cx="493.4" cy="569.3" r="3.0" fill="#c3c3c3" opacity="0.8"/>
<circle cx="431.9" cy="570.3" r="3.2" fill="#bcbcbc" opacity="0.8"/>
<circle cx="436.9" cy="571.2" r="3.1" fill="#b4b4b4" opacity="0.8"/>
<circle cx="472.4" cy="605.0" r="3.5" fill="#cecece" opacity="0.8"/>
<circle cx="355.6" cy="489.3" r="3.6" fill="#adadad" opacity="0.8"/>
<circle cx="421.9" cy="540.5" r="3.0" fill="#b4b4b4" opacity="0.8"/>
<circle cx="355.7" cy="497.2" r="2.4" fill="#a5a5a5" opacity="0.8"/>
<circle cx="477.0" cy="591.8" r="2.5" fill="#bdbdbd" opacity="0.8"/>
<circle cx="415.9" cy="512.3" r="3.3" fill="#b0b0b0" opacity="0.8"/>
<circle cx="428.3" cy="517.5" r="2.4" fill="#b5b5b5" opacity="0.8"/>
<circle cx="397.7" cy="510.9" r="2.3" fill="#b6b6b6" opacity="0.8"/>
<circle cx="376.4" cy="530.8" r="2.0" fill="#b3b3b3" opacity="0.8"/>
<circle cx="444.6" cy="538.6" r="2.4" fill="#b5b5b5" opacity="0.8"/>
<circle cx="424.3" cy="571.4" r="2.3" fill="#c1c1c1" opacity="0.8"/>
<circle cx="387.5" cy="532.2" r="2.0" fill="#aaaaaa" opacity="0.8"/>
<circle cx="463.7" cy="555.2" r="3.4" fill="#c3c3c3" opacity="0.8"/>
<circle cx="378.7" cy="521.6" r="12" fill="url(#semsph)"/>
<circle cx="421.8" cy="542.7" r="14" fill="url(#semsph)"/>
<circle cx="458.6" cy="552" r="12" fill="url(#semsph)"/>
<circle cx="433.8" cy="574" r="13.5" fill="url(#semsph)"/>
<circle cx="475" cy="586" r="8" fill="url(#semsph)"/>
<circle cx="383.3" cy="559.3" r="10" fill="url(#semsph)"/>
<circle cx="499" cy="586" r="9" fill="url(#semsph)"/>
<circle cx="477" cy="618" r="10" fill="url(#semsph)"/>
<circle cx="440" cy="611.6" r="7" fill="url(#semsph)"/>
<circle cx="348.4" cy="525.3" r="8" fill="url(#semsph)"/>
<circle cx="355" cy="480" r="6" fill="url(#semsph)"/>
<circle cx="415" cy="495" r="5" fill="url(#semsph)"/>
</g>
<rect x="510.9" y="620.4" width="28.5" height="3.2" fill="#fff"/>
<defs>
<linearGradient id="cyto" x1="0" y1="0" x2="0" y2="1">
 <stop offset="0" stop-color="#fce3a2"/><stop offset="0.4" stop-color="#fdebbc"/><stop offset="0.75" stop-color="#fef6e0"/><stop offset="0.95" stop-color="#ffffff"/>
</linearGradient>
<linearGradient id="peri" x1="0" y1="0" x2="0" y2="1">
 <stop offset="0" stop-color="#ffffff"/><stop offset="0.3" stop-color="#e8f8d8"/><stop offset="0.5" stop-color="#c6eea0"/><stop offset="0.7" stop-color="#e8f8d8"/><stop offset="1" stop-color="#ffffff"/>
</linearGradient>
<linearGradient id="efade" x1="0" y1="0" x2="1" y2="0">
 <stop offset="0" stop-color="#fff" stop-opacity="0.7"/><stop offset="0.05" stop-color="#fff" stop-opacity="0"/><stop offset="0.95" stop-color="#fff" stop-opacity="0"/><stop offset="1" stop-color="#fff" stop-opacity="0.7"/>
</linearGradient>
<clipPath id="eclip"><rect x="128" y="740" width="241.5" height="256"/></clipPath>
<filter id="eblur" x="-20%" y="-100%" width="140%" height="300%"><feGaussianBlur stdDeviation="5"/></filter>
<marker id="kArr" viewBox="0 0 10 10" refX="7" refY="5" markerWidth="5" markerHeight="5" orient="auto"><path d="M0,0 L10,5 L0,10 L3,5 z" fill="#222"/></marker>
</defs>
<g clip-path="url(#eclip)">
<path d="M128,790 L128,764 C140,760 150,763 160,760 C170,757 178,752 186,754 C194,755 198,748 204,746 C214,744 226,745 236,748 C244,750 250,749 258,750 C266,751 272,753 282,755 C292,757 300,756 310,757 C322,758 334,757 346,758 C356,759 362,760 368,762 L368,802 C330,776 290,766 250,767 C200,768 160,778 128,790 Z" fill="#d3e2f6"/>
<path d="M138,790 C136,780 142,772 140,764" fill="none" stroke="#fff" stroke-width="4.6" stroke-linecap="round"/>
<path d="M150,786 C152,778 148,770 152,762" fill="none" stroke="#fff" stroke-width="4.6" stroke-linecap="round"/>
<path d="M160,783 C166,776 160,768 166,760" fill="none" stroke="#fff" stroke-width="4.6" stroke-linecap="round"/>
<path d="M172,780 C170,772 176,766 172,758" fill="none" stroke="#fff" stroke-width="4.6" stroke-linecap="round"/>
<path d="M184,776 C186,768 180,762 186,756" fill="none" stroke="#fff" stroke-width="4.6" stroke-linecap="round"/>
<path d="M194,773 C192,764 198,758 196,750" fill="none" stroke="#fff" stroke-width="4.6" stroke-linecap="round"/>
<path d="M206,771 C206,764 212,760 210,752 M210,760 C214,756 218,758 220,752" fill="none" stroke="#fff" stroke-width="4.6" stroke-linecap="round"/>
<path d="M224,769 C222,762 228,756 226,748" fill="none" stroke="#fff" stroke-width="4.6" stroke-linecap="round"/>
<path d="M236,768 C238,760 232,756 236,748" fill="none" stroke="#fff" stroke-width="4.6" stroke-linecap="round"/>
<path d="M247,768 C246,762 250,756 248,750" fill="none" stroke="#fff" stroke-width="4.6" stroke-linecap="round"/>
<path d="M262,768 C268,762 262,756 266,752 C270,756 274,760 270,764" fill="none" stroke="#fff" stroke-width="4.6" stroke-linecap="round"/>
<path d="M282,769 C280,762 286,758 284,754" fill="none" stroke="#fff" stroke-width="4.6" stroke-linecap="round"/>
<path d="M296,770 C292,764 298,758 296,756" fill="none" stroke="#fff" stroke-width="4.6" stroke-linecap="round"/>
<path d="M308,772 C310,766 316,764 314,758" fill="none" stroke="#fff" stroke-width="4.6" stroke-linecap="round"/>
<path d="M322,775 C318,768 326,764 324,758" fill="none" stroke="#fff" stroke-width="4.6" stroke-linecap="round"/>
<path d="M336,779 C338,772 346,770 344,762" fill="none" stroke="#fff" stroke-width="4.6" stroke-linecap="round"/>
<path d="M350,785 C348,776 358,772 356,762" fill="none" stroke="#fff" stroke-width="4.6" stroke-linecap="round"/>
<path d="M362,792 C360,784 366,776 364,764" fill="none" stroke="#fff" stroke-width="4.6" stroke-linecap="round"/>
<path d="M118,811 Q240,790 379,826" fill="none" stroke="#c2eb9c" stroke-width="20" filter="url(#eblur)"/>
<path d="M128,852 Q240,814 369,862 L369,1000 L128,1000 Z" fill="url(#cyto)"/>
<path d="M128,792 Q240,744 369,802" fill="none" stroke="#f6a984" stroke-width="5.5"/>
<path d="M128,852 Q240,814 369,862" fill="none" stroke="#f6a984" stroke-width="6"/>
</g>
<circle cx="135.8" cy="719" r="3.9" fill="#ea7fe6"/>
<circle cx="163.5" cy="710.2" r="3.9" fill="#ea7fe6"/>
<circle cx="174" cy="724.5" r="3.9" fill="#ea7fe6"/>
<circle cx="153" cy="730.2" r="3.9" fill="#ea7fe6"/>
<circle cx="167.6" cy="737.2" r="3.9" fill="#ea7fe6"/>
<circle cx="192.7" cy="714" r="3.9" fill="#ea7fe6"/>
<circle cx="192" cy="730.8" r="3.9" fill="#ea7fe6"/>
<circle cx="219" cy="720.4" r="3.9" fill="#ea7fe6"/>
<circle cx="215.3" cy="737.2" r="3.9" fill="#ea7fe6"/>
<circle cx="238" cy="727" r="3.9" fill="#0d4a16"/>
<circle cx="265" cy="718" r="3.9" fill="#0d4a16"/>
<circle cx="275.3" cy="731.8" r="3.9" fill="#0d4a16"/>
<circle cx="255" cy="738" r="3.9" fill="#0d4a16"/>
<circle cx="269.3" cy="745" r="3.9" fill="#0d4a16"/>
<circle cx="293.7" cy="722" r="3.9" fill="#0d4a16"/>
<circle cx="293.7" cy="738.8" r="3.9" fill="#0d4a16"/>
<circle cx="320.8" cy="728.6" r="3.9" fill="#0d4a16"/>
<circle cx="317" cy="745" r="3.9" fill="#0d4a16"/>
<circle cx="158.7" cy="895.4" r="3.9" fill="#ea7fe6"/>
<circle cx="173.6" cy="895.4" r="3.9" fill="#ea7fe6"/>
<circle cx="184" cy="887.5" r="3.9" fill="#ea7fe6"/>
<circle cx="168.9" cy="904.7" r="3.9" fill="#ea7fe6"/>
<circle cx="183.5" cy="903.4" r="3.9" fill="#ea7fe6"/>
<circle cx="208.6" cy="888.8" r="3.9" fill="#86dcf4"/>
<circle cx="222.9" cy="888.8" r="3.9" fill="#86dcf4"/>
<circle cx="232.4" cy="881.8" r="3.9" fill="#86dcf4"/>
<circle cx="218.4" cy="898.6" r="3.9" fill="#86dcf4"/>
<circle cx="232.4" cy="897" r="3.9" fill="#86dcf4"/>
<circle cx="278.8" cy="881.8" r="3.9" fill="#0d4a16"/>
<circle cx="290" cy="883.4" r="3.9" fill="#0d4a16"/>
<circle cx="267.7" cy="889.7" r="3.9" fill="#0d4a16"/>
<circle cx="277.2" cy="898.6" r="3.9" fill="#0d4a16"/>
<circle cx="287.4" cy="898.6" r="3.9" fill="#0d4a16"/>
<path d="M204,785 Q212,780 226,781 L239,783 Q241,792 237,797 L210,798 Q203,794 204,785 Z" fill="#f6e20c" stroke="#9a9a60" stroke-width="0.6"/>
<path d="M137,806 Q142,799 156,799 Q166,800 169,806 Q163,815 150,815 Q138,814 137,806 Z" fill="#f6e20c" stroke="#9a9a60" stroke-width="0.6"/>
<ellipse cx="317.5" cy="811" rx="15" ry="9" fill="#f6e20c" stroke="#9a9a60" stroke-width="0.6"/>
<path d="M169.8,742 L171,800 L176,866" fill="none" stroke="#222" stroke-width="1.8" stroke-dasharray="3.5,2.5"/>
<path d="M177.5,882.0 Q175.7,870.5 170.3,861.0 L177.5,866.9 L184.7,861.0 Q179.3,870.5 177.5,882.0 Z" fill="#222"/>
<path d="M293.7,742 L292,800 L285,860" fill="none" stroke="#222" stroke-width="1.8" stroke-dasharray="3.5,2.5"/>
<path d="M283.8,876.5 Q282.6,864.9 277.7,855.2 L284.6,861.4 L292.0,855.9 Q286.2,865.1 283.8,876.5 Z" fill="#222"/>
<rect x="167.8" y="769" width="7.2" height="17.5" rx="3.6" fill="#6c8ee4"/>
<rect x="172.4" y="831" width="7.2" height="17.399999999999977" rx="3.6" fill="#6c8ee4"/>
<rect x="290.09999999999997" y="767.4" width="7.2" height="17.5" rx="3.6" fill="#6c8ee4"/>
<rect x="283.2" y="831" width="7.2" height="17.399999999999977" rx="3.6" fill="#6c8ee4"/>
<rect x="226.6" y="826" width="7.2" height="19" rx="3.6" fill="#c87fa6"/>
<path d="M211.9,882 C210,850 207,832 206,822" fill="none" stroke="#4cc4dc" stroke-width="1.7"/>
<path d="M205.5,816.5 Q206.8,820.8 209.9,824.2 L206.0,822.2 L202.4,824.8 Q204.9,821.0 205.5,816.5 Z" fill="#4cc4dc"/>
<path d="M269,880 L245,864 Q233,856 229.8,849.7" fill="none" stroke="#1f7a2a" stroke-width="1.7" stroke-dasharray="3,2"/>
<path d="M238.8,814.8 Q236.3,819.8 236.2,825.3 L234.5,820.6 L229.4,820.3 Q234.7,818.6 238.8,814.8 Z" fill="#1f7a2a"/>
<path d="M177.8,909 C180,930 192,934 198,934 C210,934 221,925 222,913" fill="none" stroke="#222" stroke-width="1.8" stroke-dasharray="3.5,2.5"/>
<path d="M222.2,905.5 Q223.1,909.9 225.8,913.5 L222.2,911.3 L218.6,913.5 Q221.3,909.9 222.2,905.5 Z" fill="#222"/>
<text x="173.6" y="703.8" font-family='"Liberation Sans", sans-serif' font-size="12" fill="#333" text-anchor="start" textLength="51.8" lengthAdjust="spacingAndGlyphs" >Cysteine</text>
<text x="277.2" y="711.8" font-family='"Liberation Sans",sans-serif' font-size="12" fill="#333">Cd<tspan font-size="8" dy="-5">2+</tspan></text>
<text x="195.2" y="788" font-family='"Liberation Sans", sans-serif' font-size="12.5" fill="#222" text-anchor="start" textLength="49.3" lengthAdjust="spacingAndGlyphs" >Clusters</text>
<text x="176.2" y="813.5" font-family='"Liberation Sans",sans-serif' font-size="12" fill="#222">H<tspan font-size="8" dy="2">2</tspan><tspan dy="-2">S + Cd</tspan><tspan font-size="8" dy="-5">2+</tspan><tspan dy="5"> </tspan></text>
<line x1="250" y1="809.5" x2="264" y2="809.5" stroke="#222" stroke-width="1"/><path d="M267,809.5 L262,807.5 L262,811.5 Z" fill="#222"/>
<text x="267.5" y="813.5" font-family='"Liberation Sans", sans-serif' font-size="12" fill="#222" text-anchor="start" textLength="21.5" lengthAdjust="spacingAndGlyphs" >CdS</text>
<text x="343" y="802.3" font-family='"Liberation Sans", sans-serif' font-size="12" fill="#222" text-anchor="start" textLength="20.7" lengthAdjust="spacingAndGlyphs" >OM</text>
<text x="309" y="835.7" font-family='"Liberation Sans", sans-serif' font-size="12" fill="#222" text-anchor="start" textLength="59.4" lengthAdjust="spacingAndGlyphs" >Periplasm</text>
<text x="347.8" y="859.5" font-family='"Liberation Sans", sans-serif' font-size="12" fill="#222" text-anchor="start" textLength="14.2" lengthAdjust="spacingAndGlyphs" >IM</text>
<text x="237.2" y="856.4" font-family='"Liberation Sans", sans-serif' font-size="12.5" fill="#1f6a2a" text-anchor="start" textLength="33.3" lengthAdjust="spacingAndGlyphs" >Efflux</text>
<text x="236.5" y="915" font-family='"Liberation Sans",sans-serif' font-size="12" fill="#333">H<tspan font-size="8" dy="2">2</tspan><tspan dy="-2">S</tspan></text>
<text x="160.9" y="951.7" font-family='"Liberation Sans", sans-serif' font-size="12.5" fill="#e0308f" text-anchor="start" textLength="87.7" lengthAdjust="spacingAndGlyphs" >Desulfhydrase</text>
<text x="303.3" y="959" font-family='"Liberation Sans", sans-serif' font-size="12" fill="#222" text-anchor="start" textLength="62.9" lengthAdjust="spacingAndGlyphs" >Cytoplasm</text>
<defs>
<linearGradient id="cc" x1="0" y1="0" x2="0" y2="1">
 <stop offset="0" stop-color="#3b4fae"/><stop offset="0.5" stop-color="#2c3c98"/><stop offset="1" stop-color="#1c2876"/>
</linearGradient>
<linearGradient id="pinkc" x1="0" y1="0" x2="0" y2="1">
 <stop offset="0" stop-color="#e8667a"/><stop offset="0.45" stop-color="#f28492"/><stop offset="1" stop-color="#e25e74"/>
</linearGradient>
<linearGradient id="pinkc2" x1="0" y1="0" x2="0" y2="1">
 <stop offset="0" stop-color="#e8506e"/><stop offset="0.45" stop-color="#f27890"/><stop offset="1" stop-color="#d63a5c"/>
</linearGradient>
<marker id="rArr" viewBox="0 0 10 10" refX="9" refY="5" markerWidth="5" markerHeight="5" orient="auto"><path d="M0,0 L10,5 L0,10" fill="none" stroke="#e0202a" stroke-width="2"/></marker>
<marker id="wArr" viewBox="0 0 10 10" refX="9" refY="5" markerWidth="5" markerHeight="5" orient="auto"><path d="M0,0 L10,5 L0,10" fill="none" stroke="#fff" stroke-width="2"/></marker>
</defs>
<g transform="translate(524.4,853.8) rotate(-52)"><rect x="-33.5" y="-10.0" width="67" height="20" rx="10.0" fill="#172650"/><rect x="-31.2" y="-7.7" width="62.4" height="15.4" rx="7.7" fill="#2e4683"/><rect x="-29.0" y="-5.5" width="58" height="11" rx="5.5" fill="url(#pinkc)"/></g>
<g transform="translate(607.5,839.5) rotate(2)"><rect x="-34.0" y="-11.5" width="68" height="23" rx="11.5" fill="#172650"/><rect x="-31.7" y="-9.2" width="63.4" height="18.4" rx="9.2" fill="#2e4683"/><rect x="-29.5" y="-7.0" width="59" height="14" rx="7.0" fill="url(#pinkc)"/></g>
<g transform="translate(572,859.5) rotate(22)"><rect x="-34.5" y="-11.5" width="69" height="23" rx="11.5" fill="#172650"/><rect x="-32.2" y="-9.2" width="64.4" height="18.4" rx="9.2" fill="#2e4683"/><rect x="-30.0" y="-7.0" width="60" height="14" rx="7.0" fill="url(#pinkc)"/></g>
<g transform="translate(638,862) rotate(-15)"><rect x="-33.5" y="-11.5" width="67" height="23" rx="11.5" fill="#172650"/><rect x="-31.2" y="-9.2" width="62.4" height="18.4" rx="9.2" fill="#2e4683"/><rect x="-29.0" y="-7.0" width="58" height="14" rx="7.0" fill="url(#pinkc)"/></g>
<g transform="translate(529,889) rotate(-28)"><rect x="-31.5" y="-11.5" width="63" height="23" rx="11.5" fill="#172650"/><rect x="-29.2" y="-9.2" width="58.4" height="18.4" rx="9.2" fill="#2e4683"/><rect x="-27.0" y="-7.0" width="54" height="14" rx="7.0" fill="url(#pinkc)"/></g>
<g transform="translate(589,887.5) rotate(0)"><rect x="-32.5" y="-11.0" width="65" height="22" rx="11.0" fill="#172650"/><rect x="-30.2" y="-8.7" width="60.4" height="17.4" rx="8.7" fill="#2e4683"/><rect x="-28.0" y="-6.5" width="56" height="13" rx="6.5" fill="url(#pinkc)"/></g>
<g transform="translate(652,900) rotate(38)"><rect x="-34.5" y="-11.5" width="69" height="23" rx="11.5" fill="#172650"/><rect x="-32.2" y="-9.2" width="64.4" height="18.4" rx="9.2" fill="#2e4683"/><rect x="-30.0" y="-7.0" width="60" height="14" rx="7.0" fill="url(#pinkc)"/></g>
<g transform="translate(535,917) rotate(-15)"><rect x="-32.0" y="-11.5" width="64" height="23" rx="11.5" fill="#172650"/><rect x="-29.7" y="-9.2" width="59.4" height="18.4" rx="9.2" fill="#2e4683"/><rect x="-27.5" y="-7.0" width="55" height="14" rx="7.0" fill="url(#pinkc)"/></g>
<g transform="translate(599,911.5) rotate(-12)"><rect x="-33.5" y="-11.5" width="67" height="23" rx="11.5" fill="#172650"/><rect x="-31.2" y="-9.2" width="62.4" height="18.4" rx="9.2" fill="#2e4683"/><rect x="-29.0" y="-7.0" width="58" height="14" rx="7.0" fill="url(#pinkc)"/></g>
<g transform="translate(540.5,942.4) rotate(0)"><rect x="-33.0" y="-11.5" width="66" height="23" rx="11.5" fill="#172650"/><rect x="-30.7" y="-9.2" width="61.4" height="18.4" rx="9.2" fill="#2e4683"/><rect x="-28.5" y="-7.0" width="57" height="14" rx="7.0" fill="url(#pinkc)"/></g>
<g transform="translate(608.4,941.5) rotate(0)"><rect x="-33.0" y="-11.5" width="66" height="23" rx="11.5" fill="#172650"/><rect x="-30.7" y="-9.2" width="61.4" height="18.4" rx="9.2" fill="#2e4683"/><rect x="-28.5" y="-7.0" width="57" height="14" rx="7.0" fill="url(#pinkc)"/></g>
<g transform="translate(657.5,932) rotate(25)"><rect x="-32.5" y="-11.5" width="65" height="23" rx="11.5" fill="#172650"/><rect x="-30.2" y="-9.2" width="60.4" height="18.4" rx="9.2" fill="#2e4683"/><rect x="-28.0" y="-7.0" width="56" height="14" rx="7.0" fill="url(#pinkc)"/></g>
<rect x="491.9" y="954.7" width="207.9" height="32.1" fill="url(#cc)"/>
<rect x="863.7" y="954.5" width="208.9" height="31.5" fill="url(#cc)"/>
<text x="534.3" y="978.3" font-family='"Liberation Serif", serif' font-size="20" font-weight="bold" fill="#fff" text-anchor="start" textLength="122.7" lengthAdjust="spacingAndGlyphs" >Carbon cloth</text>
<text x="905.9" y="978.3" font-family='"Liberation Serif", serif' font-size="20" font-weight="bold" fill="#fff" text-anchor="start" textLength="123.5" lengthAdjust="spacingAndGlyphs" >Carbon cloth</text>
<line x1="592.8" y1="823.6" x2="571" y2="823.6" stroke="#e0202a" stroke-width="1.4" marker-end="url(#rArr)"/>
<line x1="618.3" y1="823.6" x2="639" y2="823.6" stroke="#e0202a" stroke-width="1.4" marker-end="url(#rArr)"/>
<line x1="518" y1="829" x2="499" y2="854" stroke="#e0202a" stroke-width="1.4" marker-end="url(#rArr)"/>
<line x1="649" y1="829" x2="649" y2="843" stroke="#e0202a" stroke-width="1.4" marker-end="url(#rArr)"/>
<line x1="673" y1="849" x2="673" y2="862" stroke="#e0202a" stroke-width="1.4" marker-end="url(#rArr)"/>
<line x1="650" y1="880" x2="668" y2="893" stroke="#e0202a" stroke-width="1.4" marker-end="url(#rArr)"/>
<line x1="689" y1="905" x2="689" y2="919" stroke="#e0202a" stroke-width="1.4" marker-end="url(#rArr)"/>
<line x1="691" y1="940" x2="691" y2="954" stroke="#e0202a" stroke-width="1.4" marker-end="url(#rArr)"/>
<line x1="493" y1="880" x2="497" y2="912" stroke="#e0202a" stroke-width="1.4" marker-end="url(#rArr)"/>
<line x1="505" y1="926" x2="515" y2="950" stroke="#e0202a" stroke-width="1.4" marker-end="url(#rArr)"/>
<path d="M542,820 C548,826 552,822 556,828 C560,834 556,836 560,842" fill="none" stroke="#e0202a" stroke-width="1.3" marker-end="url(#rArr)"/>
<line x1="538" y1="855" x2="518" y2="878" stroke="#ffffff" stroke-width="1.3" marker-end="url(#wArr)"/>
<line x1="556" y1="906" x2="512" y2="911" stroke="#ffffff" stroke-width="1.3" marker-end="url(#wArr)"/>
<line x1="582" y1="851" x2="596" y2="856" stroke="#ffffff" stroke-width="1.3" marker-end="url(#wArr)"/>
<line x1="558" y1="862" x2="568" y2="867" stroke="#ffffff" stroke-width="1.3" marker-end="url(#wArr)"/>
<line x1="634" y1="853" x2="620" y2="857" stroke="#ffffff" stroke-width="1.3" marker-end="url(#wArr)"/>
<line x1="622" y1="878" x2="604" y2="880" stroke="#ffffff" stroke-width="1.3" marker-end="url(#wArr)"/>
<line x1="624" y1="882" x2="642" y2="895" stroke="#ffffff" stroke-width="1.3" marker-end="url(#wArr)"/>
<line x1="565" y1="904" x2="581" y2="920" stroke="#ffffff" stroke-width="1.3" marker-end="url(#wArr)"/>
<line x1="555" y1="927" x2="525" y2="933" stroke="#ffffff" stroke-width="1.3" marker-end="url(#wArr)"/>
<line x1="617" y1="896" x2="620" y2="947" stroke="#ffffff" stroke-width="1.3" marker-end="url(#wArr)"/>
<line x1="583" y1="931" x2="585" y2="950" stroke="#ffffff" stroke-width="1.3" marker-end="url(#wArr)"/>
<line x1="665" y1="920" x2="680" y2="952" stroke="#ffffff" stroke-width="1.3" marker-end="url(#wArr)"/>
<line x1="632" y1="915" x2="633" y2="952" stroke="#ffffff" stroke-width="1.3" marker-end="url(#wArr)"/>
<text x="525.8" y="825.5" font-family='"Liberation Serif",serif' font-weight="bold" font-size="15" fill="#111">e<tspan font-size="9.0" dy="-6.8">-</tspan></text>
<text x="601.3" y="825.5" font-family='"Liberation Serif",serif' font-weight="bold" font-size="15" fill="#111">e<tspan font-size="9.0" dy="-6.8">-</tspan></text>
<text x="558" y="885" font-family='"Liberation Serif",serif' font-weight="bold" font-size="14" fill="#fff">e<tspan font-size="8.4" dy="-6.3">-</tspan></text>
<text x="615" y="898" font-family='"Liberation Serif",serif' font-weight="bold" font-size="14" fill="#fff">e<tspan font-size="8.4" dy="-6.3">-</tspan></text>
<text x="557" y="920" font-family='"Liberation Serif",serif' font-weight="bold" font-size="14" fill="#fff">e<tspan font-size="8.4" dy="-6.3">-</tspan></text>
<ellipse cx="583.2" cy="784" rx="21" ry="18" fill="none" stroke="#2ca84a" stroke-width="4"/>
<path d="M712.7,758.9 L839.7,758.9 Q851.7,758.9 851.7,770.9 L851.7,933.6 Q851.7,945.6 839.7,945.6 L712.7,945.6 Q700.7,945.6 700.7,933.6 L700.7,837.4 L665,847.3 L700.7,782.8 L700.7,770.9 Q700.7,758.9 712.7,758.9 Z" fill="#fff" stroke="#555" stroke-width="1.2"/>
<rect x="742.4" y="803.6" width="47.6" height="119.2" rx="23.8" fill="#1e2e5e"/>
<rect x="755.3" y="815.5" width="20.9" height="105.3" rx="10" fill="url(#pinkc)"/>
<polygon points="773.8,813.6 770.4,814.7 772.8,817.4 769.3,816.6 770.0,820.1 767.4,817.7 766.3,821.1 765.2,817.7 762.5,820.1 763.3,816.6 759.8,817.4 762.2,814.7 758.8,813.6 762.2,812.5 759.8,809.9 763.3,810.6 762.5,807.1 765.2,809.5 766.3,806.1 767.4,809.5 770.0,807.1 769.3,810.6 772.8,809.9 770.4,812.5" fill="#d8a020"/>
<polygon points="760.8,875.0 757.4,876.1 759.8,878.8 756.3,878.0 757.0,881.5 754.4,879.1 753.3,882.5 752.2,879.1 749.5,881.5 750.3,878.0 746.8,878.8 749.2,876.1 745.8,875.0 749.2,873.9 746.8,871.2 750.3,872.0 749.5,868.5 752.2,870.9 753.3,867.5 754.4,870.9 757.0,868.5 756.3,872.0 759.8,871.2 757.4,873.9" fill="#d8a020"/>
<polygon points="786.7,875.0 783.3,876.1 785.7,878.8 782.2,878.0 783.0,881.5 780.3,879.1 779.2,882.5 778.1,879.1 775.5,881.5 776.2,878.0 772.7,878.8 775.1,876.1 771.7,875.0 775.1,873.9 772.7,871.2 776.2,872.0 775.5,868.5 778.1,870.9 779.2,867.5 780.3,870.9 783.0,868.5 782.2,872.0 785.7,871.2 783.3,873.9" fill="#d8a020"/>
<polygon points="773.8,914.8 770.4,915.9 772.8,918.5 769.3,917.8 770.0,921.3 767.4,918.9 766.3,922.3 765.2,918.9 762.5,921.3 763.3,917.8 759.8,918.5 762.2,915.9 758.8,914.8 762.2,913.7 759.8,911.0 763.3,911.8 762.5,908.3 765.2,910.7 766.3,907.3 767.4,910.7 770.0,908.3 769.3,911.8 772.8,911.0 770.4,913.7" fill="#d8a020"/>
<path d="M741,797.5 C744,822 756,833 767,833 C779,833 787,822 789,808" fill="none" stroke="#7a3a9c" stroke-width="6"/>
<path d="M782,809 L790,797 L798.5,810 Z" fill="#7a3a9c"/>
<line x1="767.2" y1="809.6" x2="767.2" y2="786.7" stroke="#e0202a" stroke-width="1.5" marker-end="url(#rArr)"/>
<line x1="767.2" y1="920.8" x2="767.2" y2="945" stroke="#e0202a" stroke-width="1.5" marker-end="url(#rArr)"/>
<line x1="751.4" y1="887" x2="732" y2="901" stroke="#e0202a" stroke-width="1.5" marker-end="url(#rArr)"/>
<line x1="783.1" y1="885" x2="800" y2="898" stroke="#e0202a" stroke-width="1.5" marker-end="url(#rArr)"/>
<line x1="766.5" y1="862" x2="766.5" y2="906" stroke="#3a3aa0" stroke-width="1.5"/><path d="M766.5,858 L762.5,866 L770.5,866 Z M766.5,910 L762.5,902 L770.5,902 Z" fill="#3a3aa0"/>
<path d="M766.5,858 L759,870 M766.5,858 L774,870 M767,826 L767,838" stroke="#3a3aa0" stroke-width="1.3" fill="none"/>
<text x="745.4" y="851.3" font-family='"Liberation Serif",serif' font-weight="bold" font-size="14" fill="#fff">e<tspan font-size="8.4" dy="-6.3">-</tspan></text>
<text x="764.3" y="847.3" font-family='"Liberation Serif",serif' font-weight="bold" font-size="14" fill="#fff">e<tspan font-size="8.4" dy="-6.3">-</tspan></text>
<text x="745" y="908" font-family='"Liberation Serif",serif' font-weight="bold" font-size="14" fill="#fff">e<tspan font-size="8.4" dy="-6.3">-</tspan></text>
<text x="777" y="903" font-family='"Liberation Serif",serif' font-weight="bold" font-size="14" fill="#fff">e<tspan font-size="8.4" dy="-6.3">-</tspan></text>
<text x="702.3" y="791.7" font-family='"Liberation Serif", serif' font-size="14" font-weight="bold" fill="#222" text-anchor="start" textLength="47.1" lengthAdjust="spacingAndGlyphs" >Lactate</text>
<text x="771.2" y="791.7" font-family='"Liberation Serif",serif' font-weight="bold" font-size="14" fill="#222">CH<tspan font-size="9" dy="3">3</tspan><tspan dy="-3">COOH</tspan></text>
<text x="808" y="811.6" font-family='"Liberation Serif",serif' font-weight="bold" font-size="14" fill="#222">+ CO<tspan font-size="9" dy="3">2</tspan></text>
<g transform="translate(896,852) rotate(-50)"><rect x="-34.5" y="-11.75" width="69" height="23.5" rx="11.75" fill="#d0325a"/><rect x="-32.5" y="-9.75" width="65" height="19.5" rx="9.75" fill="url(#pinkc2)"/></g>
<g transform="translate(982.4,840) rotate(2)"><rect x="-34.0" y="-12.75" width="68" height="25.5" rx="12.75" fill="#d0325a"/><rect x="-32.0" y="-10.75" width="64" height="21.5" rx="10.75" fill="url(#pinkc2)"/></g>
<g transform="translate(946.7,862) rotate(18)"><rect x="-34.0" y="-12.25" width="68" height="24.5" rx="12.25" fill="#d0325a"/><rect x="-32.0" y="-10.25" width="64" height="20.5" rx="10.25" fill="url(#pinkc2)"/></g>
<g transform="translate(1015,862) rotate(-18)"><rect x="-33.5" y="-12.25" width="67" height="24.5" rx="12.25" fill="#d0325a"/><rect x="-31.5" y="-10.25" width="63" height="20.5" rx="10.25" fill="url(#pinkc2)"/></g>
<g transform="translate(900,886) rotate(-25)"><rect x="-32.5" y="-12.25" width="65" height="24.5" rx="12.25" fill="#d0325a"/><rect x="-30.5" y="-10.25" width="61" height="20.5" rx="10.25" fill="url(#pinkc2)"/></g>
<g transform="translate(959,888) rotate(0)"><rect x="-34.5" y="-12.25" width="69" height="24.5" rx="12.25" fill="#d0325a"/><rect x="-32.5" y="-10.25" width="65" height="20.5" rx="10.25" fill="url(#pinkc2)"/></g>
<g transform="translate(1021.5,901) rotate(38)"><rect x="-33.5" y="-12.25" width="67" height="24.5" rx="12.25" fill="#d0325a"/><rect x="-31.5" y="-10.25" width="63" height="20.5" rx="10.25" fill="url(#pinkc2)"/></g>
<g transform="translate(907,914) rotate(-20)"><rect x="-32.0" y="-12.25" width="64" height="24.5" rx="12.25" fill="#d0325a"/><rect x="-30.0" y="-10.25" width="60" height="20.5" rx="10.25" fill="url(#pinkc2)"/></g>
<g transform="translate(971,911) rotate(-18)"><rect x="-33.5" y="-12.25" width="67" height="24.5" rx="12.25" fill="#d0325a"/><rect x="-31.5" y="-10.25" width="63" height="20.5" rx="10.25" fill="url(#pinkc2)"/></g>
<g transform="translate(912.6,942.7) rotate(0)"><rect x="-32.0" y="-12.25" width="64" height="24.5" rx="12.25" fill="#d0325a"/><rect x="-30.0" y="-10.25" width="60" height="20.5" rx="10.25" fill="url(#pinkc2)"/></g>
<g transform="translate(976.8,941.6) rotate(0)"><rect x="-33.0" y="-12.25" width="66" height="24.5" rx="12.25" fill="#d0325a"/><rect x="-31.0" y="-10.25" width="62" height="20.5" rx="10.25" fill="url(#pinkc2)"/></g>
<g transform="translate(1029,932) rotate(30)"><rect x="-33.5" y="-12.25" width="67" height="24.5" rx="12.25" fill="#d0325a"/><rect x="-31.5" y="-10.25" width="63" height="20.5" rx="10.25" fill="url(#pinkc2)"/></g>
<path d="M888,835 C860,850 852,920 876,948" fill="none" stroke="#6e6e6e" stroke-width="5.5"/><path d="M870,944 L884,957 L886,940 Z" fill="#6e6e6e"/>
<path d="M1052,838 C1084,846 1092,918 1064,949" fill="none" stroke="#6e6e6e" stroke-width="5.5"/><path d="M1056,943 L1059,958 L1070,947 Z" fill="#6e6e6e"/>
<rect x="985" y="836" width="6.2" height="110" fill="#6e6e6e"/><path d="M981.5,944 L994.5,944 L988,955 Z" fill="#6e6e6e"/>
<text x="888" y="834" font-family='"Liberation Serif",serif' font-weight="bold" font-size="15" fill="#111">e<tspan font-size="9.0" dy="-6.8">-</tspan></text>
<text x="979.4" y="826" font-family='"Liberation Serif",serif' font-weight="bold" font-size="15" fill="#111">e<tspan font-size="9.0" dy="-6.8">-</tspan></text>
<text x="1037" y="845.6" font-family='"Liberation Serif",serif' font-weight="bold" font-size="15" fill="#111">e<tspan font-size="9.0" dy="-6.8">-</tspan></text>
<path d="M943,767 L975,803 M975,767 L943,803" stroke="#e8202a" stroke-width="7.5"/>
<g transform="translate(1119.2,859.5) rotate(0)"><rect x="-25.0" y="-9.5" width="50" height="19" rx="9.5" fill="#d0325a"/><rect x="-23.0" y="-7.5" width="46" height="15" rx="7.5" fill="url(#pinkc2)"/></g>
<rect x="1097" y="887.8" width="47" height="15.6" rx="7.8" fill="#fff" stroke="#1c2d5e" stroke-width="3.6"/>
<polygon points="1141.5,929.5 1134.3,930.8 1140.0,934.4 1132.8,933.2 1135.9,938.3 1130.0,934.9 1129.8,940.5 1126.5,935.5 1123.2,940.5 1123.0,934.9 1117.1,938.3 1120.2,933.2 1113.0,934.4 1118.7,930.8 1111.5,929.5 1118.7,928.2 1113.0,924.6 1120.2,925.8 1117.1,920.7 1123.0,924.1 1123.2,918.5 1126.5,923.5 1129.8,918.5 1130.0,924.1 1135.9,920.7 1132.8,925.8 1140.0,924.6 1134.3,928.2" fill="#d8a020"/>
<text x="1152.7" y="867" font-family='"Liberation Serif", serif' font-size="17" fill="#3a3a3a" text-anchor="start" textLength="99.3" lengthAdjust="spacingAndGlyphs" >Bacterial  cells</text>
<text x="1152.7" y="902.3" font-family='"Liberation Serif", serif' font-size="17" fill="#3a3a3a" text-anchor="start" textLength="89.6" lengthAdjust="spacingAndGlyphs" >PPy  coatings</text>
<text x="1152.7" y="931.2" font-family='"Liberation Serif", serif' font-size="17" fill="#3a3a3a" text-anchor="start" textLength="46" lengthAdjust="spacingAndGlyphs" >C-type</text>
<text x="1152.7" y="950.5" font-family='"Liberation Serif", serif' font-size="17" fill="#3a3a3a" text-anchor="start" textLength="80.6" lengthAdjust="spacingAndGlyphs" >cytochrome</text>
</svg>
</body></html>
